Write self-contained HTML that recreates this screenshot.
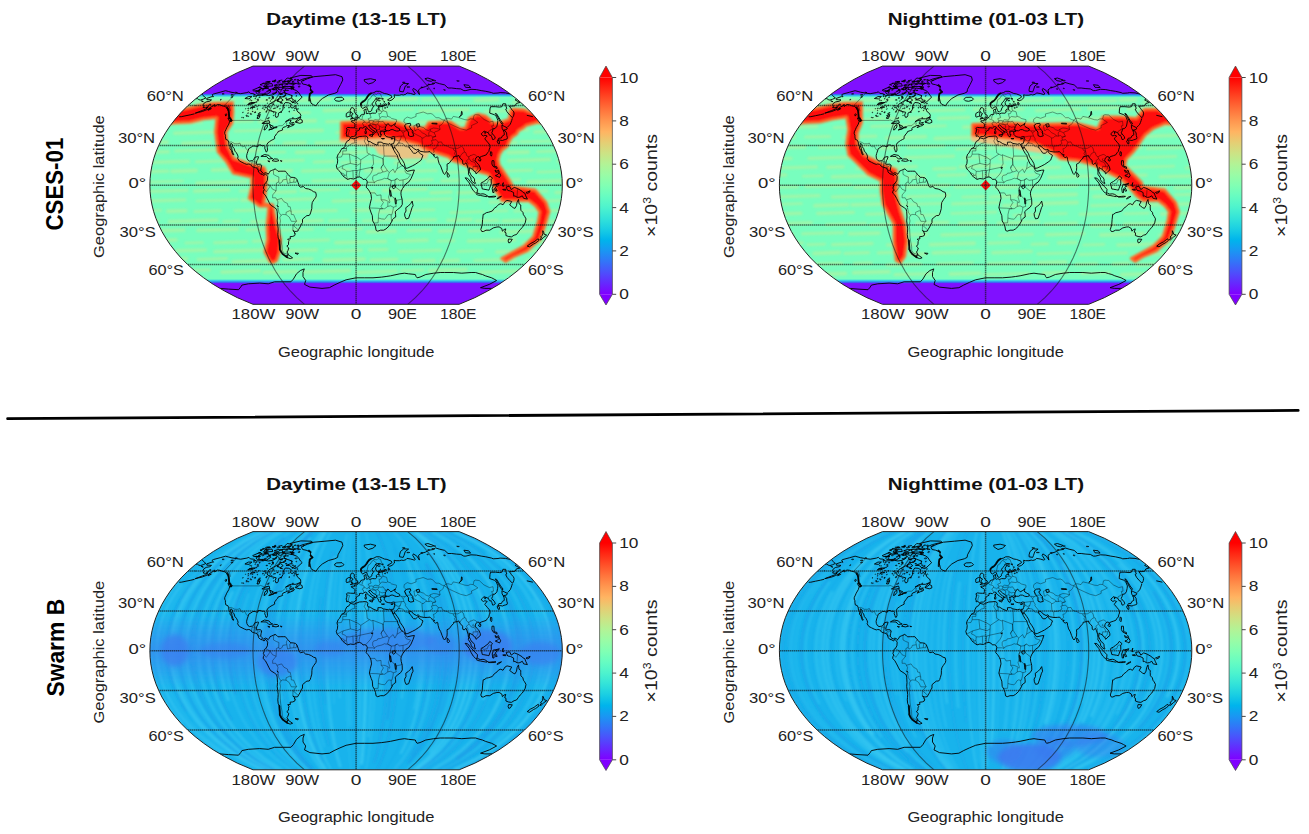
<!DOCTYPE html>
<html><head><meta charset="utf-8"><style>
html,body{margin:0;padding:0;background:#fff;overflow:hidden;width:1309px;height:834px;}
svg{display:block;font-family:"Liberation Sans", sans-serif;}
</style></head><body>
<svg width="1309" height="834" viewBox="0 0 1309 834">
<defs><filter id="bl3" x="-10%" y="-10%" width="120%" height="120%"><feGaussianBlur stdDeviation="2.5"/></filter><filter id="bl15" x="-10%" y="-10%" width="120%" height="120%"><feGaussianBlur stdDeviation="1.3"/></filter><filter id="bl2"><feGaussianBlur stdDeviation="1.5"/></filter><filter id="bl1" x="-5%" y="-5%" width="110%" height="110%"><feGaussianBlur stdDeviation="0.9"/></filter><linearGradient id="capg" gradientUnits="userSpaceOnUse" x1="0" y1="60" x2="0" y2="315"><stop offset="0.0000" stop-color="#8010ff"/><stop offset="0.1306" stop-color="#8010ff"/><stop offset="0.1357" stop-color="#2e7cf0"/><stop offset="0.1412" stop-color="#3cd4e6"/><stop offset="0.1467" stop-color="#78febe"/><stop offset="0.8588" stop-color="#78febe"/><stop offset="0.8643" stop-color="#3cd4e6"/><stop offset="0.8714" stop-color="#2e7cf0"/><stop offset="0.8769" stop-color="#8010ff"/><stop offset="1.0000" stop-color="#8010ff"/></linearGradient><linearGradient id="eqband" x1="0" y1="0" x2="0" y2="1"><stop offset="0" stop-color="#3a86f0" stop-opacity="0"/><stop offset="0.3" stop-color="#3a86f0" stop-opacity="0.45"/><stop offset="0.5" stop-color="#3a86f0" stop-opacity="0.7"/><stop offset="0.7" stop-color="#3a86f0" stop-opacity="0.45"/><stop offset="1" stop-color="#3a86f0" stop-opacity="0"/></linearGradient></defs>
<g transform="translate(0 0)">
<text x="356.4" y="24.7" font-size="16.6" text-anchor="middle" textLength="180.3" lengthAdjust="spacingAndGlyphs" font-weight="bold" fill="#111">Daytime (13-15 LT)</text>
<text x="253.4" y="61.4" font-size="14.2" text-anchor="middle" textLength="43.7" lengthAdjust="spacingAndGlyphs" fill="#222">180W</text>
<text x="253.4" y="319" font-size="14.2" text-anchor="middle" textLength="43.7" lengthAdjust="spacingAndGlyphs" fill="#222">180W</text>
<text x="302.2" y="61.4" font-size="14.2" text-anchor="middle" textLength="34" lengthAdjust="spacingAndGlyphs" fill="#222">90W</text>
<text x="302.2" y="319" font-size="14.2" text-anchor="middle" textLength="34" lengthAdjust="spacingAndGlyphs" fill="#222">90W</text>
<text x="356" y="61.4" font-size="14.2" text-anchor="middle" textLength="10.6" lengthAdjust="spacingAndGlyphs" fill="#222">0</text>
<text x="356" y="319" font-size="14.2" text-anchor="middle" textLength="10.6" lengthAdjust="spacingAndGlyphs" fill="#222">0</text>
<text x="402.4" y="61.4" font-size="14.2" text-anchor="middle" textLength="29" lengthAdjust="spacingAndGlyphs" fill="#222">90E</text>
<text x="402.4" y="319" font-size="14.2" text-anchor="middle" textLength="29" lengthAdjust="spacingAndGlyphs" fill="#222">90E</text>
<text x="458.3" y="61.4" font-size="14.2" text-anchor="middle" textLength="36.4" lengthAdjust="spacingAndGlyphs" fill="#222">180E</text>
<text x="458.3" y="319" font-size="14.2" text-anchor="middle" textLength="36.4" lengthAdjust="spacingAndGlyphs" fill="#222">180E</text>
<text x="146.7" y="101" font-size="14.2" textLength="37.2" lengthAdjust="spacingAndGlyphs" fill="#222">60°N</text>
<text x="528" y="101" font-size="14.2" textLength="37.2" lengthAdjust="spacingAndGlyphs" fill="#222">60°N</text>
<text x="117.9" y="142.6" font-size="14.2" textLength="37.2" lengthAdjust="spacingAndGlyphs" fill="#222">30°N</text>
<text x="557.5" y="142.6" font-size="14.2" textLength="37.2" lengthAdjust="spacingAndGlyphs" fill="#222">30°N</text>
<text x="128.5" y="188" font-size="14.2" textLength="17.7" lengthAdjust="spacingAndGlyphs" fill="#222">0°</text>
<text x="565.7" y="188" font-size="14.2" textLength="17.7" lengthAdjust="spacingAndGlyphs" fill="#222">0°</text>
<text x="119.6" y="237" font-size="14.2" textLength="36.2" lengthAdjust="spacingAndGlyphs" fill="#222">30°S</text>
<text x="557.5" y="237" font-size="14.2" textLength="36.2" lengthAdjust="spacingAndGlyphs" fill="#222">30°S</text>
<text x="148.4" y="275.3" font-size="14.2" textLength="35.5" lengthAdjust="spacingAndGlyphs" fill="#222">60°S</text>
<text x="528" y="275.3" font-size="14.2" textLength="35.5" lengthAdjust="spacingAndGlyphs" fill="#222">60°S</text>
<text x="104.3" y="186.6" font-size="13.8" text-anchor="middle" textLength="142.7" lengthAdjust="spacingAndGlyphs" transform="rotate(-90 104.3 186.6)" fill="#222">Geographic latitude</text>
<text x="356.2" y="356.8" font-size="13.8" text-anchor="middle" textLength="156.4" lengthAdjust="spacingAndGlyphs" fill="#222">Geographic longitude</text>
<clipPath id="c1"><path d="M253 304.3 L237.4 297.7 L224.5 291 L213.3 284.4 L203.7 277.8 L195.2 271.2 L187.7 264.6 L181.1 258 L175.3 251.3 L170.2 244.7 L165.8 238.1 L161.9 231.5 L158.7 224.9 L155.9 218.3 L153.7 211.7 L152 205 L150.8 198.4 L150.1 191.8 L149.9 185.2 L150.1 178.6 L150.8 172 L152 165.4 L153.7 158.7 L155.9 152.1 L158.7 145.5 L161.9 138.9 L165.8 132.3 L170.2 125.7 L175.3 119.1 L181.1 112.4 L187.7 105.8 L195.2 99.2 L203.7 92.6 L213.3 86 L224.5 79.4 L237.4 72.7 L253 66.1 L459.2 66.1 L474.8 72.7 L487.7 79.4 L498.9 86 L508.5 92.6 L517 99.2 L524.5 105.8 L531.1 112.4 L536.9 119.1 L542 125.7 L546.4 132.3 L550.3 138.9 L553.5 145.5 L556.3 152.1 L558.5 158.7 L560.2 165.4 L561.4 172 L562.1 178.6 L562.3 185.2 L562.1 191.8 L561.4 198.4 L560.2 205 L558.5 211.7 L556.3 218.3 L553.5 224.9 L550.3 231.5 L546.4 238.1 L542 244.7 L536.9 251.3 L531.1 258 L524.5 264.6 L517 271.2 L508.5 277.8 L498.9 284.4 L487.7 291 L474.8 297.7 L459.2 304.3Z"/></clipPath>
<g clip-path="url(#c1)">
<rect x="140" y="60" width="440" height="255" fill="url(#capg)"/>
<g filter="url(#bl15)" opacity="0.6">
<path d="M140.0 101.6 L176.8 100.5" stroke="#b8f29c" stroke-width="3.7" stroke-linecap="round"/>
<path d="M194.0 102.0 L234.9 100.8" stroke="#b8f29c" stroke-width="2.5" stroke-linecap="round"/>
<path d="M245.4 101.4 L293.4 99.9" stroke="#b8f29c" stroke-width="3.9" stroke-linecap="round"/>
<path d="M299.0 100.4 L330.4 99.4" stroke="#b8f29c" stroke-width="3.3" stroke-linecap="round"/>
<path d="M342.5 100.3 L357.9 99.9" stroke="#b8f29c" stroke-width="2.9" stroke-linecap="round"/>
<path d="M374.8 100.2 L416.6 98.9" stroke="#b8f29c" stroke-width="3.7" stroke-linecap="round"/>
<path d="M422.5 100.1 L459.1 99.0" stroke="#b8f29c" stroke-width="2.5" stroke-linecap="round"/>
<path d="M475.3 100.3 L497.6 99.6" stroke="#b8f29c" stroke-width="4.0" stroke-linecap="round"/>
<path d="M513.9 102.1 L539.0 101.4" stroke="#b8f29c" stroke-width="3.3" stroke-linecap="round"/>
<path d="M552.5 102.1 L574.6 101.4" stroke="#b8f29c" stroke-width="3.5" stroke-linecap="round"/>
<path d="M140.0 111.4 L165.5 110.6" stroke="#b8f29c" stroke-width="2.7" stroke-linecap="round"/>
<path d="M171.5 111.3 L188.8 110.7" stroke="#b8f29c" stroke-width="3.4" stroke-linecap="round"/>
<path d="M192.8 111.3 L231.6 110.2" stroke="#b8f29c" stroke-width="3.0" stroke-linecap="round"/>
<path d="M247.0 111.3 L278.8 110.3" stroke="#b8f29c" stroke-width="3.2" stroke-linecap="round"/>
<path d="M292.7 112.9 L309.7 112.4" stroke="#b8f29c" stroke-width="2.5" stroke-linecap="round"/>
<path d="M324.2 110.6 L368.8 109.2" stroke="#b8f29c" stroke-width="3.7" stroke-linecap="round"/>
<path d="M377.9 110.6 L413.1 109.5" stroke="#b8f29c" stroke-width="2.6" stroke-linecap="round"/>
<path d="M419.7 111.0 L468.1 109.6" stroke="#b8f29c" stroke-width="3.6" stroke-linecap="round"/>
<path d="M485.1 111.4 L533.1 109.9" stroke="#b8f29c" stroke-width="3.0" stroke-linecap="round"/>
<path d="M544.4 110.8 L586.6 109.5" stroke="#b8f29c" stroke-width="3.6" stroke-linecap="round"/>
<path d="M140.0 123.5 L156.3 123.0" stroke="#b8f29c" stroke-width="2.6" stroke-linecap="round"/>
<path d="M165.1 123.4 L201.4 122.3" stroke="#b8f29c" stroke-width="3.0" stroke-linecap="round"/>
<path d="M218.4 121.9 L252.5 120.9" stroke="#b8f29c" stroke-width="3.0" stroke-linecap="round"/>
<path d="M258.9 121.5 L276.7 121.0" stroke="#b8f29c" stroke-width="3.5" stroke-linecap="round"/>
<path d="M294.6 121.3 L315.3 120.7" stroke="#b8f29c" stroke-width="4.0" stroke-linecap="round"/>
<path d="M326.7 121.8 L356.0 120.9" stroke="#b8f29c" stroke-width="3.4" stroke-linecap="round"/>
<path d="M371.5 122.2 L402.5 121.3" stroke="#b8f29c" stroke-width="2.6" stroke-linecap="round"/>
<path d="M419.3 122.4 L435.4 121.9" stroke="#b8f29c" stroke-width="3.8" stroke-linecap="round"/>
<path d="M441.3 123.5 L481.9 122.2" stroke="#b8f29c" stroke-width="3.4" stroke-linecap="round"/>
<path d="M496.9 122.2 L515.6 121.7" stroke="#b8f29c" stroke-width="2.7" stroke-linecap="round"/>
<path d="M531.5 122.3 L556.8 121.5" stroke="#b8f29c" stroke-width="4.0" stroke-linecap="round"/>
<path d="M572.7 122.3 L621.9 120.8" stroke="#b8f29c" stroke-width="3.2" stroke-linecap="round"/>
<path d="M140.0 131.9 L165.2 131.1" stroke="#b8f29c" stroke-width="2.7" stroke-linecap="round"/>
<path d="M174.5 133.2 L224.1 131.7" stroke="#b8f29c" stroke-width="3.4" stroke-linecap="round"/>
<path d="M235.0 131.1 L261.9 130.3" stroke="#b8f29c" stroke-width="2.9" stroke-linecap="round"/>
<path d="M276.8 131.7 L322.2 130.4" stroke="#b8f29c" stroke-width="3.7" stroke-linecap="round"/>
<path d="M337.1 132.5 L376.4 131.3" stroke="#b8f29c" stroke-width="3.6" stroke-linecap="round"/>
<path d="M385.4 131.6 L425.1 130.4" stroke="#b8f29c" stroke-width="3.2" stroke-linecap="round"/>
<path d="M439.9 131.6 L479.1 130.4" stroke="#b8f29c" stroke-width="3.9" stroke-linecap="round"/>
<path d="M492.2 130.9 L527.5 129.8" stroke="#b8f29c" stroke-width="3.3" stroke-linecap="round"/>
<path d="M535.0 132.0 L573.5 130.8" stroke="#b8f29c" stroke-width="3.7" stroke-linecap="round"/>
<path d="M140.0 142.9 L167.2 142.1" stroke="#b8f29c" stroke-width="3.6" stroke-linecap="round"/>
<path d="M182.8 143.4 L210.0 142.6" stroke="#b8f29c" stroke-width="3.8" stroke-linecap="round"/>
<path d="M223.7 143.7 L272.8 142.2" stroke="#b8f29c" stroke-width="3.3" stroke-linecap="round"/>
<path d="M284.2 143.4 L305.0 142.8" stroke="#b8f29c" stroke-width="3.9" stroke-linecap="round"/>
<path d="M315.7 143.1 L354.9 141.9" stroke="#b8f29c" stroke-width="3.6" stroke-linecap="round"/>
<path d="M361.3 142.8 L403.6 141.5" stroke="#b8f29c" stroke-width="3.5" stroke-linecap="round"/>
<path d="M413.5 143.2 L450.4 142.1" stroke="#b8f29c" stroke-width="3.5" stroke-linecap="round"/>
<path d="M464.5 141.8 L480.4 141.3" stroke="#b8f29c" stroke-width="3.2" stroke-linecap="round"/>
<path d="M493.5 143.0 L516.2 142.3" stroke="#b8f29c" stroke-width="3.4" stroke-linecap="round"/>
<path d="M520.8 141.9 L552.3 141.0" stroke="#b8f29c" stroke-width="2.6" stroke-linecap="round"/>
<path d="M558.2 141.8 L584.3 141.0" stroke="#b8f29c" stroke-width="2.8" stroke-linecap="round"/>
<path d="M140.0 152.5 L168.3 151.7" stroke="#b8f29c" stroke-width="3.4" stroke-linecap="round"/>
<path d="M175.6 151.0 L222.3 149.6" stroke="#b8f29c" stroke-width="3.1" stroke-linecap="round"/>
<path d="M230.2 151.3 L259.5 150.4" stroke="#b8f29c" stroke-width="3.7" stroke-linecap="round"/>
<path d="M268.7 152.5 L285.0 152.0" stroke="#b8f29c" stroke-width="2.6" stroke-linecap="round"/>
<path d="M296.6 152.4 L323.5 151.6" stroke="#b8f29c" stroke-width="3.9" stroke-linecap="round"/>
<path d="M339.0 153.0 L368.6 152.1" stroke="#b8f29c" stroke-width="3.5" stroke-linecap="round"/>
<path d="M377.8 152.5 L397.8 151.9" stroke="#b8f29c" stroke-width="3.3" stroke-linecap="round"/>
<path d="M415.2 152.5 L464.1 151.0" stroke="#b8f29c" stroke-width="3.0" stroke-linecap="round"/>
<path d="M480.6 151.3 L495.6 150.8" stroke="#b8f29c" stroke-width="3.3" stroke-linecap="round"/>
<path d="M508.2 152.5 L528.1 152.0" stroke="#b8f29c" stroke-width="3.8" stroke-linecap="round"/>
<path d="M537.4 151.6 L567.5 150.7" stroke="#b8f29c" stroke-width="2.9" stroke-linecap="round"/>
<path d="M140.0 162.7 L188.6 161.2" stroke="#b8f29c" stroke-width="3.4" stroke-linecap="round"/>
<path d="M196.3 161.7 L245.6 160.2" stroke="#b8f29c" stroke-width="3.1" stroke-linecap="round"/>
<path d="M254.1 161.7 L303.5 160.2" stroke="#b8f29c" stroke-width="2.9" stroke-linecap="round"/>
<path d="M314.2 162.0 L333.5 161.4" stroke="#b8f29c" stroke-width="3.2" stroke-linecap="round"/>
<path d="M341.6 162.5 L383.9 161.2" stroke="#b8f29c" stroke-width="2.5" stroke-linecap="round"/>
<path d="M395.4 162.7 L420.0 162.0" stroke="#b8f29c" stroke-width="3.7" stroke-linecap="round"/>
<path d="M427.4 160.9 L451.8 160.1" stroke="#b8f29c" stroke-width="4.0" stroke-linecap="round"/>
<path d="M459.9 161.6 L496.2 160.5" stroke="#b8f29c" stroke-width="3.5" stroke-linecap="round"/>
<path d="M508.6 160.8 L549.6 159.5" stroke="#b8f29c" stroke-width="3.6" stroke-linecap="round"/>
<path d="M557.9 161.3 L591.5 160.3" stroke="#b8f29c" stroke-width="2.9" stroke-linecap="round"/>
<path d="M140.0 171.9 L167.6 171.1" stroke="#b8f29c" stroke-width="3.4" stroke-linecap="round"/>
<path d="M172.1 171.2 L196.0 170.5" stroke="#b8f29c" stroke-width="3.9" stroke-linecap="round"/>
<path d="M212.4 170.2 L246.5 169.2" stroke="#b8f29c" stroke-width="3.7" stroke-linecap="round"/>
<path d="M256.5 171.8 L291.6 170.8" stroke="#b8f29c" stroke-width="3.4" stroke-linecap="round"/>
<path d="M302.4 171.1 L349.3 169.7" stroke="#b8f29c" stroke-width="3.1" stroke-linecap="round"/>
<path d="M365.2 170.9 L387.1 170.2" stroke="#b8f29c" stroke-width="3.7" stroke-linecap="round"/>
<path d="M392.0 171.8 L436.3 170.5" stroke="#b8f29c" stroke-width="3.1" stroke-linecap="round"/>
<path d="M444.3 172.3 L486.6 171.1" stroke="#b8f29c" stroke-width="2.7" stroke-linecap="round"/>
<path d="M497.3 171.3 L531.5 170.3" stroke="#b8f29c" stroke-width="3.0" stroke-linecap="round"/>
<path d="M537.7 172.1 L573.2 171.0" stroke="#b8f29c" stroke-width="2.6" stroke-linecap="round"/>
<path d="M140.0 182.3 L182.7 181.0" stroke="#b8f29c" stroke-width="2.5" stroke-linecap="round"/>
<path d="M196.8 183.1 L246.1 181.6" stroke="#b8f29c" stroke-width="3.6" stroke-linecap="round"/>
<path d="M250.8 181.2 L295.2 179.9" stroke="#b8f29c" stroke-width="3.5" stroke-linecap="round"/>
<path d="M312.6 181.0 L352.5 179.8" stroke="#b8f29c" stroke-width="2.9" stroke-linecap="round"/>
<path d="M369.4 182.2 L389.6 181.6" stroke="#b8f29c" stroke-width="3.1" stroke-linecap="round"/>
<path d="M395.9 180.8 L432.6 179.7" stroke="#b8f29c" stroke-width="2.7" stroke-linecap="round"/>
<path d="M441.9 180.8 L459.5 180.3" stroke="#b8f29c" stroke-width="3.4" stroke-linecap="round"/>
<path d="M473.9 181.0 L519.6 179.6" stroke="#b8f29c" stroke-width="3.1" stroke-linecap="round"/>
<path d="M528.0 181.9 L564.0 180.8" stroke="#b8f29c" stroke-width="3.9" stroke-linecap="round"/>
<path d="M573.3 182.4 L590.2 181.9" stroke="#b8f29c" stroke-width="2.7" stroke-linecap="round"/>
<path d="M140.0 191.8 L186.9 190.4" stroke="#b8f29c" stroke-width="3.4" stroke-linecap="round"/>
<path d="M194.6 191.1 L228.9 190.0" stroke="#b8f29c" stroke-width="3.6" stroke-linecap="round"/>
<path d="M240.1 191.0 L259.8 190.4" stroke="#b8f29c" stroke-width="3.1" stroke-linecap="round"/>
<path d="M274.1 192.2 L295.4 191.5" stroke="#b8f29c" stroke-width="3.5" stroke-linecap="round"/>
<path d="M300.6 190.7 L338.9 189.5" stroke="#b8f29c" stroke-width="2.7" stroke-linecap="round"/>
<path d="M351.3 192.6 L374.6 191.9" stroke="#b8f29c" stroke-width="3.2" stroke-linecap="round"/>
<path d="M383.1 190.5 L426.0 189.2" stroke="#b8f29c" stroke-width="3.6" stroke-linecap="round"/>
<path d="M430.8 192.7 L451.0 192.1" stroke="#b8f29c" stroke-width="3.5" stroke-linecap="round"/>
<path d="M458.2 192.8 L477.2 192.2" stroke="#b8f29c" stroke-width="3.5" stroke-linecap="round"/>
<path d="M492.7 192.0 L512.6 191.4" stroke="#b8f29c" stroke-width="3.0" stroke-linecap="round"/>
<path d="M519.9 191.9 L546.6 191.1" stroke="#b8f29c" stroke-width="3.0" stroke-linecap="round"/>
<path d="M556.0 192.5 L575.7 191.9" stroke="#b8f29c" stroke-width="3.5" stroke-linecap="round"/>
<path d="M140.0 201.3 L184.8 199.9" stroke="#b8f29c" stroke-width="3.4" stroke-linecap="round"/>
<path d="M196.8 201.0 L237.7 199.8" stroke="#b8f29c" stroke-width="2.6" stroke-linecap="round"/>
<path d="M242.2 200.1 L264.3 199.5" stroke="#b8f29c" stroke-width="3.8" stroke-linecap="round"/>
<path d="M275.0 200.0 L316.6 198.8" stroke="#b8f29c" stroke-width="3.2" stroke-linecap="round"/>
<path d="M333.1 201.1 L369.8 200.0" stroke="#b8f29c" stroke-width="3.2" stroke-linecap="round"/>
<path d="M375.2 200.4 L395.6 199.8" stroke="#b8f29c" stroke-width="3.1" stroke-linecap="round"/>
<path d="M405.0 200.4 L450.8 199.0" stroke="#b8f29c" stroke-width="2.9" stroke-linecap="round"/>
<path d="M458.7 200.7 L479.3 200.1" stroke="#b8f29c" stroke-width="2.9" stroke-linecap="round"/>
<path d="M490.1 202.3 L506.2 201.8" stroke="#b8f29c" stroke-width="3.1" stroke-linecap="round"/>
<path d="M523.3 201.7 L562.4 200.5" stroke="#b8f29c" stroke-width="3.2" stroke-linecap="round"/>
<path d="M579.6 201.7 L598.8 201.1" stroke="#b8f29c" stroke-width="2.9" stroke-linecap="round"/>
<path d="M140.0 210.9 L160.7 210.2" stroke="#b8f29c" stroke-width="2.5" stroke-linecap="round"/>
<path d="M167.9 211.3 L185.7 210.8" stroke="#b8f29c" stroke-width="4.0" stroke-linecap="round"/>
<path d="M194.8 211.5 L220.7 210.7" stroke="#b8f29c" stroke-width="2.9" stroke-linecap="round"/>
<path d="M234.9 210.8 L275.1 209.6" stroke="#b8f29c" stroke-width="2.9" stroke-linecap="round"/>
<path d="M288.5 211.9 L336.4 210.5" stroke="#b8f29c" stroke-width="3.1" stroke-linecap="round"/>
<path d="M354.1 210.5 L369.3 210.1" stroke="#b8f29c" stroke-width="3.7" stroke-linecap="round"/>
<path d="M379.0 211.7 L395.6 211.2" stroke="#b8f29c" stroke-width="4.0" stroke-linecap="round"/>
<path d="M406.9 210.6 L434.1 209.8" stroke="#b8f29c" stroke-width="2.6" stroke-linecap="round"/>
<path d="M450.7 212.6 L482.9 211.6" stroke="#b8f29c" stroke-width="2.6" stroke-linecap="round"/>
<path d="M490.3 211.3 L507.1 210.8" stroke="#b8f29c" stroke-width="2.6" stroke-linecap="round"/>
<path d="M514.6 211.1 L543.9 210.2" stroke="#b8f29c" stroke-width="2.6" stroke-linecap="round"/>
<path d="M548.4 210.8 L597.4 209.3" stroke="#b8f29c" stroke-width="3.3" stroke-linecap="round"/>
<path d="M140.0 221.0 L158.0 220.4" stroke="#b8f29c" stroke-width="2.7" stroke-linecap="round"/>
<path d="M169.5 221.6 L216.8 220.2" stroke="#b8f29c" stroke-width="3.8" stroke-linecap="round"/>
<path d="M223.8 221.5 L239.4 221.0" stroke="#b8f29c" stroke-width="3.2" stroke-linecap="round"/>
<path d="M251.4 221.7 L279.6 220.9" stroke="#b8f29c" stroke-width="3.6" stroke-linecap="round"/>
<path d="M296.4 221.3 L322.1 220.5" stroke="#b8f29c" stroke-width="3.7" stroke-linecap="round"/>
<path d="M329.3 220.9 L348.3 220.4" stroke="#b8f29c" stroke-width="2.6" stroke-linecap="round"/>
<path d="M363.1 220.9 L406.8 219.6" stroke="#b8f29c" stroke-width="2.7" stroke-linecap="round"/>
<path d="M412.0 220.4 L435.5 219.7" stroke="#b8f29c" stroke-width="3.1" stroke-linecap="round"/>
<path d="M447.6 220.3 L471.2 219.6" stroke="#b8f29c" stroke-width="3.6" stroke-linecap="round"/>
<path d="M475.9 220.9 L497.9 220.2" stroke="#b8f29c" stroke-width="3.1" stroke-linecap="round"/>
<path d="M503.2 221.0 L533.0 220.1" stroke="#b8f29c" stroke-width="3.6" stroke-linecap="round"/>
<path d="M544.7 221.8 L591.1 220.4" stroke="#b8f29c" stroke-width="3.6" stroke-linecap="round"/>
<path d="M140.0 231.4 L183.6 230.1" stroke="#b8f29c" stroke-width="3.9" stroke-linecap="round"/>
<path d="M197.8 230.4 L237.3 229.3" stroke="#b8f29c" stroke-width="3.7" stroke-linecap="round"/>
<path d="M246.7 230.0 L266.2 229.4" stroke="#b8f29c" stroke-width="2.8" stroke-linecap="round"/>
<path d="M273.9 230.5 L312.6 229.3" stroke="#b8f29c" stroke-width="2.6" stroke-linecap="round"/>
<path d="M327.3 229.9 L361.8 228.8" stroke="#b8f29c" stroke-width="2.6" stroke-linecap="round"/>
<path d="M367.6 231.9 L395.1 231.0" stroke="#b8f29c" stroke-width="3.9" stroke-linecap="round"/>
<path d="M407.7 230.8 L430.7 230.1" stroke="#b8f29c" stroke-width="3.0" stroke-linecap="round"/>
<path d="M439.4 231.2 L454.8 230.7" stroke="#b8f29c" stroke-width="3.7" stroke-linecap="round"/>
<path d="M469.0 231.1 L487.3 230.5" stroke="#b8f29c" stroke-width="2.8" stroke-linecap="round"/>
<path d="M501.2 232.1 L531.9 231.1" stroke="#b8f29c" stroke-width="3.7" stroke-linecap="round"/>
<path d="M537.5 232.0 L563.6 231.2" stroke="#b8f29c" stroke-width="3.2" stroke-linecap="round"/>
<path d="M573.7 231.6 L604.1 230.7" stroke="#b8f29c" stroke-width="3.9" stroke-linecap="round"/>
<path d="M140.0 241.0 L175.9 239.9" stroke="#b8f29c" stroke-width="3.7" stroke-linecap="round"/>
<path d="M185.7 243.1 L202.6 242.6" stroke="#b8f29c" stroke-width="2.5" stroke-linecap="round"/>
<path d="M214.6 242.8 L246.5 241.9" stroke="#b8f29c" stroke-width="3.1" stroke-linecap="round"/>
<path d="M253.5 241.2 L278.2 240.5" stroke="#b8f29c" stroke-width="3.3" stroke-linecap="round"/>
<path d="M287.2 241.3 L328.5 240.1" stroke="#b8f29c" stroke-width="3.0" stroke-linecap="round"/>
<path d="M336.0 242.7 L385.4 241.3" stroke="#b8f29c" stroke-width="3.8" stroke-linecap="round"/>
<path d="M398.0 241.1 L427.1 240.2" stroke="#b8f29c" stroke-width="3.7" stroke-linecap="round"/>
<path d="M437.9 241.1 L454.2 240.6" stroke="#b8f29c" stroke-width="2.6" stroke-linecap="round"/>
<path d="M468.3 241.2 L514.8 239.8" stroke="#b8f29c" stroke-width="3.7" stroke-linecap="round"/>
<path d="M523.3 242.8 L562.2 241.6" stroke="#b8f29c" stroke-width="3.4" stroke-linecap="round"/>
<path d="M577.4 240.8 L605.6 239.9" stroke="#b8f29c" stroke-width="3.3" stroke-linecap="round"/>
<path d="M140.0 250.5 L168.6 249.6" stroke="#b8f29c" stroke-width="2.5" stroke-linecap="round"/>
<path d="M177.0 250.8 L205.4 250.0" stroke="#b8f29c" stroke-width="3.6" stroke-linecap="round"/>
<path d="M215.0 251.6 L264.4 250.2" stroke="#b8f29c" stroke-width="3.9" stroke-linecap="round"/>
<path d="M278.1 251.0 L316.5 249.8" stroke="#b8f29c" stroke-width="3.7" stroke-linecap="round"/>
<path d="M325.6 251.3 L361.4 250.2" stroke="#b8f29c" stroke-width="3.3" stroke-linecap="round"/>
<path d="M369.3 249.9 L387.1 249.4" stroke="#b8f29c" stroke-width="3.0" stroke-linecap="round"/>
<path d="M399.2 251.4 L440.8 250.2" stroke="#b8f29c" stroke-width="3.0" stroke-linecap="round"/>
<path d="M457.8 251.4 L482.4 250.7" stroke="#b8f29c" stroke-width="2.6" stroke-linecap="round"/>
<path d="M496.9 252.0 L535.4 250.8" stroke="#b8f29c" stroke-width="3.8" stroke-linecap="round"/>
<path d="M549.0 251.5 L593.4 250.1" stroke="#b8f29c" stroke-width="3.4" stroke-linecap="round"/>
<path d="M140.0 260.1 L186.4 258.7" stroke="#b8f29c" stroke-width="4.0" stroke-linecap="round"/>
<path d="M198.0 259.5 L226.7 258.6" stroke="#b8f29c" stroke-width="3.1" stroke-linecap="round"/>
<path d="M233.2 261.6 L271.1 260.5" stroke="#b8f29c" stroke-width="3.9" stroke-linecap="round"/>
<path d="M283.7 259.7 L312.2 258.9" stroke="#b8f29c" stroke-width="3.5" stroke-linecap="round"/>
<path d="M324.0 260.4 L364.0 259.2" stroke="#b8f29c" stroke-width="3.8" stroke-linecap="round"/>
<path d="M371.0 260.1 L396.7 259.4" stroke="#b8f29c" stroke-width="3.4" stroke-linecap="round"/>
<path d="M413.2 261.0 L434.1 260.4" stroke="#b8f29c" stroke-width="3.6" stroke-linecap="round"/>
<path d="M441.2 260.8 L458.4 260.3" stroke="#b8f29c" stroke-width="3.7" stroke-linecap="round"/>
<path d="M474.7 260.5 L515.2 259.3" stroke="#b8f29c" stroke-width="3.1" stroke-linecap="round"/>
<path d="M526.6 260.2 L573.3 258.8" stroke="#b8f29c" stroke-width="2.9" stroke-linecap="round"/>
<path d="M140.0 270.5 L161.6 269.8" stroke="#b8f29c" stroke-width="2.7" stroke-linecap="round"/>
<path d="M173.4 270.8 L209.5 269.8" stroke="#b8f29c" stroke-width="2.8" stroke-linecap="round"/>
<path d="M221.9 272.1 L259.5 270.9" stroke="#b8f29c" stroke-width="3.6" stroke-linecap="round"/>
<path d="M264.4 272.4 L296.3 271.4" stroke="#b8f29c" stroke-width="3.9" stroke-linecap="round"/>
<path d="M304.8 271.9 L349.5 270.6" stroke="#b8f29c" stroke-width="3.9" stroke-linecap="round"/>
<path d="M356.7 272.4 L396.1 271.2" stroke="#b8f29c" stroke-width="3.2" stroke-linecap="round"/>
<path d="M401.5 270.8 L423.3 270.1" stroke="#b8f29c" stroke-width="2.6" stroke-linecap="round"/>
<path d="M429.4 270.6 L466.0 269.6" stroke="#b8f29c" stroke-width="3.6" stroke-linecap="round"/>
<path d="M480.3 272.3 L523.9 271.0" stroke="#b8f29c" stroke-width="3.6" stroke-linecap="round"/>
<path d="M540.8 271.9 L589.3 270.4" stroke="#b8f29c" stroke-width="3.9" stroke-linecap="round"/>
</g>
<g filter="url(#bl1)">
<path d="M341 137 L385 137.5 L418 143 L428 150 L426 157 L398 157.5 L380 153 L375 146 L341 141Z" fill="#f4be80" stroke="#f4be80" stroke-width="3" stroke-linejoin="round" opacity="0.9"/>
<path d="M160 112 L186 108.5 L199.6 105.2 L212.8 103.2 L232.5 102.5 L233 112 L232 123 L226 132.2 L227.3 145.4 L233.8 158.6 L249.7 163.9 L264.2 167.8 L266.2 173.2 L266.2 186.4 L264.9 197 L263.5 203.5 L272.8 204.9 L274.1 212.8 L276.7 226 L280.7 239.2 L279.4 252.3 L276.7 260.3 L272.8 262.9 L270.1 261.6 L264.9 252.3 L267.5 239.2 L266.8 226 L268.2 212.8 L268.8 206 L259.6 206.2 L249 198.3 L251.7 186.4 L251.7 177.2 L233.2 173.2 L226 161.2 L218 152 L215.4 132.2 L216.7 117.7 L203.5 119 L190.3 122.3 L173.2 123 L160 126Z" fill="#ff1010" stroke="#ff6a2a" stroke-width="2.6" stroke-linejoin="round"/>
<path d="M341.4 122.5 L360 121.6 L385 121.8 L397.6 122.6 L410.2 126.8 L425.3 127.7 L428.7 122.6 L438.7 121.8 L450.5 121.8 L460.6 128.5 L465.6 127.7 L469 118.4 L477.8 114.1 L485.6 116 L490.3 120 L491.8 122.3 L497.3 123.1 L502.7 121.5 L509 119.2 L510.5 110.6 L513.7 109 L524.6 109.8 L529.3 112.1 L537.1 114 L550 118 L550 124 L537.8 122.3 L526.1 125.4 L523.8 127.7 L518.3 130.9 L516.8 134 L512.1 137.1 L509 141.8 L507.4 146.4 L502.7 149.6 L499.6 154.2 L498.1 160 L499.2 164.9 L508.6 179 L513.2 186.8 L535.1 189.9 L546 202.4 L549.1 211.7 L544.4 227.3 L539.7 239.8 L527.3 250.7 L513.2 256.9 L505.5 261.6 L501.6 258.5 L507 255.4 L524.2 246 L533.5 236.6 L538.2 221.1 L539.7 211.7 L535.1 205.5 L528.8 200.8 L513.2 200.8 L502.3 200.8 L496.1 191.4 L491.4 179 L488.3 174.3 L477.4 171.2 L469 167.1 L462.2 163.8 L452.2 160.4 L448.8 157 L438.7 153.7 L427 150.3 L418.6 144.5 L401.8 140.3 L385 136.9 L360 138.5 L341.4 138.5Z" fill="#ff1010" stroke="#ff6a2a" stroke-width="2.6" stroke-linejoin="round"/>
</g>
<path d="M356.2 180 L361.4 185.2 L356.2 190.5 L351 185.2Z" fill="#ff1010"/>
<path d="M236.1 93.1 224.5 105.4 226.1 105.8 226.9 107.1 229.1 106.1 229.6 107.9 230.5 111.2M231.8 120.4 245 120.4 259.9 120.4 260.3 119.8 265 121.7 269.5 123.7 271 125.3 269.6 129.6 273.7 128.4 276.8 126.7 279 125.7 282.3 125.7 284.5 123.4 285.5 122.5 286.9 122.9 286.3 124.9 286.9 125.7M228.7 142.2 231.4 141.9 234.8 143.8 237.9 143.8 239.9 143.1 241.3 146 242.8 146.8 244.7 145.8 246.2 148.8 248.1 150.8M251.5 166 252 161.7 253.4 161.7 255.5 161.7 255.1 164.2M254.8 166.1 256.4 164.4 258.5 166.7 260.3 165.5 261.8 165.4M256.3 167.6 257.6 166.9 258.5 170.5 260.7 170.6M261.4 174.6 261.9 172.5M267.7 173.7 267.9 175.3M275 168.9 273.5 170.6 273.5 174.4 276.1 175.9 278.9 177 278.7 181.9 276.4 183 276.1 190.8 272.5 189.2 269.9 185.3 267.3 184.1 265.8 183.1M287.6 174 286.3 176.6 286.8 179.2 282.8 179.9 282.2 181.9 279.6 183.6 278.7 181.9M290.9 177.3 289.7 179.2 290.2 182.7 287.6 183.5 286.8 179.2M294.3 177.7 293.7 182.2 290.2 182.7M296.9 179.5 296 182.3 293.7 182.2M264.3 189.6 266.3 191.8 269.6 187.2 269.9 185.3M276.1 190.8 272.7 194.9 272.6 197.8 275.7 197.8 276.9 199.8 278 201.9 277.4 205.7 278.2 208.4 276.7 209.4M276.9 199.8 281.6 198.4 283.9 201.7 287.4 203.5 288.2 206.6 290.2 206.8 291.2 211.4 289.7 210.7 286.1 212.3 286 214.7 282.5 214.4 281 215.4 278.9 212.3 278.2 208.4M291.2 211.4 291.3 214.4 293.7 214.7 295.5 219.1 296.6 221.1 294.5 221.4 291.3 221.3 289.2 217 286 214.7M296.6 221.1 293 225.2 298.1 229.8M293 225.2 292.9 229 292.9 230.6M281 215.4 279.8 217.6 280.5 220.9 279.7 225.6 280.2 229.5 280.3 232.8 280.6 237.5 281.3 242.1 282.1 246.1 282.3 250.7 284.2 253.3 288.4 254.4M346.5 148.6 341.5 148.6 346.5 148.6 346.4 150.9 342.8 150.9 342.7 154.2 341.4 157 337 157.4M354.3 138.9 354.8 142.9 352.2 143.4 346.5 147.2 346.5 148.6M365.3 136.4 365.1 139.4 364.2 140.9 366.5 145.1 367.2 152.8 369.4 154.1 371.8 155.4 372.9 154.8 378 156.8 383.1 158.7 383.1 159.4 383.3 164.4 381.6 166.7 381.1 168.3 382.9 172 380.6 173 377.8 173.3 377.2 174.6 374.4 175.3 373.8 175.3 372.7 177 372.7 179.9 374.4 182.3 374.5 183 372.7 182.3 369 182.3 367.3 182.2M368.6 141.4 368.7 144.8 367.1 144.8 366.5 145.1M383.4 143.4 384.1 156.1 397.4 156.1M384.1 156.1 383.1 158.7 383.1 159.4M342.7 154.2 349.4 154.1 350.4 163.4 343.1 165.4 342.3 165.8 337.1 168.7M349.4 154.1 357.2 157.4 360.8 159.8 360.6 163.4 357.6 165.1 350.4 163.4M360.8 159.8 369.5 154.1M360.6 163.4 360.2 169.7 357.1 170.6 355.9 170.5 352.8 170.6 349.9 171.4 346.8 171.3 346.4 175 347.5 179.4M352.8 170.6 353 172.6 353.2 178.3M357.1 170.6 356.7 174.6 357.5 177.1M360.2 169.7 359.2 174 359.2 176.9M360.2 169.7 371.4 167.3 372 168.3 372.6 169.3 371.5 172 370.4 174 365.9 179M371.4 167.3 373.6 164 372.9 154.8M343.1 165.4 342 168.5 344.7 169.6 346.8 171.3M340.7 172.6 344.1 174 344.4 175.7 343 176.1M346.4 175 344.4 175.7M381.1 168.3 381.6 166.7 383.3 164.4M383.1 158.7 383.3 164.4 387.4 170.6 389.2 172.5 393.1 169.1 394.9 172.6 397 168.7 397.5 166.3 397.9 162.4 399.5 161.4M382.9 172 384.6 171.7 387.4 170.6M389.2 172.5 387.6 178.6 391.4 180.6 394.5 180.2 396.2 179.2 397.2 178.6M397 168.7 401.5 166 403.2 166M397.2 178.6 399.6 180.4 403 179.9 404.2 179.6 407.6 178.6 410.7 174.6 406.3 173.3 404.7 170.6M403 179.9 403.1 187.4 404 186.5M397.2 178.6 395 179.6 394.9 186.5 399 189.8 401 191.3M394.9 186.5 391 186.5 390 187.1 389.3 188.9 390.8 190.5 391.3 195.8 393.9 197.8 395.4 200.5 396.2 200.4 402.2 199.1M391.4 180.6 387.6 178.6 385.9 178.6 384.7 178.2 381.9 179.5 377.3 180.6 374.4 182.3M391.4 180.6 390 187.1M370.1 192.9 375 192.9 376.7 195.5 381 194.9 381.2 199.8 383.4 199.8 385.1 200 388 201.3 389.6 202.8 389.8 201.3 388.5 197.1 389.8 193.1 389.5 189.2 390 187.1M369.4 207.7 371.4 208 377 208.2 382.6 208.7 384.7 208.7 387.8 206.4 390.5 205.8 393.4 207.2 393 210.3 391.9 214.7 391.1 214.8 389 214.4 387.4 215.4 386 217.9 384.4 219.2 381.6 218.9 378.4 218 378.1 222.8 374.3 223M381.2 199.8 383.4 202.4 381 206.6 382.6 208.7M378.4 218 378.5 214.3 379.8 209 382.6 208.7M387.8 206.4 387.9 202M396.2 200.4 395.5 203.7 396.3 206.4 393.4 207.2M391.1 214.8 391.5 220.7 392.5 220.7M358 129 354.2 127.8M349.6 130.2 348.9 129.8 347.5 129.6 346.9 129.6M349.6 130.2 348.7 132.9 348.1 135.6M358.6 117.6 360.3 119.2 362.2 119.7 363.8 120.4 364.4 121.7 363.8 122.2 363 122.6 362.3 124.1 363.3 124.5 363.9 126.9M363.8 122.2 365.8 122.4 366.8 123.3 368.7 122.1 369.3 122.4 369.3 120.8 371.3 120.4 373.2 120.9 375 119.7 378.8 120.2 380.1 118 379.3 115.7 379.1 113.9 378.4 113.2M362.1 116.7 362.3 117.7 362.1 118.9M363 114.7 363 116.1 362.1 116.7M365.4 112.7 364.5 112.6M370 113.9 370.5 115.7 371.1 117.6 368.2 118.7 369.3 120.8M373.2 120.9 373.4 121.7 372.9 122.4 372.8 123.3 372.1 123.7 370.1 123.7 368.7 122.1M373.4 121.7 375.2 122 379 121.4 377.7 124.1 375.4 124.5 373 123.7M379 121.4 381 121.8 383.1 121.3 385.1 124.3 385 125 386.6 125.4M377.7 124.1 379.4 126.2 382.1 127.4 384.1 126.9 385.8 127.4M379.4 126.2 379.5 129.2 380.2 130.6 383.7 130 385.4 129.6M376.4 129.8 377.8 131 378.2 131.8 377.5 132.7M372 124.5 374.1 124.5 376.2 125.4 376.1 127.5 375.4 129M379.5 129.2 377.7 129.8 376.4 129.8M379.1 113.9 381 113.4 381.8 111.5 383.3 110.8 382.5 109.1 382.4 106.5M381.8 111.5 380.2 110.8 376.4 111M380.2 110.8 379.3 109.5M380.1 118 381.9 116.5 386.5 117.1 387.6 116.3 390.4 117.3 391.5 118.4 394.5 119.2 396.4 119.6 396.5 122 395.1 122.9M383.3 110.8 386.6 111.8 387.6 116.3M385.1 124.3 387 124.6M380.5 93.9 381.5 96.7 383.3 100.9 384.8 102 382 105.2M380.5 93.9 378.2 93 376.8 94.4 374.1 93.9 373.4 94.8 371.8 95.9 370.3 98.5 368.2 99.7 367.2 104.5 367.8 105.8 366.9 107.1M373.4 94.8 376.9 97.9 377.4 98.1M383.6 130 385.4 129.6M394.9 136.8 395.8 136.8 398.9 136.3 401.4 136.1 404 136 403.1 133.1 401.3 130.8 399.8 130.3M394.6 137.8 395.7 139.7 398.2 141 400.4 139.7 401.4 136.1M394.6 141.3 395 141.1 395.7 139.7M394.4 146.2 395.7 145.8 397.2 144.8 397.6 143.5 398.6 142.9 400.4 139.7M398.6 142.9 402.8 143.5 405.3 146.6 407.2 146.7 408.7 147.5 409.4 147.4M395.7 145.8 397.7 144.2 398.6 142.9 400.2 143M401.3 130.8 405.1 131 407.1 129.9 404.6 125.7M405.1 131 403.5 132.7 403.1 133.1M404 136 405 137.7 405.7 138.9 405.4 140.2 408.6 144.3 409.3 145.5M407.1 129.9 409.8 129.6 411.6 129.6M411 131.6 416.9 134.9 421 136.9 422 138.1 423.9 137.8 425.6 136 428.7 136.1 430.9 135.5 432.8 136.9 435.9 136.3 432.4 137.6 433 140.2 431.4 140.5 432.5 143.5 429.1 145.6 424.2 146.2 424.3 150.1 424.8 152.1M422 138.1 422 139.8 422.6 146.4 423.1 146.2M433 140.2 436.1 139.6 438.3 142.2 437.7 144.2 437.4 146.2 435 148.4 433.4 148.8 434.2 152.1 432.2 153.8M438.3 142.2 441.5 141.9 442.5 144.2 445 145.5 447.6 146.2 449.8 147.6 453.2 148.3 454.3 148.2 457.7 148.4 461.6 146.3 463.4 147.9 464.5 152.1 462 153.6 460.6 155.7 460.1 157.3M453.2 148.3 453.7 150.1 454.8 150.8 455.7 150.8M454.8 150.8 455.6 151.7 454.4 153.2 455.8 156.1 457.4 156.1M464.5 152.1 466 152.8 466.5 155.4 468.2 156.6 469.4 156.8M469.4 156.8 470 155.6 471.3 155.4 473.7 154.4 475.4 155 477.1 156.6M468.2 156.6 469.1 158.6 466.4 160.7 468 163.6 467.8 165.4 469.2 171.3M469.1 158.6 471.2 161.4 474.4 162.2 475.6 164 476.2 166.5 473.2 166.3 472.8 169.3M473.5 158.3 472.7 160.1 474.5 160.7 476.4 162.3M476.2 166.5 478 165.9 477.8 168.9 475.8 171.3 475.6 172M423.2 112 427.6 113.8 430.9 113.5 432.7 114.4 436 117.7 439 117.7 442.2 119.7 444.2 120.1 446.2 118.4 448.2 118.3 451.5 119.1 453.3 116.4 457.7 117.3 464.9 119.7 468.1 120 470.5 118.8 473.2 119.1 474 115.3 475.5 114.6 479.2 115 483.9 119.4 489.4 122.1 493 121.2 493.5 125.7 491.7 125.9 492.7 129.1M444.2 120.1 449.3 123.7 455.6 126.6 460.6 128.8 466.3 130.2 471.7 127.8 471.5 125.5 475.5 123.7 477.9 122.4 473.2 119.1M423.2 112 419.5 113 415.9 113.9 416.1 116.4 411.1 118.3 407.3 117.1 404.3 119.1 403.9 121.7 405.8 123.7 404.6 125.7M444.2 120.1 443 123 441.1 125 439.3 125.8 440.1 129.4 438.2 130.8 434.8 131.9 434.2 132.9 435.9 136.3M440.1 129.4 436.4 128.3 433.4 128 430.4 129.2 430.3 131 433.4 132.5 434.2 132.9M430.4 129.2 428.6 130.6 425.8 129.6 423.7 127.7 419.3 126.3 416.4 125 413.9 125.7 414.9 130.6 416 130.6 417.3 129 419 129.6 420.3 131 422.3 132.8 424.7 133.9 427.2 135.7M430.3 131 428.7 132.9 428.9 136.3M488.3 132.8 488.8 131 490.8 130.3 490.8 129.6 492.7 129.1M490.8 135.3 491.9 134.5 492.6 134.1M517.6 188.6 517 197.2M481.8 182.6 483.8 183.9 487.3 183.2 488.3 180.3 489.5 179.5 490.8 179.6" fill="none" stroke="#000" stroke-width="0.55" opacity="0.7" stroke-linejoin="round"/>
<path d="M206.7 98.4 212 96.6 213.5 96.7 212.1 94.8 213.5 94 220.2 92.2 225.6 90.7 228.6 91.5 231 92.2 236.1 93.1 240.7 93.7 246.9 92.6 248.9 91.8 250.4 93.4 253.5 93.7 256.2 95.5 261.7 95.2 263.9 94.6 268.4 95.5 272.8 94.8 276.5 92.6 277 90.2 278.7 91.9 279.7 94.2 283.6 92.7 286.3 93.3 284.7 96.6 280.2 97.2 277 99.9 273.7 101.5 269 104.4 267.1 107.4 267.6 109.5 271.2 111.1 276.2 112.3 275.1 115.1 275.9 117.3 277.5 117.1 278.3 115.7 278.5 113.1 281.7 111.4 283 109.1 283 107.1 283.6 104.9 285.3 102.5 288.7 102.8 291.3 104.2 290.5 107.1 292.1 108.1 294.6 106.5 295.9 105.4 296 107.8 297 110.5 297.9 112 300.1 113.5 300.9 115.7 299.8 117.2 295.9 118.8 291.4 118.8 289.3 119.2 285.5 121.7 289.5 120.2 291.2 120.6 289.9 122.4 289.9 123.9 292.9 124.6 294.5 124.1 293.2 125.4 290.9 126.2 287.6 127.7 289.6 125.3 286.9 125.7 285.6 126.6 283.1 127.5 282.3 128.8 282.7 129.9 280.9 130.6 278.1 131.5 277.6 132.9 276.4 133.9 275.3 135.9 274.5 136.4 274.7 138.6 272.9 139.6 271.1 140.5 269.7 141.5 267.8 142.9 266.9 144.8 267.3 147.5 267.5 150.1 266.7 151.9 265.9 151.7 265.5 150.1 264.7 148.2 265 146.8 264 145.5 262.2 145.9 260.8 145 259.1 145 258 145.2 257.9 146.6 256.6 146.6 255.1 146 252.9 146 250.9 147.4 248.8 148.6 248.1 150.8 247.2 153.4 246.6 155.8 246.9 158.1 247.8 159.9 249.5 161.1 252.4 160.6 253.7 159.7 254.7 157.4 257.5 156.6 258.6 156.8 257.7 159.4 256.9 160.7 256.2 163.8 257 164.3 260.4 164.2 261.7 165.4 261.1 168 260.7 170.6 262 172.2 263.6 173.6 265.4 172.6 267.1 173.3 268.2 174.1 269.4 172.6 270 171.2 271.8 170.4 273.6 169.6 275.1 168.9 276.4 169.7 278 171.3 280.9 171.2 283.2 171.2 285.4 171.2 286.5 172.6 287.6 174 288.7 175 290.7 177.3 293.2 177.4 295.5 177.9 296.9 179.5 298.2 182.8 298.8 184.5 299 185.9 300.5 187.2 303.4 186.5 305.5 188.5 308.6 189 311.4 190.2 313.5 191.7 315.7 192.3 316.3 195.1 315.9 197.1 313.9 199.8 312.3 202.4 311.9 205 311.8 208.6 310.8 212.1 310.2 214 309.2 215.5 306.9 215.6 305.4 216.7 302.5 219.2 302.5 222.5 301.4 224.2 300.2 226.9 298.6 229.5 297.8 231.1 296.2 231.4 294.7 231.4 292.9 230.6 294.5 232 294.5 233.5 295.3 233.5 294.7 235.6 292.8 236.4 290.1 236.7 290.4 238.9 287.7 239.2 289.2 240.8 288.7 241.4 288.5 243 288.5 244.7 286.8 246.1 288.8 248 287.9 250.7 287 252 288.4 254.4 287 255.1 286 256.4 284.2 255.3 282 253.3 279.6 249.4 279.8 246.7 279.6 243.4 279.6 240.8 278.2 238.1 277.8 234.4 278 232.2 278.2 228.9 277.7 224.9 277.2 220.9 277.5 217 277.2 211.7 276.7 209.4 274.7 207.7 270.5 205 269.1 202.4 267.1 198.4 265.3 195.1 263.2 193.1 263.4 191.2 264.3 189.6 263.4 188.1 264.1 185.9 264.4 184 265.8 183.1 267.4 180.3 267.7 176.6 266.7 175.3 265.3 173.7 264.1 175.5 262.4 174.4 260.5 173.8 258.5 172.1 258.3 170.6 256.9 168.1 255.5 167.7 252.2 166.7 250.2 164.3 248.2 164 246.8 164.4 244.6 163.6 242 162.3 239.4 161 237.6 158.3 238.1 156.8 237.6 155 236.4 152.8 234.9 151.1 234.1 148.4 232.7 146.8 232.5 144.5 230.9 143.3 230.5 145.5 231.6 147.5 232 150.1 233 153.1 233.8 154.5 233 154.8 232 152.8 231.6 150.8 230 148.6 230.1 146.8 229 144.8 228.7 142.2 227.9 140.2 225.8 139.4 225.4 136.8 225.4 135.2 224.7 133.6 224.8 131.8 225.9 129.6 226.7 127.7 228.8 124.1 229.7 121.2 231.3 121.3 232.3 120.4 231.1 119.1 229.2 118 229.1 116.4 229 113.5 228.7 111.8 227.7 109.8 226.6 108.1 225.2 106.4 222.3 105.8 220 104.8 217.4 104.5 214.7 106.5 214.5 105.2 210.9 107.1 209 108.7 205.9 110.1 202.3 111.5 198.6 112.4 195.2 113.2 202.2 110.5 205.8 109.1 207.7 107.5 205.5 107.8 203.1 107.5 204.1 106 203.1 104.9 203.9 103.3 206.2 101.9 209.8 101.2 211.5 99.9 208.9 99.7 206.9 99.7 206.7 98.4M301.3 81.3 307.6 78.7 313.9 76.7 324.9 75.7 335.6 74.7 342 76.7 342.8 80 340.5 84.7 338 89.3 337.6 91.9 334.8 93.3 328.4 95 322.3 98.5 318.7 101.9 315.9 105.8 313.4 104.8 311 103.2 310.3 99.9 309.4 97.2 310.1 93.3 313.2 91.9 310.4 90.6 310.6 86.6 306.1 84.7 302.6 84 301.3 81.3M297.5 101.5 302.2 97.1 300.5 95.5 298.4 92.1 296.3 90.5 292.4 89 286.4 88 284.1 92.6 286.9 93.7 292.2 95.6 291.5 97.9 286 99.9 289.6 100 292.2 102.1 295.4 103.2 297.5 101.5M258 90.6 260.7 88.6 268.3 88.4 270.7 91.9 266.5 94.6 263.6 93.9 257.4 94.2 256.2 92.6 258 90.6M252.7 90.1 260 86.9 261.9 88.2 258.5 91 253.6 90.9 252.7 90.1M294.1 84 288.2 82.7 292.5 79.4 290.1 78 300.9 75.4 311.1 75.7 312.5 76.7 302.9 79.1 297.5 81.3 298.9 82.7 294.1 84M292.2 86.6 282.7 86.5 281.7 84 288.2 83.6 293.8 84.4 292.2 86.6M280.9 89.9 278.1 89.3 279.7 87.3 283.7 87.3 280.9 89.9M276 89.9 272.4 89.3 274.7 87.4 278 87.4 276 89.9M272.8 86 263.4 86.6 265.4 84 272 83.6 272.8 86M278.4 86 274.2 85.3 277.8 84 280.5 84.4 278.4 86M290 81.3 284 81.3 287.2 78 291.6 78.7 290 81.3M277.9 99.9 280.7 98.1 283.2 100.1 280.4 102 277.5 101.1 277.9 99.9M295.6 122.2 299.7 119.6 300.9 116.9 298.5 118.4 295.8 121 295.6 122.2 299.8 123.3 302.4 122.4 302.1 120 300.3 119.3M334.8 98.5 336.7 97.4 342 97.2 344 99.2 342.6 100.3 339.1 101.3 335.8 100.8 334.6 99.5 334.8 98.5M350.4 119.1 357.5 117.5 357.8 115.5 356.1 114.4 354.6 112.4 354.2 111.1 354.4 109 352.8 107.7 351.4 107.7 350.1 110.5 351.2 112.4 353.2 113.8 351.7 114.7 351.9 116 350.9 116.8 353.1 117.5 350.4 119.1M350.2 116.3 350 114.4 350.6 112.2 348.8 112 346.3 113.5 346.2 116.4 346.6 117.1 349.2 116.4 350.2 116.3M350.1 137.6 349.3 136.5 348.2 136 346.6 136.3 346.7 134.3 346 133.9 346.7 132 347 129.6 346.4 128.3 347.8 127.4 350.4 127.7 353 127.8 354.5 127.8 354.9 126.1 354.9 124.1 353.5 122.6 351.5 121.8 351.3 120.9 353.1 120.6 354.6 120.9 354.5 119.4 356.3 119.7 357.7 118.8 357.8 117.9 359.6 117.2 360.3 116.4 360.7 115.2 362.5 114.4 364.4 114.3 364.4 111.8 363.9 110.1 366.1 109 366 110.8 366.6 112.4 365.9 113.1 366.9 113.8 368.3 113.2 370 113.9 372.2 113.1 374.4 113.2 375.4 113.2 376.7 112.2 376.2 110.1 377.6 108.9 379.3 109.5 378.4 107.3 381 106.5 382.5 106.1 383.7 105.8 381.3 105.2 377.6 106 376 104.8 375.6 102.5 376.7 100.8 378.6 99.2 378.7 98.1 377.4 98.1 375.7 98.5 375.1 99.9 374.5 100.9 373 102.3 372.1 103.8 372.1 104.9 373.7 106.1 373.1 107.1 371.9 109 371.9 110.3 370 111.8 368.5 111.6 368.1 110.5 367.5 109.1 366.7 107.1 366 106.7 365.1 107.1 362.8 108.5 361.4 107.4 361 105.2 360.7 103.4 362 102.4 364.3 101.2 365.5 99.9 367.2 97.9 367.9 95.9 369.5 94.6 371.4 93.3 373.9 92.6 376.2 91.3 379.5 91.3 382.4 92.6 384.3 93.5 386.9 93.9 391.3 95.6 392 97.2 387.5 99.9 389.6 100.8 392 99.9 394.5 97.5 394.1 94.8 396 95.2 399.4 95.2 401.8 94.6 403.2 95 405.9 94.2 407 92.9 410.7 93.5 414.3 94.6 415.3 94 412.7 89.9 413.4 88.4 416.8 90.6 419.4 94.6 418.5 89.9 420.9 88 425.6 86.6 428.8 84.7 433.6 84 435.5 82.4 439.6 83.7 444.7 84.9 448 88 451.7 88 456.4 88.6 460.8 88.9 463.8 90.6 465.9 90.6 471 89.3 476.3 89.6 481.2 90.6 485.8 91.3 491.6 92.6 493.2 93.3 498 93 500.1 92.6 505.5 92.9 510.5 94M201.7 94 203.7 95.9 204.7 97.2 205.9 97.9 203.2 99.2 200.4 100.1 198.7 99.6 197.3 98.5 195.5 98.9M516.7 98.9 515.1 99.9 519.9 102.5 516.4 103.4 515.1 105.8 511.6 106.1 509.3 106.1 511.1 108.5 511.2 109.1 513.4 111.1 514.1 113.1 513.8 115.1 513.3 116.4 512.5 117.7 509.8 115.1 507 111.8 505.7 109.1 506.8 108.5 505.8 105.8 505.7 103.8 502.9 103.8 501.9 106.7 499.5 107.1 495.4 106.7 490.6 106.7 490 108.9 489.7 113.1 494.3 114.7 496.3 116.4 497.9 120.4 497.6 123 496.9 126.3 495 128.6 493 128.8 492.6 131 491.7 132.9 494.6 136.3 495.3 138.2 493.8 139.4 492.6 139.6 491.8 136.9 490.8 135.3 489.5 135.2 488.3 132.8 485.4 131.6 485.1 133.6 484.7 131.2 484.2 131.1 482.6 132.5 481.4 133.6 481.6 134.7 483.4 136 484.9 135.2 487.2 136 485.6 137.6 484.8 138.9 487.6 142.2 489.3 144.2 489.8 145.5 490 147.5 489.3 149.2 488.8 151.5 487.5 152.8 486.3 154.8 483.9 155.7 481.6 156.4 480 157.2 479.9 158.3 479.1 156.8 477.7 156.6 475.9 157.9 475.4 159.4 475.2 160.7 476.4 162.3 478.8 164.7 480.3 168 480.4 170 478.6 171.3 477.6 172.6 476 173.8 475.6 172 474.1 171.2 472.8 169.3 470.8 168.4 469.7 167.5 469.2 171.3 470.6 174.2 471.6 176.1 473.1 177 474.5 179.1 474.6 181.6 475.5 183.3 474.7 183.5 472.1 181.5 471 179.6 470.9 177.9 468.4 174.2 468.5 172 468.1 168.7 466.8 164.7 466 162.8 464.1 164.4 462.8 163.8 462.6 160.7 461.3 159 459.7 157.7 458.8 155.4 457.4 156.1 455.8 156.4 453.6 156.8 453.6 158.1 451.8 159.7 449.2 163.2 447 164.2 447.2 167.3 447 170.6 445.4 173.4 444.6 174.5 443.5 173.4 442.1 170 440.6 165.9 439.1 163.4 438.1 159.8 437.8 157.4 437.4 156.8 435.6 157.7 433.3 155.6 434.8 154.9 432.7 154.4 431 152.8 430 151.6 427.8 151.9 424.5 152 419.9 151.2 418.4 149.3 416.5 150 413.5 148.4 411.6 146.2 409.3 145.5 408.8 146.3 409.9 148.8 411.8 150.7 412.6 152.4 413.6 153.2 415.7 153.3 417.7 151.5 418.5 150.5 418.8 152.3 420.6 153.8 423 155.4 421.9 158.1 421.2 160.1 418.7 162 415.2 164.4 412.3 165.9 407.8 168 405.6 168.4 404.9 166 404.3 163.4 402.5 160.3 400 156.8 399 153.7 397.2 150.9 395.3 148.3 394.4 146.7 394.2 148.2 393.3 148.4 391.9 145.6 391.4 143.9 393.5 143.8 394.2 141.8 394.5 140.2 394.6 137.8 394.9 136.8 393.1 136.5 391 137.4 388.8 137.2 386.1 136.5 385.2 135.2 384.3 134.3 384.5 132.9 383.8 132.1 385.1 131.6 386.6 131.1 386.7 130.7 389 130.8 391 129.6 392.9 129.6 394.9 130.6 396.4 131 398.2 131 399.8 130.3 399.6 128.8 397.6 127.8 395.5 126.5 394.6 125.4 395.5 123.3 392.7 125.3 390.8 126.3 389.7 125.1 387.8 123.6 387.1 124.6 386.6 125.4 385.7 126.6 385.2 128.7 385.6 130.2 386.5 130.6 385.1 131.1 383.8 131.9 383.5 131.2 381.4 131.2 381.1 132 379.9 131.6 380.5 133.1 380.4 134.5 381.7 134.7 380.9 135.2 380.6 136.9 379.4 136.5 378.6 135.2 378.1 133.5 377.3 132.7 376.6 131.9 376.6 130 375.4 129 373.3 127.8 371.9 126.7 371.1 125.4 370.1 124.9 368.8 125.3 368.9 126.5 370.3 127.7 371.6 129.5 373 130.3 374.5 131.2 375.7 132.1 375.6 132.5 374 131.6 373.6 132.7 374.3 133.6 373.5 134.5 372.8 134.9 373 134 372.7 132.3 371.3 131.5 370 130.6 368.1 129.1 367.1 128.3 366.7 127.1 365.2 126.5 363.9 127.3 362.9 128.2 361.3 127.8 359.4 128 359.5 129.8 357.7 130.7 356.6 131.6 355.8 132.9 356.3 133.9 355.4 135.5 353.8 136.6 351.3 136.6 350.1 137.6M404.6 125.7 406.8 123.7 410.3 123.3 410.8 125.3 409.2 126.3 411.3 129.6 413 131 412.8 132.9 413.8 135.9 410.8 136.6 408.5 135.6 408.4 132 405.8 129 404.6 125.7M391.8 145.6 389.9 143.5 388.4 144.3 383.4 143.4 381.1 142.1 377.9 142.2 378 144.5 376.9 145.1 373 143.5 370.2 141.7 368 141.3 367.4 139.6 367.9 138.2 367 136.5 365.7 136 362.5 136.3 359.3 136.5 356.1 137.8 353.9 138.8 350.4 137.8 349.1 140.2 346.9 141.3 345.4 144.2 345.1 146.8 342.9 148.2 341.2 149.5 339.6 152.8 338.2 154.1 337 157.4 337.7 160.1 337.4 163.4 336.3 165.8 337.1 168.7 339 170.6 340.7 172.6 342.4 175.3 344.1 176.9 347.5 179.4 350.4 178.5 353.8 179 357.2 177.3 359.5 176.9 361.8 177.9 363 179.5 364.7 179.2 366.4 179.9 367.3 181.9 366.8 184.5 366.2 187.2 368.1 189.2 369.8 191.8 371 194.5 371.5 198.4 370.3 203.1 369.4 207.7 371.2 213 372.3 215.6 372.7 220.9 374.3 223.6 375.5 226.9 376.1 230.4 377.7 231.2 380.5 230.2 383.7 230.2 386 228.9 388.9 226.2 390.2 224.2 392.1 220.9 392.5 219.6 393.7 218.3 395.7 217 395.6 214.3 395.2 211.7 397.3 209.7 400.8 207 402.3 204.4 402.2 199.8 401.2 195.8 400.9 193.1 401.3 191.2 402.5 188.5 404 186.5 405.9 183.9 408.8 181.9 411 178.6 413 174 414.4 170 411.9 170.3 407.4 171.3 405.4 169.7 404.4 167.3 403.2 166 400.8 164.3 399.5 161.4 398 158.1 397.3 155.4 395.7 153.4 393.8 150.1 391.8 145.8M412.2 201.1 413.1 205.7 412 207.7 410.6 212.3 408.6 218.3 406.1 218.9 404.9 216.3 404.6 213.6 406 211 405.8 207.7 408.2 206.1 410.6 203.7 412.2 201.1M497.8 140.2 498.8 138.2 501.4 138 502.4 135.9 504.3 134.9 504.1 132.3 503.3 130.6 504.9 130.6 506.6 132.9 506.8 135.6 507.4 137.6 507.1 138.9 505.7 139.4 504.1 139.8 502.5 140.5 499.5 140 497.8 140.2M497 141.1 498.3 143.8 499.4 143.8 499.4 141.3 498 140.4 497 141.1M503.2 130.3 502.1 128.3 501.9 125.1 504.2 126.3 507.4 127.9 506.5 129.6 504.1 130 503.2 130.3M502 124.3 503.1 123.7 500.6 120.4 498.6 117.1 496.6 113.8 495.3 113.4 498.1 117.7 500.2 121.7 502 124.3M490.6 151.7 491.8 152.1 491.9 154.8 491.4 156.2 490.3 154.8 490.6 151.7M478.4 159.8 479.7 158.6 481 159.3 480.4 161.1 479 160.7 478.4 159.8M492 160.7 493.9 160.7 494.1 163.6 494.2 166.3 496.9 166.9 497.1 168.7 495.3 167.6 493 166.3 491.9 164 492 160.7M495.5 175.3 497.2 175 499.3 172.6 500.7 175.3 499.5 177.5 497.9 176.6 495.6 175.9 495.5 175.3M495 170 496.9 171.3 498.4 170 499.2 172 497.5 172.2 495.8 172.2 495 170M447.2 172.4 448.6 174 449.6 175.9 448.2 177.4 447.3 176.3 447.2 172.4M465.1 177.8 467.7 178.3 470.6 181.9 474.9 186.5 477.5 189.3 477.1 192.9 475.6 192.9 473.2 190.5 471.2 187.2 469.3 183 465.1 177.8M476.4 194.2 477.9 193.1 480.2 194.1 483 193.8 484.9 194.3 486.9 195.5 486.8 196.7 484 196.2 480.6 195.5 477.8 195 476.4 194.2M481 183.2 481.8 182.6 483.8 181.6 486 179.9 488.3 178.2 489.8 175.9 492.6 178.2 491.2 179.5 491.3 183.9 490.7 185.2 489.5 188.5 488.9 190.2 487.2 189.8 483.8 189.2 482.3 189 481.6 185.9 481 183.2M492.8 192.5 494 192.5 493.9 188.9 494.7 188.5 495.7 191.2 497.2 190.9 495.3 187.2 496.4 186.3 497.2 186.5 495.3 184.5 499.3 183.2 498.4 184.7 493.6 184.3 493.4 185.2 492.2 188.5 492.8 192.5M506.2 186.9 509.6 186.3 511.3 189.6 514.2 187.4 517.6 188.6 522.1 191.2 523.1 192.5 524.8 193.1 525.7 195.8 527.4 199.1 523.7 198.4 522.3 195.8 519.9 197.1 518.2 197.4 517 197.2 514.9 195.9 513.7 196.2 513.6 192.5 510.6 191 507.8 190.5 506.7 188.5 506.2 186.9M496.9 198.8 498.8 197.1 501.5 196.3 499.9 197.5 498.1 198.6 496.9 198.8M487.4 196 488.5 196.8 492 196.4 493.7 196.2 496 196.4 494.2 197 490.8 197.1 489.1 197 487.4 196M502.2 185.9 503.3 182.6 502.8 184.5 503.7 186.3 502.2 185.9M502.7 189.4 505.6 189.2 505.9 190.2 503.2 190 502.7 189.4M526 192.5 527.8 191.8 530.1 190.8 529.4 192.5 527.1 193.4 526 192.5M483.2 214.3 482.6 219.6 482.2 224.9 480.8 229.5 481.8 231.5 483.4 231.5 486 230.2 489.8 230.2 493.3 227.9 496.9 227 499.1 226.9 501.8 228.5 502.4 231.2 504.1 229.5 505.8 228.9 504.7 232.2 506 232.8 505.9 235.5 508.6 236.5 511.4 236.9 514.1 235.2 516.5 234.5 518.2 232.2 520.2 229.5 522.3 227.5 525.2 222.9 526 218.9 524.6 216.3 523.4 214.7 522.9 212.3 520.9 210.3 520.7 207 520.8 205 519 203.7 518.5 199.4 517.1 202.1 516.5 205.7 514.9 208.4 513.2 207.7 511.2 206.1 509.7 205 511.7 201.5 510.3 201.1 507 200.4 505.1 201.5 503 204.8 500.8 203.7 498.7 204.4 497 206.4 494.2 208.4 492.3 211 488.7 212.2 486.3 212.7 484 214.3 483.2 214.3M508.6 239 512.3 239.3 510.3 242.4 508.8 242.9 508.1 241 508.6 239M542.8 230.7 543.8 232.6 544 234.1 546.7 235.1 543.8 237.2 541.1 239.8 539.9 239.8 541.6 237.5 540.5 237.1 542.4 235.2 542.8 233.5 542.8 230.7M538.3 238.8 539 240.4 536.9 242.1 535.5 243.1 533.4 244.1 529.5 246.8 527.2 246.1 530.3 243.7 534.1 241.8 537.2 239.4 538.3 238.8M219.8 288.4 228.5 289.1 238.5 289.7 240.7 287.1 241.9 285.1 248.3 283.8 259.6 283.1 268.2 283.8 274.6 281.8 282.7 281.8 290.9 281.8 293.4 279.1 296.5 273.8 300.4 270.5 304.3 268.9 303 272.5 303 276.5 305.7 280.5 304.5 284.4 309.9 287.1 322 288.4 329.4 287.7 334.1 285.1 339.9 282.4 346.1 279.8 356.1 277.8 364.6 277.8 373 277.8 381.7 277.1 386.1 276.5 390.6 275.8 399.9 273.8 404.5 273.2 408.6 273.8 415.3 274.5 416.1 276.5 417.1 277.8 420 277.1 425.8 274.5 433.6 273.2 440.2 272.5 444.6 272.5 453.4 272.5 461.8 273.2 471.1 272.5 475.6 272.5 479 273.6 482.4 274.5 485.3 275.8 491.6 277.8 494.1 279.1 496.6 280.5 489.3 284.4 480.5 287.7 484.8 288.4 492.4 288.4M364.4 81.3 368.5 84 372.9 82.7 376 80 370.6 78.7 364.2 79.6 364.4 81.3M399.6 91.3 403.2 91.9 404 89.9 405.3 86 408.6 83.6 403.8 83.3 400.5 86 399.6 89.3 399.6 91.3M427.6 80.7 431.2 81.3 433.6 80 427.9 78 424.9 78.7 427.6 80.7M465.5 87.3 470.6 87.6 468.7 85.3 463.9 84.7 465.5 87.3M260.9 156.4 264.5 154.5 268.9 155.4 271.3 158.1 272.7 158.5 268.9 159 266.5 156.5 263.1 156.4 260.9 156.4M272.1 160.7 274.2 158.9 277.4 159.1 279 160.6 276 161.4 272.1 160.7M267.8 160.9 270 161.3 269.2 161.8 267.8 160.9M280.3 160.7 282.1 161 281.6 161.4 280.3 160.7M227.9 118 229.4 121 231.1 121.2 230.2 118.8 227.9 118M225.9 113.8 226.9 114.4 225.8 116.1 225.2 114.8 225.9 113.8M209.8 107.8 210.6 109.1 208.1 110.3 209.8 107.8M194.6 113.8 190.9 114.7 186 115.7 181.3 116.7 179.2 116.8M532.9 116.7 526.8 115.3M507.6 127 508.9 125.7 510.2 124.3 511 122.4 511.7 120.4 512.3 118.4M365.9 128.3 366.1 129.6 365.8 130.4 365.1 129.8 365.9 128.3M365.8 130.7 366.4 131.6 366.2 133.6 365.1 133.6 365 131.6 365.8 130.7M369.3 134.9 372.7 134.5 372.3 136.6 369.5 135.5 369.3 134.9M381.4 138.5 384.5 138.6 382.5 139 381.4 138.5M390.9 138.8 393.3 138 392.7 139 390.9 138.8M295 253.1 298.4 253.3 297.7 254.4 295 253.1M288.3 254.8 292.6 257.8 290.2 258.6 286.3 257.3 288.3 254.8M261.9 123.4 265.8 121.3 269.1 120.6 269.8 123 267 123.7 261.9 123.4M264 130 265 126.3 267.4 124.6 267.4 127 265.4 129.6 264 130M269.3 124.3 271 125.3 273.3 126.3 271 128 270.5 127 269.7 124.6 269.3 124.3M268.7 130 273.7 128.4 271.9 129 268.7 130M273 127.9 276.8 127.7 276.8 126.7 273.4 127.5 273 127.9M257 118.4 258.9 118.5 260.3 114.4 259.1 114 257 118.4M247.6 104.5 251.5 104.2 255.4 102.5 251.3 102.5 247.6 104.5M244.9 98.5 249 98.9 251.9 96.6 248.4 96.6 244.9 98.5M250.5 107.8 255.2 107.1 252.8 106.5 250.5 107.8M384.2 105.8 386.6 105 386.1 103.8 384.3 104.2 384.2 105.8M388.1 104.5 389.9 104.2 388.5 102.1 388.1 104.5M392.3 185.9 395.1 184.9 395.6 186.9 393.9 188.8 392.4 187.8 392.3 185.9M389.5 189.7 390.4 190.5 391.3 196.2 390.7 196.6 389.8 193.8 389.5 189.7M395.2 197.8 396.2 200.4 396.2 204 395.4 203.7 395 200.4 395.2 197.8M371.4 168 372.9 167.3 372.6 168.3 371.4 168M459.4 117.1 460.3 116.4 462.2 114.4 462 111.5 461.5 111.4 461.1 115.1 459.4 116.7 459.4 117.1M416.2 124.3 419.1 123.7 419.8 126.3 417.4 127.3 416.2 124.3M431.9 123.7 437.2 124.1 436.9 123.3 431.8 123.2 431.9 123.7M277.4 205.7 278.3 206.8 277 205.3M282.5 103.2 280 102.8 280.3 102.1 282.5 103.2M294.2 87.3 289.8 86.6 291.9 87M275.1 82 272 81.3 275.7 80.7M280.4 82 278.7 80.7 282.3 80M282.8 82.7 282.5 81.3 285.5 81.3M262.4 85.3 260 84.7 263.8 83.3M267.3 86 265.6 85.3 268.6 84.7M276.8 89.9 275.4 88.6 277.5 88M292.1 89.3 291 88.4 294.1 88.6M292 102.5 294.4 101.2 296 101.9M296.7 109.8 298.1 108.5 298.8 109.1M237.5 92.6 235.4 92.2M290.7 123 293.9 122.4 292.5 123.8M201.9 101.2 203.3 101.6 201 100.8M194.9 105.2 195.5 105.6M210.1 109.1 211.6 108.5M286 88 283 88.2" fill="none" stroke="#000" stroke-width="0.9" stroke-linejoin="round"/>
<path d="M258.1 115.5 257.8 115.3 257.1 115.4 257 115.6 257.6 115.6 258.1 115.5M271.8 110.3 271.8 110.1 271.4 110.2 271.2 110.5 271.5 110.6 271.8 110.3M246.1 108.7 246 108.6 245.6 108.6 245.4 108.8 245.7 108.9 246.1 108.7M272.2 99.4 272 99.2 271.5 99.2 271.4 99.5 271.8 99.6 272.2 99.4M284.3 96.5 283.9 96.2 283.1 96.3 282.9 96.6 283.7 96.7 284.3 96.5M293.5 117.9 293.1 117.7 292.3 117.8 292.3 118.1 293 118.2 293.5 117.9M247.5 116.2 247.4 115.9 246.9 116 246.7 116.5 247.1 116.6 247.5 116.2M256.2 105.2 255.9 105 255.1 105.1 255 105.3 255.6 105.4 256.2 105.2M269.3 117.6 269.2 117.4 268.8 117.4 268.7 117.7 269 117.8 269.3 117.6M280.4 108.9 280.2 108.6 279.7 108.7 279.5 109 280 109.2 280.4 108.9M267 111.9 266.7 111.6 265.9 111.7 265.7 112.1 266.4 112.2 267 111.9M259.4 105.4 259.2 105 258.4 105.2 258.2 105.6 258.7 105.7 259.4 105.4M282 112.2 281.5 112 280.6 112.1 280.5 112.3 281.4 112.4 282 112.2M270.8 101 270.7 100.8 270.2 100.9 270 101.2 270.4 101.3 270.8 101M250.4 103.1 250.1 102.9 249.2 103 248.9 103.3 249.7 103.4 250.4 103.1M290 111.6 289.7 111.3 288.9 111.4 288.8 111.8 289.4 111.9 290 111.6M275.7 108.2 275.3 107.8 274.5 108 274.2 108.4 275 108.6 275.7 108.2M272.3 103.2 272.3 102.9 271.8 103 271.6 103.4 271.9 103.5 272.3 103.2M286.1 95.4 285.6 95.2 284.5 95.3 284.3 95.5 285.3 95.6 286.1 95.4M267.8 103.1 267.7 102.9 267.3 103 267.2 103.3 267.4 103.4 267.8 103.1M248.7 116.3 248.7 115.9 248.3 116.1 248.1 116.5 248.4 116.6 248.7 116.3M248.5 113.2 248.4 112.8 247.8 112.9 247.5 113.4 248 113.5 248.5 113.2M248.8 108.4 248.7 108 248 108.1 247.7 108.6 248.2 108.7 248.8 108.4M292.5 98.5 292.3 98.2 291.7 98.3 291.5 98.6 292 98.7 292.5 98.5M270.3 98 269.8 97.8 268.7 97.9 268.5 98.1 269.5 98.2 270.3 98M250.7 113.5 250.6 113.3 250.2 113.4 250 113.7 250.3 113.8 250.7 113.5M273.6 112.8 273.5 112.5 273.2 112.6 273 112.9 273.3 113 273.6 112.8M266 105.6 265.6 105.3 264.7 105.4 264.4 105.8 265.3 105.9 266 105.6M274.2 104.3 273.8 104.2 273 104.2 272.9 104.4 273.6 104.5 274.2 104.3M295.9 100.5 295.5 100.1 294.5 100.3 294.3 100.7 295.2 100.8 295.9 100.5M264.6 109.6 264.5 109.3 264.1 109.4 263.9 109.7 264.2 109.8 264.6 109.6M242.3 117.4 242.1 117.3 241.7 117.3 241.6 117.6 241.9 117.6 242.3 117.4M257.5 117.8 257.4 117.6 257.1 117.7 257 117.9 257.3 118 257.5 117.8M248.4 110.4 248.4 110 248 110.2 247.8 110.6 248 110.7 248.4 110.4M273.9 115.5 273.7 115.3 273.3 115.4 273.2 115.7 273.5 115.7 273.9 115.5M260.1 116.1 259.8 115.8 259 115.9 258.8 116.4 259.4 116.5 260.1 116.1M269.5 107.5 269.4 107.4 269 107.4 268.9 107.6 269.2 107.7 269.5 107.5M260.6 112.7 260.2 112.6 259.4 112.6 259.3 112.9 260 112.9 260.6 112.7M254.7 96.4 254.4 96.2 253.5 96.3 253.4 96.5 254.1 96.6 254.7 96.4M268.9 118.4 268.7 118 268.1 118.2 267.9 118.6 268.4 118.8 268.9 118.4M292.8 102.5 292.6 102.2 292.1 102.3 291.9 102.6 292.4 102.7 292.8 102.5M258.6 100.7 258.4 100.3 257.6 100.5 257.3 100.9 257.9 101 258.6 100.7M259.3 113.7 259.1 113.4 258.3 113.5 258 114 258.7 114.1 259.3 113.7M293.8 99.9 293.4 99.5 292.4 99.7 292.2 100.1 293.1 100.2 293.8 99.9M257.5 106.7 257.3 106.6 256.7 106.6 256.6 106.8 257.1 106.9 257.5 106.7M243.3 112.4 243.2 112.1 242.7 112.2 242.5 112.6 242.9 112.7 243.3 112.4M295.6 108.4 295.2 108 294.3 108.2 294.2 108.6 295 108.8 295.6 108.4M294.5 110.4 294.3 110.2 293.8 110.2 293.7 110.5 294.1 110.6 294.5 110.4M251.7 114.2 251.5 113.8 250.8 114 250.6 114.4 251.1 114.5 251.7 114.2M289.6 107.6 289.3 107.3 288.6 107.4 288.4 107.8 289.1 108 289.6 107.6M252.7 103.3 252.3 103 251.3 103.1 251.1 103.5 251.9 103.6 252.7 103.3M284.6 107.7 284.5 107.3 284 107.5 283.8 107.9 284.2 108 284.6 107.7M267.7 100 267.2 99.7 266.1 99.8 265.9 100.1 266.9 100.2 267.7 100M273.3 96.5 272.9 96.3 271.9 96.4 271.7 96.6 272.6 96.7 273.3 96.5M247.3 115.5 247 115.1 246.2 115.2 245.9 115.7 246.6 115.8 247.3 115.5M258.7 99.4 258.3 99.1 257.2 99.2 256.9 99.6 257.9 99.7 258.7 99.4M264.3 106 264.2 105.8 263.7 105.9 263.6 106.1 264 106.1 264.3 106M298 103.6 297.8 103.2 297 103.4 296.9 103.8 297.5 103.9 298 103.6M273.8 98.3 273.3 98.1 272.3 98.2 272.1 98.4 273 98.5 273.8 98.3M255.7 112.1 255.6 111.8 255.1 111.9 254.9 112.3 255.3 112.4 255.7 112.1M257.7 109.1 257.7 108.7 257.2 108.9 257 109.3 257.3 109.4 257.7 109.1M263.5 108.1 263.3 107.8 262.6 107.9 262.3 108.4 262.9 108.5 263.5 108.1M273.6 97.2 273.3 96.9 272.5 97 272.3 97.4 273 97.5 273.6 97.2M267.7 118.6 267.4 118.4 266.9 118.5 266.8 118.7 267.3 118.8 267.7 118.6M250.6 100 250.5 99.8 250 99.9 249.7 100.2 250.1 100.3 250.6 100M284.2 105.8 284 105.5 283.4 105.6 283.3 106 283.7 106.1 284.2 105.8M278.1 100.4 278 100.1 277.5 100.2 277.3 100.5 277.7 100.7 278.1 100.4M255.6 112.5 255.3 112.2 254.5 112.3 254.3 112.6 255 112.7 255.6 112.5M278.6 101 278.1 100.7 277.1 100.8 277 101.1 277.9 101.2 278.6 101M277.8 107 277.5 106.7 276.9 106.8 276.7 107.2 277.2 107.3 277.8 107M269.7 106.4 269.5 106 268.8 106.1 268.6 106.6 269.1 106.7 269.7 106.4M287.1 98.2 286.6 98 285.5 98 285.3 98.3 286.3 98.4 287.1 98.2M281.1 96.6 280.6 96.4 279.5 96.5 279.4 96.7 280.3 96.8 281.1 96.6M250.7 108.5 250.6 108.3 250.2 108.4 250 108.7 250.3 108.7 250.7 108.5M252.2 103.1 251.9 102.8 251 102.9 250.6 103.3 251.4 103.5 252.2 103.1M257.1 102 256.7 101.8 255.9 101.9 255.7 102.1 256.4 102.2 257.1 102M296.8 96 296.6 95.6 296 95.8 295.8 96.2 296.3 96.4 296.8 96M266.5 107.4 266.1 107.1 265.1 107.2 264.9 107.7 265.7 107.8 266.5 107.4M252.9 108.8 252.6 108.5 252 108.6 251.8 108.9 252.4 109 252.9 108.8M253.2 111.5 252.9 111.3 252.1 111.4 252 111.6 252.7 111.6 253.2 111.5M273.6 108.6 273.6 108.3 273.2 108.4 273.1 108.7 273.3 108.8 273.6 108.6M278.2 106.9 278.2 106.5 277.8 106.6 277.5 107.1 277.8 107.2 278.2 106.9M292.2 95.9 292 95.7 291.5 95.8 291.4 96 291.8 96.1 292.2 95.9M252.1 100.5 251.9 100.3 251.3 100.4 251.1 100.6 251.6 100.7 252.1 100.5M273.8 97.3 273.4 97.1 272.3 97.2 272.2 97.5 273.1 97.6 273.8 97.3M260.3 97.2 260.1 96.9 259.2 97 258.9 97.4 259.6 97.5 260.3 97.2M243.9 117.7 243.6 117.4 243 117.5 242.8 117.8 243.4 117.9 243.9 117.7M256.9 96.7 256.7 96.4 255.7 96.5 255.4 96.9 256.2 97 256.9 96.7M255.6 98.7 255.6 98.3 255.1 98.4 254.8 98.9 255.1 99 255.6 98.7M267.4 111 267.2 110.6 266.5 110.8 266.3 111.2 266.8 111.3 267.4 111M266.5 93.2 265.9 92.9 264.6 93 264.3 93.4 265.4 93.5 266.5 93.2M259.7 92.7 259.5 92.4 258.7 92.5 258.4 92.9 259 93 259.7 92.7M271 90.4 270.2 90.1 268.4 90.2 268.1 90.6 269.7 90.7 271 90.4M276.7 92.4 276.2 92.2 275.1 92.3 274.9 92.6 275.9 92.6 276.7 92.4M264.5 95 263.9 94.6 262.3 94.7 261.9 95.3 263.3 95.4 264.5 95M268.6 87.7 267.6 87.4 265.6 87.5 265.3 87.9 267.1 88 268.6 87.7M293 88.4 292.5 87.9 291 88.1 290.6 88.7 291.8 88.9 293 88.4M276.9 87.2 276.4 86.6 274.6 86.8 274 87.5 275.4 87.8 276.9 87.2M279.6 82 279.1 81.6 277.4 81.8 276.8 82.3 278.2 82.5 279.6 82M274.5 89.7 274.3 89.5 273.4 89.6 273.2 89.9 273.8 90 274.5 89.7M267.2 83.5 266.9 83.2 265.8 83.3 265.4 83.7 266.3 83.8 267.2 83.5M270.1 81.9 269.6 81.4 267.6 81.6 267 82.2 268.6 82.3 270.1 81.9M268.3 91.4 268 91 266.9 91.2 266.5 91.6 267.4 91.8 268.3 91.4M266 88.2 265.9 87.6 264.7 87.8 264 88.5 264.9 88.7 266 88.2M300 86.6 299.8 86 298.6 86.2 298.2 86.9 299.1 87.1 300 86.6M270.7 89.6 270.5 89.2 269.7 89.4 269.4 89.8 269.9 89.9 270.7 89.6M279.5 87.3 279.3 86.9 278.2 87 277.8 87.5 278.6 87.7 279.5 87.3M256.8 91 256.7 90.7 255.8 90.8 255.4 91.3 256 91.4 256.8 91M255.1 94.9 254.8 94.6 253.7 94.7 253.4 95.1 254.2 95.2 255.1 94.9M285 86.8 284.3 86.4 282.5 86.6 282 87.1 283.6 87.3 285 86.8M293.9 81.3 293.5 80.9 292.3 81.1 292 81.5 293 81.6 293.9 81.3M297.4 92.9 296.7 92.4 295.1 92.6 294.8 93.1 296.2 93.3 297.4 92.9M268.5 82 267.9 81.5 266 81.7 265.4 82.2 266.9 82.4 268.5 82M293.5 82.3 293.3 81.9 292.4 82.1 292 82.6 292.7 82.7 293.5 82.3M285.8 82 285.3 81.5 283.5 81.7 282.9 82.3 284.4 82.5 285.8 82M289.5 81.1 289 80.6 287.4 80.8 286.9 81.4 288.2 81.5 289.5 81.1M263.1 94.7 263 94.4 262.1 94.5 261.8 95 262.4 95.1 263.1 94.7M270.5 82 270.1 81.5 268.6 81.7 268 82.2 269.2 82.4 270.5 82M288.1 84.4 287.5 84.2 286.2 84.3 285.9 84.6 287.2 84.7 288.1 84.4M295.6 83.4 295.1 83 293.7 83.1 293.3 83.6 294.5 83.8 295.6 83.4M282.7 94.2 282 93.9 280.4 94 280.2 94.4 281.6 94.5 282.7 94.2M260.5 91 259.8 90.7 258.1 90.8 257.7 91.2 259.2 91.3 260.5 91M296.2 79.7 295.7 79.4 294.4 79.5 294 80 295.1 80.1 296.2 79.7M282.8 84.4 282.1 83.9 280.3 84.1 279.8 84.7 281.4 84.8 282.8 84.4M281.5 94 281.2 93.7 280.3 93.8 280.1 94.2 280.8 94.3 281.5 94M288.6 90.4 287.9 90.2 286.4 90.3 286.2 90.5 287.6 90.6 288.6 90.4M259.9 91 259.4 90.5 257.7 90.7 257.1 91.3 258.5 91.4 259.9 91M285.6 90.6 285 90.2 283.6 90.4 283.3 90.9 284.5 91 285.6 90.6M275.2 93.4 274.4 93.1 272.6 93.2 272.3 93.5 273.9 93.7 275.2 93.4M304 80.4 303.8 80 303.1 80.1 302.8 80.6 303.3 80.8 304 80.4M299 79.9 298.5 79.6 297.2 79.7 296.9 80.1 298 80.2 299 79.9M275.9 80.2 275.8 79.8 274.7 80 274.2 80.5 274.9 80.7 275.9 80.2M267.4 86.9 266.4 86.6 264.4 86.8 264.1 87.1 265.9 87.2 267.4 86.9M294.3 87.2 293.5 86.7 291.5 86.9 291.1 87.4 292.9 87.6 294.3 87.2M276.2 81 275.7 80.8 274.3 80.8 274 81.1 275.2 81.2 276.2 81M260.7 87.4 260.3 87.1 258.9 87.2 258.4 87.6 259.6 87.8 260.7 87.4M263.9 89.8 263.7 89.3 262.4 89.5 261.8 90.1 262.8 90.3 263.9 89.8M265.4 83.3 264.6 83.1 262.8 83.2 262.4 83.5 264 83.6 265.4 83.3M300.6 83.9 299.7 83.6 297.8 83.7 297.6 84.1 299.3 84.2 300.6 83.9M274.9 89 274 88.6 271.8 88.7 271.4 89.3 273.3 89.4 274.9 89M381 103.9 380.6 103.7 380 103.8 380 104.1 380.6 104.1 381 103.9M377.5 99.6 377 99.2 376.4 99.4 376.5 99.9 377.2 100.1 377.5 99.6M380.1 105.7 379.6 105.4 378.9 105.5 378.9 105.8 379.7 105.9 380.1 105.7M380.7 98.3 379.9 98 378.7 98.1 378.8 98.6 380 98.7 380.7 98.3M383.5 98.8 382.7 98.5 381.5 98.6 381.6 99 382.9 99.1 383.5 98.8M385.9 107.9 385.3 107.6 384.5 107.8 384.5 108.1 385.4 108.2 385.9 107.9M384.9 101.6 384.5 101.5 383.9 101.5 383.9 101.8 384.5 101.8 384.9 101.6M388 107.1 387.5 106.9 386.8 107 386.9 107.3 387.6 107.4 388 107.1M380.3 100.6 379.5 100.4 378.3 100.5 378.4 100.8 379.6 100.9 380.3 100.6M384.6 105.3 384.1 105 383.4 105.1 383.4 105.5 384.2 105.6 384.6 105.3M379.1 106.8 378.8 106.3 378.3 106.5 378.4 107 378.9 107.2 379.1 106.8M383.2 106.1 382.5 105.7 381.5 105.9 381.6 106.4 382.7 106.6 383.2 106.1M435 88.5 434.3 88.2 433.5 88.3 433.8 88.6 434.7 88.7 435 88.5M428.4 89 427.6 88.7 426.8 88.8 427.1 89.2 428 89.3 428.4 89M435.8 80.6 434.6 80.2 433.3 80.4 433.8 80.8 435.3 80.9 435.8 80.6M429.6 84.4 428.7 84.1 427.8 84.2 428.1 84.6 429.2 84.7 429.6 84.4M409.8 87 408.5 86.8 406.8 86.9 407 87.2 408.8 87.2 409.8 87M434.6 83.3 433.4 83 431.9 83.1 432.2 83.4 433.9 83.5 434.6 83.3M422.8 87.3 421.9 87 420.9 87.1 421.2 87.5 422.3 87.7 422.8 87.3M459.3 81 458.1 80.8 456.7 80.8 457 81.1 458.6 81.2 459.3 81M405.1 82.4 404 82.1 402.5 82.2 402.7 82.7 404.4 82.8 405.1 82.4M445.4 89.9 444.4 89.5 443.5 89.6 444 90.2 445.2 90.4 445.4 89.9M233.5 94.9 232.9 94.6 231.2 94.7 230.9 95.1 232.3 95.2 233.5 94.9M209 106 208.9 105.6 207.9 105.8 207.4 106.3 208.1 106.4 209 106M233 97 232.8 96.6 231.5 96.7 230.9 97.3 231.9 97.4 233 97M221.2 99.7 221.3 99.3 220.6 99.4 220.1 100 220.4 100.2 221.2 99.7M224.2 93.9 223.7 93.6 222.4 93.7 222 94 223.1 94.2 224.2 93.9M211 104.5 210.8 104.1 209.6 104.2 209.1 104.7 210 104.9 211 104.5M207.9 107.4 207.7 107 206.7 107.1 206.3 107.6 207 107.7 207.9 107.4M215.3 104.9 214.9 104.7 213.9 104.8 213.7 105 214.6 105.1 215.3 104.9" fill="none" stroke="#000" stroke-width="0.7" stroke-linejoin="round"/>
<path d="M231.2 120.6 230.4 118.4 229.2 117.1 229 115.1 228.8 113.1 228.7 111.1 228.2 109.1 227.3 107.8M279.3 240.5 279.5 243.4 279.8 246.7 279.9 249.4 281.2 252 283 254.3 285.4 256 287.3 257.3M360.9 105.2 361.2 103.2 362.5 101.9 364.7 100.5 366.3 98.5 367.5 96.6 369 94.6 371 93.3M309.2 100.5 309.4 97.2 309.8 93.9 312.3 91.9 310.7 89.9M310.6 86.6 309 85.1" fill="none" stroke="#000" stroke-width="1.9" stroke-linejoin="round" stroke-linecap="round" opacity="0.85"/>
<line x1="140" x2="580" y1="105.6" y2="105.6" stroke="#101010" stroke-width="1.5" stroke-dasharray="1.5 0.5" opacity="0.6"/>
<line x1="140" x2="580" y1="145.4" y2="145.4" stroke="#101010" stroke-width="1.5" stroke-dasharray="1.5 0.5" opacity="0.6"/>
<line x1="140" x2="580" y1="185.3" y2="185.3" stroke="#101010" stroke-width="1.5" stroke-dasharray="1.5 0.5" opacity="0.6"/>
<line x1="140" x2="580" y1="225" y2="225" stroke="#101010" stroke-width="1.5" stroke-dasharray="1.5 0.5" opacity="0.6"/>
<line x1="140" x2="580" y1="264.6" y2="264.6" stroke="#101010" stroke-width="1.5" stroke-dasharray="1.5 0.5" opacity="0.6"/>
<path d="M304.5 304.3 L296.8 297.7 L290.3 291 L284.7 284.4 L279.9 277.8 L275.6 271.2 L271.9 264.6 L268.6 258 L265.7 251.3 L263.2 244.7 L260.9 238.1 L259 231.5 L257.4 224.9 L256 218.3 L254.9 211.7 L254.1 205 L253.5 198.4 L253.1 191.8 L253 185.2 L253.1 178.6 L253.5 172 L254.1 165.4 L254.9 158.7 L256 152.1 L257.4 145.5 L259 138.9 L260.9 132.3 L263.2 125.7 L265.7 119.1 L268.6 112.4 L271.9 105.8 L275.6 99.2 L279.9 92.6 L284.7 86 L290.3 79.4 L296.8 72.7 L304.5 66.1" fill="none" stroke="#111" stroke-width="1.1" opacity="0.55"/>
<path d="M407.7 304.3 L415.4 297.7 L421.9 291 L427.5 284.4 L432.3 277.8 L436.6 271.2 L440.3 264.6 L443.6 258 L446.5 251.3 L449 244.7 L451.3 238.1 L453.2 231.5 L454.8 224.9 L456.2 218.3 L457.3 211.7 L458.1 205 L458.7 198.4 L459.1 191.8 L459.2 185.2 L459.1 178.6 L458.7 172 L458.1 165.4 L457.3 158.7 L456.2 152.1 L454.8 145.5 L453.2 138.9 L451.3 132.3 L449 125.7 L446.5 119.1 L443.6 112.4 L440.3 105.8 L436.6 99.2 L432.3 92.6 L427.5 86 L421.9 79.4 L415.4 72.7 L407.7 66.1" fill="none" stroke="#111" stroke-width="1.1" opacity="0.55"/>
<line x1="356.1" x2="356.1" y1="60" y2="310" stroke="#101010" stroke-width="1.5" stroke-dasharray="1.5 0.5" opacity="0.6"/>
</g>
<path d="M253 304.3 L237.4 297.7 L224.5 291 L213.3 284.4 L203.7 277.8 L195.2 271.2 L187.7 264.6 L181.1 258 L175.3 251.3 L170.2 244.7 L165.8 238.1 L161.9 231.5 L158.7 224.9 L155.9 218.3 L153.7 211.7 L152 205 L150.8 198.4 L150.1 191.8 L149.9 185.2 L150.1 178.6 L150.8 172 L152 165.4 L153.7 158.7 L155.9 152.1 L158.7 145.5 L161.9 138.9 L165.8 132.3 L170.2 125.7 L175.3 119.1 L181.1 112.4 L187.7 105.8 L195.2 99.2 L203.7 92.6 L213.3 86 L224.5 79.4 L237.4 72.7 L253 66.1 L459.2 66.1 L474.8 72.7 L487.7 79.4 L498.9 86 L508.5 92.6 L517 99.2 L524.5 105.8 L531.1 112.4 L536.9 119.1 L542 125.7 L546.4 132.3 L550.3 138.9 L553.5 145.5 L556.3 152.1 L558.5 158.7 L560.2 165.4 L561.4 172 L562.1 178.6 L562.3 185.2 L562.1 191.8 L561.4 198.4 L560.2 205 L558.5 211.7 L556.3 218.3 L553.5 224.9 L550.3 231.5 L546.4 238.1 L542 244.7 L536.9 251.3 L531.1 258 L524.5 264.6 L517 271.2 L508.5 277.8 L498.9 284.4 L487.7 291 L474.8 297.7 L459.2 304.3Z" fill="none" stroke="#222" stroke-width="1"/>
<linearGradient id="g1" x1="0" y1="0" x2="0" y2="1"><stop offset="0.000" stop-color="#ff0000"/><stop offset="0.050" stop-color="#ff2814"/><stop offset="0.100" stop-color="#ff4f28"/><stop offset="0.150" stop-color="#ff743c"/><stop offset="0.200" stop-color="#ff964f"/><stop offset="0.250" stop-color="#ffb462"/><stop offset="0.300" stop-color="#e5ce74"/><stop offset="0.350" stop-color="#cce385"/><stop offset="0.400" stop-color="#b2f396"/><stop offset="0.450" stop-color="#99fca6"/><stop offset="0.500" stop-color="#80ffb4"/><stop offset="0.550" stop-color="#66fcc2"/><stop offset="0.600" stop-color="#4df3ce"/><stop offset="0.650" stop-color="#33e3d9"/><stop offset="0.700" stop-color="#1acee3"/><stop offset="0.750" stop-color="#00b4ec"/><stop offset="0.800" stop-color="#1a96f3"/><stop offset="0.850" stop-color="#3374f8"/><stop offset="0.900" stop-color="#4d4ffc"/><stop offset="0.950" stop-color="#6628fe"/><stop offset="1.000" stop-color="#8000ff"/></linearGradient>
<rect x="599.6" y="77.5" width="12.8" height="216.8" fill="url(#g1)"/>
<path d="M599.6 77.5 L606 66 L612.4 77.5Z" fill="#ff0000"/>
<path d="M599.6 294.3 L606 305 L612.4 294.3Z" fill="#8000ff"/>
<path d="M599.6 77.5 L606 66 L612.4 77.5 L612.4 294.3 L606 305 L599.6 294.3Z" fill="none" stroke="#444" stroke-width="0.7"/>
<line x1="612.4" x2="616.2" y1="294.3" y2="294.3" stroke="#333" stroke-width="0.9"/>
<text x="619.2" y="299.3" font-size="14.2" textLength="9.6" lengthAdjust="spacingAndGlyphs" fill="#222">0</text>
<line x1="612.4" x2="616.2" y1="250.9" y2="250.9" stroke="#333" stroke-width="0.9"/>
<text x="619.2" y="255.9" font-size="14.2" textLength="9.6" lengthAdjust="spacingAndGlyphs" fill="#222">2</text>
<line x1="612.4" x2="616.2" y1="207.6" y2="207.6" stroke="#333" stroke-width="0.9"/>
<text x="619.2" y="212.6" font-size="14.2" textLength="9.6" lengthAdjust="spacingAndGlyphs" fill="#222">4</text>
<line x1="612.4" x2="616.2" y1="164.2" y2="164.2" stroke="#333" stroke-width="0.9"/>
<text x="619.2" y="169.2" font-size="14.2" textLength="9.6" lengthAdjust="spacingAndGlyphs" fill="#222">6</text>
<line x1="612.4" x2="616.2" y1="120.9" y2="120.9" stroke="#333" stroke-width="0.9"/>
<text x="619.2" y="125.9" font-size="14.2" textLength="9.6" lengthAdjust="spacingAndGlyphs" fill="#222">8</text>
<line x1="612.4" x2="616.2" y1="77.5" y2="77.5" stroke="#333" stroke-width="0.9"/>
<text x="619.2" y="82.5" font-size="14.2" textLength="19.2" lengthAdjust="spacingAndGlyphs" fill="#222">10</text>
<text transform="translate(657 185.5) rotate(-90)" font-size="16" text-anchor="middle" fill="#222" textLength="103" lengthAdjust="spacingAndGlyphs">×10<tspan font-size="10" dy="-6">3</tspan><tspan dy="6"> counts</tspan></text>
</g>
<g transform="translate(629.5 0)">
<text x="356.4" y="24.7" font-size="16.6" text-anchor="middle" textLength="196.5" lengthAdjust="spacingAndGlyphs" font-weight="bold" fill="#111">Nighttime (01-03 LT)</text>
<text x="253.4" y="61.4" font-size="14.2" text-anchor="middle" textLength="43.7" lengthAdjust="spacingAndGlyphs" fill="#222">180W</text>
<text x="253.4" y="319" font-size="14.2" text-anchor="middle" textLength="43.7" lengthAdjust="spacingAndGlyphs" fill="#222">180W</text>
<text x="302.2" y="61.4" font-size="14.2" text-anchor="middle" textLength="34" lengthAdjust="spacingAndGlyphs" fill="#222">90W</text>
<text x="302.2" y="319" font-size="14.2" text-anchor="middle" textLength="34" lengthAdjust="spacingAndGlyphs" fill="#222">90W</text>
<text x="356" y="61.4" font-size="14.2" text-anchor="middle" textLength="10.6" lengthAdjust="spacingAndGlyphs" fill="#222">0</text>
<text x="356" y="319" font-size="14.2" text-anchor="middle" textLength="10.6" lengthAdjust="spacingAndGlyphs" fill="#222">0</text>
<text x="402.4" y="61.4" font-size="14.2" text-anchor="middle" textLength="29" lengthAdjust="spacingAndGlyphs" fill="#222">90E</text>
<text x="402.4" y="319" font-size="14.2" text-anchor="middle" textLength="29" lengthAdjust="spacingAndGlyphs" fill="#222">90E</text>
<text x="458.3" y="61.4" font-size="14.2" text-anchor="middle" textLength="36.4" lengthAdjust="spacingAndGlyphs" fill="#222">180E</text>
<text x="458.3" y="319" font-size="14.2" text-anchor="middle" textLength="36.4" lengthAdjust="spacingAndGlyphs" fill="#222">180E</text>
<text x="146.7" y="101" font-size="14.2" textLength="37.2" lengthAdjust="spacingAndGlyphs" fill="#222">60°N</text>
<text x="528" y="101" font-size="14.2" textLength="37.2" lengthAdjust="spacingAndGlyphs" fill="#222">60°N</text>
<text x="117.9" y="142.6" font-size="14.2" textLength="37.2" lengthAdjust="spacingAndGlyphs" fill="#222">30°N</text>
<text x="557.5" y="142.6" font-size="14.2" textLength="37.2" lengthAdjust="spacingAndGlyphs" fill="#222">30°N</text>
<text x="128.5" y="188" font-size="14.2" textLength="17.7" lengthAdjust="spacingAndGlyphs" fill="#222">0°</text>
<text x="565.7" y="188" font-size="14.2" textLength="17.7" lengthAdjust="spacingAndGlyphs" fill="#222">0°</text>
<text x="119.6" y="237" font-size="14.2" textLength="36.2" lengthAdjust="spacingAndGlyphs" fill="#222">30°S</text>
<text x="557.5" y="237" font-size="14.2" textLength="36.2" lengthAdjust="spacingAndGlyphs" fill="#222">30°S</text>
<text x="148.4" y="275.3" font-size="14.2" textLength="35.5" lengthAdjust="spacingAndGlyphs" fill="#222">60°S</text>
<text x="528" y="275.3" font-size="14.2" textLength="35.5" lengthAdjust="spacingAndGlyphs" fill="#222">60°S</text>
<text x="104.3" y="186.6" font-size="13.8" text-anchor="middle" textLength="142.7" lengthAdjust="spacingAndGlyphs" transform="rotate(-90 104.3 186.6)" fill="#222">Geographic latitude</text>
<text x="356.2" y="356.8" font-size="13.8" text-anchor="middle" textLength="156.4" lengthAdjust="spacingAndGlyphs" fill="#222">Geographic longitude</text>
<clipPath id="c2"><path d="M253 304.3 L237.4 297.7 L224.5 291 L213.3 284.4 L203.7 277.8 L195.2 271.2 L187.7 264.6 L181.1 258 L175.3 251.3 L170.2 244.7 L165.8 238.1 L161.9 231.5 L158.7 224.9 L155.9 218.3 L153.7 211.7 L152 205 L150.8 198.4 L150.1 191.8 L149.9 185.2 L150.1 178.6 L150.8 172 L152 165.4 L153.7 158.7 L155.9 152.1 L158.7 145.5 L161.9 138.9 L165.8 132.3 L170.2 125.7 L175.3 119.1 L181.1 112.4 L187.7 105.8 L195.2 99.2 L203.7 92.6 L213.3 86 L224.5 79.4 L237.4 72.7 L253 66.1 L459.2 66.1 L474.8 72.7 L487.7 79.4 L498.9 86 L508.5 92.6 L517 99.2 L524.5 105.8 L531.1 112.4 L536.9 119.1 L542 125.7 L546.4 132.3 L550.3 138.9 L553.5 145.5 L556.3 152.1 L558.5 158.7 L560.2 165.4 L561.4 172 L562.1 178.6 L562.3 185.2 L562.1 191.8 L561.4 198.4 L560.2 205 L558.5 211.7 L556.3 218.3 L553.5 224.9 L550.3 231.5 L546.4 238.1 L542 244.7 L536.9 251.3 L531.1 258 L524.5 264.6 L517 271.2 L508.5 277.8 L498.9 284.4 L487.7 291 L474.8 297.7 L459.2 304.3Z"/></clipPath>
<g clip-path="url(#c2)">
<rect x="140" y="60" width="440" height="255" fill="url(#capg)"/>
<g filter="url(#bl15)" opacity="0.6">
<path d="M140.0 100.8 L175.0 99.8" stroke="#b8f29c" stroke-width="3.4" stroke-linecap="round"/>
<path d="M181.9 101.8 L225.4 100.5" stroke="#b8f29c" stroke-width="3.5" stroke-linecap="round"/>
<path d="M231.6 100.6 L264.8 99.6" stroke="#b8f29c" stroke-width="2.9" stroke-linecap="round"/>
<path d="M282.2 99.9 L332.0 98.4" stroke="#b8f29c" stroke-width="3.8" stroke-linecap="round"/>
<path d="M344.5 100.5 L372.8 99.6" stroke="#b8f29c" stroke-width="3.5" stroke-linecap="round"/>
<path d="M383.2 101.4 L422.2 100.2" stroke="#b8f29c" stroke-width="2.7" stroke-linecap="round"/>
<path d="M437.0 102.1 L486.4 100.6" stroke="#b8f29c" stroke-width="3.4" stroke-linecap="round"/>
<path d="M491.0 100.1 L506.1 99.7" stroke="#b8f29c" stroke-width="3.9" stroke-linecap="round"/>
<path d="M514.4 102.0 L542.2 101.1" stroke="#b8f29c" stroke-width="3.0" stroke-linecap="round"/>
<path d="M553.9 100.0 L584.1 99.0" stroke="#b8f29c" stroke-width="3.4" stroke-linecap="round"/>
<path d="M140.0 109.7 L162.9 109.0" stroke="#b8f29c" stroke-width="2.6" stroke-linecap="round"/>
<path d="M173.8 110.3 L217.4 109.0" stroke="#b8f29c" stroke-width="3.3" stroke-linecap="round"/>
<path d="M233.4 110.1 L253.6 109.4" stroke="#b8f29c" stroke-width="3.1" stroke-linecap="round"/>
<path d="M266.1 110.6 L285.0 110.0" stroke="#b8f29c" stroke-width="2.6" stroke-linecap="round"/>
<path d="M291.3 111.0 L334.6 109.7" stroke="#b8f29c" stroke-width="3.1" stroke-linecap="round"/>
<path d="M344.4 109.4 L368.0 108.6" stroke="#b8f29c" stroke-width="3.4" stroke-linecap="round"/>
<path d="M374.5 109.8 L393.7 109.2" stroke="#b8f29c" stroke-width="2.7" stroke-linecap="round"/>
<path d="M406.8 110.6 L450.5 109.2" stroke="#b8f29c" stroke-width="3.2" stroke-linecap="round"/>
<path d="M459.4 108.7 L489.6 107.8" stroke="#b8f29c" stroke-width="3.6" stroke-linecap="round"/>
<path d="M498.2 108.9 L524.4 108.1" stroke="#b8f29c" stroke-width="3.2" stroke-linecap="round"/>
<path d="M536.6 110.8 L565.2 109.9" stroke="#b8f29c" stroke-width="3.5" stroke-linecap="round"/>
<path d="M572.6 110.9 L606.0 109.9" stroke="#b8f29c" stroke-width="3.3" stroke-linecap="round"/>
<path d="M140.0 118.5 L172.1 117.5" stroke="#b8f29c" stroke-width="3.1" stroke-linecap="round"/>
<path d="M182.0 118.6 L217.5 117.6" stroke="#b8f29c" stroke-width="3.2" stroke-linecap="round"/>
<path d="M223.8 119.7 L254.3 118.8" stroke="#b8f29c" stroke-width="3.1" stroke-linecap="round"/>
<path d="M258.8 118.6 L273.8 118.2" stroke="#b8f29c" stroke-width="2.6" stroke-linecap="round"/>
<path d="M279.1 118.4 L298.0 117.9" stroke="#b8f29c" stroke-width="4.0" stroke-linecap="round"/>
<path d="M308.7 118.4 L339.8 117.5" stroke="#b8f29c" stroke-width="3.3" stroke-linecap="round"/>
<path d="M350.1 119.5 L390.5 118.3" stroke="#b8f29c" stroke-width="3.5" stroke-linecap="round"/>
<path d="M400.4 119.5 L438.1 118.4" stroke="#b8f29c" stroke-width="2.7" stroke-linecap="round"/>
<path d="M445.5 119.0 L482.1 117.9" stroke="#b8f29c" stroke-width="3.5" stroke-linecap="round"/>
<path d="M494.4 118.5 L538.4 117.2" stroke="#b8f29c" stroke-width="3.7" stroke-linecap="round"/>
<path d="M555.9 119.4 L586.1 118.5" stroke="#b8f29c" stroke-width="3.6" stroke-linecap="round"/>
<path d="M140.0 127.8 L187.0 126.4" stroke="#b8f29c" stroke-width="3.9" stroke-linecap="round"/>
<path d="M204.7 127.6 L229.7 126.8" stroke="#b8f29c" stroke-width="2.7" stroke-linecap="round"/>
<path d="M242.0 126.4 L289.2 125.0" stroke="#b8f29c" stroke-width="3.0" stroke-linecap="round"/>
<path d="M294.3 126.5 L316.1 125.8" stroke="#b8f29c" stroke-width="2.6" stroke-linecap="round"/>
<path d="M334.1 127.1 L380.2 125.7" stroke="#b8f29c" stroke-width="3.6" stroke-linecap="round"/>
<path d="M393.9 127.0 L427.2 126.0" stroke="#b8f29c" stroke-width="3.5" stroke-linecap="round"/>
<path d="M439.0 126.8 L463.3 126.1" stroke="#b8f29c" stroke-width="3.4" stroke-linecap="round"/>
<path d="M476.1 127.4 L498.4 126.8" stroke="#b8f29c" stroke-width="3.8" stroke-linecap="round"/>
<path d="M514.6 126.1 L552.4 125.0" stroke="#b8f29c" stroke-width="3.1" stroke-linecap="round"/>
<path d="M557.7 126.6 L574.6 126.1" stroke="#b8f29c" stroke-width="3.2" stroke-linecap="round"/>
<path d="M140.0 137.7 L164.9 137.0" stroke="#b8f29c" stroke-width="3.3" stroke-linecap="round"/>
<path d="M176.0 137.1 L200.2 136.4" stroke="#b8f29c" stroke-width="3.0" stroke-linecap="round"/>
<path d="M214.4 137.1 L246.3 136.2" stroke="#b8f29c" stroke-width="3.2" stroke-linecap="round"/>
<path d="M257.0 137.8 L296.1 136.6" stroke="#b8f29c" stroke-width="3.7" stroke-linecap="round"/>
<path d="M305.8 138.4 L348.6 137.1" stroke="#b8f29c" stroke-width="4.0" stroke-linecap="round"/>
<path d="M362.7 138.1 L380.0 137.6" stroke="#b8f29c" stroke-width="3.8" stroke-linecap="round"/>
<path d="M384.2 136.8 L410.7 136.0" stroke="#b8f29c" stroke-width="3.6" stroke-linecap="round"/>
<path d="M423.2 136.5 L448.1 135.7" stroke="#b8f29c" stroke-width="2.8" stroke-linecap="round"/>
<path d="M453.4 138.3 L496.1 137.0" stroke="#b8f29c" stroke-width="2.8" stroke-linecap="round"/>
<path d="M510.5 136.5 L558.8 135.0" stroke="#b8f29c" stroke-width="3.4" stroke-linecap="round"/>
<path d="M569.0 138.1 L618.1 136.6" stroke="#b8f29c" stroke-width="2.5" stroke-linecap="round"/>
<path d="M140.0 147.9 L175.1 146.9" stroke="#b8f29c" stroke-width="3.7" stroke-linecap="round"/>
<path d="M189.8 147.4 L238.2 146.0" stroke="#b8f29c" stroke-width="2.6" stroke-linecap="round"/>
<path d="M251.9 148.0 L268.7 147.5" stroke="#b8f29c" stroke-width="3.8" stroke-linecap="round"/>
<path d="M278.2 147.1 L314.3 146.0" stroke="#b8f29c" stroke-width="2.7" stroke-linecap="round"/>
<path d="M326.7 149.1 L372.0 147.7" stroke="#b8f29c" stroke-width="2.5" stroke-linecap="round"/>
<path d="M388.9 147.5 L421.8 146.5" stroke="#b8f29c" stroke-width="3.1" stroke-linecap="round"/>
<path d="M433.9 147.0 L461.0 146.2" stroke="#b8f29c" stroke-width="3.8" stroke-linecap="round"/>
<path d="M474.9 148.4 L511.3 147.3" stroke="#b8f29c" stroke-width="4.0" stroke-linecap="round"/>
<path d="M517.7 148.6 L561.6 147.3" stroke="#b8f29c" stroke-width="3.0" stroke-linecap="round"/>
<path d="M573.4 147.1 L604.4 146.2" stroke="#b8f29c" stroke-width="3.1" stroke-linecap="round"/>
<path d="M140.0 159.0 L161.6 158.4" stroke="#b8f29c" stroke-width="3.4" stroke-linecap="round"/>
<path d="M179.2 158.4 L222.0 157.1" stroke="#b8f29c" stroke-width="3.1" stroke-linecap="round"/>
<path d="M226.7 158.2 L243.5 157.7" stroke="#b8f29c" stroke-width="3.9" stroke-linecap="round"/>
<path d="M248.2 159.0 L269.4 158.4" stroke="#b8f29c" stroke-width="3.0" stroke-linecap="round"/>
<path d="M276.0 157.6 L324.1 156.1" stroke="#b8f29c" stroke-width="3.4" stroke-linecap="round"/>
<path d="M334.1 158.0 L361.2 157.1" stroke="#b8f29c" stroke-width="2.7" stroke-linecap="round"/>
<path d="M370.9 158.6 L412.2 157.4" stroke="#b8f29c" stroke-width="3.7" stroke-linecap="round"/>
<path d="M428.5 159.6 L449.6 159.0" stroke="#b8f29c" stroke-width="3.4" stroke-linecap="round"/>
<path d="M459.5 159.6 L492.4 158.6" stroke="#b8f29c" stroke-width="3.1" stroke-linecap="round"/>
<path d="M497.8 157.8 L546.4 156.3" stroke="#b8f29c" stroke-width="2.7" stroke-linecap="round"/>
<path d="M560.5 158.2 L586.3 157.4" stroke="#b8f29c" stroke-width="3.5" stroke-linecap="round"/>
<path d="M140.0 168.3 L186.8 166.9" stroke="#b8f29c" stroke-width="3.4" stroke-linecap="round"/>
<path d="M198.2 167.2 L213.6 166.8" stroke="#b8f29c" stroke-width="3.5" stroke-linecap="round"/>
<path d="M227.3 168.4 L245.7 167.8" stroke="#b8f29c" stroke-width="3.2" stroke-linecap="round"/>
<path d="M257.8 167.4 L286.8 166.5" stroke="#b8f29c" stroke-width="3.0" stroke-linecap="round"/>
<path d="M304.3 168.9 L325.9 168.3" stroke="#b8f29c" stroke-width="3.3" stroke-linecap="round"/>
<path d="M331.0 166.9 L374.4 165.6" stroke="#b8f29c" stroke-width="3.8" stroke-linecap="round"/>
<path d="M383.1 168.6 L430.3 167.2" stroke="#b8f29c" stroke-width="3.0" stroke-linecap="round"/>
<path d="M443.0 167.3 L492.6 165.8" stroke="#b8f29c" stroke-width="2.8" stroke-linecap="round"/>
<path d="M500.6 167.4 L544.3 166.1" stroke="#b8f29c" stroke-width="2.9" stroke-linecap="round"/>
<path d="M556.9 167.9 L592.4 166.8" stroke="#b8f29c" stroke-width="3.3" stroke-linecap="round"/>
<path d="M140.0 175.5 L156.0 175.0" stroke="#b8f29c" stroke-width="3.7" stroke-linecap="round"/>
<path d="M173.7 176.3 L193.0 175.7" stroke="#b8f29c" stroke-width="2.5" stroke-linecap="round"/>
<path d="M203.1 176.9 L241.3 175.7" stroke="#b8f29c" stroke-width="3.9" stroke-linecap="round"/>
<path d="M253.0 176.3 L269.8 175.8" stroke="#b8f29c" stroke-width="3.2" stroke-linecap="round"/>
<path d="M278.5 176.9 L294.8 176.4" stroke="#b8f29c" stroke-width="3.2" stroke-linecap="round"/>
<path d="M308.7 175.5 L336.4 174.7" stroke="#b8f29c" stroke-width="2.9" stroke-linecap="round"/>
<path d="M342.9 175.7 L374.0 174.8" stroke="#b8f29c" stroke-width="2.6" stroke-linecap="round"/>
<path d="M385.4 175.6 L405.3 175.0" stroke="#b8f29c" stroke-width="2.7" stroke-linecap="round"/>
<path d="M419.2 177.3 L462.4 176.0" stroke="#b8f29c" stroke-width="3.4" stroke-linecap="round"/>
<path d="M475.3 176.4 L516.7 175.1" stroke="#b8f29c" stroke-width="3.3" stroke-linecap="round"/>
<path d="M530.7 176.8 L567.9 175.7" stroke="#b8f29c" stroke-width="3.5" stroke-linecap="round"/>
<path d="M579.4 176.1 L601.8 175.4" stroke="#b8f29c" stroke-width="3.5" stroke-linecap="round"/>
<path d="M140.0 187.6 L168.1 186.8" stroke="#b8f29c" stroke-width="2.7" stroke-linecap="round"/>
<path d="M176.3 186.4 L221.1 185.1" stroke="#b8f29c" stroke-width="3.4" stroke-linecap="round"/>
<path d="M225.5 187.1 L261.8 186.0" stroke="#b8f29c" stroke-width="3.8" stroke-linecap="round"/>
<path d="M277.3 186.8 L319.4 185.6" stroke="#b8f29c" stroke-width="3.5" stroke-linecap="round"/>
<path d="M325.6 186.9 L357.7 186.0" stroke="#b8f29c" stroke-width="3.2" stroke-linecap="round"/>
<path d="M365.6 187.3 L388.0 186.6" stroke="#b8f29c" stroke-width="3.5" stroke-linecap="round"/>
<path d="M399.8 187.3 L448.2 185.9" stroke="#b8f29c" stroke-width="2.7" stroke-linecap="round"/>
<path d="M461.2 188.3 L487.3 187.5" stroke="#b8f29c" stroke-width="2.7" stroke-linecap="round"/>
<path d="M497.7 188.3 L536.3 187.2" stroke="#b8f29c" stroke-width="3.3" stroke-linecap="round"/>
<path d="M545.6 187.9 L587.7 186.6" stroke="#b8f29c" stroke-width="3.9" stroke-linecap="round"/>
<path d="M140.0 197.1 L189.7 195.6" stroke="#b8f29c" stroke-width="3.2" stroke-linecap="round"/>
<path d="M202.9 197.0 L247.1 195.7" stroke="#b8f29c" stroke-width="3.6" stroke-linecap="round"/>
<path d="M252.4 195.7 L269.8 195.2" stroke="#b8f29c" stroke-width="3.2" stroke-linecap="round"/>
<path d="M278.1 196.7 L319.4 195.4" stroke="#b8f29c" stroke-width="3.1" stroke-linecap="round"/>
<path d="M333.1 197.1 L354.9 196.5" stroke="#b8f29c" stroke-width="2.9" stroke-linecap="round"/>
<path d="M361.1 196.9 L389.4 196.0" stroke="#b8f29c" stroke-width="3.4" stroke-linecap="round"/>
<path d="M403.0 195.8 L446.7 194.4" stroke="#b8f29c" stroke-width="3.9" stroke-linecap="round"/>
<path d="M464.5 196.6 L498.2 195.6" stroke="#b8f29c" stroke-width="3.8" stroke-linecap="round"/>
<path d="M510.5 196.4 L530.1 195.8" stroke="#b8f29c" stroke-width="3.2" stroke-linecap="round"/>
<path d="M546.0 194.9 L568.4 194.2" stroke="#b8f29c" stroke-width="2.8" stroke-linecap="round"/>
<path d="M574.8 195.3 L603.2 194.5" stroke="#b8f29c" stroke-width="3.0" stroke-linecap="round"/>
<path d="M140.0 204.6 L172.0 203.6" stroke="#b8f29c" stroke-width="2.5" stroke-linecap="round"/>
<path d="M185.4 205.6 L218.0 204.6" stroke="#b8f29c" stroke-width="3.8" stroke-linecap="round"/>
<path d="M222.6 204.8 L262.6 203.6" stroke="#b8f29c" stroke-width="3.8" stroke-linecap="round"/>
<path d="M268.2 204.7 L312.6 203.4" stroke="#b8f29c" stroke-width="2.6" stroke-linecap="round"/>
<path d="M323.1 203.9 L368.8 202.5" stroke="#b8f29c" stroke-width="3.1" stroke-linecap="round"/>
<path d="M373.9 205.7 L389.1 205.2" stroke="#b8f29c" stroke-width="3.3" stroke-linecap="round"/>
<path d="M401.1 203.9 L447.6 202.5" stroke="#b8f29c" stroke-width="3.9" stroke-linecap="round"/>
<path d="M462.1 205.7 L506.9 204.3" stroke="#b8f29c" stroke-width="3.1" stroke-linecap="round"/>
<path d="M511.2 205.2 L561.2 203.7" stroke="#b8f29c" stroke-width="3.6" stroke-linecap="round"/>
<path d="M574.9 205.3 L600.4 204.5" stroke="#b8f29c" stroke-width="3.2" stroke-linecap="round"/>
<path d="M140.0 214.2 L171.4 213.2" stroke="#b8f29c" stroke-width="3.6" stroke-linecap="round"/>
<path d="M188.1 213.5 L224.0 212.4" stroke="#b8f29c" stroke-width="3.3" stroke-linecap="round"/>
<path d="M236.9 214.2 L280.4 212.9" stroke="#b8f29c" stroke-width="2.9" stroke-linecap="round"/>
<path d="M289.6 215.3 L310.3 214.7" stroke="#b8f29c" stroke-width="2.5" stroke-linecap="round"/>
<path d="M322.2 213.5 L366.3 212.2" stroke="#b8f29c" stroke-width="2.7" stroke-linecap="round"/>
<path d="M384.2 215.3 L410.0 214.5" stroke="#b8f29c" stroke-width="2.5" stroke-linecap="round"/>
<path d="M420.5 214.1 L437.0 213.6" stroke="#b8f29c" stroke-width="2.5" stroke-linecap="round"/>
<path d="M450.5 214.3 L481.4 213.4" stroke="#b8f29c" stroke-width="3.1" stroke-linecap="round"/>
<path d="M494.9 213.8 L519.0 213.1" stroke="#b8f29c" stroke-width="2.6" stroke-linecap="round"/>
<path d="M532.2 214.0 L570.4 212.9" stroke="#b8f29c" stroke-width="3.3" stroke-linecap="round"/>
<path d="M140.0 224.0 L181.8 222.7" stroke="#b8f29c" stroke-width="3.3" stroke-linecap="round"/>
<path d="M196.7 224.6 L236.1 223.4" stroke="#b8f29c" stroke-width="2.9" stroke-linecap="round"/>
<path d="M240.9 224.9 L272.8 223.9" stroke="#b8f29c" stroke-width="3.0" stroke-linecap="round"/>
<path d="M287.0 223.3 L318.5 222.4" stroke="#b8f29c" stroke-width="3.4" stroke-linecap="round"/>
<path d="M330.2 223.6 L356.4 222.8" stroke="#b8f29c" stroke-width="4.0" stroke-linecap="round"/>
<path d="M368.6 223.2 L409.0 222.0" stroke="#b8f29c" stroke-width="3.6" stroke-linecap="round"/>
<path d="M415.2 224.1 L447.1 223.1" stroke="#b8f29c" stroke-width="3.1" stroke-linecap="round"/>
<path d="M462.2 225.4 L484.3 224.8" stroke="#b8f29c" stroke-width="3.8" stroke-linecap="round"/>
<path d="M495.2 224.5 L540.9 223.1" stroke="#b8f29c" stroke-width="3.9" stroke-linecap="round"/>
<path d="M551.7 224.9 L600.9 223.5" stroke="#b8f29c" stroke-width="3.5" stroke-linecap="round"/>
<path d="M140.0 234.9 L163.6 234.2" stroke="#b8f29c" stroke-width="2.8" stroke-linecap="round"/>
<path d="M173.2 233.8 L212.9 232.7" stroke="#b8f29c" stroke-width="3.1" stroke-linecap="round"/>
<path d="M220.1 233.9 L249.6 233.1" stroke="#b8f29c" stroke-width="3.6" stroke-linecap="round"/>
<path d="M265.2 235.1 L297.1 234.1" stroke="#b8f29c" stroke-width="3.6" stroke-linecap="round"/>
<path d="M312.4 235.0 L355.5 233.7" stroke="#b8f29c" stroke-width="3.6" stroke-linecap="round"/>
<path d="M369.7 235.3 L403.0 234.3" stroke="#b8f29c" stroke-width="2.8" stroke-linecap="round"/>
<path d="M417.1 234.7 L454.4 233.6" stroke="#b8f29c" stroke-width="3.4" stroke-linecap="round"/>
<path d="M471.3 235.0 L513.9 233.8" stroke="#b8f29c" stroke-width="3.9" stroke-linecap="round"/>
<path d="M530.1 235.5 L556.6 234.7" stroke="#b8f29c" stroke-width="3.8" stroke-linecap="round"/>
<path d="M568.7 233.8 L616.1 232.4" stroke="#b8f29c" stroke-width="3.7" stroke-linecap="round"/>
<path d="M140.0 243.9 L172.8 242.9" stroke="#b8f29c" stroke-width="3.3" stroke-linecap="round"/>
<path d="M178.1 244.6 L195.1 244.1" stroke="#b8f29c" stroke-width="2.9" stroke-linecap="round"/>
<path d="M203.0 244.7 L242.5 243.5" stroke="#b8f29c" stroke-width="3.3" stroke-linecap="round"/>
<path d="M258.0 245.0 L285.3 244.2" stroke="#b8f29c" stroke-width="3.5" stroke-linecap="round"/>
<path d="M301.1 244.6 L344.6 243.3" stroke="#b8f29c" stroke-width="3.9" stroke-linecap="round"/>
<path d="M359.2 243.2 L389.9 242.2" stroke="#b8f29c" stroke-width="3.1" stroke-linecap="round"/>
<path d="M402.5 244.3 L418.3 243.8" stroke="#b8f29c" stroke-width="3.1" stroke-linecap="round"/>
<path d="M429.0 243.1 L446.3 242.6" stroke="#b8f29c" stroke-width="3.5" stroke-linecap="round"/>
<path d="M454.1 245.0 L474.5 244.4" stroke="#b8f29c" stroke-width="2.6" stroke-linecap="round"/>
<path d="M488.3 245.0 L532.1 243.7" stroke="#b8f29c" stroke-width="3.5" stroke-linecap="round"/>
<path d="M536.9 245.0 L567.2 244.1" stroke="#b8f29c" stroke-width="3.1" stroke-linecap="round"/>
<path d="M578.7 244.3 L619.7 243.0" stroke="#b8f29c" stroke-width="3.0" stroke-linecap="round"/>
<path d="M140.0 252.7 L166.6 251.9" stroke="#b8f29c" stroke-width="2.9" stroke-linecap="round"/>
<path d="M184.6 253.4 L209.8 252.6" stroke="#b8f29c" stroke-width="4.0" stroke-linecap="round"/>
<path d="M215.3 253.5 L239.1 252.7" stroke="#b8f29c" stroke-width="3.2" stroke-linecap="round"/>
<path d="M248.8 252.9 L273.4 252.2" stroke="#b8f29c" stroke-width="3.3" stroke-linecap="round"/>
<path d="M279.8 254.4 L294.9 253.9" stroke="#b8f29c" stroke-width="3.6" stroke-linecap="round"/>
<path d="M303.9 252.9 L349.8 251.6" stroke="#b8f29c" stroke-width="3.9" stroke-linecap="round"/>
<path d="M363.3 252.7 L401.8 251.5" stroke="#b8f29c" stroke-width="3.6" stroke-linecap="round"/>
<path d="M408.2 253.9 L441.9 252.9" stroke="#b8f29c" stroke-width="2.6" stroke-linecap="round"/>
<path d="M450.0 254.4 L497.2 253.0" stroke="#b8f29c" stroke-width="3.0" stroke-linecap="round"/>
<path d="M514.9 254.1 L532.4 253.6" stroke="#b8f29c" stroke-width="3.7" stroke-linecap="round"/>
<path d="M548.3 254.3 L585.9 253.2" stroke="#b8f29c" stroke-width="2.9" stroke-linecap="round"/>
<path d="M140.0 263.4 L175.1 262.3" stroke="#b8f29c" stroke-width="3.5" stroke-linecap="round"/>
<path d="M179.8 264.3 L212.4 263.3" stroke="#b8f29c" stroke-width="3.0" stroke-linecap="round"/>
<path d="M224.8 263.6 L241.7 263.0" stroke="#b8f29c" stroke-width="3.2" stroke-linecap="round"/>
<path d="M257.3 265.0 L291.1 264.0" stroke="#b8f29c" stroke-width="3.1" stroke-linecap="round"/>
<path d="M307.6 263.9 L343.0 262.8" stroke="#b8f29c" stroke-width="2.8" stroke-linecap="round"/>
<path d="M358.5 263.7 L401.4 262.4" stroke="#b8f29c" stroke-width="3.0" stroke-linecap="round"/>
<path d="M409.2 263.0 L436.1 262.2" stroke="#b8f29c" stroke-width="3.8" stroke-linecap="round"/>
<path d="M446.2 264.4 L467.4 263.7" stroke="#b8f29c" stroke-width="2.8" stroke-linecap="round"/>
<path d="M483.7 264.1 L498.9 263.6" stroke="#b8f29c" stroke-width="3.5" stroke-linecap="round"/>
<path d="M507.7 264.9 L529.4 264.3" stroke="#b8f29c" stroke-width="3.4" stroke-linecap="round"/>
<path d="M543.2 262.8 L564.0 262.1" stroke="#b8f29c" stroke-width="3.9" stroke-linecap="round"/>
<path d="M570.6 264.6 L587.5 264.1" stroke="#b8f29c" stroke-width="3.3" stroke-linecap="round"/>
<path d="M140.0 274.9 L172.8 273.9" stroke="#b8f29c" stroke-width="3.4" stroke-linecap="round"/>
<path d="M178.9 274.6 L215.8 273.5" stroke="#b8f29c" stroke-width="4.0" stroke-linecap="round"/>
<path d="M224.2 272.8 L259.4 271.7" stroke="#b8f29c" stroke-width="3.9" stroke-linecap="round"/>
<path d="M265.4 274.7 L303.2 273.6" stroke="#b8f29c" stroke-width="3.2" stroke-linecap="round"/>
<path d="M320.9 274.0 L350.1 273.1" stroke="#b8f29c" stroke-width="3.8" stroke-linecap="round"/>
<path d="M354.4 274.7 L399.6 273.3" stroke="#b8f29c" stroke-width="2.7" stroke-linecap="round"/>
<path d="M413.4 273.1 L438.0 272.4" stroke="#b8f29c" stroke-width="3.3" stroke-linecap="round"/>
<path d="M452.0 273.5 L480.3 272.6" stroke="#b8f29c" stroke-width="2.8" stroke-linecap="round"/>
<path d="M492.3 274.7 L527.7 273.7" stroke="#b8f29c" stroke-width="3.8" stroke-linecap="round"/>
<path d="M531.9 273.0 L552.0 272.4" stroke="#b8f29c" stroke-width="2.9" stroke-linecap="round"/>
<path d="M566.4 274.4 L598.5 273.4" stroke="#b8f29c" stroke-width="3.8" stroke-linecap="round"/>
</g>
<g filter="url(#bl1)">
<path d="M343 133 L381 137 L406 142 L423 150 L430 156 L420 153 L400 150 L381 146 L343 140Z" fill="#f4be80" stroke="#f4be80" stroke-width="3" stroke-linejoin="round" opacity="0.9"/>
<path d="M160 112 L186 108.5 L199.6 105.2 L212.8 103.2 L232.1 102.5 L232.1 122.4 L227.8 133.2 L227.8 144 L234.2 154.8 L251.5 163.4 L266.6 169.9 L267.7 180.7 L266.6 193.6 L270.9 210.9 L275.3 223.8 L277.4 241.1 L275.3 256.2 L270.9 262.7 L266.6 260.5 L264.5 241.1 L264.5 223.8 L253.7 204.4 L251.5 191.4 L251.5 180.7 L238.6 174.2 L232.1 167.7 L219.1 154.8 L217 144 L219.1 128.9 L217 117 L203.5 119 L190.3 122.3 L173.2 123 L160 126Z" fill="#ff1010" stroke="#ff6a2a" stroke-width="2.6" stroke-linejoin="round"/>
<path d="M343.1 124.4 L380.9 122.7 L406.1 124.4 L431.3 123.6 L448.1 123.6 L468.3 128.6 L473.4 116.8 L490.2 116.8 L507 118.5 L512 111.8 L515.4 109.3 L528.8 109.3 L538.9 116 L550 116 L550 124 L535.5 123.6 L523.8 128.6 L515.4 135.3 L508.7 145.4 L503.6 152.1 L496.9 158.8 L495.2 165.6 L505.3 175.6 L512 182.4 L513.2 186.8 L535.1 189.9 L546 202.4 L549.1 211.7 L544.4 227.3 L539.7 239.8 L527.3 250.7 L513.2 256.9 L505.5 261.6 L501.6 258.5 L507 255.4 L524.2 246 L533.5 236.6 L538.2 221.1 L539.7 211.7 L535.1 205.5 L528.8 200.8 L513.2 200.8 L507 195.8 L498.6 185.7 L491.8 179 L478.4 172.3 L465 165.6 L448.1 160.5 L431.3 158.8 L422.9 152.1 L406.1 143.7 L380.9 138.7 L343.1 135.3Z" fill="#ff1010" stroke="#ff6a2a" stroke-width="2.6" stroke-linejoin="round"/>
</g>
<path d="M356.2 180 L361.4 185.2 L356.2 190.5 L351 185.2Z" fill="#ff1010"/>
<path d="M236.1 93.1 224.5 105.4 226.1 105.8 226.9 107.1 229.1 106.1 229.6 107.9 230.5 111.2M231.8 120.4 245 120.4 259.9 120.4 260.3 119.8 265 121.7 269.5 123.7 271 125.3 269.6 129.6 273.7 128.4 276.8 126.7 279 125.7 282.3 125.7 284.5 123.4 285.5 122.5 286.9 122.9 286.3 124.9 286.9 125.7M228.7 142.2 231.4 141.9 234.8 143.8 237.9 143.8 239.9 143.1 241.3 146 242.8 146.8 244.7 145.8 246.2 148.8 248.1 150.8M251.5 166 252 161.7 253.4 161.7 255.5 161.7 255.1 164.2M254.8 166.1 256.4 164.4 258.5 166.7 260.3 165.5 261.8 165.4M256.3 167.6 257.6 166.9 258.5 170.5 260.7 170.6M261.4 174.6 261.9 172.5M267.7 173.7 267.9 175.3M275 168.9 273.5 170.6 273.5 174.4 276.1 175.9 278.9 177 278.7 181.9 276.4 183 276.1 190.8 272.5 189.2 269.9 185.3 267.3 184.1 265.8 183.1M287.6 174 286.3 176.6 286.8 179.2 282.8 179.9 282.2 181.9 279.6 183.6 278.7 181.9M290.9 177.3 289.7 179.2 290.2 182.7 287.6 183.5 286.8 179.2M294.3 177.7 293.7 182.2 290.2 182.7M296.9 179.5 296 182.3 293.7 182.2M264.3 189.6 266.3 191.8 269.6 187.2 269.9 185.3M276.1 190.8 272.7 194.9 272.6 197.8 275.7 197.8 276.9 199.8 278 201.9 277.4 205.7 278.2 208.4 276.7 209.4M276.9 199.8 281.6 198.4 283.9 201.7 287.4 203.5 288.2 206.6 290.2 206.8 291.2 211.4 289.7 210.7 286.1 212.3 286 214.7 282.5 214.4 281 215.4 278.9 212.3 278.2 208.4M291.2 211.4 291.3 214.4 293.7 214.7 295.5 219.1 296.6 221.1 294.5 221.4 291.3 221.3 289.2 217 286 214.7M296.6 221.1 293 225.2 298.1 229.8M293 225.2 292.9 229 292.9 230.6M281 215.4 279.8 217.6 280.5 220.9 279.7 225.6 280.2 229.5 280.3 232.8 280.6 237.5 281.3 242.1 282.1 246.1 282.3 250.7 284.2 253.3 288.4 254.4M346.5 148.6 341.5 148.6 346.5 148.6 346.4 150.9 342.8 150.9 342.7 154.2 341.4 157 337 157.4M354.3 138.9 354.8 142.9 352.2 143.4 346.5 147.2 346.5 148.6M365.3 136.4 365.1 139.4 364.2 140.9 366.5 145.1 367.2 152.8 369.4 154.1 371.8 155.4 372.9 154.8 378 156.8 383.1 158.7 383.1 159.4 383.3 164.4 381.6 166.7 381.1 168.3 382.9 172 380.6 173 377.8 173.3 377.2 174.6 374.4 175.3 373.8 175.3 372.7 177 372.7 179.9 374.4 182.3 374.5 183 372.7 182.3 369 182.3 367.3 182.2M368.6 141.4 368.7 144.8 367.1 144.8 366.5 145.1M383.4 143.4 384.1 156.1 397.4 156.1M384.1 156.1 383.1 158.7 383.1 159.4M342.7 154.2 349.4 154.1 350.4 163.4 343.1 165.4 342.3 165.8 337.1 168.7M349.4 154.1 357.2 157.4 360.8 159.8 360.6 163.4 357.6 165.1 350.4 163.4M360.8 159.8 369.5 154.1M360.6 163.4 360.2 169.7 357.1 170.6 355.9 170.5 352.8 170.6 349.9 171.4 346.8 171.3 346.4 175 347.5 179.4M352.8 170.6 353 172.6 353.2 178.3M357.1 170.6 356.7 174.6 357.5 177.1M360.2 169.7 359.2 174 359.2 176.9M360.2 169.7 371.4 167.3 372 168.3 372.6 169.3 371.5 172 370.4 174 365.9 179M371.4 167.3 373.6 164 372.9 154.8M343.1 165.4 342 168.5 344.7 169.6 346.8 171.3M340.7 172.6 344.1 174 344.4 175.7 343 176.1M346.4 175 344.4 175.7M381.1 168.3 381.6 166.7 383.3 164.4M383.1 158.7 383.3 164.4 387.4 170.6 389.2 172.5 393.1 169.1 394.9 172.6 397 168.7 397.5 166.3 397.9 162.4 399.5 161.4M382.9 172 384.6 171.7 387.4 170.6M389.2 172.5 387.6 178.6 391.4 180.6 394.5 180.2 396.2 179.2 397.2 178.6M397 168.7 401.5 166 403.2 166M397.2 178.6 399.6 180.4 403 179.9 404.2 179.6 407.6 178.6 410.7 174.6 406.3 173.3 404.7 170.6M403 179.9 403.1 187.4 404 186.5M397.2 178.6 395 179.6 394.9 186.5 399 189.8 401 191.3M394.9 186.5 391 186.5 390 187.1 389.3 188.9 390.8 190.5 391.3 195.8 393.9 197.8 395.4 200.5 396.2 200.4 402.2 199.1M391.4 180.6 387.6 178.6 385.9 178.6 384.7 178.2 381.9 179.5 377.3 180.6 374.4 182.3M391.4 180.6 390 187.1M370.1 192.9 375 192.9 376.7 195.5 381 194.9 381.2 199.8 383.4 199.8 385.1 200 388 201.3 389.6 202.8 389.8 201.3 388.5 197.1 389.8 193.1 389.5 189.2 390 187.1M369.4 207.7 371.4 208 377 208.2 382.6 208.7 384.7 208.7 387.8 206.4 390.5 205.8 393.4 207.2 393 210.3 391.9 214.7 391.1 214.8 389 214.4 387.4 215.4 386 217.9 384.4 219.2 381.6 218.9 378.4 218 378.1 222.8 374.3 223M381.2 199.8 383.4 202.4 381 206.6 382.6 208.7M378.4 218 378.5 214.3 379.8 209 382.6 208.7M387.8 206.4 387.9 202M396.2 200.4 395.5 203.7 396.3 206.4 393.4 207.2M391.1 214.8 391.5 220.7 392.5 220.7M358 129 354.2 127.8M349.6 130.2 348.9 129.8 347.5 129.6 346.9 129.6M349.6 130.2 348.7 132.9 348.1 135.6M358.6 117.6 360.3 119.2 362.2 119.7 363.8 120.4 364.4 121.7 363.8 122.2 363 122.6 362.3 124.1 363.3 124.5 363.9 126.9M363.8 122.2 365.8 122.4 366.8 123.3 368.7 122.1 369.3 122.4 369.3 120.8 371.3 120.4 373.2 120.9 375 119.7 378.8 120.2 380.1 118 379.3 115.7 379.1 113.9 378.4 113.2M362.1 116.7 362.3 117.7 362.1 118.9M363 114.7 363 116.1 362.1 116.7M365.4 112.7 364.5 112.6M370 113.9 370.5 115.7 371.1 117.6 368.2 118.7 369.3 120.8M373.2 120.9 373.4 121.7 372.9 122.4 372.8 123.3 372.1 123.7 370.1 123.7 368.7 122.1M373.4 121.7 375.2 122 379 121.4 377.7 124.1 375.4 124.5 373 123.7M379 121.4 381 121.8 383.1 121.3 385.1 124.3 385 125 386.6 125.4M377.7 124.1 379.4 126.2 382.1 127.4 384.1 126.9 385.8 127.4M379.4 126.2 379.5 129.2 380.2 130.6 383.7 130 385.4 129.6M376.4 129.8 377.8 131 378.2 131.8 377.5 132.7M372 124.5 374.1 124.5 376.2 125.4 376.1 127.5 375.4 129M379.5 129.2 377.7 129.8 376.4 129.8M379.1 113.9 381 113.4 381.8 111.5 383.3 110.8 382.5 109.1 382.4 106.5M381.8 111.5 380.2 110.8 376.4 111M380.2 110.8 379.3 109.5M380.1 118 381.9 116.5 386.5 117.1 387.6 116.3 390.4 117.3 391.5 118.4 394.5 119.2 396.4 119.6 396.5 122 395.1 122.9M383.3 110.8 386.6 111.8 387.6 116.3M385.1 124.3 387 124.6M380.5 93.9 381.5 96.7 383.3 100.9 384.8 102 382 105.2M380.5 93.9 378.2 93 376.8 94.4 374.1 93.9 373.4 94.8 371.8 95.9 370.3 98.5 368.2 99.7 367.2 104.5 367.8 105.8 366.9 107.1M373.4 94.8 376.9 97.9 377.4 98.1M383.6 130 385.4 129.6M394.9 136.8 395.8 136.8 398.9 136.3 401.4 136.1 404 136 403.1 133.1 401.3 130.8 399.8 130.3M394.6 137.8 395.7 139.7 398.2 141 400.4 139.7 401.4 136.1M394.6 141.3 395 141.1 395.7 139.7M394.4 146.2 395.7 145.8 397.2 144.8 397.6 143.5 398.6 142.9 400.4 139.7M398.6 142.9 402.8 143.5 405.3 146.6 407.2 146.7 408.7 147.5 409.4 147.4M395.7 145.8 397.7 144.2 398.6 142.9 400.2 143M401.3 130.8 405.1 131 407.1 129.9 404.6 125.7M405.1 131 403.5 132.7 403.1 133.1M404 136 405 137.7 405.7 138.9 405.4 140.2 408.6 144.3 409.3 145.5M407.1 129.9 409.8 129.6 411.6 129.6M411 131.6 416.9 134.9 421 136.9 422 138.1 423.9 137.8 425.6 136 428.7 136.1 430.9 135.5 432.8 136.9 435.9 136.3 432.4 137.6 433 140.2 431.4 140.5 432.5 143.5 429.1 145.6 424.2 146.2 424.3 150.1 424.8 152.1M422 138.1 422 139.8 422.6 146.4 423.1 146.2M433 140.2 436.1 139.6 438.3 142.2 437.7 144.2 437.4 146.2 435 148.4 433.4 148.8 434.2 152.1 432.2 153.8M438.3 142.2 441.5 141.9 442.5 144.2 445 145.5 447.6 146.2 449.8 147.6 453.2 148.3 454.3 148.2 457.7 148.4 461.6 146.3 463.4 147.9 464.5 152.1 462 153.6 460.6 155.7 460.1 157.3M453.2 148.3 453.7 150.1 454.8 150.8 455.7 150.8M454.8 150.8 455.6 151.7 454.4 153.2 455.8 156.1 457.4 156.1M464.5 152.1 466 152.8 466.5 155.4 468.2 156.6 469.4 156.8M469.4 156.8 470 155.6 471.3 155.4 473.7 154.4 475.4 155 477.1 156.6M468.2 156.6 469.1 158.6 466.4 160.7 468 163.6 467.8 165.4 469.2 171.3M469.1 158.6 471.2 161.4 474.4 162.2 475.6 164 476.2 166.5 473.2 166.3 472.8 169.3M473.5 158.3 472.7 160.1 474.5 160.7 476.4 162.3M476.2 166.5 478 165.9 477.8 168.9 475.8 171.3 475.6 172M423.2 112 427.6 113.8 430.9 113.5 432.7 114.4 436 117.7 439 117.7 442.2 119.7 444.2 120.1 446.2 118.4 448.2 118.3 451.5 119.1 453.3 116.4 457.7 117.3 464.9 119.7 468.1 120 470.5 118.8 473.2 119.1 474 115.3 475.5 114.6 479.2 115 483.9 119.4 489.4 122.1 493 121.2 493.5 125.7 491.7 125.9 492.7 129.1M444.2 120.1 449.3 123.7 455.6 126.6 460.6 128.8 466.3 130.2 471.7 127.8 471.5 125.5 475.5 123.7 477.9 122.4 473.2 119.1M423.2 112 419.5 113 415.9 113.9 416.1 116.4 411.1 118.3 407.3 117.1 404.3 119.1 403.9 121.7 405.8 123.7 404.6 125.7M444.2 120.1 443 123 441.1 125 439.3 125.8 440.1 129.4 438.2 130.8 434.8 131.9 434.2 132.9 435.9 136.3M440.1 129.4 436.4 128.3 433.4 128 430.4 129.2 430.3 131 433.4 132.5 434.2 132.9M430.4 129.2 428.6 130.6 425.8 129.6 423.7 127.7 419.3 126.3 416.4 125 413.9 125.7 414.9 130.6 416 130.6 417.3 129 419 129.6 420.3 131 422.3 132.8 424.7 133.9 427.2 135.7M430.3 131 428.7 132.9 428.9 136.3M488.3 132.8 488.8 131 490.8 130.3 490.8 129.6 492.7 129.1M490.8 135.3 491.9 134.5 492.6 134.1M517.6 188.6 517 197.2M481.8 182.6 483.8 183.9 487.3 183.2 488.3 180.3 489.5 179.5 490.8 179.6" fill="none" stroke="#000" stroke-width="0.55" opacity="0.7" stroke-linejoin="round"/>
<path d="M206.7 98.4 212 96.6 213.5 96.7 212.1 94.8 213.5 94 220.2 92.2 225.6 90.7 228.6 91.5 231 92.2 236.1 93.1 240.7 93.7 246.9 92.6 248.9 91.8 250.4 93.4 253.5 93.7 256.2 95.5 261.7 95.2 263.9 94.6 268.4 95.5 272.8 94.8 276.5 92.6 277 90.2 278.7 91.9 279.7 94.2 283.6 92.7 286.3 93.3 284.7 96.6 280.2 97.2 277 99.9 273.7 101.5 269 104.4 267.1 107.4 267.6 109.5 271.2 111.1 276.2 112.3 275.1 115.1 275.9 117.3 277.5 117.1 278.3 115.7 278.5 113.1 281.7 111.4 283 109.1 283 107.1 283.6 104.9 285.3 102.5 288.7 102.8 291.3 104.2 290.5 107.1 292.1 108.1 294.6 106.5 295.9 105.4 296 107.8 297 110.5 297.9 112 300.1 113.5 300.9 115.7 299.8 117.2 295.9 118.8 291.4 118.8 289.3 119.2 285.5 121.7 289.5 120.2 291.2 120.6 289.9 122.4 289.9 123.9 292.9 124.6 294.5 124.1 293.2 125.4 290.9 126.2 287.6 127.7 289.6 125.3 286.9 125.7 285.6 126.6 283.1 127.5 282.3 128.8 282.7 129.9 280.9 130.6 278.1 131.5 277.6 132.9 276.4 133.9 275.3 135.9 274.5 136.4 274.7 138.6 272.9 139.6 271.1 140.5 269.7 141.5 267.8 142.9 266.9 144.8 267.3 147.5 267.5 150.1 266.7 151.9 265.9 151.7 265.5 150.1 264.7 148.2 265 146.8 264 145.5 262.2 145.9 260.8 145 259.1 145 258 145.2 257.9 146.6 256.6 146.6 255.1 146 252.9 146 250.9 147.4 248.8 148.6 248.1 150.8 247.2 153.4 246.6 155.8 246.9 158.1 247.8 159.9 249.5 161.1 252.4 160.6 253.7 159.7 254.7 157.4 257.5 156.6 258.6 156.8 257.7 159.4 256.9 160.7 256.2 163.8 257 164.3 260.4 164.2 261.7 165.4 261.1 168 260.7 170.6 262 172.2 263.6 173.6 265.4 172.6 267.1 173.3 268.2 174.1 269.4 172.6 270 171.2 271.8 170.4 273.6 169.6 275.1 168.9 276.4 169.7 278 171.3 280.9 171.2 283.2 171.2 285.4 171.2 286.5 172.6 287.6 174 288.7 175 290.7 177.3 293.2 177.4 295.5 177.9 296.9 179.5 298.2 182.8 298.8 184.5 299 185.9 300.5 187.2 303.4 186.5 305.5 188.5 308.6 189 311.4 190.2 313.5 191.7 315.7 192.3 316.3 195.1 315.9 197.1 313.9 199.8 312.3 202.4 311.9 205 311.8 208.6 310.8 212.1 310.2 214 309.2 215.5 306.9 215.6 305.4 216.7 302.5 219.2 302.5 222.5 301.4 224.2 300.2 226.9 298.6 229.5 297.8 231.1 296.2 231.4 294.7 231.4 292.9 230.6 294.5 232 294.5 233.5 295.3 233.5 294.7 235.6 292.8 236.4 290.1 236.7 290.4 238.9 287.7 239.2 289.2 240.8 288.7 241.4 288.5 243 288.5 244.7 286.8 246.1 288.8 248 287.9 250.7 287 252 288.4 254.4 287 255.1 286 256.4 284.2 255.3 282 253.3 279.6 249.4 279.8 246.7 279.6 243.4 279.6 240.8 278.2 238.1 277.8 234.4 278 232.2 278.2 228.9 277.7 224.9 277.2 220.9 277.5 217 277.2 211.7 276.7 209.4 274.7 207.7 270.5 205 269.1 202.4 267.1 198.4 265.3 195.1 263.2 193.1 263.4 191.2 264.3 189.6 263.4 188.1 264.1 185.9 264.4 184 265.8 183.1 267.4 180.3 267.7 176.6 266.7 175.3 265.3 173.7 264.1 175.5 262.4 174.4 260.5 173.8 258.5 172.1 258.3 170.6 256.9 168.1 255.5 167.7 252.2 166.7 250.2 164.3 248.2 164 246.8 164.4 244.6 163.6 242 162.3 239.4 161 237.6 158.3 238.1 156.8 237.6 155 236.4 152.8 234.9 151.1 234.1 148.4 232.7 146.8 232.5 144.5 230.9 143.3 230.5 145.5 231.6 147.5 232 150.1 233 153.1 233.8 154.5 233 154.8 232 152.8 231.6 150.8 230 148.6 230.1 146.8 229 144.8 228.7 142.2 227.9 140.2 225.8 139.4 225.4 136.8 225.4 135.2 224.7 133.6 224.8 131.8 225.9 129.6 226.7 127.7 228.8 124.1 229.7 121.2 231.3 121.3 232.3 120.4 231.1 119.1 229.2 118 229.1 116.4 229 113.5 228.7 111.8 227.7 109.8 226.6 108.1 225.2 106.4 222.3 105.8 220 104.8 217.4 104.5 214.7 106.5 214.5 105.2 210.9 107.1 209 108.7 205.9 110.1 202.3 111.5 198.6 112.4 195.2 113.2 202.2 110.5 205.8 109.1 207.7 107.5 205.5 107.8 203.1 107.5 204.1 106 203.1 104.9 203.9 103.3 206.2 101.9 209.8 101.2 211.5 99.9 208.9 99.7 206.9 99.7 206.7 98.4M301.3 81.3 307.6 78.7 313.9 76.7 324.9 75.7 335.6 74.7 342 76.7 342.8 80 340.5 84.7 338 89.3 337.6 91.9 334.8 93.3 328.4 95 322.3 98.5 318.7 101.9 315.9 105.8 313.4 104.8 311 103.2 310.3 99.9 309.4 97.2 310.1 93.3 313.2 91.9 310.4 90.6 310.6 86.6 306.1 84.7 302.6 84 301.3 81.3M297.5 101.5 302.2 97.1 300.5 95.5 298.4 92.1 296.3 90.5 292.4 89 286.4 88 284.1 92.6 286.9 93.7 292.2 95.6 291.5 97.9 286 99.9 289.6 100 292.2 102.1 295.4 103.2 297.5 101.5M258 90.6 260.7 88.6 268.3 88.4 270.7 91.9 266.5 94.6 263.6 93.9 257.4 94.2 256.2 92.6 258 90.6M252.7 90.1 260 86.9 261.9 88.2 258.5 91 253.6 90.9 252.7 90.1M294.1 84 288.2 82.7 292.5 79.4 290.1 78 300.9 75.4 311.1 75.7 312.5 76.7 302.9 79.1 297.5 81.3 298.9 82.7 294.1 84M292.2 86.6 282.7 86.5 281.7 84 288.2 83.6 293.8 84.4 292.2 86.6M280.9 89.9 278.1 89.3 279.7 87.3 283.7 87.3 280.9 89.9M276 89.9 272.4 89.3 274.7 87.4 278 87.4 276 89.9M272.8 86 263.4 86.6 265.4 84 272 83.6 272.8 86M278.4 86 274.2 85.3 277.8 84 280.5 84.4 278.4 86M290 81.3 284 81.3 287.2 78 291.6 78.7 290 81.3M277.9 99.9 280.7 98.1 283.2 100.1 280.4 102 277.5 101.1 277.9 99.9M295.6 122.2 299.7 119.6 300.9 116.9 298.5 118.4 295.8 121 295.6 122.2 299.8 123.3 302.4 122.4 302.1 120 300.3 119.3M334.8 98.5 336.7 97.4 342 97.2 344 99.2 342.6 100.3 339.1 101.3 335.8 100.8 334.6 99.5 334.8 98.5M350.4 119.1 357.5 117.5 357.8 115.5 356.1 114.4 354.6 112.4 354.2 111.1 354.4 109 352.8 107.7 351.4 107.7 350.1 110.5 351.2 112.4 353.2 113.8 351.7 114.7 351.9 116 350.9 116.8 353.1 117.5 350.4 119.1M350.2 116.3 350 114.4 350.6 112.2 348.8 112 346.3 113.5 346.2 116.4 346.6 117.1 349.2 116.4 350.2 116.3M350.1 137.6 349.3 136.5 348.2 136 346.6 136.3 346.7 134.3 346 133.9 346.7 132 347 129.6 346.4 128.3 347.8 127.4 350.4 127.7 353 127.8 354.5 127.8 354.9 126.1 354.9 124.1 353.5 122.6 351.5 121.8 351.3 120.9 353.1 120.6 354.6 120.9 354.5 119.4 356.3 119.7 357.7 118.8 357.8 117.9 359.6 117.2 360.3 116.4 360.7 115.2 362.5 114.4 364.4 114.3 364.4 111.8 363.9 110.1 366.1 109 366 110.8 366.6 112.4 365.9 113.1 366.9 113.8 368.3 113.2 370 113.9 372.2 113.1 374.4 113.2 375.4 113.2 376.7 112.2 376.2 110.1 377.6 108.9 379.3 109.5 378.4 107.3 381 106.5 382.5 106.1 383.7 105.8 381.3 105.2 377.6 106 376 104.8 375.6 102.5 376.7 100.8 378.6 99.2 378.7 98.1 377.4 98.1 375.7 98.5 375.1 99.9 374.5 100.9 373 102.3 372.1 103.8 372.1 104.9 373.7 106.1 373.1 107.1 371.9 109 371.9 110.3 370 111.8 368.5 111.6 368.1 110.5 367.5 109.1 366.7 107.1 366 106.7 365.1 107.1 362.8 108.5 361.4 107.4 361 105.2 360.7 103.4 362 102.4 364.3 101.2 365.5 99.9 367.2 97.9 367.9 95.9 369.5 94.6 371.4 93.3 373.9 92.6 376.2 91.3 379.5 91.3 382.4 92.6 384.3 93.5 386.9 93.9 391.3 95.6 392 97.2 387.5 99.9 389.6 100.8 392 99.9 394.5 97.5 394.1 94.8 396 95.2 399.4 95.2 401.8 94.6 403.2 95 405.9 94.2 407 92.9 410.7 93.5 414.3 94.6 415.3 94 412.7 89.9 413.4 88.4 416.8 90.6 419.4 94.6 418.5 89.9 420.9 88 425.6 86.6 428.8 84.7 433.6 84 435.5 82.4 439.6 83.7 444.7 84.9 448 88 451.7 88 456.4 88.6 460.8 88.9 463.8 90.6 465.9 90.6 471 89.3 476.3 89.6 481.2 90.6 485.8 91.3 491.6 92.6 493.2 93.3 498 93 500.1 92.6 505.5 92.9 510.5 94M201.7 94 203.7 95.9 204.7 97.2 205.9 97.9 203.2 99.2 200.4 100.1 198.7 99.6 197.3 98.5 195.5 98.9M516.7 98.9 515.1 99.9 519.9 102.5 516.4 103.4 515.1 105.8 511.6 106.1 509.3 106.1 511.1 108.5 511.2 109.1 513.4 111.1 514.1 113.1 513.8 115.1 513.3 116.4 512.5 117.7 509.8 115.1 507 111.8 505.7 109.1 506.8 108.5 505.8 105.8 505.7 103.8 502.9 103.8 501.9 106.7 499.5 107.1 495.4 106.7 490.6 106.7 490 108.9 489.7 113.1 494.3 114.7 496.3 116.4 497.9 120.4 497.6 123 496.9 126.3 495 128.6 493 128.8 492.6 131 491.7 132.9 494.6 136.3 495.3 138.2 493.8 139.4 492.6 139.6 491.8 136.9 490.8 135.3 489.5 135.2 488.3 132.8 485.4 131.6 485.1 133.6 484.7 131.2 484.2 131.1 482.6 132.5 481.4 133.6 481.6 134.7 483.4 136 484.9 135.2 487.2 136 485.6 137.6 484.8 138.9 487.6 142.2 489.3 144.2 489.8 145.5 490 147.5 489.3 149.2 488.8 151.5 487.5 152.8 486.3 154.8 483.9 155.7 481.6 156.4 480 157.2 479.9 158.3 479.1 156.8 477.7 156.6 475.9 157.9 475.4 159.4 475.2 160.7 476.4 162.3 478.8 164.7 480.3 168 480.4 170 478.6 171.3 477.6 172.6 476 173.8 475.6 172 474.1 171.2 472.8 169.3 470.8 168.4 469.7 167.5 469.2 171.3 470.6 174.2 471.6 176.1 473.1 177 474.5 179.1 474.6 181.6 475.5 183.3 474.7 183.5 472.1 181.5 471 179.6 470.9 177.9 468.4 174.2 468.5 172 468.1 168.7 466.8 164.7 466 162.8 464.1 164.4 462.8 163.8 462.6 160.7 461.3 159 459.7 157.7 458.8 155.4 457.4 156.1 455.8 156.4 453.6 156.8 453.6 158.1 451.8 159.7 449.2 163.2 447 164.2 447.2 167.3 447 170.6 445.4 173.4 444.6 174.5 443.5 173.4 442.1 170 440.6 165.9 439.1 163.4 438.1 159.8 437.8 157.4 437.4 156.8 435.6 157.7 433.3 155.6 434.8 154.9 432.7 154.4 431 152.8 430 151.6 427.8 151.9 424.5 152 419.9 151.2 418.4 149.3 416.5 150 413.5 148.4 411.6 146.2 409.3 145.5 408.8 146.3 409.9 148.8 411.8 150.7 412.6 152.4 413.6 153.2 415.7 153.3 417.7 151.5 418.5 150.5 418.8 152.3 420.6 153.8 423 155.4 421.9 158.1 421.2 160.1 418.7 162 415.2 164.4 412.3 165.9 407.8 168 405.6 168.4 404.9 166 404.3 163.4 402.5 160.3 400 156.8 399 153.7 397.2 150.9 395.3 148.3 394.4 146.7 394.2 148.2 393.3 148.4 391.9 145.6 391.4 143.9 393.5 143.8 394.2 141.8 394.5 140.2 394.6 137.8 394.9 136.8 393.1 136.5 391 137.4 388.8 137.2 386.1 136.5 385.2 135.2 384.3 134.3 384.5 132.9 383.8 132.1 385.1 131.6 386.6 131.1 386.7 130.7 389 130.8 391 129.6 392.9 129.6 394.9 130.6 396.4 131 398.2 131 399.8 130.3 399.6 128.8 397.6 127.8 395.5 126.5 394.6 125.4 395.5 123.3 392.7 125.3 390.8 126.3 389.7 125.1 387.8 123.6 387.1 124.6 386.6 125.4 385.7 126.6 385.2 128.7 385.6 130.2 386.5 130.6 385.1 131.1 383.8 131.9 383.5 131.2 381.4 131.2 381.1 132 379.9 131.6 380.5 133.1 380.4 134.5 381.7 134.7 380.9 135.2 380.6 136.9 379.4 136.5 378.6 135.2 378.1 133.5 377.3 132.7 376.6 131.9 376.6 130 375.4 129 373.3 127.8 371.9 126.7 371.1 125.4 370.1 124.9 368.8 125.3 368.9 126.5 370.3 127.7 371.6 129.5 373 130.3 374.5 131.2 375.7 132.1 375.6 132.5 374 131.6 373.6 132.7 374.3 133.6 373.5 134.5 372.8 134.9 373 134 372.7 132.3 371.3 131.5 370 130.6 368.1 129.1 367.1 128.3 366.7 127.1 365.2 126.5 363.9 127.3 362.9 128.2 361.3 127.8 359.4 128 359.5 129.8 357.7 130.7 356.6 131.6 355.8 132.9 356.3 133.9 355.4 135.5 353.8 136.6 351.3 136.6 350.1 137.6M404.6 125.7 406.8 123.7 410.3 123.3 410.8 125.3 409.2 126.3 411.3 129.6 413 131 412.8 132.9 413.8 135.9 410.8 136.6 408.5 135.6 408.4 132 405.8 129 404.6 125.7M391.8 145.6 389.9 143.5 388.4 144.3 383.4 143.4 381.1 142.1 377.9 142.2 378 144.5 376.9 145.1 373 143.5 370.2 141.7 368 141.3 367.4 139.6 367.9 138.2 367 136.5 365.7 136 362.5 136.3 359.3 136.5 356.1 137.8 353.9 138.8 350.4 137.8 349.1 140.2 346.9 141.3 345.4 144.2 345.1 146.8 342.9 148.2 341.2 149.5 339.6 152.8 338.2 154.1 337 157.4 337.7 160.1 337.4 163.4 336.3 165.8 337.1 168.7 339 170.6 340.7 172.6 342.4 175.3 344.1 176.9 347.5 179.4 350.4 178.5 353.8 179 357.2 177.3 359.5 176.9 361.8 177.9 363 179.5 364.7 179.2 366.4 179.9 367.3 181.9 366.8 184.5 366.2 187.2 368.1 189.2 369.8 191.8 371 194.5 371.5 198.4 370.3 203.1 369.4 207.7 371.2 213 372.3 215.6 372.7 220.9 374.3 223.6 375.5 226.9 376.1 230.4 377.7 231.2 380.5 230.2 383.7 230.2 386 228.9 388.9 226.2 390.2 224.2 392.1 220.9 392.5 219.6 393.7 218.3 395.7 217 395.6 214.3 395.2 211.7 397.3 209.7 400.8 207 402.3 204.4 402.2 199.8 401.2 195.8 400.9 193.1 401.3 191.2 402.5 188.5 404 186.5 405.9 183.9 408.8 181.9 411 178.6 413 174 414.4 170 411.9 170.3 407.4 171.3 405.4 169.7 404.4 167.3 403.2 166 400.8 164.3 399.5 161.4 398 158.1 397.3 155.4 395.7 153.4 393.8 150.1 391.8 145.8M412.2 201.1 413.1 205.7 412 207.7 410.6 212.3 408.6 218.3 406.1 218.9 404.9 216.3 404.6 213.6 406 211 405.8 207.7 408.2 206.1 410.6 203.7 412.2 201.1M497.8 140.2 498.8 138.2 501.4 138 502.4 135.9 504.3 134.9 504.1 132.3 503.3 130.6 504.9 130.6 506.6 132.9 506.8 135.6 507.4 137.6 507.1 138.9 505.7 139.4 504.1 139.8 502.5 140.5 499.5 140 497.8 140.2M497 141.1 498.3 143.8 499.4 143.8 499.4 141.3 498 140.4 497 141.1M503.2 130.3 502.1 128.3 501.9 125.1 504.2 126.3 507.4 127.9 506.5 129.6 504.1 130 503.2 130.3M502 124.3 503.1 123.7 500.6 120.4 498.6 117.1 496.6 113.8 495.3 113.4 498.1 117.7 500.2 121.7 502 124.3M490.6 151.7 491.8 152.1 491.9 154.8 491.4 156.2 490.3 154.8 490.6 151.7M478.4 159.8 479.7 158.6 481 159.3 480.4 161.1 479 160.7 478.4 159.8M492 160.7 493.9 160.7 494.1 163.6 494.2 166.3 496.9 166.9 497.1 168.7 495.3 167.6 493 166.3 491.9 164 492 160.7M495.5 175.3 497.2 175 499.3 172.6 500.7 175.3 499.5 177.5 497.9 176.6 495.6 175.9 495.5 175.3M495 170 496.9 171.3 498.4 170 499.2 172 497.5 172.2 495.8 172.2 495 170M447.2 172.4 448.6 174 449.6 175.9 448.2 177.4 447.3 176.3 447.2 172.4M465.1 177.8 467.7 178.3 470.6 181.9 474.9 186.5 477.5 189.3 477.1 192.9 475.6 192.9 473.2 190.5 471.2 187.2 469.3 183 465.1 177.8M476.4 194.2 477.9 193.1 480.2 194.1 483 193.8 484.9 194.3 486.9 195.5 486.8 196.7 484 196.2 480.6 195.5 477.8 195 476.4 194.2M481 183.2 481.8 182.6 483.8 181.6 486 179.9 488.3 178.2 489.8 175.9 492.6 178.2 491.2 179.5 491.3 183.9 490.7 185.2 489.5 188.5 488.9 190.2 487.2 189.8 483.8 189.2 482.3 189 481.6 185.9 481 183.2M492.8 192.5 494 192.5 493.9 188.9 494.7 188.5 495.7 191.2 497.2 190.9 495.3 187.2 496.4 186.3 497.2 186.5 495.3 184.5 499.3 183.2 498.4 184.7 493.6 184.3 493.4 185.2 492.2 188.5 492.8 192.5M506.2 186.9 509.6 186.3 511.3 189.6 514.2 187.4 517.6 188.6 522.1 191.2 523.1 192.5 524.8 193.1 525.7 195.8 527.4 199.1 523.7 198.4 522.3 195.8 519.9 197.1 518.2 197.4 517 197.2 514.9 195.9 513.7 196.2 513.6 192.5 510.6 191 507.8 190.5 506.7 188.5 506.2 186.9M496.9 198.8 498.8 197.1 501.5 196.3 499.9 197.5 498.1 198.6 496.9 198.8M487.4 196 488.5 196.8 492 196.4 493.7 196.2 496 196.4 494.2 197 490.8 197.1 489.1 197 487.4 196M502.2 185.9 503.3 182.6 502.8 184.5 503.7 186.3 502.2 185.9M502.7 189.4 505.6 189.2 505.9 190.2 503.2 190 502.7 189.4M526 192.5 527.8 191.8 530.1 190.8 529.4 192.5 527.1 193.4 526 192.5M483.2 214.3 482.6 219.6 482.2 224.9 480.8 229.5 481.8 231.5 483.4 231.5 486 230.2 489.8 230.2 493.3 227.9 496.9 227 499.1 226.9 501.8 228.5 502.4 231.2 504.1 229.5 505.8 228.9 504.7 232.2 506 232.8 505.9 235.5 508.6 236.5 511.4 236.9 514.1 235.2 516.5 234.5 518.2 232.2 520.2 229.5 522.3 227.5 525.2 222.9 526 218.9 524.6 216.3 523.4 214.7 522.9 212.3 520.9 210.3 520.7 207 520.8 205 519 203.7 518.5 199.4 517.1 202.1 516.5 205.7 514.9 208.4 513.2 207.7 511.2 206.1 509.7 205 511.7 201.5 510.3 201.1 507 200.4 505.1 201.5 503 204.8 500.8 203.7 498.7 204.4 497 206.4 494.2 208.4 492.3 211 488.7 212.2 486.3 212.7 484 214.3 483.2 214.3M508.6 239 512.3 239.3 510.3 242.4 508.8 242.9 508.1 241 508.6 239M542.8 230.7 543.8 232.6 544 234.1 546.7 235.1 543.8 237.2 541.1 239.8 539.9 239.8 541.6 237.5 540.5 237.1 542.4 235.2 542.8 233.5 542.8 230.7M538.3 238.8 539 240.4 536.9 242.1 535.5 243.1 533.4 244.1 529.5 246.8 527.2 246.1 530.3 243.7 534.1 241.8 537.2 239.4 538.3 238.8M219.8 288.4 228.5 289.1 238.5 289.7 240.7 287.1 241.9 285.1 248.3 283.8 259.6 283.1 268.2 283.8 274.6 281.8 282.7 281.8 290.9 281.8 293.4 279.1 296.5 273.8 300.4 270.5 304.3 268.9 303 272.5 303 276.5 305.7 280.5 304.5 284.4 309.9 287.1 322 288.4 329.4 287.7 334.1 285.1 339.9 282.4 346.1 279.8 356.1 277.8 364.6 277.8 373 277.8 381.7 277.1 386.1 276.5 390.6 275.8 399.9 273.8 404.5 273.2 408.6 273.8 415.3 274.5 416.1 276.5 417.1 277.8 420 277.1 425.8 274.5 433.6 273.2 440.2 272.5 444.6 272.5 453.4 272.5 461.8 273.2 471.1 272.5 475.6 272.5 479 273.6 482.4 274.5 485.3 275.8 491.6 277.8 494.1 279.1 496.6 280.5 489.3 284.4 480.5 287.7 484.8 288.4 492.4 288.4M364.4 81.3 368.5 84 372.9 82.7 376 80 370.6 78.7 364.2 79.6 364.4 81.3M399.6 91.3 403.2 91.9 404 89.9 405.3 86 408.6 83.6 403.8 83.3 400.5 86 399.6 89.3 399.6 91.3M427.6 80.7 431.2 81.3 433.6 80 427.9 78 424.9 78.7 427.6 80.7M465.5 87.3 470.6 87.6 468.7 85.3 463.9 84.7 465.5 87.3M260.9 156.4 264.5 154.5 268.9 155.4 271.3 158.1 272.7 158.5 268.9 159 266.5 156.5 263.1 156.4 260.9 156.4M272.1 160.7 274.2 158.9 277.4 159.1 279 160.6 276 161.4 272.1 160.7M267.8 160.9 270 161.3 269.2 161.8 267.8 160.9M280.3 160.7 282.1 161 281.6 161.4 280.3 160.7M227.9 118 229.4 121 231.1 121.2 230.2 118.8 227.9 118M225.9 113.8 226.9 114.4 225.8 116.1 225.2 114.8 225.9 113.8M209.8 107.8 210.6 109.1 208.1 110.3 209.8 107.8M194.6 113.8 190.9 114.7 186 115.7 181.3 116.7 179.2 116.8M532.9 116.7 526.8 115.3M507.6 127 508.9 125.7 510.2 124.3 511 122.4 511.7 120.4 512.3 118.4M365.9 128.3 366.1 129.6 365.8 130.4 365.1 129.8 365.9 128.3M365.8 130.7 366.4 131.6 366.2 133.6 365.1 133.6 365 131.6 365.8 130.7M369.3 134.9 372.7 134.5 372.3 136.6 369.5 135.5 369.3 134.9M381.4 138.5 384.5 138.6 382.5 139 381.4 138.5M390.9 138.8 393.3 138 392.7 139 390.9 138.8M295 253.1 298.4 253.3 297.7 254.4 295 253.1M288.3 254.8 292.6 257.8 290.2 258.6 286.3 257.3 288.3 254.8M261.9 123.4 265.8 121.3 269.1 120.6 269.8 123 267 123.7 261.9 123.4M264 130 265 126.3 267.4 124.6 267.4 127 265.4 129.6 264 130M269.3 124.3 271 125.3 273.3 126.3 271 128 270.5 127 269.7 124.6 269.3 124.3M268.7 130 273.7 128.4 271.9 129 268.7 130M273 127.9 276.8 127.7 276.8 126.7 273.4 127.5 273 127.9M257 118.4 258.9 118.5 260.3 114.4 259.1 114 257 118.4M247.6 104.5 251.5 104.2 255.4 102.5 251.3 102.5 247.6 104.5M244.9 98.5 249 98.9 251.9 96.6 248.4 96.6 244.9 98.5M250.5 107.8 255.2 107.1 252.8 106.5 250.5 107.8M384.2 105.8 386.6 105 386.1 103.8 384.3 104.2 384.2 105.8M388.1 104.5 389.9 104.2 388.5 102.1 388.1 104.5M392.3 185.9 395.1 184.9 395.6 186.9 393.9 188.8 392.4 187.8 392.3 185.9M389.5 189.7 390.4 190.5 391.3 196.2 390.7 196.6 389.8 193.8 389.5 189.7M395.2 197.8 396.2 200.4 396.2 204 395.4 203.7 395 200.4 395.2 197.8M371.4 168 372.9 167.3 372.6 168.3 371.4 168M459.4 117.1 460.3 116.4 462.2 114.4 462 111.5 461.5 111.4 461.1 115.1 459.4 116.7 459.4 117.1M416.2 124.3 419.1 123.7 419.8 126.3 417.4 127.3 416.2 124.3M431.9 123.7 437.2 124.1 436.9 123.3 431.8 123.2 431.9 123.7M277.4 205.7 278.3 206.8 277 205.3M282.5 103.2 280 102.8 280.3 102.1 282.5 103.2M294.2 87.3 289.8 86.6 291.9 87M275.1 82 272 81.3 275.7 80.7M280.4 82 278.7 80.7 282.3 80M282.8 82.7 282.5 81.3 285.5 81.3M262.4 85.3 260 84.7 263.8 83.3M267.3 86 265.6 85.3 268.6 84.7M276.8 89.9 275.4 88.6 277.5 88M292.1 89.3 291 88.4 294.1 88.6M292 102.5 294.4 101.2 296 101.9M296.7 109.8 298.1 108.5 298.8 109.1M237.5 92.6 235.4 92.2M290.7 123 293.9 122.4 292.5 123.8M201.9 101.2 203.3 101.6 201 100.8M194.9 105.2 195.5 105.6M210.1 109.1 211.6 108.5M286 88 283 88.2" fill="none" stroke="#000" stroke-width="0.9" stroke-linejoin="round"/>
<path d="M258.1 115.5 257.8 115.3 257.1 115.4 257 115.6 257.6 115.6 258.1 115.5M271.8 110.3 271.8 110.1 271.4 110.2 271.2 110.5 271.5 110.6 271.8 110.3M246.1 108.7 246 108.6 245.6 108.6 245.4 108.8 245.7 108.9 246.1 108.7M272.2 99.4 272 99.2 271.5 99.2 271.4 99.5 271.8 99.6 272.2 99.4M284.3 96.5 283.9 96.2 283.1 96.3 282.9 96.6 283.7 96.7 284.3 96.5M293.5 117.9 293.1 117.7 292.3 117.8 292.3 118.1 293 118.2 293.5 117.9M247.5 116.2 247.4 115.9 246.9 116 246.7 116.5 247.1 116.6 247.5 116.2M256.2 105.2 255.9 105 255.1 105.1 255 105.3 255.6 105.4 256.2 105.2M269.3 117.6 269.2 117.4 268.8 117.4 268.7 117.7 269 117.8 269.3 117.6M280.4 108.9 280.2 108.6 279.7 108.7 279.5 109 280 109.2 280.4 108.9M267 111.9 266.7 111.6 265.9 111.7 265.7 112.1 266.4 112.2 267 111.9M259.4 105.4 259.2 105 258.4 105.2 258.2 105.6 258.7 105.7 259.4 105.4M282 112.2 281.5 112 280.6 112.1 280.5 112.3 281.4 112.4 282 112.2M270.8 101 270.7 100.8 270.2 100.9 270 101.2 270.4 101.3 270.8 101M250.4 103.1 250.1 102.9 249.2 103 248.9 103.3 249.7 103.4 250.4 103.1M290 111.6 289.7 111.3 288.9 111.4 288.8 111.8 289.4 111.9 290 111.6M275.7 108.2 275.3 107.8 274.5 108 274.2 108.4 275 108.6 275.7 108.2M272.3 103.2 272.3 102.9 271.8 103 271.6 103.4 271.9 103.5 272.3 103.2M286.1 95.4 285.6 95.2 284.5 95.3 284.3 95.5 285.3 95.6 286.1 95.4M267.8 103.1 267.7 102.9 267.3 103 267.2 103.3 267.4 103.4 267.8 103.1M248.7 116.3 248.7 115.9 248.3 116.1 248.1 116.5 248.4 116.6 248.7 116.3M248.5 113.2 248.4 112.8 247.8 112.9 247.5 113.4 248 113.5 248.5 113.2M248.8 108.4 248.7 108 248 108.1 247.7 108.6 248.2 108.7 248.8 108.4M292.5 98.5 292.3 98.2 291.7 98.3 291.5 98.6 292 98.7 292.5 98.5M270.3 98 269.8 97.8 268.7 97.9 268.5 98.1 269.5 98.2 270.3 98M250.7 113.5 250.6 113.3 250.2 113.4 250 113.7 250.3 113.8 250.7 113.5M273.6 112.8 273.5 112.5 273.2 112.6 273 112.9 273.3 113 273.6 112.8M266 105.6 265.6 105.3 264.7 105.4 264.4 105.8 265.3 105.9 266 105.6M274.2 104.3 273.8 104.2 273 104.2 272.9 104.4 273.6 104.5 274.2 104.3M295.9 100.5 295.5 100.1 294.5 100.3 294.3 100.7 295.2 100.8 295.9 100.5M264.6 109.6 264.5 109.3 264.1 109.4 263.9 109.7 264.2 109.8 264.6 109.6M242.3 117.4 242.1 117.3 241.7 117.3 241.6 117.6 241.9 117.6 242.3 117.4M257.5 117.8 257.4 117.6 257.1 117.7 257 117.9 257.3 118 257.5 117.8M248.4 110.4 248.4 110 248 110.2 247.8 110.6 248 110.7 248.4 110.4M273.9 115.5 273.7 115.3 273.3 115.4 273.2 115.7 273.5 115.7 273.9 115.5M260.1 116.1 259.8 115.8 259 115.9 258.8 116.4 259.4 116.5 260.1 116.1M269.5 107.5 269.4 107.4 269 107.4 268.9 107.6 269.2 107.7 269.5 107.5M260.6 112.7 260.2 112.6 259.4 112.6 259.3 112.9 260 112.9 260.6 112.7M254.7 96.4 254.4 96.2 253.5 96.3 253.4 96.5 254.1 96.6 254.7 96.4M268.9 118.4 268.7 118 268.1 118.2 267.9 118.6 268.4 118.8 268.9 118.4M292.8 102.5 292.6 102.2 292.1 102.3 291.9 102.6 292.4 102.7 292.8 102.5M258.6 100.7 258.4 100.3 257.6 100.5 257.3 100.9 257.9 101 258.6 100.7M259.3 113.7 259.1 113.4 258.3 113.5 258 114 258.7 114.1 259.3 113.7M293.8 99.9 293.4 99.5 292.4 99.7 292.2 100.1 293.1 100.2 293.8 99.9M257.5 106.7 257.3 106.6 256.7 106.6 256.6 106.8 257.1 106.9 257.5 106.7M243.3 112.4 243.2 112.1 242.7 112.2 242.5 112.6 242.9 112.7 243.3 112.4M295.6 108.4 295.2 108 294.3 108.2 294.2 108.6 295 108.8 295.6 108.4M294.5 110.4 294.3 110.2 293.8 110.2 293.7 110.5 294.1 110.6 294.5 110.4M251.7 114.2 251.5 113.8 250.8 114 250.6 114.4 251.1 114.5 251.7 114.2M289.6 107.6 289.3 107.3 288.6 107.4 288.4 107.8 289.1 108 289.6 107.6M252.7 103.3 252.3 103 251.3 103.1 251.1 103.5 251.9 103.6 252.7 103.3M284.6 107.7 284.5 107.3 284 107.5 283.8 107.9 284.2 108 284.6 107.7M267.7 100 267.2 99.7 266.1 99.8 265.9 100.1 266.9 100.2 267.7 100M273.3 96.5 272.9 96.3 271.9 96.4 271.7 96.6 272.6 96.7 273.3 96.5M247.3 115.5 247 115.1 246.2 115.2 245.9 115.7 246.6 115.8 247.3 115.5M258.7 99.4 258.3 99.1 257.2 99.2 256.9 99.6 257.9 99.7 258.7 99.4M264.3 106 264.2 105.8 263.7 105.9 263.6 106.1 264 106.1 264.3 106M298 103.6 297.8 103.2 297 103.4 296.9 103.8 297.5 103.9 298 103.6M273.8 98.3 273.3 98.1 272.3 98.2 272.1 98.4 273 98.5 273.8 98.3M255.7 112.1 255.6 111.8 255.1 111.9 254.9 112.3 255.3 112.4 255.7 112.1M257.7 109.1 257.7 108.7 257.2 108.9 257 109.3 257.3 109.4 257.7 109.1M263.5 108.1 263.3 107.8 262.6 107.9 262.3 108.4 262.9 108.5 263.5 108.1M273.6 97.2 273.3 96.9 272.5 97 272.3 97.4 273 97.5 273.6 97.2M267.7 118.6 267.4 118.4 266.9 118.5 266.8 118.7 267.3 118.8 267.7 118.6M250.6 100 250.5 99.8 250 99.9 249.7 100.2 250.1 100.3 250.6 100M284.2 105.8 284 105.5 283.4 105.6 283.3 106 283.7 106.1 284.2 105.8M278.1 100.4 278 100.1 277.5 100.2 277.3 100.5 277.7 100.7 278.1 100.4M255.6 112.5 255.3 112.2 254.5 112.3 254.3 112.6 255 112.7 255.6 112.5M278.6 101 278.1 100.7 277.1 100.8 277 101.1 277.9 101.2 278.6 101M277.8 107 277.5 106.7 276.9 106.8 276.7 107.2 277.2 107.3 277.8 107M269.7 106.4 269.5 106 268.8 106.1 268.6 106.6 269.1 106.7 269.7 106.4M287.1 98.2 286.6 98 285.5 98 285.3 98.3 286.3 98.4 287.1 98.2M281.1 96.6 280.6 96.4 279.5 96.5 279.4 96.7 280.3 96.8 281.1 96.6M250.7 108.5 250.6 108.3 250.2 108.4 250 108.7 250.3 108.7 250.7 108.5M252.2 103.1 251.9 102.8 251 102.9 250.6 103.3 251.4 103.5 252.2 103.1M257.1 102 256.7 101.8 255.9 101.9 255.7 102.1 256.4 102.2 257.1 102M296.8 96 296.6 95.6 296 95.8 295.8 96.2 296.3 96.4 296.8 96M266.5 107.4 266.1 107.1 265.1 107.2 264.9 107.7 265.7 107.8 266.5 107.4M252.9 108.8 252.6 108.5 252 108.6 251.8 108.9 252.4 109 252.9 108.8M253.2 111.5 252.9 111.3 252.1 111.4 252 111.6 252.7 111.6 253.2 111.5M273.6 108.6 273.6 108.3 273.2 108.4 273.1 108.7 273.3 108.8 273.6 108.6M278.2 106.9 278.2 106.5 277.8 106.6 277.5 107.1 277.8 107.2 278.2 106.9M292.2 95.9 292 95.7 291.5 95.8 291.4 96 291.8 96.1 292.2 95.9M252.1 100.5 251.9 100.3 251.3 100.4 251.1 100.6 251.6 100.7 252.1 100.5M273.8 97.3 273.4 97.1 272.3 97.2 272.2 97.5 273.1 97.6 273.8 97.3M260.3 97.2 260.1 96.9 259.2 97 258.9 97.4 259.6 97.5 260.3 97.2M243.9 117.7 243.6 117.4 243 117.5 242.8 117.8 243.4 117.9 243.9 117.7M256.9 96.7 256.7 96.4 255.7 96.5 255.4 96.9 256.2 97 256.9 96.7M255.6 98.7 255.6 98.3 255.1 98.4 254.8 98.9 255.1 99 255.6 98.7M267.4 111 267.2 110.6 266.5 110.8 266.3 111.2 266.8 111.3 267.4 111M266.5 93.2 265.9 92.9 264.6 93 264.3 93.4 265.4 93.5 266.5 93.2M259.7 92.7 259.5 92.4 258.7 92.5 258.4 92.9 259 93 259.7 92.7M271 90.4 270.2 90.1 268.4 90.2 268.1 90.6 269.7 90.7 271 90.4M276.7 92.4 276.2 92.2 275.1 92.3 274.9 92.6 275.9 92.6 276.7 92.4M264.5 95 263.9 94.6 262.3 94.7 261.9 95.3 263.3 95.4 264.5 95M268.6 87.7 267.6 87.4 265.6 87.5 265.3 87.9 267.1 88 268.6 87.7M293 88.4 292.5 87.9 291 88.1 290.6 88.7 291.8 88.9 293 88.4M276.9 87.2 276.4 86.6 274.6 86.8 274 87.5 275.4 87.8 276.9 87.2M279.6 82 279.1 81.6 277.4 81.8 276.8 82.3 278.2 82.5 279.6 82M274.5 89.7 274.3 89.5 273.4 89.6 273.2 89.9 273.8 90 274.5 89.7M267.2 83.5 266.9 83.2 265.8 83.3 265.4 83.7 266.3 83.8 267.2 83.5M270.1 81.9 269.6 81.4 267.6 81.6 267 82.2 268.6 82.3 270.1 81.9M268.3 91.4 268 91 266.9 91.2 266.5 91.6 267.4 91.8 268.3 91.4M266 88.2 265.9 87.6 264.7 87.8 264 88.5 264.9 88.7 266 88.2M300 86.6 299.8 86 298.6 86.2 298.2 86.9 299.1 87.1 300 86.6M270.7 89.6 270.5 89.2 269.7 89.4 269.4 89.8 269.9 89.9 270.7 89.6M279.5 87.3 279.3 86.9 278.2 87 277.8 87.5 278.6 87.7 279.5 87.3M256.8 91 256.7 90.7 255.8 90.8 255.4 91.3 256 91.4 256.8 91M255.1 94.9 254.8 94.6 253.7 94.7 253.4 95.1 254.2 95.2 255.1 94.9M285 86.8 284.3 86.4 282.5 86.6 282 87.1 283.6 87.3 285 86.8M293.9 81.3 293.5 80.9 292.3 81.1 292 81.5 293 81.6 293.9 81.3M297.4 92.9 296.7 92.4 295.1 92.6 294.8 93.1 296.2 93.3 297.4 92.9M268.5 82 267.9 81.5 266 81.7 265.4 82.2 266.9 82.4 268.5 82M293.5 82.3 293.3 81.9 292.4 82.1 292 82.6 292.7 82.7 293.5 82.3M285.8 82 285.3 81.5 283.5 81.7 282.9 82.3 284.4 82.5 285.8 82M289.5 81.1 289 80.6 287.4 80.8 286.9 81.4 288.2 81.5 289.5 81.1M263.1 94.7 263 94.4 262.1 94.5 261.8 95 262.4 95.1 263.1 94.7M270.5 82 270.1 81.5 268.6 81.7 268 82.2 269.2 82.4 270.5 82M288.1 84.4 287.5 84.2 286.2 84.3 285.9 84.6 287.2 84.7 288.1 84.4M295.6 83.4 295.1 83 293.7 83.1 293.3 83.6 294.5 83.8 295.6 83.4M282.7 94.2 282 93.9 280.4 94 280.2 94.4 281.6 94.5 282.7 94.2M260.5 91 259.8 90.7 258.1 90.8 257.7 91.2 259.2 91.3 260.5 91M296.2 79.7 295.7 79.4 294.4 79.5 294 80 295.1 80.1 296.2 79.7M282.8 84.4 282.1 83.9 280.3 84.1 279.8 84.7 281.4 84.8 282.8 84.4M281.5 94 281.2 93.7 280.3 93.8 280.1 94.2 280.8 94.3 281.5 94M288.6 90.4 287.9 90.2 286.4 90.3 286.2 90.5 287.6 90.6 288.6 90.4M259.9 91 259.4 90.5 257.7 90.7 257.1 91.3 258.5 91.4 259.9 91M285.6 90.6 285 90.2 283.6 90.4 283.3 90.9 284.5 91 285.6 90.6M275.2 93.4 274.4 93.1 272.6 93.2 272.3 93.5 273.9 93.7 275.2 93.4M304 80.4 303.8 80 303.1 80.1 302.8 80.6 303.3 80.8 304 80.4M299 79.9 298.5 79.6 297.2 79.7 296.9 80.1 298 80.2 299 79.9M275.9 80.2 275.8 79.8 274.7 80 274.2 80.5 274.9 80.7 275.9 80.2M267.4 86.9 266.4 86.6 264.4 86.8 264.1 87.1 265.9 87.2 267.4 86.9M294.3 87.2 293.5 86.7 291.5 86.9 291.1 87.4 292.9 87.6 294.3 87.2M276.2 81 275.7 80.8 274.3 80.8 274 81.1 275.2 81.2 276.2 81M260.7 87.4 260.3 87.1 258.9 87.2 258.4 87.6 259.6 87.8 260.7 87.4M263.9 89.8 263.7 89.3 262.4 89.5 261.8 90.1 262.8 90.3 263.9 89.8M265.4 83.3 264.6 83.1 262.8 83.2 262.4 83.5 264 83.6 265.4 83.3M300.6 83.9 299.7 83.6 297.8 83.7 297.6 84.1 299.3 84.2 300.6 83.9M274.9 89 274 88.6 271.8 88.7 271.4 89.3 273.3 89.4 274.9 89M381 103.9 380.6 103.7 380 103.8 380 104.1 380.6 104.1 381 103.9M377.5 99.6 377 99.2 376.4 99.4 376.5 99.9 377.2 100.1 377.5 99.6M380.1 105.7 379.6 105.4 378.9 105.5 378.9 105.8 379.7 105.9 380.1 105.7M380.7 98.3 379.9 98 378.7 98.1 378.8 98.6 380 98.7 380.7 98.3M383.5 98.8 382.7 98.5 381.5 98.6 381.6 99 382.9 99.1 383.5 98.8M385.9 107.9 385.3 107.6 384.5 107.8 384.5 108.1 385.4 108.2 385.9 107.9M384.9 101.6 384.5 101.5 383.9 101.5 383.9 101.8 384.5 101.8 384.9 101.6M388 107.1 387.5 106.9 386.8 107 386.9 107.3 387.6 107.4 388 107.1M380.3 100.6 379.5 100.4 378.3 100.5 378.4 100.8 379.6 100.9 380.3 100.6M384.6 105.3 384.1 105 383.4 105.1 383.4 105.5 384.2 105.6 384.6 105.3M379.1 106.8 378.8 106.3 378.3 106.5 378.4 107 378.9 107.2 379.1 106.8M383.2 106.1 382.5 105.7 381.5 105.9 381.6 106.4 382.7 106.6 383.2 106.1M435 88.5 434.3 88.2 433.5 88.3 433.8 88.6 434.7 88.7 435 88.5M428.4 89 427.6 88.7 426.8 88.8 427.1 89.2 428 89.3 428.4 89M435.8 80.6 434.6 80.2 433.3 80.4 433.8 80.8 435.3 80.9 435.8 80.6M429.6 84.4 428.7 84.1 427.8 84.2 428.1 84.6 429.2 84.7 429.6 84.4M409.8 87 408.5 86.8 406.8 86.9 407 87.2 408.8 87.2 409.8 87M434.6 83.3 433.4 83 431.9 83.1 432.2 83.4 433.9 83.5 434.6 83.3M422.8 87.3 421.9 87 420.9 87.1 421.2 87.5 422.3 87.7 422.8 87.3M459.3 81 458.1 80.8 456.7 80.8 457 81.1 458.6 81.2 459.3 81M405.1 82.4 404 82.1 402.5 82.2 402.7 82.7 404.4 82.8 405.1 82.4M445.4 89.9 444.4 89.5 443.5 89.6 444 90.2 445.2 90.4 445.4 89.9M233.5 94.9 232.9 94.6 231.2 94.7 230.9 95.1 232.3 95.2 233.5 94.9M209 106 208.9 105.6 207.9 105.8 207.4 106.3 208.1 106.4 209 106M233 97 232.8 96.6 231.5 96.7 230.9 97.3 231.9 97.4 233 97M221.2 99.7 221.3 99.3 220.6 99.4 220.1 100 220.4 100.2 221.2 99.7M224.2 93.9 223.7 93.6 222.4 93.7 222 94 223.1 94.2 224.2 93.9M211 104.5 210.8 104.1 209.6 104.2 209.1 104.7 210 104.9 211 104.5M207.9 107.4 207.7 107 206.7 107.1 206.3 107.6 207 107.7 207.9 107.4M215.3 104.9 214.9 104.7 213.9 104.8 213.7 105 214.6 105.1 215.3 104.9" fill="none" stroke="#000" stroke-width="0.7" stroke-linejoin="round"/>
<path d="M231.2 120.6 230.4 118.4 229.2 117.1 229 115.1 228.8 113.1 228.7 111.1 228.2 109.1 227.3 107.8M279.3 240.5 279.5 243.4 279.8 246.7 279.9 249.4 281.2 252 283 254.3 285.4 256 287.3 257.3M360.9 105.2 361.2 103.2 362.5 101.9 364.7 100.5 366.3 98.5 367.5 96.6 369 94.6 371 93.3M309.2 100.5 309.4 97.2 309.8 93.9 312.3 91.9 310.7 89.9M310.6 86.6 309 85.1" fill="none" stroke="#000" stroke-width="1.9" stroke-linejoin="round" stroke-linecap="round" opacity="0.85"/>
<line x1="140" x2="580" y1="105.6" y2="105.6" stroke="#101010" stroke-width="1.5" stroke-dasharray="1.5 0.5" opacity="0.6"/>
<line x1="140" x2="580" y1="145.4" y2="145.4" stroke="#101010" stroke-width="1.5" stroke-dasharray="1.5 0.5" opacity="0.6"/>
<line x1="140" x2="580" y1="185.3" y2="185.3" stroke="#101010" stroke-width="1.5" stroke-dasharray="1.5 0.5" opacity="0.6"/>
<line x1="140" x2="580" y1="225" y2="225" stroke="#101010" stroke-width="1.5" stroke-dasharray="1.5 0.5" opacity="0.6"/>
<line x1="140" x2="580" y1="264.6" y2="264.6" stroke="#101010" stroke-width="1.5" stroke-dasharray="1.5 0.5" opacity="0.6"/>
<path d="M304.5 304.3 L296.8 297.7 L290.3 291 L284.7 284.4 L279.9 277.8 L275.6 271.2 L271.9 264.6 L268.6 258 L265.7 251.3 L263.2 244.7 L260.9 238.1 L259 231.5 L257.4 224.9 L256 218.3 L254.9 211.7 L254.1 205 L253.5 198.4 L253.1 191.8 L253 185.2 L253.1 178.6 L253.5 172 L254.1 165.4 L254.9 158.7 L256 152.1 L257.4 145.5 L259 138.9 L260.9 132.3 L263.2 125.7 L265.7 119.1 L268.6 112.4 L271.9 105.8 L275.6 99.2 L279.9 92.6 L284.7 86 L290.3 79.4 L296.8 72.7 L304.5 66.1" fill="none" stroke="#111" stroke-width="1.1" opacity="0.55"/>
<path d="M407.7 304.3 L415.4 297.7 L421.9 291 L427.5 284.4 L432.3 277.8 L436.6 271.2 L440.3 264.6 L443.6 258 L446.5 251.3 L449 244.7 L451.3 238.1 L453.2 231.5 L454.8 224.9 L456.2 218.3 L457.3 211.7 L458.1 205 L458.7 198.4 L459.1 191.8 L459.2 185.2 L459.1 178.6 L458.7 172 L458.1 165.4 L457.3 158.7 L456.2 152.1 L454.8 145.5 L453.2 138.9 L451.3 132.3 L449 125.7 L446.5 119.1 L443.6 112.4 L440.3 105.8 L436.6 99.2 L432.3 92.6 L427.5 86 L421.9 79.4 L415.4 72.7 L407.7 66.1" fill="none" stroke="#111" stroke-width="1.1" opacity="0.55"/>
<line x1="356.1" x2="356.1" y1="60" y2="310" stroke="#101010" stroke-width="1.5" stroke-dasharray="1.5 0.5" opacity="0.6"/>
</g>
<path d="M253 304.3 L237.4 297.7 L224.5 291 L213.3 284.4 L203.7 277.8 L195.2 271.2 L187.7 264.6 L181.1 258 L175.3 251.3 L170.2 244.7 L165.8 238.1 L161.9 231.5 L158.7 224.9 L155.9 218.3 L153.7 211.7 L152 205 L150.8 198.4 L150.1 191.8 L149.9 185.2 L150.1 178.6 L150.8 172 L152 165.4 L153.7 158.7 L155.9 152.1 L158.7 145.5 L161.9 138.9 L165.8 132.3 L170.2 125.7 L175.3 119.1 L181.1 112.4 L187.7 105.8 L195.2 99.2 L203.7 92.6 L213.3 86 L224.5 79.4 L237.4 72.7 L253 66.1 L459.2 66.1 L474.8 72.7 L487.7 79.4 L498.9 86 L508.5 92.6 L517 99.2 L524.5 105.8 L531.1 112.4 L536.9 119.1 L542 125.7 L546.4 132.3 L550.3 138.9 L553.5 145.5 L556.3 152.1 L558.5 158.7 L560.2 165.4 L561.4 172 L562.1 178.6 L562.3 185.2 L562.1 191.8 L561.4 198.4 L560.2 205 L558.5 211.7 L556.3 218.3 L553.5 224.9 L550.3 231.5 L546.4 238.1 L542 244.7 L536.9 251.3 L531.1 258 L524.5 264.6 L517 271.2 L508.5 277.8 L498.9 284.4 L487.7 291 L474.8 297.7 L459.2 304.3Z" fill="none" stroke="#222" stroke-width="1"/>
<linearGradient id="g2" x1="0" y1="0" x2="0" y2="1"><stop offset="0.000" stop-color="#ff0000"/><stop offset="0.050" stop-color="#ff2814"/><stop offset="0.100" stop-color="#ff4f28"/><stop offset="0.150" stop-color="#ff743c"/><stop offset="0.200" stop-color="#ff964f"/><stop offset="0.250" stop-color="#ffb462"/><stop offset="0.300" stop-color="#e5ce74"/><stop offset="0.350" stop-color="#cce385"/><stop offset="0.400" stop-color="#b2f396"/><stop offset="0.450" stop-color="#99fca6"/><stop offset="0.500" stop-color="#80ffb4"/><stop offset="0.550" stop-color="#66fcc2"/><stop offset="0.600" stop-color="#4df3ce"/><stop offset="0.650" stop-color="#33e3d9"/><stop offset="0.700" stop-color="#1acee3"/><stop offset="0.750" stop-color="#00b4ec"/><stop offset="0.800" stop-color="#1a96f3"/><stop offset="0.850" stop-color="#3374f8"/><stop offset="0.900" stop-color="#4d4ffc"/><stop offset="0.950" stop-color="#6628fe"/><stop offset="1.000" stop-color="#8000ff"/></linearGradient>
<rect x="599.6" y="77.5" width="12.8" height="216.8" fill="url(#g2)"/>
<path d="M599.6 77.5 L606 66 L612.4 77.5Z" fill="#ff0000"/>
<path d="M599.6 294.3 L606 305 L612.4 294.3Z" fill="#8000ff"/>
<path d="M599.6 77.5 L606 66 L612.4 77.5 L612.4 294.3 L606 305 L599.6 294.3Z" fill="none" stroke="#444" stroke-width="0.7"/>
<line x1="612.4" x2="616.2" y1="294.3" y2="294.3" stroke="#333" stroke-width="0.9"/>
<text x="619.2" y="299.3" font-size="14.2" textLength="9.6" lengthAdjust="spacingAndGlyphs" fill="#222">0</text>
<line x1="612.4" x2="616.2" y1="250.9" y2="250.9" stroke="#333" stroke-width="0.9"/>
<text x="619.2" y="255.9" font-size="14.2" textLength="9.6" lengthAdjust="spacingAndGlyphs" fill="#222">2</text>
<line x1="612.4" x2="616.2" y1="207.6" y2="207.6" stroke="#333" stroke-width="0.9"/>
<text x="619.2" y="212.6" font-size="14.2" textLength="9.6" lengthAdjust="spacingAndGlyphs" fill="#222">4</text>
<line x1="612.4" x2="616.2" y1="164.2" y2="164.2" stroke="#333" stroke-width="0.9"/>
<text x="619.2" y="169.2" font-size="14.2" textLength="9.6" lengthAdjust="spacingAndGlyphs" fill="#222">6</text>
<line x1="612.4" x2="616.2" y1="120.9" y2="120.9" stroke="#333" stroke-width="0.9"/>
<text x="619.2" y="125.9" font-size="14.2" textLength="9.6" lengthAdjust="spacingAndGlyphs" fill="#222">8</text>
<line x1="612.4" x2="616.2" y1="77.5" y2="77.5" stroke="#333" stroke-width="0.9"/>
<text x="619.2" y="82.5" font-size="14.2" textLength="19.2" lengthAdjust="spacingAndGlyphs" fill="#222">10</text>
<text transform="translate(657 185.5) rotate(-90)" font-size="16" text-anchor="middle" fill="#222" textLength="103" lengthAdjust="spacingAndGlyphs">×10<tspan font-size="10" dy="-6">3</tspan><tspan dy="6"> counts</tspan></text>
</g>
<g transform="translate(0 465.5)">
<text x="356.4" y="24.7" font-size="16.6" text-anchor="middle" textLength="180.3" lengthAdjust="spacingAndGlyphs" font-weight="bold" fill="#111">Daytime (13-15 LT)</text>
<text x="253.4" y="61.4" font-size="14.2" text-anchor="middle" textLength="43.7" lengthAdjust="spacingAndGlyphs" fill="#222">180W</text>
<text x="253.4" y="319" font-size="14.2" text-anchor="middle" textLength="43.7" lengthAdjust="spacingAndGlyphs" fill="#222">180W</text>
<text x="302.2" y="61.4" font-size="14.2" text-anchor="middle" textLength="34" lengthAdjust="spacingAndGlyphs" fill="#222">90W</text>
<text x="302.2" y="319" font-size="14.2" text-anchor="middle" textLength="34" lengthAdjust="spacingAndGlyphs" fill="#222">90W</text>
<text x="356" y="61.4" font-size="14.2" text-anchor="middle" textLength="10.6" lengthAdjust="spacingAndGlyphs" fill="#222">0</text>
<text x="356" y="319" font-size="14.2" text-anchor="middle" textLength="10.6" lengthAdjust="spacingAndGlyphs" fill="#222">0</text>
<text x="402.4" y="61.4" font-size="14.2" text-anchor="middle" textLength="29" lengthAdjust="spacingAndGlyphs" fill="#222">90E</text>
<text x="402.4" y="319" font-size="14.2" text-anchor="middle" textLength="29" lengthAdjust="spacingAndGlyphs" fill="#222">90E</text>
<text x="458.3" y="61.4" font-size="14.2" text-anchor="middle" textLength="36.4" lengthAdjust="spacingAndGlyphs" fill="#222">180E</text>
<text x="458.3" y="319" font-size="14.2" text-anchor="middle" textLength="36.4" lengthAdjust="spacingAndGlyphs" fill="#222">180E</text>
<text x="146.7" y="101" font-size="14.2" textLength="37.2" lengthAdjust="spacingAndGlyphs" fill="#222">60°N</text>
<text x="528" y="101" font-size="14.2" textLength="37.2" lengthAdjust="spacingAndGlyphs" fill="#222">60°N</text>
<text x="117.9" y="142.6" font-size="14.2" textLength="37.2" lengthAdjust="spacingAndGlyphs" fill="#222">30°N</text>
<text x="557.5" y="142.6" font-size="14.2" textLength="37.2" lengthAdjust="spacingAndGlyphs" fill="#222">30°N</text>
<text x="128.5" y="188" font-size="14.2" textLength="17.7" lengthAdjust="spacingAndGlyphs" fill="#222">0°</text>
<text x="565.7" y="188" font-size="14.2" textLength="17.7" lengthAdjust="spacingAndGlyphs" fill="#222">0°</text>
<text x="119.6" y="237" font-size="14.2" textLength="36.2" lengthAdjust="spacingAndGlyphs" fill="#222">30°S</text>
<text x="557.5" y="237" font-size="14.2" textLength="36.2" lengthAdjust="spacingAndGlyphs" fill="#222">30°S</text>
<text x="148.4" y="275.3" font-size="14.2" textLength="35.5" lengthAdjust="spacingAndGlyphs" fill="#222">60°S</text>
<text x="528" y="275.3" font-size="14.2" textLength="35.5" lengthAdjust="spacingAndGlyphs" fill="#222">60°S</text>
<text x="104.3" y="186.6" font-size="13.8" text-anchor="middle" textLength="142.7" lengthAdjust="spacingAndGlyphs" transform="rotate(-90 104.3 186.6)" fill="#222">Geographic latitude</text>
<text x="356.2" y="356.8" font-size="13.8" text-anchor="middle" textLength="156.4" lengthAdjust="spacingAndGlyphs" fill="#222">Geographic longitude</text>
<clipPath id="c3"><path d="M253 304.3 L237.4 297.7 L224.5 291 L213.3 284.4 L203.7 277.8 L195.2 271.2 L187.7 264.6 L181.1 258 L175.3 251.3 L170.2 244.7 L165.8 238.1 L161.9 231.5 L158.7 224.9 L155.9 218.3 L153.7 211.7 L152 205 L150.8 198.4 L150.1 191.8 L149.9 185.2 L150.1 178.6 L150.8 172 L152 165.4 L153.7 158.7 L155.9 152.1 L158.7 145.5 L161.9 138.9 L165.8 132.3 L170.2 125.7 L175.3 119.1 L181.1 112.4 L187.7 105.8 L195.2 99.2 L203.7 92.6 L213.3 86 L224.5 79.4 L237.4 72.7 L253 66.1 L459.2 66.1 L474.8 72.7 L487.7 79.4 L498.9 86 L508.5 92.6 L517 99.2 L524.5 105.8 L531.1 112.4 L536.9 119.1 L542 125.7 L546.4 132.3 L550.3 138.9 L553.5 145.5 L556.3 152.1 L558.5 158.7 L560.2 165.4 L561.4 172 L562.1 178.6 L562.3 185.2 L562.1 191.8 L561.4 198.4 L560.2 205 L558.5 211.7 L556.3 218.3 L553.5 224.9 L550.3 231.5 L546.4 238.1 L542 244.7 L536.9 251.3 L531.1 258 L524.5 264.6 L517 271.2 L508.5 277.8 L498.9 284.4 L487.7 291 L474.8 297.7 L459.2 304.3Z"/></clipPath>
<g clip-path="url(#c3)">
<rect x="140" y="60" width="440" height="250" fill="#18b3ec"/>
<g filter="url(#bl1)">
<path d="M182.1 259 L176.7 253.1 L172 247.1 L167.7 241.2 L164 235.2 L160.8 229.3 L158 223.3 L155.6 217.4 L153.7 211.4 L152.1 205.5 L151 199.5 L150.3 193.6 L149.9 187.7 L149.9 181.7 L150.4 175.8 L151.2 169.8 L152.4 163.9 L154 157.9 L156 152 L158.4 146 L161.3 140.1 L164.6 134.2 L168.4 128.2 L172.7 122.3 L177.6 116.3" fill="none" stroke="#4ad4f6" stroke-width="2.6" opacity="0.51"/>
<path d="M226.3 289.5 L215.1 282.3 L205.5 275.2 L197.1 268 L189.8 260.9 L183.4 253.7 L177.8 246.6 L173 239.4 L168.9 232.3 L165.5 225.1 L162.6 218 L160.4 210.8 L158.7 203.7 L157.6 196.5 L157 189.4 L156.9 182.2 L157.4 175.1 L158.5 167.9 L160.1 160.8 L162.2 153.6 L165 146.5 L168.3 139.3 L172.3 132.2 L177 125 L182.4 117.9" fill="none" stroke="#4ad4f6" stroke-width="3.3" opacity="0.36"/>
<path d="M259 304.3 L237.9 294.3 L221.6 284.4 L208.4 274.5 L197.5 264.6 L188.4 254.7 L181 244.7 L174.9 234.8 L170.1 224.9 L166.4 215 L163.8 205 L162.3 195.1 L161.8 185.2 L162.3 175.3 L163.8 165.4 L166.4 155.4 L170.1 145.5 L174.9 135.6 L181 125.7 L188.4 115.7 L197.5 105.8 L208.4 95.9 L221.6 86 L237.9 76.1 L259 66.1" fill="none" stroke="#4ad4f6" stroke-width="2.3" opacity="0.17"/>
<path d="M186.8 245.9 L183 239.8 L179.6 233.7 L176.7 227.6 L174.2 221.5 L172.1 215.5 L170.4 209.4 L169.1 203.3 L168.2 197.2 L167.6 191.1 L167.5 185.1 L167.6 179 L168.2 172.9 L169.1 166.8 L170.5 160.7 L172.2 154.7 L174.3 148.6 L176.8 142.5 L179.7 136.4 L183.1 130.4 L187 124.3 L191.4 118.2 L196.3 112.1 L201.9 106 L208.1 100" fill="none" stroke="#1c98e6" stroke-width="2.4" opacity="0.42"/>
<path d="M263.5 304.3 L243.5 294.3 L227.9 284.4 L215.3 274.5 L204.8 264.6 L196.2 254.7 L189.1 244.7 L183.3 234.8 L178.7 224.9 L175.2 215 L172.8 205 L171.3 195.1 L170.9 185.2 L171.3 175.3 L172.8 165.4 L175.2 155.4 L178.7 145.5 L183.3 135.6 L189.1 125.7 L196.2 115.7 L204.8 105.8 L215.3 95.9 L227.9 86 L243.5 76.1 L263.5 66.1" fill="none" stroke="#4ad4f6" stroke-width="3.2" opacity="0.45"/>
<path d="M265.2 304.3 L245.5 294.3 L230.2 284.4 L217.9 274.5 L207.6 264.6 L199.2 254.7 L192.2 244.7 L186.5 234.8 L182 224.9 L178.6 215 L176.2 205 L174.8 195.1 L174.3 185.2 L174.8 175.3 L176.2 165.4 L178.6 155.4 L182 145.5 L186.5 135.6 L192.2 125.7 L199.2 115.7 L207.6 105.8 L217.9 95.9 L230.2 86 L245.5 76.1 L265.2 66.1" fill="none" stroke="#4ad4f6" stroke-width="2.4" opacity="0.27"/>
<path d="M267.5 304.3 L248.4 294.3 L233.5 284.4 L221.4 274.5 L211.5 264.6 L203.2 254.7 L196.4 244.7 L190.9 234.8 L186.5 224.9 L183.2 215 L180.8 205 L179.4 195.1 L179 185.2 L179.4 175.3 L180.8 165.4 L183.2 155.4 L186.5 145.5 L190.9 135.6 L196.4 125.7 L203.2 115.7 L211.5 105.8 L221.4 95.9 L233.5 86 L248.4 76.1 L267.5 66.1" fill="none" stroke="#1c98e6" stroke-width="2.8" opacity="0.37"/>
<path d="M269.2 304.3 L250.5 294.3 L235.9 284.4 L224 274.5 L214.3 264.6 L206.2 254.7 L199.5 244.7 L194.1 234.8 L189.8 224.9 L186.5 215 L184.2 205 L182.8 195.1 L182.4 185.2 L182.8 175.3 L184.2 165.4 L186.5 155.4 L189.8 145.5 L194.1 135.6 L199.5 125.7 L206.2 115.7 L214.3 105.8 L224 95.9 L235.9 86 L250.5 76.1 L269.2 66.1" fill="none" stroke="#4ad4f6" stroke-width="1.8" opacity="0.23"/>
<path d="M271.1 304.3 L252.7 294.3 L238.4 284.4 L226.9 274.5 L217.3 264.6 L209.4 254.7 L202.9 244.7 L197.6 234.8 L193.4 224.9 L190.2 215 L187.9 205 L186.6 195.1 L186.1 185.2 L186.6 175.3 L187.9 165.4 L190.2 155.4 L193.4 145.5 L197.6 135.6 L202.9 125.7 L209.4 115.7 L217.3 105.8 L226.9 95.9 L238.4 86 L252.7 76.1 L271.1 66.1" fill="none" stroke="#4ad4f6" stroke-width="2.4" opacity="0.46"/>
<path d="M273.3 304.3 L255.3 294.3 L241.4 284.4 L230.1 274.5 L220.8 264.6 L213.1 254.7 L206.8 244.7 L201.6 234.8 L197.5 224.9 L194.3 215 L192.1 205 L190.8 195.1 L190.4 185.2 L190.8 175.3 L192.1 165.4 L194.3 155.4 L197.5 145.5 L201.6 135.6 L206.8 125.7 L213.1 115.7 L220.8 105.8 L230.1 95.9 L241.4 86 L255.3 76.1 L273.3 66.1" fill="none" stroke="#1c98e6" stroke-width="1.4" opacity="0.50"/>
<path d="M274.7 304.3 L257.1 294.3 L243.4 284.4 L232.3 274.5 L223.2 264.6 L215.6 254.7 L209.4 244.7 L204.3 234.8 L200.3 224.9 L197.2 215 L195 205 L193.8 195.1 L193.3 185.2 L193.8 175.3 L195 165.4 L197.2 155.4 L200.3 145.5 L204.3 135.6 L209.4 125.7 L215.6 115.7 L223.2 105.8 L232.3 95.9 L243.4 86 L257.1 76.1 L274.7 66.1" fill="none" stroke="#1c98e6" stroke-width="2.7" opacity="0.22"/>
<path d="M277.3 304.3 L260.2 294.3 L247 284.4 L236.3 274.5 L227.4 264.6 L220.1 254.7 L214 244.7 L209.1 234.8 L205.2 224.9 L202.2 215 L200.1 205 L198.9 195.1 L198.5 185.2 L198.9 175.3 L200.1 165.4 L202.2 155.4 L205.2 145.5 L209.1 135.6 L214 125.7 L220.1 115.7 L227.4 105.8 L236.3 95.9 L247 86 L260.2 76.1 L277.3 66.1" fill="none" stroke="#4ad4f6" stroke-width="2.8" opacity="0.34"/>
<path d="M230.9 264 L225.5 256.6 L220.9 249.3 L216.9 241.9 L213.4 234.5 L210.5 227.1 L208.2 219.7 L206.3 212.3 L204.9 205 L203.9 197.6 L203.4 190.2 L203.3 182.8 L203.7 175.4 L204.5 168 L205.7 160.7 L207.5 153.3 L209.7 145.9 L212.4 138.5 L215.6 131.1 L219.4 123.7 L223.8 116.4 L228.9 109 L234.8 101.6 L241.5 94.2 L249.3 86.8" fill="none" stroke="#1c98e6" stroke-width="2.3" opacity="0.16"/>
<path d="M282 304.3 L266 294.3 L253.6 284.4 L243.5 274.5 L235.1 264.6 L228.3 254.7 L222.6 244.7 L217.9 234.8 L214.3 224.9 L211.5 215 L209.5 205 L208.3 195.1 L208 185.2 L208.3 175.3 L209.5 165.4 L211.5 155.4 L214.3 145.5 L217.9 135.6 L222.6 125.7 L228.3 115.7 L235.1 105.8 L243.5 95.9 L253.6 86 L266 76.1 L282 66.1" fill="none" stroke="#4ad4f6" stroke-width="2.8" opacity="0.40"/>
<path d="M231.9 254.8 L228.8 249.4 L226 244.1 L223.5 238.7 L221.3 233.4 L219.3 228 L217.6 222.7 L216.1 217.4 L214.9 212 L213.9 206.7 L213.1 201.3 L212.6 196 L212.2 190.6 L212.1 185.3 L212.2 180 L212.6 174.6 L213.1 169.3 L213.9 163.9 L214.9 158.6 L216.1 153.2 L217.5 147.9 L219.2 142.5 L221.2 137.2 L223.4 131.9 L225.9 126.5" fill="none" stroke="#1c98e6" stroke-width="2.2" opacity="0.47"/>
<path d="M228.6 235.3 L227 230.7 L225.5 226.2 L224.1 221.6 L223 217 L222 212.5 L221.1 207.9 L220.4 203.3 L219.9 198.8 L219.5 194.2 L219.3 189.6 L219.2 185.1 L219.3 180.5 L219.6 175.9 L219.9 171.4 L220.5 166.8 L221.2 162.2 L222 157.7 L223 153.1 L224.2 148.5 L225.5 144 L227.1 139.4 L228.8 134.8 L230.6 130.3 L232.7 125.7" fill="none" stroke="#4ad4f6" stroke-width="3.1" opacity="0.40"/>
<path d="M290.8 304.3 L276.6 294.3 L265.6 284.4 L256.7 274.5 L249.4 264.6 L243.3 254.7 L238.3 244.7 L234.2 234.8 L231 224.9 L228.5 215 L226.8 205 L225.8 195.1 L225.4 185.2 L225.8 175.3 L226.8 165.4 L228.5 155.4 L231 145.5 L234.2 135.6 L238.3 125.7 L243.3 115.7 L249.4 105.8 L256.7 95.9 L265.6 86 L276.6 76.1 L290.8 66.1" fill="none" stroke="#4ad4f6" stroke-width="2.5" opacity="0.23"/>
<path d="M235.7 228.8 L233.8 222.3 L232.3 215.8 L231.1 209.2 L230.2 202.7 L229.5 196.1 L229.2 189.6 L229.2 183 L229.4 176.5 L229.9 170 L230.7 163.4 L231.9 156.9 L233.3 150.3 L235 143.8 L237.1 137.2 L239.5 130.7 L242.3 124.2 L245.5 117.6 L249.2 111.1 L253.3 104.5 L258 98 L263.2 91.4 L269.3 84.9 L276.2 78.4 L284.3 71.8" fill="none" stroke="#1c98e6" stroke-width="2.5" opacity="0.55"/>
<path d="M295.6 304.3 L282.5 294.3 L272.4 284.4 L264.1 274.5 L257.3 264.6 L251.7 254.7 L247 244.7 L243.3 234.8 L240.3 224.9 L238 215 L236.4 205 L235.4 195.1 L235.1 185.2 L235.4 175.3 L236.4 165.4 L238 155.4 L240.3 145.5 L243.3 135.6 L247 125.7 L251.7 115.7 L257.3 105.8 L264.1 95.9 L272.4 86 L282.5 76.1 L295.6 66.1" fill="none" stroke="#1c98e6" stroke-width="3.0" opacity="0.21"/>
<path d="M294.7 302.6 L285.5 295.3 L277.9 288.1 L271.3 280.8 L265.7 273.5 L260.8 266.3 L256.6 259 L252.9 251.7 L249.7 244.4 L246.9 237.2 L244.6 229.9 L242.6 222.6 L241 215.4 L239.8 208.1 L238.9 200.8 L238.4 193.5 L238.2 186.3 L238.3 179 L238.7 171.7 L239.5 164.5 L240.6 157.2 L242.1 149.9 L244 142.6 L246.2 135.4 L248.8 128.1" fill="none" stroke="#4ad4f6" stroke-width="1.4" opacity="0.30"/>
<path d="M256 245.5 L254.2 240.9 L252.7 236.3 L251.2 231.7 L250 227 L248.9 222.4 L247.9 217.8 L247 213.2 L246.3 208.6 L245.7 204 L245.3 199.4 L245 194.8 L244.8 190.2 L244.7 185.6 L244.7 181 L244.9 176.4 L245.2 171.8 L245.7 167.2 L246.2 162.6 L246.9 158 L247.7 153.4 L248.7 148.8 L249.8 144.2 L251 139.6 L252.4 135" fill="none" stroke="#1c98e6" stroke-width="3.0" opacity="0.16"/>
<path d="M301.8 304.3 L290.1 294.3 L281 284.4 L273.6 274.5 L267.5 264.6 L262.5 254.7 L258.3 244.7 L254.9 234.8 L252.2 224.9 L250.2 215 L248.7 205 L247.9 195.1 L247.6 185.2 L247.9 175.3 L248.7 165.4 L250.2 155.4 L252.2 145.5 L254.9 135.6 L258.3 125.7 L262.5 115.7 L267.5 105.8 L273.6 95.9 L281 86 L290.1 76.1 L301.8 66.1" fill="none" stroke="#4ad4f6" stroke-width="1.9" opacity="0.29"/>
<path d="M304.4 304.3 L293.2 294.3 L284.5 284.4 L277.5 274.5 L271.7 264.6 L266.9 254.7 L262.9 244.7 L259.7 234.8 L257.1 224.9 L255.2 215 L253.8 205 L253 195.1 L252.7 185.2 L253 175.3 L253.8 165.4 L255.2 155.4 L257.1 145.5 L259.7 135.6 L262.9 125.7 L266.9 115.7 L271.7 105.8 L277.5 95.9 L284.5 86 L293.2 76.1 L304.4 66.1" fill="none" stroke="#4ad4f6" stroke-width="1.5" opacity="0.19"/>
<path d="M295.8 293.9 L289.9 287.1 L284.8 280.2 L280.5 273.4 L276.6 266.6 L273.2 259.7 L270.3 252.9 L267.7 246 L265.4 239.2 L263.5 232.3 L261.8 225.5 L260.4 218.6 L259.3 211.8 L258.5 204.9 L257.9 198.1 L257.6 191.2 L257.5 184.4 L257.6 177.6 L258 170.7 L258.7 163.9 L259.6 157 L260.7 150.2 L262.2 143.3 L263.9 136.5 L265.9 129.6" fill="none" stroke="#4ad4f6" stroke-width="2.6" opacity="0.24"/>
<path d="M308.3 304.3 L297.9 294.3 L289.9 284.4 L283.4 274.5 L278 264.6 L273.6 254.7 L269.9 244.7 L266.9 234.8 L264.5 224.9 L262.7 215 L261.5 205 L260.7 195.1 L260.5 185.2 L260.7 175.3 L261.5 165.4 L262.7 155.4 L264.5 145.5 L266.9 135.6 L269.9 125.7 L273.6 115.7 L278 105.8 L283.4 95.9 L289.9 86 L297.9 76.1 L308.3 66.1" fill="none" stroke="#4ad4f6" stroke-width="1.9" opacity="0.48"/>
<path d="M309.7 304.3 L299.7 294.3 L291.9 284.4 L285.6 274.5 L280.4 264.6 L276.1 254.7 L272.5 244.7 L269.6 234.8 L267.3 224.9 L265.6 215 L264.3 205 L263.6 195.1 L263.4 185.2 L263.6 175.3 L264.3 165.4 L265.6 155.4 L267.3 145.5 L269.6 135.6 L272.5 125.7 L276.1 115.7 L280.4 105.8 L285.6 95.9 L291.9 86 L299.7 76.1 L309.7 66.1" fill="none" stroke="#1c98e6" stroke-width="1.7" opacity="0.17"/>
<path d="M311.5 304.3 L301.9 294.3 L294.4 284.4 L288.3 274.5 L283.3 264.6 L279.2 254.7 L275.7 244.7 L273 234.8 L270.8 224.9 L269.1 215 L267.9 205 L267.2 195.1 L267 185.2 L267.2 175.3 L267.9 165.4 L269.1 155.4 L270.8 145.5 L273 135.6 L275.7 125.7 L279.2 115.7 L283.3 105.8 L288.3 95.9 L294.4 86 L301.9 76.1 L311.5 66.1" fill="none" stroke="#1c98e6" stroke-width="2.6" opacity="0.53"/>
<path d="M313.7 304.3 L304.6 294.3 L297.4 284.4 L291.7 274.5 L286.9 264.6 L282.9 254.7 L279.7 244.7 L277 234.8 L274.9 224.9 L273.3 215 L272.2 205 L271.6 195.1 L271.3 185.2 L271.6 175.3 L272.2 165.4 L273.3 155.4 L274.9 145.5 L277 135.6 L279.7 125.7 L282.9 115.7 L286.9 105.8 L291.7 95.9 L297.4 86 L304.6 76.1 L313.7 66.1" fill="none" stroke="#1c98e6" stroke-width="2.3" opacity="0.47"/>
<path d="M281.3 234.7 L279.9 227.9 L278.8 221.2 L277.8 214.4 L277 207.6 L276.5 200.9 L276.1 194.1 L276 187.3 L276 180.6 L276.2 173.8 L276.7 167 L277.3 160.3 L278.1 153.5 L279.2 146.7 L280.4 140 L281.9 133.2 L283.7 126.4 L285.7 119.7 L287.9 112.9 L290.5 106.1 L293.5 99.4 L296.9 92.6 L300.7 85.8 L305.2 79.1 L310.4 72.3" fill="none" stroke="#4ad4f6" stroke-width="1.6" opacity="0.50"/>
<path d="M287 239.8 L285.6 233.5 L284.4 227.2 L283.4 220.9 L282.5 214.6 L281.9 208.3 L281.4 202 L281 195.7 L280.8 189.4 L280.8 183.1 L280.9 176.8 L281.2 170.5 L281.7 164.2 L282.3 157.9 L283.1 151.6 L284 145.3 L285.2 139 L286.5 132.7 L288 126.4 L289.8 120.2 L291.7 113.9 L294 107.6 L296.5 101.3 L299.3 95 L302.5 88.7" fill="none" stroke="#1c98e6" stroke-width="2.6" opacity="0.24"/>
<path d="M321.4 304.3 L313.9 294.3 L308.1 284.4 L303.4 274.5 L299.5 264.6 L296.2 254.7 L293.6 244.7 L291.4 234.8 L289.7 224.9 L288.4 215 L287.5 205 L286.9 195.1 L286.7 185.2 L286.9 175.3 L287.5 165.4 L288.4 155.4 L289.7 145.5 L291.4 135.6 L293.6 125.7 L296.2 115.7 L299.5 105.8 L303.4 95.9 L308.1 86 L313.9 76.1 L321.4 66.1" fill="none" stroke="#4ad4f6" stroke-width="1.4" opacity="0.46"/>
<path d="M323.2 304.3 L316.1 294.3 L310.6 284.4 L306.1 274.5 L302.4 264.6 L299.3 254.7 L296.8 244.7 L294.8 234.8 L293.1 224.9 L291.9 215 L291 205 L290.5 195.1 L290.3 185.2 L290.5 175.3 L291 165.4 L291.9 155.4 L293.1 145.5 L294.8 135.6 L296.8 125.7 L299.3 115.7 L302.4 105.8 L306.1 95.9 L310.6 86 L316.1 76.1 L323.2 66.1" fill="none" stroke="#4ad4f6" stroke-width="2.2" opacity="0.22"/>
<path d="M325.6 304.3 L319 294.3 L313.9 284.4 L309.7 274.5 L306.3 264.6 L303.5 254.7 L301.1 244.7 L299.2 234.8 L297.7 224.9 L296.6 215 L295.8 205 L295.3 195.1 L295.1 185.2 L295.3 175.3 L295.8 165.4 L296.6 155.4 L297.7 145.5 L299.2 135.6 L301.1 125.7 L303.5 115.7 L306.3 105.8 L309.7 95.9 L313.9 86 L319 76.1 L325.6 66.1" fill="none" stroke="#4ad4f6" stroke-width="3.2" opacity="0.52"/>
<path d="M323.8 297 L320.3 290.3 L317.3 283.5 L314.7 276.8 L312.4 270.1 L310.4 263.3 L308.7 256.6 L307.1 249.9 L305.8 243.2 L304.6 236.4 L303.6 229.7 L302.7 223 L302 216.2 L301.5 209.5 L301.1 202.8 L300.8 196.1 L300.6 189.3 L300.6 182.6 L300.7 175.9 L301 169.1 L301.4 162.4 L301.9 155.7 L302.6 148.9 L303.4 142.2 L304.4 135.5" fill="none" stroke="#1c98e6" stroke-width="2.4" opacity="0.30"/>
<path d="M331.1 304.3 L325.7 294.3 L321.5 284.4 L318.1 274.5 L315.3 264.6 L313 254.7 L311.1 244.7 L309.5 234.8 L308.3 224.9 L307.3 215 L306.7 205 L306.3 195.1 L306.2 185.2 L306.3 175.3 L306.7 165.4 L307.3 155.4 L308.3 145.5 L309.5 135.6 L311.1 125.7 L313 115.7 L315.3 105.8 L318.1 95.9 L321.5 86 L325.7 76.1 L331.1 66.1" fill="none" stroke="#4ad4f6" stroke-width="1.9" opacity="0.37"/>
<path d="M324.4 281.8 L322.2 274.3 L320.2 266.9 L318.6 259.4 L317.1 251.9 L315.9 244.4 L314.8 237 L313.9 229.5 L313.1 222 L312.5 214.6 L312.1 207.1 L311.8 199.6 L311.6 192.2 L311.5 184.7 L311.6 177.2 L311.8 169.7 L312.1 162.3 L312.6 154.8 L313.2 147.3 L314 139.9 L314.9 132.4 L316 124.9 L317.3 117.4 L318.8 110 L320.5 102.5" fill="none" stroke="#4ad4f6" stroke-width="1.8" opacity="0.27"/>
<path d="M328.8 280.2 L327.3 274 L325.9 267.8 L324.7 261.6 L323.6 255.5 L322.7 249.3 L321.8 243.1 L321.1 236.9 L320.4 230.7 L319.9 224.5 L319.4 218.4 L319 212.2 L318.7 206 L318.5 199.8 L318.4 193.6 L318.3 187.4 L318.3 181.2 L318.4 175.1 L318.6 168.9 L318.8 162.7 L319.1 156.5 L319.5 150.3 L320 144.1 L320.6 138 L321.3 131.8" fill="none" stroke="#1c98e6" stroke-width="3.0" opacity="0.23"/>
<path d="M325.9 238.9 L325.3 232.5 L324.7 226.1 L324.3 219.8 L323.9 213.4 L323.7 207 L323.4 200.6 L323.3 194.2 L323.2 187.8 L323.3 181.4 L323.3 175.1 L323.5 168.7 L323.7 162.3 L324 155.9 L324.4 149.5 L324.8 143.1 L325.4 136.7 L326 130.4 L326.7 124 L327.5 117.6 L328.4 111.2 L329.4 104.8 L330.6 98.4 L331.9 92 L333.4 85.6" fill="none" stroke="#1c98e6" stroke-width="3.3" opacity="0.29"/>
<path d="M340.5 301.8 L337.8 293 L335.7 284.3 L333.9 275.5 L332.4 266.7 L331.1 257.9 L330 249.2 L329.1 240.4 L328.4 231.6 L327.8 222.9 L327.3 214.1 L327 205.3 L326.8 196.5 L326.7 187.8 L326.7 179 L326.8 170.2 L327.1 161.4 L327.5 152.7 L328 143.9 L328.7 135.1 L329.5 126.4 L330.5 117.6 L331.6 108.8 L333 100 L334.6 91.3" fill="none" stroke="#4ad4f6" stroke-width="3.0" opacity="0.41"/>
<path d="M334.2 238.6 L333.8 232.5 L333.5 226.4 L333.2 220.3 L332.9 214.2 L332.7 208.1 L332.5 202 L332.4 195.9 L332.4 189.8 L332.4 183.7 L332.4 177.6 L332.5 171.5 L332.6 165.4 L332.8 159.3 L333 153.2 L333.3 147.1 L333.6 141 L334 134.9 L334.5 128.8 L335 122.7 L335.5 116.6 L336.2 110.5 L336.9 104.4 L337.7 98.3 L338.6 92.2" fill="none" stroke="#4ad4f6" stroke-width="1.8" opacity="0.20"/>
<path d="M339.9 232.8 L339.6 226 L339.4 219.1 L339.2 212.3 L339 205.4 L338.9 198.6 L338.9 191.7 L338.8 184.9 L338.9 178.1 L338.9 171.2 L339 164.4 L339.2 157.5 L339.4 150.7 L339.6 143.9 L339.9 137 L340.3 130.2 L340.7 123.3 L341.2 116.5 L341.7 109.7 L342.3 102.8 L343 96 L343.8 89.1 L344.7 82.3 L345.7 75.4 L347 68.6" fill="none" stroke="#4ad4f6" stroke-width="2.1" opacity="0.28"/>
<path d="M351 304.3 L349.9 294.3 L349 284.4 L348.3 274.5 L347.7 264.6 L347.2 254.7 L346.9 244.7 L346.5 234.8 L346.3 224.9 L346.1 215 L346 205 L345.9 195.1 L345.8 185.2 L345.9 175.3 L346 165.4 L346.1 155.4 L346.3 145.5 L346.5 135.6 L346.9 125.7 L347.2 115.7 L347.7 105.8 L348.3 95.9 L349 86 L349.9 76.1 L351 66.1" fill="none" stroke="#4ad4f6" stroke-width="1.7" opacity="0.17"/>
<path d="M350 260.6 L349.8 254.9 L349.6 249.3 L349.5 243.6 L349.3 238 L349.2 232.3 L349.1 226.6 L349 221 L349 215.3 L348.9 209.7 L348.8 204 L348.8 198.3 L348.8 192.7 L348.8 187 L348.8 181.4 L348.8 175.7 L348.8 170 L348.9 164.4 L348.9 158.7 L349 153 L349.1 147.4 L349.2 141.7 L349.3 136.1 L349.4 130.4 L349.5 124.7" fill="none" stroke="#4ad4f6" stroke-width="3.4" opacity="0.18"/>
<path d="M354.3 277.8 L354.1 269.6 L354 261.3 L353.9 253.1 L353.9 244.9 L353.8 236.7 L353.7 228.4 L353.7 220.2 L353.7 212 L353.6 203.7 L353.6 195.5 L353.6 187.3 L353.6 179.1 L353.6 170.8 L353.7 162.6 L353.7 154.4 L353.7 146.2 L353.8 137.9 L353.8 129.7 L353.9 121.5 L354 113.3 L354.1 105 L354.2 96.8 L354.3 88.6 L354.5 80.4" fill="none" stroke="#1c98e6" stroke-width="1.5" opacity="0.22"/>
<path d="M358.1 304.3 L358.6 294.3 L358.9 284.4 L359.2 274.5 L359.4 264.6 L359.6 254.7 L359.8 244.7 L359.9 234.8 L360 224.9 L360.1 215 L360.2 205 L360.2 195.1 L360.2 185.2 L360.2 175.3 L360.2 165.4 L360.1 155.4 L360 145.5 L359.9 135.6 L359.8 125.7 L359.6 115.7 L359.4 105.8 L359.2 95.9 L358.9 86 L358.6 76.1 L358.1 66.1" fill="none" stroke="#4ad4f6" stroke-width="2.5" opacity="0.27"/>
<path d="M361.5 299.2 L362.3 291.3 L362.9 283.4 L363.4 275.4 L363.8 267.5 L364.2 259.5 L364.6 251.6 L364.9 243.6 L365.1 235.7 L365.3 227.8 L365.5 219.8 L365.6 211.9 L365.7 203.9 L365.7 196 L365.8 188 L365.8 180.1 L365.7 172.2 L365.7 164.2 L365.6 156.3 L365.4 148.3 L365.2 140.4 L365 132.4 L364.8 124.5 L364.5 116.6 L364.1 108.6" fill="none" stroke="#4ad4f6" stroke-width="3.1" opacity="0.52"/>
<path d="M368.2 271.6 L368.9 263.6 L369.5 255.6 L370 247.6 L370.4 239.5 L370.7 231.5 L371 223.5 L371.3 215.5 L371.4 207.5 L371.6 199.5 L371.6 191.5 L371.6 183.5 L371.6 175.4 L371.5 167.4 L371.4 159.4 L371.2 151.4 L370.9 143.4 L370.6 135.4 L370.2 127.4 L369.7 119.4 L369.2 111.4 L368.6 103.3 L367.9 95.3 L367 87.3 L366 79.3" fill="none" stroke="#4ad4f6" stroke-width="1.6" opacity="0.36"/>
<path d="M365.8 304.3 L367.9 294.3 L369.5 284.4 L370.8 274.5 L371.9 264.6 L372.8 254.7 L373.5 244.7 L374.1 234.8 L374.6 224.9 L375 215 L375.2 205 L375.4 195.1 L375.4 185.2 L375.4 175.3 L375.2 165.4 L375 155.4 L374.6 145.5 L374.1 135.6 L373.5 125.7 L372.8 115.7 L371.9 105.8 L370.8 95.9 L369.5 86 L367.9 76.1 L365.8 66.1" fill="none" stroke="#4ad4f6" stroke-width="1.6" opacity="0.28"/>
<path d="M380.4 227.6 L380.7 222 L380.9 216.3 L381.2 210.6 L381.3 204.9 L381.5 199.2 L381.6 193.5 L381.6 187.8 L381.6 182.1 L381.6 176.4 L381.5 170.7 L381.3 165 L381.2 159.3 L380.9 153.7 L380.7 148 L380.3 142.3 L380 136.6 L379.5 130.9 L379 125.2 L378.5 119.5 L377.9 113.8 L377.2 108.1 L376.5 102.4 L375.6 96.7 L374.7 91.1" fill="none" stroke="#4ad4f6" stroke-width="3.3" opacity="0.22"/>
<path d="M374.2 297.7 L376.5 289.9 L378.4 282.1 L380 274.3 L381.4 266.5 L382.7 258.7 L383.7 250.9 L384.6 243.1 L385.4 235.3 L386 227.5 L386.5 219.7 L386.9 211.9 L387.2 204.1 L387.4 196.3 L387.5 188.5 L387.5 180.7 L387.4 172.9 L387.2 165.2 L386.9 157.4 L386.4 149.6 L385.9 141.8 L385.3 134 L384.5 126.2 L383.6 118.4 L382.5 110.6" fill="none" stroke="#1c98e6" stroke-width="2.9" opacity="0.37"/>
<path d="M387.3 254.3 L388.2 248.6 L388.9 242.9 L389.5 237.2 L390.1 231.5 L390.6 225.8 L391 220.1 L391.4 214.4 L391.7 208.7 L391.9 203 L392.1 197.3 L392.2 191.6 L392.2 185.9 L392.2 180.2 L392.1 174.5 L392 168.8 L391.7 163.2 L391.5 157.5 L391.1 151.8 L390.7 146.1 L390.2 140.4 L389.7 134.7 L389.1 129 L388.3 123.3 L387.5 117.6" fill="none" stroke="#1c98e6" stroke-width="2.8" opacity="0.52"/>
<path d="M377 304.3 L381.5 294.3 L385.1 284.4 L387.9 274.5 L390.2 264.6 L392.2 254.7 L393.8 244.7 L395.1 234.8 L396.1 224.9 L396.9 215 L397.5 205 L397.8 195.1 L397.9 185.2 L397.8 175.3 L397.5 165.4 L396.9 155.4 L396.1 145.5 L395.1 135.6 L393.8 125.7 L392.2 115.7 L390.2 105.8 L387.9 95.9 L385.1 86 L381.5 76.1 L377 66.1" fill="none" stroke="#1c98e6" stroke-width="2.0" opacity="0.48"/>
<path d="M401.8 233.1 L402.3 229.1 L402.7 225.2 L403.1 221.2 L403.5 217.3 L403.8 213.4 L404.1 209.4 L404.3 205.5 L404.5 201.5 L404.6 197.6 L404.7 193.6 L404.8 189.7 L404.8 185.7 L404.8 181.8 L404.7 177.8 L404.7 173.9 L404.5 169.9 L404.3 166 L404.1 162.1 L403.9 158.1 L403.6 154.2 L403.2 150.2 L402.8 146.3 L402.4 142.3 L401.9 138.4" fill="none" stroke="#4ad4f6" stroke-width="1.8" opacity="0.41"/>
<path d="M398 275.8 L400.6 267.8 L402.9 259.7 L404.8 251.7 L406.5 243.6 L407.9 235.6 L409.1 227.6 L410 219.5 L410.7 211.5 L411.3 203.4 L411.6 195.4 L411.8 187.4 L411.7 179.3 L411.5 171.3 L411.1 163.2 L410.4 155.2 L409.6 147.2 L408.6 139.1 L407.3 131.1 L405.8 123 L404 115 L401.9 107 L399.4 98.9 L396.6 90.9 L393.3 82.8" fill="none" stroke="#1c98e6" stroke-width="1.7" opacity="0.21"/>
<path d="M385.6 304.3 L392 294.3 L397 284.4 L401 274.5 L404.3 264.6 L407.1 254.7 L409.3 244.7 L411.2 234.8 L412.6 224.9 L413.7 215 L414.5 205 L415 195.1 L415.2 185.2 L415 175.3 L414.5 165.4 L413.7 155.4 L412.6 145.5 L411.2 135.6 L409.3 125.7 L407.1 115.7 L404.3 105.8 L401 95.9 L397 86 L392 76.1 L385.6 66.1" fill="none" stroke="#1c98e6" stroke-width="1.3" opacity="0.23"/>
<path d="M414.3 244.1 L415.5 238.3 L416.6 232.5 L417.5 226.7 L418.3 221 L419 215.2 L419.5 209.4 L419.9 203.6 L420.2 197.8 L420.4 192.1 L420.5 186.3 L420.5 180.5 L420.3 174.7 L420.1 168.9 L419.7 163.1 L419.2 157.4 L418.6 151.6 L417.8 145.8 L416.9 140 L415.9 134.2 L414.8 128.5 L413.5 122.7 L412 116.9 L410.4 111.1 L408.5 105.3" fill="none" stroke="#4ad4f6" stroke-width="2.0" opacity="0.36"/>
<path d="M400.6 288.4 L404.7 280.3 L408.2 272.2 L411.2 264.1 L413.8 256 L416 247.9 L417.9 239.8 L419.4 231.7 L420.7 223.6 L421.7 215.5 L422.5 207.4 L423 199.3 L423.3 191.2 L423.4 183.1 L423.2 175 L422.8 166.9 L422.1 158.8 L421.2 150.7 L420.1 142.6 L418.6 134.5 L416.9 126.4 L414.9 118.3 L412.5 110.2 L409.7 102.1 L406.5 94" fill="none" stroke="#4ad4f6" stroke-width="1.7" opacity="0.55"/>
<path d="M413 271.7 L415.4 265.7 L417.6 259.7 L419.5 253.7 L421.2 247.8 L422.8 241.8 L424.1 235.8 L425.3 229.8 L426.3 223.9 L427.1 217.9 L427.8 211.9 L428.4 205.9 L428.8 200 L429.1 194 L429.2 188 L429.2 182.1 L429.1 176.1 L428.8 170.1 L428.4 164.1 L427.8 158.2 L427.1 152.2 L426.2 146.2 L425.2 140.2 L424 134.3 L422.7 128.3" fill="none" stroke="#1c98e6" stroke-width="2.4" opacity="0.40"/>
<path d="M394.3 304.3 L402.6 294.3 L409 284.4 L414.2 274.5 L418.5 264.6 L422.1 254.7 L425 244.7 L427.4 234.8 L429.3 224.9 L430.7 215 L431.7 205 L432.4 195.1 L432.5 185.2 L432.4 175.3 L431.7 165.4 L430.7 155.4 L429.3 145.5 L427.4 135.6 L425 125.7 L422.1 115.7 L418.5 105.8 L414.2 95.9 L409 86 L402.6 76.1 L394.3 66.1" fill="none" stroke="#4ad4f6" stroke-width="3.1" opacity="0.24"/>
<path d="M396 304.3 L404.6 294.3 L411.4 284.4 L416.8 274.5 L421.3 264.6 L425 254.7 L428.1 244.7 L430.6 234.8 L432.5 224.9 L434 215 L435.1 205 L435.7 195.1 L435.9 185.2 L435.7 175.3 L435.1 165.4 L434 155.4 L432.5 145.5 L430.6 135.6 L428.1 125.7 L425 115.7 L421.3 105.8 L416.8 95.9 L411.4 86 L404.6 76.1 L396 66.1" fill="none" stroke="#1c98e6" stroke-width="2.4" opacity="0.16"/>
<path d="M410.9 290.4 L416.1 282.7 L420.6 274.9 L424.4 267.2 L427.8 259.5 L430.6 251.7 L433.1 244 L435.2 236.2 L436.9 228.5 L438.3 220.7 L439.5 213 L440.3 205.2 L440.9 197.5 L441.2 189.7 L441.2 182 L441 174.2 L440.4 166.5 L439.6 158.7 L438.6 151 L437.2 143.2 L435.5 135.5 L433.4 127.7 L431 120 L428.3 112.2 L425 104.5" fill="none" stroke="#1c98e6" stroke-width="2.1" opacity="0.46"/>
<path d="M407.8 297.9 L414.9 289.6 L420.7 281.2 L425.6 272.9 L429.8 264.6 L433.4 256.2 L436.4 247.9 L439 239.6 L441.1 231.2 L442.9 222.9 L444.3 214.6 L445.3 206.2 L446 197.9 L446.3 189.6 L446.3 181.2 L446 172.9 L445.3 164.6 L444.3 156.2 L443 147.9 L441.2 139.6 L439.1 131.2 L436.6 122.9 L433.5 114.6 L430 106.3 L425.8 97.9" fill="none" stroke="#1c98e6" stroke-width="2.8" opacity="0.55"/>
<path d="M440.3 248.5 L442 243.6 L443.5 238.7 L444.8 233.8 L446 228.9 L447.1 224 L448 219.1 L448.8 214.3 L449.5 209.4 L450 204.5 L450.4 199.6 L450.7 194.7 L450.9 189.8 L451 184.9 L450.9 180 L450.7 175.1 L450.4 170.2 L450 165.3 L449.4 160.4 L448.7 155.5 L447.9 150.7 L447 145.8 L445.9 140.9 L444.7 136 L443.3 131.1" fill="none" stroke="#1c98e6" stroke-width="3.1" opacity="0.29"/>
<path d="M405.8 304.3 L416.6 294.3 L424.9 284.4 L431.7 274.5 L437.3 264.6 L441.9 254.7 L445.8 244.7 L448.9 234.8 L451.3 224.9 L453.2 215 L454.5 205 L455.3 195.1 L455.6 185.2 L455.3 175.3 L454.5 165.4 L453.2 155.4 L451.3 145.5 L448.9 135.6 L445.8 125.7 L441.9 115.7 L437.3 105.8 L431.7 95.9 L424.9 86 L416.6 76.1 L405.8 66.1" fill="none" stroke="#4ad4f6" stroke-width="1.7" opacity="0.22"/>
<path d="M432.6 279.7 L438.4 271 L443.3 262.3 L447.5 253.6 L451 244.9 L453.9 236.1 L456.3 227.4 L458.2 218.7 L459.7 210 L460.7 201.3 L461.3 192.6 L461.4 183.9 L461.1 175.2 L460.4 166.5 L459.3 157.8 L457.7 149.1 L455.7 140.3 L453.1 131.6 L450 122.9 L446.3 114.2 L441.9 105.5 L436.8 96.8 L430.7 88.1 L423.3 79.4 L414.4 70.7" fill="none" stroke="#1c98e6" stroke-width="1.7" opacity="0.42"/>
<path d="M429.3 286.8 L436.1 278.1 L441.9 269.5 L446.8 260.8 L450.9 252.2 L454.4 243.5 L457.3 234.9 L459.7 226.2 L461.6 217.6 L463 208.9 L464 200.3 L464.5 191.6 L464.6 183 L464.3 174.3 L463.6 165.7 L462.4 157 L460.7 148.4 L458.6 139.7 L455.9 131.1 L452.7 122.4 L448.9 113.8 L444.3 105.1 L439 96.5 L432.7 87.8 L425.2 79.2" fill="none" stroke="#4ad4f6" stroke-width="3.0" opacity="0.41"/>
<path d="M413.5 304.3 L426 294.3 L435.6 284.4 L443.5 274.5 L449.9 264.6 L455.2 254.7 L459.7 244.7 L463.2 234.8 L466.1 224.9 L468.3 215 L469.8 205 L470.7 195.1 L471 185.2 L470.7 175.3 L469.8 165.4 L468.3 155.4 L466.1 145.5 L463.2 135.6 L459.7 125.7 L455.2 115.7 L449.9 105.8 L443.5 95.9 L435.6 86 L426 76.1 L413.5 66.1" fill="none" stroke="#4ad4f6" stroke-width="3.1" opacity="0.48"/>
<path d="M416.5 304.3 L429.5 294.3 L439.7 284.4 L447.9 274.5 L454.7 264.6 L460.3 254.7 L464.9 244.7 L468.7 234.8 L471.7 224.9 L473.9 215 L475.5 205 L476.5 195.1 L476.8 185.2 L476.5 175.3 L475.5 165.4 L473.9 155.4 L471.7 145.5 L468.7 135.6 L464.9 125.7 L460.3 115.7 L454.7 105.8 L447.9 95.9 L439.7 86 L429.5 76.1 L416.5 66.1" fill="none" stroke="#4ad4f6" stroke-width="2.1" opacity="0.52"/>
<path d="M419.9 304.3 L433.7 294.3 L444.5 284.4 L453.2 274.5 L460.3 264.6 L466.3 254.7 L471.2 244.7 L475.1 234.8 L478.3 224.9 L480.7 215 L482.4 205 L483.4 195.1 L483.7 185.2 L483.4 175.3 L482.4 165.4 L480.7 155.4 L478.3 145.5 L475.1 135.6 L471.2 125.7 L466.3 115.7 L460.3 105.8 L453.2 95.9 L444.5 86 L433.7 76.1 L419.9 66.1" fill="none" stroke="#1c98e6" stroke-width="3.1" opacity="0.48"/>
<path d="M421.5 304.3 L435.7 294.3 L446.7 284.4 L455.6 274.5 L462.9 264.6 L469 254.7 L474 244.7 L478.1 234.8 L481.4 224.9 L483.8 215 L485.6 205 L486.6 195.1 L486.9 185.2 L486.6 175.3 L485.6 165.4 L483.8 155.4 L481.4 145.5 L478.1 135.6 L474 125.7 L469 115.7 L462.9 105.8 L455.6 95.9 L446.7 86 L435.7 76.1 L421.5 66.1" fill="none" stroke="#4ad4f6" stroke-width="3.3" opacity="0.16"/>
<path d="M483.1 234.2 L484.8 229.5 L486.2 224.9 L487.6 220.2 L488.7 215.5 L489.6 210.8 L490.4 206.1 L491.1 201.4 L491.5 196.7 L491.9 192.1 L492 187.4 L492 182.7 L491.8 178 L491.5 173.3 L491 168.6 L490.4 163.9 L489.6 159.2 L488.6 154.6 L487.5 149.9 L486.1 145.2 L484.6 140.5 L483 135.8 L481.1 131.1 L479 126.4 L476.7 121.8" fill="none" stroke="#4ad4f6" stroke-width="2.4" opacity="0.54"/>
<path d="M425.8 304.3 L440.9 294.3 L452.6 284.4 L462.1 274.5 L469.9 264.6 L476.4 254.7 L481.7 244.7 L486.1 234.8 L489.6 224.9 L492.2 215 L494 205 L495.1 195.1 L495.5 185.2 L495.1 175.3 L494 165.4 L492.2 155.4 L489.6 145.5 L486.1 135.6 L481.7 125.7 L476.4 115.7 L469.9 105.8 L462.1 95.9 L452.6 86 L440.9 76.1 L425.8 66.1" fill="none" stroke="#1c98e6" stroke-width="2.8" opacity="0.25"/>
<path d="M489.6 242.3 L492.8 235.4 L495.4 228.5 L497.7 221.6 L499.5 214.7 L500.9 207.8 L501.9 200.9 L502.6 194 L502.9 187.1 L502.8 180.2 L502.3 173.3 L501.5 166.4 L500.3 159.5 L498.7 152.6 L496.7 145.6 L494.3 138.7 L491.4 131.8 L488 124.9 L484.2 118 L479.8 111.1 L474.7 104.2 L469 97.3 L462.4 90.4 L454.9 83.5 L446.1 76.6" fill="none" stroke="#1c98e6" stroke-width="2.3" opacity="0.16"/>
<path d="M432.7 304.3 L449.3 294.3 L462.2 284.4 L472.6 274.5 L481.2 264.6 L488.4 254.7 L494.2 244.7 L499 234.8 L502.8 224.9 L505.7 215 L507.7 205 L509 195.1 L509.4 185.2 L509 175.3 L507.7 165.4 L505.7 155.4 L502.8 145.5 L499 135.6 L494.2 125.7 L488.4 115.7 L481.2 105.8 L472.6 95.9 L462.2 86 L449.3 76.1 L432.7 66.1" fill="none" stroke="#4ad4f6" stroke-width="3.0" opacity="0.44"/>
<path d="M434.6 304.3 L451.5 294.3 L464.7 284.4 L475.4 274.5 L484.2 264.6 L491.5 254.7 L497.5 244.7 L502.4 234.8 L506.3 224.9 L509.3 215 L511.4 205 L512.6 195.1 L513 185.2 L512.6 175.3 L511.4 165.4 L509.3 155.4 L506.3 145.5 L502.4 135.6 L497.5 125.7 L491.5 115.7 L484.2 105.8 L475.4 95.9 L464.7 86 L451.5 76.1 L434.6 66.1" fill="none" stroke="#1c98e6" stroke-width="3.3" opacity="0.15"/>
<path d="M456.5 293.4 L465.7 286.7 L473.7 280.1 L480.7 273.5 L486.9 266.9 L492.3 260.3 L497.1 253.7 L501.3 247.1 L505 240.5 L508.2 233.9 L510.9 227.3 L513.2 220.7 L515.1 214.1 L516.6 207.4 L517.7 200.8 L518.4 194.2 L518.7 187.6 L518.6 181 L518.2 174.4 L517.4 167.8 L516.2 161.2 L514.6 154.6 L512.6 148 L510.2 141.4 L507.4 134.8" fill="none" stroke="#1c98e6" stroke-width="3.2" opacity="0.52"/>
<path d="M439.2 304.3 L457.2 294.3 L471.2 284.4 L482.5 274.5 L491.8 264.6 L499.6 254.7 L506 244.7 L511.1 234.8 L515.3 224.9 L518.4 215 L520.6 205 L521.9 195.1 L522.3 185.2 L521.9 175.3 L520.6 165.4 L518.4 155.4 L515.3 145.5 L511.1 135.6 L506 125.7 L499.6 115.7 L491.8 105.8 L482.5 95.9 L471.2 86 L457.2 76.1 L439.2 66.1" fill="none" stroke="#1c98e6" stroke-width="2.2" opacity="0.32"/>
<path d="M442.3 304.3 L461 294.3 L475.5 284.4 L487.2 274.5 L496.9 264.6 L504.9 254.7 L511.6 244.7 L517 234.8 L521.2 224.9 L524.5 215 L526.8 205 L528.1 195.1 L528.6 185.2 L528.1 175.3 L526.8 165.4 L524.5 155.4 L521.2 145.5 L517 135.6 L511.6 125.7 L504.9 115.7 L496.9 105.8 L487.2 95.9 L475.5 86 L461 76.1 L442.3 66.1" fill="none" stroke="#4ad4f6" stroke-width="1.4" opacity="0.33"/>
<path d="M445.1 304.3 L464.3 294.3 L479.3 284.4 L491.4 274.5 L501.4 264.6 L509.7 254.7 L516.5 244.7 L522.1 234.8 L526.5 224.9 L529.9 215 L532.2 205 L533.6 195.1 L534.1 185.2 L533.6 175.3 L532.2 165.4 L529.9 155.4 L526.5 145.5 L522.1 135.6 L516.5 125.7 L509.7 115.7 L501.4 105.8 L491.4 95.9 L479.3 86 L464.3 76.1 L445.1 66.1" fill="none" stroke="#1c98e6" stroke-width="2.7" opacity="0.30"/>
<path d="M447.8 304.3 L467.6 294.3 L483.1 284.4 L495.6 274.5 L505.9 264.6 L514.4 254.7 L521.4 244.7 L527.2 234.8 L531.7 224.9 L535.2 215 L537.6 205 L539.1 195.1 L539.5 185.2 L539.1 175.3 L537.6 165.4 L535.2 155.4 L531.7 145.5 L527.2 135.6 L521.4 125.7 L514.4 115.7 L505.9 105.8 L495.6 95.9 L483.1 86 L467.6 76.1 L447.8 66.1" fill="none" stroke="#1c98e6" stroke-width="2.0" opacity="0.15"/>
<path d="M494.7 277.3 L503.7 269.4 L511.4 261.5 L518.1 253.5 L523.8 245.6 L528.7 237.7 L532.7 229.8 L536 221.8 L538.7 213.9 L540.7 206 L542 198 L542.7 190.1 L542.8 182.2 L542.2 174.2 L541 166.3 L539.2 158.4 L536.7 150.5 L533.6 142.5 L529.7 134.6 L525 126.7 L519.5 118.7 L513.1 110.8 L505.6 102.9 L496.9 94.9 L486.8 87" fill="none" stroke="#4ad4f6" stroke-width="3.2" opacity="0.26"/>
<path d="M537.4 228.8 L539.1 224.8 L540.7 220.9 L542.1 216.9 L543.3 213 L544.3 209.1 L545.2 205.1 L545.9 201.2 L546.5 197.3 L546.9 193.3 L547.2 189.4 L547.2 185.5 L547.2 181.5 L546.9 177.6 L546.6 173.6 L546 169.7 L545.3 165.8 L544.5 161.8 L543.4 157.9 L542.2 154 L540.9 150 L539.3 146.1 L537.6 142.2 L535.7 138.2 L533.7 134.3" fill="none" stroke="#4ad4f6" stroke-width="1.4" opacity="0.43"/>
<path d="M453.9 304.3 L475 294.3 L491.5 284.4 L504.8 274.5 L515.8 264.6 L524.9 254.7 L532.4 244.7 L538.5 234.8 L543.3 224.9 L547 215 L549.6 205 L551.1 195.1 L551.7 185.2 L551.1 175.3 L549.6 165.4 L547 155.4 L543.3 145.5 L538.5 135.6 L532.4 125.7 L524.9 115.7 L515.8 105.8 L504.8 95.9 L491.5 86 L475 76.1 L453.9 66.1" fill="none" stroke="#4ad4f6" stroke-width="2.7" opacity="0.55"/>
<path d="M538 241.3 L541.2 235.9 L544.1 230.6 L546.6 225.3 L548.8 219.9 L550.7 214.6 L552.2 209.3 L553.4 203.9 L554.3 198.6 L554.9 193.3 L555.3 187.9 L555.3 182.6 L555 177.3 L554.4 171.9 L553.5 166.6 L552.3 161.3 L550.7 156 L548.9 150.6 L546.7 145.3 L544.2 140 L541.3 134.6 L538.1 129.3 L534.4 124 L530.4 118.6 L525.9 113.3" fill="none" stroke="#1c98e6" stroke-width="3.2" opacity="0.20"/>
<path d="M458.8 304.3 L481 294.3 L498.3 284.4 L512.3 274.5 L523.8 264.6 L533.4 254.7 L541.3 244.7 L547.7 234.8 L552.8 224.9 L556.7 215 L559.4 205 L561 195.1 L561.5 185.2 L561 175.3 L559.4 165.4 L556.7 155.4 L552.8 145.5 L547.7 135.6 L541.3 125.7 L533.4 115.7 L523.8 105.8 L512.3 95.9 L498.3 86 L481 76.1 L458.8 66.1" fill="none" stroke="#1c98e6" stroke-width="2.6" opacity="0.45"/>
</g>
<g filter="url(#bl3)">
<rect x="140" y="148" width="440" height="74" fill="url(#eqband)"/>
<ellipse cx="175" cy="185" rx="14" ry="16" fill="#3c7ef0" opacity="0.7"/>
<ellipse cx="277" cy="197" rx="20" ry="14" fill="#3c7ef0" opacity="0.65"/>
<ellipse cx="388" cy="174" rx="48" ry="11" fill="#3c7ef0" opacity="0.5"/>
<ellipse cx="487" cy="180" rx="25" ry="16" fill="#3c7ef0" opacity="0.8"/>
<ellipse cx="540" cy="188" rx="20" ry="12" fill="#3c7ef0" opacity="0.55"/>
<ellipse cx="225" cy="185" rx="25" ry="8" fill="#3c7ef0" opacity="0.4"/>
<ellipse cx="330" cy="183" rx="15" ry="8" fill="#3c7ef0" opacity="0.4"/>
<ellipse cx="440" cy="178" rx="15" ry="10" fill="#3c7ef0" opacity="0.45"/>
</g>
<path d="M236.1 93.1 224.5 105.4 226.1 105.8 226.9 107.1 229.1 106.1 229.6 107.9 230.5 111.2M231.8 120.4 245 120.4 259.9 120.4 260.3 119.8 265 121.7 269.5 123.7 271 125.3 269.6 129.6 273.7 128.4 276.8 126.7 279 125.7 282.3 125.7 284.5 123.4 285.5 122.5 286.9 122.9 286.3 124.9 286.9 125.7M228.7 142.2 231.4 141.9 234.8 143.8 237.9 143.8 239.9 143.1 241.3 146 242.8 146.8 244.7 145.8 246.2 148.8 248.1 150.8M251.5 166 252 161.7 253.4 161.7 255.5 161.7 255.1 164.2M254.8 166.1 256.4 164.4 258.5 166.7 260.3 165.5 261.8 165.4M256.3 167.6 257.6 166.9 258.5 170.5 260.7 170.6M261.4 174.6 261.9 172.5M267.7 173.7 267.9 175.3M275 168.9 273.5 170.6 273.5 174.4 276.1 175.9 278.9 177 278.7 181.9 276.4 183 276.1 190.8 272.5 189.2 269.9 185.3 267.3 184.1 265.8 183.1M287.6 174 286.3 176.6 286.8 179.2 282.8 179.9 282.2 181.9 279.6 183.6 278.7 181.9M290.9 177.3 289.7 179.2 290.2 182.7 287.6 183.5 286.8 179.2M294.3 177.7 293.7 182.2 290.2 182.7M296.9 179.5 296 182.3 293.7 182.2M264.3 189.6 266.3 191.8 269.6 187.2 269.9 185.3M276.1 190.8 272.7 194.9 272.6 197.8 275.7 197.8 276.9 199.8 278 201.9 277.4 205.7 278.2 208.4 276.7 209.4M276.9 199.8 281.6 198.4 283.9 201.7 287.4 203.5 288.2 206.6 290.2 206.8 291.2 211.4 289.7 210.7 286.1 212.3 286 214.7 282.5 214.4 281 215.4 278.9 212.3 278.2 208.4M291.2 211.4 291.3 214.4 293.7 214.7 295.5 219.1 296.6 221.1 294.5 221.4 291.3 221.3 289.2 217 286 214.7M296.6 221.1 293 225.2 298.1 229.8M293 225.2 292.9 229 292.9 230.6M281 215.4 279.8 217.6 280.5 220.9 279.7 225.6 280.2 229.5 280.3 232.8 280.6 237.5 281.3 242.1 282.1 246.1 282.3 250.7 284.2 253.3 288.4 254.4M346.5 148.6 341.5 148.6 346.5 148.6 346.4 150.9 342.8 150.9 342.7 154.2 341.4 157 337 157.4M354.3 138.9 354.8 142.9 352.2 143.4 346.5 147.2 346.5 148.6M365.3 136.4 365.1 139.4 364.2 140.9 366.5 145.1 367.2 152.8 369.4 154.1 371.8 155.4 372.9 154.8 378 156.8 383.1 158.7 383.1 159.4 383.3 164.4 381.6 166.7 381.1 168.3 382.9 172 380.6 173 377.8 173.3 377.2 174.6 374.4 175.3 373.8 175.3 372.7 177 372.7 179.9 374.4 182.3 374.5 183 372.7 182.3 369 182.3 367.3 182.2M368.6 141.4 368.7 144.8 367.1 144.8 366.5 145.1M383.4 143.4 384.1 156.1 397.4 156.1M384.1 156.1 383.1 158.7 383.1 159.4M342.7 154.2 349.4 154.1 350.4 163.4 343.1 165.4 342.3 165.8 337.1 168.7M349.4 154.1 357.2 157.4 360.8 159.8 360.6 163.4 357.6 165.1 350.4 163.4M360.8 159.8 369.5 154.1M360.6 163.4 360.2 169.7 357.1 170.6 355.9 170.5 352.8 170.6 349.9 171.4 346.8 171.3 346.4 175 347.5 179.4M352.8 170.6 353 172.6 353.2 178.3M357.1 170.6 356.7 174.6 357.5 177.1M360.2 169.7 359.2 174 359.2 176.9M360.2 169.7 371.4 167.3 372 168.3 372.6 169.3 371.5 172 370.4 174 365.9 179M371.4 167.3 373.6 164 372.9 154.8M343.1 165.4 342 168.5 344.7 169.6 346.8 171.3M340.7 172.6 344.1 174 344.4 175.7 343 176.1M346.4 175 344.4 175.7M381.1 168.3 381.6 166.7 383.3 164.4M383.1 158.7 383.3 164.4 387.4 170.6 389.2 172.5 393.1 169.1 394.9 172.6 397 168.7 397.5 166.3 397.9 162.4 399.5 161.4M382.9 172 384.6 171.7 387.4 170.6M389.2 172.5 387.6 178.6 391.4 180.6 394.5 180.2 396.2 179.2 397.2 178.6M397 168.7 401.5 166 403.2 166M397.2 178.6 399.6 180.4 403 179.9 404.2 179.6 407.6 178.6 410.7 174.6 406.3 173.3 404.7 170.6M403 179.9 403.1 187.4 404 186.5M397.2 178.6 395 179.6 394.9 186.5 399 189.8 401 191.3M394.9 186.5 391 186.5 390 187.1 389.3 188.9 390.8 190.5 391.3 195.8 393.9 197.8 395.4 200.5 396.2 200.4 402.2 199.1M391.4 180.6 387.6 178.6 385.9 178.6 384.7 178.2 381.9 179.5 377.3 180.6 374.4 182.3M391.4 180.6 390 187.1M370.1 192.9 375 192.9 376.7 195.5 381 194.9 381.2 199.8 383.4 199.8 385.1 200 388 201.3 389.6 202.8 389.8 201.3 388.5 197.1 389.8 193.1 389.5 189.2 390 187.1M369.4 207.7 371.4 208 377 208.2 382.6 208.7 384.7 208.7 387.8 206.4 390.5 205.8 393.4 207.2 393 210.3 391.9 214.7 391.1 214.8 389 214.4 387.4 215.4 386 217.9 384.4 219.2 381.6 218.9 378.4 218 378.1 222.8 374.3 223M381.2 199.8 383.4 202.4 381 206.6 382.6 208.7M378.4 218 378.5 214.3 379.8 209 382.6 208.7M387.8 206.4 387.9 202M396.2 200.4 395.5 203.7 396.3 206.4 393.4 207.2M391.1 214.8 391.5 220.7 392.5 220.7M358 129 354.2 127.8M349.6 130.2 348.9 129.8 347.5 129.6 346.9 129.6M349.6 130.2 348.7 132.9 348.1 135.6M358.6 117.6 360.3 119.2 362.2 119.7 363.8 120.4 364.4 121.7 363.8 122.2 363 122.6 362.3 124.1 363.3 124.5 363.9 126.9M363.8 122.2 365.8 122.4 366.8 123.3 368.7 122.1 369.3 122.4 369.3 120.8 371.3 120.4 373.2 120.9 375 119.7 378.8 120.2 380.1 118 379.3 115.7 379.1 113.9 378.4 113.2M362.1 116.7 362.3 117.7 362.1 118.9M363 114.7 363 116.1 362.1 116.7M365.4 112.7 364.5 112.6M370 113.9 370.5 115.7 371.1 117.6 368.2 118.7 369.3 120.8M373.2 120.9 373.4 121.7 372.9 122.4 372.8 123.3 372.1 123.7 370.1 123.7 368.7 122.1M373.4 121.7 375.2 122 379 121.4 377.7 124.1 375.4 124.5 373 123.7M379 121.4 381 121.8 383.1 121.3 385.1 124.3 385 125 386.6 125.4M377.7 124.1 379.4 126.2 382.1 127.4 384.1 126.9 385.8 127.4M379.4 126.2 379.5 129.2 380.2 130.6 383.7 130 385.4 129.6M376.4 129.8 377.8 131 378.2 131.8 377.5 132.7M372 124.5 374.1 124.5 376.2 125.4 376.1 127.5 375.4 129M379.5 129.2 377.7 129.8 376.4 129.8M379.1 113.9 381 113.4 381.8 111.5 383.3 110.8 382.5 109.1 382.4 106.5M381.8 111.5 380.2 110.8 376.4 111M380.2 110.8 379.3 109.5M380.1 118 381.9 116.5 386.5 117.1 387.6 116.3 390.4 117.3 391.5 118.4 394.5 119.2 396.4 119.6 396.5 122 395.1 122.9M383.3 110.8 386.6 111.8 387.6 116.3M385.1 124.3 387 124.6M380.5 93.9 381.5 96.7 383.3 100.9 384.8 102 382 105.2M380.5 93.9 378.2 93 376.8 94.4 374.1 93.9 373.4 94.8 371.8 95.9 370.3 98.5 368.2 99.7 367.2 104.5 367.8 105.8 366.9 107.1M373.4 94.8 376.9 97.9 377.4 98.1M383.6 130 385.4 129.6M394.9 136.8 395.8 136.8 398.9 136.3 401.4 136.1 404 136 403.1 133.1 401.3 130.8 399.8 130.3M394.6 137.8 395.7 139.7 398.2 141 400.4 139.7 401.4 136.1M394.6 141.3 395 141.1 395.7 139.7M394.4 146.2 395.7 145.8 397.2 144.8 397.6 143.5 398.6 142.9 400.4 139.7M398.6 142.9 402.8 143.5 405.3 146.6 407.2 146.7 408.7 147.5 409.4 147.4M395.7 145.8 397.7 144.2 398.6 142.9 400.2 143M401.3 130.8 405.1 131 407.1 129.9 404.6 125.7M405.1 131 403.5 132.7 403.1 133.1M404 136 405 137.7 405.7 138.9 405.4 140.2 408.6 144.3 409.3 145.5M407.1 129.9 409.8 129.6 411.6 129.6M411 131.6 416.9 134.9 421 136.9 422 138.1 423.9 137.8 425.6 136 428.7 136.1 430.9 135.5 432.8 136.9 435.9 136.3 432.4 137.6 433 140.2 431.4 140.5 432.5 143.5 429.1 145.6 424.2 146.2 424.3 150.1 424.8 152.1M422 138.1 422 139.8 422.6 146.4 423.1 146.2M433 140.2 436.1 139.6 438.3 142.2 437.7 144.2 437.4 146.2 435 148.4 433.4 148.8 434.2 152.1 432.2 153.8M438.3 142.2 441.5 141.9 442.5 144.2 445 145.5 447.6 146.2 449.8 147.6 453.2 148.3 454.3 148.2 457.7 148.4 461.6 146.3 463.4 147.9 464.5 152.1 462 153.6 460.6 155.7 460.1 157.3M453.2 148.3 453.7 150.1 454.8 150.8 455.7 150.8M454.8 150.8 455.6 151.7 454.4 153.2 455.8 156.1 457.4 156.1M464.5 152.1 466 152.8 466.5 155.4 468.2 156.6 469.4 156.8M469.4 156.8 470 155.6 471.3 155.4 473.7 154.4 475.4 155 477.1 156.6M468.2 156.6 469.1 158.6 466.4 160.7 468 163.6 467.8 165.4 469.2 171.3M469.1 158.6 471.2 161.4 474.4 162.2 475.6 164 476.2 166.5 473.2 166.3 472.8 169.3M473.5 158.3 472.7 160.1 474.5 160.7 476.4 162.3M476.2 166.5 478 165.9 477.8 168.9 475.8 171.3 475.6 172M423.2 112 427.6 113.8 430.9 113.5 432.7 114.4 436 117.7 439 117.7 442.2 119.7 444.2 120.1 446.2 118.4 448.2 118.3 451.5 119.1 453.3 116.4 457.7 117.3 464.9 119.7 468.1 120 470.5 118.8 473.2 119.1 474 115.3 475.5 114.6 479.2 115 483.9 119.4 489.4 122.1 493 121.2 493.5 125.7 491.7 125.9 492.7 129.1M444.2 120.1 449.3 123.7 455.6 126.6 460.6 128.8 466.3 130.2 471.7 127.8 471.5 125.5 475.5 123.7 477.9 122.4 473.2 119.1M423.2 112 419.5 113 415.9 113.9 416.1 116.4 411.1 118.3 407.3 117.1 404.3 119.1 403.9 121.7 405.8 123.7 404.6 125.7M444.2 120.1 443 123 441.1 125 439.3 125.8 440.1 129.4 438.2 130.8 434.8 131.9 434.2 132.9 435.9 136.3M440.1 129.4 436.4 128.3 433.4 128 430.4 129.2 430.3 131 433.4 132.5 434.2 132.9M430.4 129.2 428.6 130.6 425.8 129.6 423.7 127.7 419.3 126.3 416.4 125 413.9 125.7 414.9 130.6 416 130.6 417.3 129 419 129.6 420.3 131 422.3 132.8 424.7 133.9 427.2 135.7M430.3 131 428.7 132.9 428.9 136.3M488.3 132.8 488.8 131 490.8 130.3 490.8 129.6 492.7 129.1M490.8 135.3 491.9 134.5 492.6 134.1M517.6 188.6 517 197.2M481.8 182.6 483.8 183.9 487.3 183.2 488.3 180.3 489.5 179.5 490.8 179.6" fill="none" stroke="#000" stroke-width="0.55" opacity="0.7" stroke-linejoin="round"/>
<path d="M206.7 98.4 212 96.6 213.5 96.7 212.1 94.8 213.5 94 220.2 92.2 225.6 90.7 228.6 91.5 231 92.2 236.1 93.1 240.7 93.7 246.9 92.6 248.9 91.8 250.4 93.4 253.5 93.7 256.2 95.5 261.7 95.2 263.9 94.6 268.4 95.5 272.8 94.8 276.5 92.6 277 90.2 278.7 91.9 279.7 94.2 283.6 92.7 286.3 93.3 284.7 96.6 280.2 97.2 277 99.9 273.7 101.5 269 104.4 267.1 107.4 267.6 109.5 271.2 111.1 276.2 112.3 275.1 115.1 275.9 117.3 277.5 117.1 278.3 115.7 278.5 113.1 281.7 111.4 283 109.1 283 107.1 283.6 104.9 285.3 102.5 288.7 102.8 291.3 104.2 290.5 107.1 292.1 108.1 294.6 106.5 295.9 105.4 296 107.8 297 110.5 297.9 112 300.1 113.5 300.9 115.7 299.8 117.2 295.9 118.8 291.4 118.8 289.3 119.2 285.5 121.7 289.5 120.2 291.2 120.6 289.9 122.4 289.9 123.9 292.9 124.6 294.5 124.1 293.2 125.4 290.9 126.2 287.6 127.7 289.6 125.3 286.9 125.7 285.6 126.6 283.1 127.5 282.3 128.8 282.7 129.9 280.9 130.6 278.1 131.5 277.6 132.9 276.4 133.9 275.3 135.9 274.5 136.4 274.7 138.6 272.9 139.6 271.1 140.5 269.7 141.5 267.8 142.9 266.9 144.8 267.3 147.5 267.5 150.1 266.7 151.9 265.9 151.7 265.5 150.1 264.7 148.2 265 146.8 264 145.5 262.2 145.9 260.8 145 259.1 145 258 145.2 257.9 146.6 256.6 146.6 255.1 146 252.9 146 250.9 147.4 248.8 148.6 248.1 150.8 247.2 153.4 246.6 155.8 246.9 158.1 247.8 159.9 249.5 161.1 252.4 160.6 253.7 159.7 254.7 157.4 257.5 156.6 258.6 156.8 257.7 159.4 256.9 160.7 256.2 163.8 257 164.3 260.4 164.2 261.7 165.4 261.1 168 260.7 170.6 262 172.2 263.6 173.6 265.4 172.6 267.1 173.3 268.2 174.1 269.4 172.6 270 171.2 271.8 170.4 273.6 169.6 275.1 168.9 276.4 169.7 278 171.3 280.9 171.2 283.2 171.2 285.4 171.2 286.5 172.6 287.6 174 288.7 175 290.7 177.3 293.2 177.4 295.5 177.9 296.9 179.5 298.2 182.8 298.8 184.5 299 185.9 300.5 187.2 303.4 186.5 305.5 188.5 308.6 189 311.4 190.2 313.5 191.7 315.7 192.3 316.3 195.1 315.9 197.1 313.9 199.8 312.3 202.4 311.9 205 311.8 208.6 310.8 212.1 310.2 214 309.2 215.5 306.9 215.6 305.4 216.7 302.5 219.2 302.5 222.5 301.4 224.2 300.2 226.9 298.6 229.5 297.8 231.1 296.2 231.4 294.7 231.4 292.9 230.6 294.5 232 294.5 233.5 295.3 233.5 294.7 235.6 292.8 236.4 290.1 236.7 290.4 238.9 287.7 239.2 289.2 240.8 288.7 241.4 288.5 243 288.5 244.7 286.8 246.1 288.8 248 287.9 250.7 287 252 288.4 254.4 287 255.1 286 256.4 284.2 255.3 282 253.3 279.6 249.4 279.8 246.7 279.6 243.4 279.6 240.8 278.2 238.1 277.8 234.4 278 232.2 278.2 228.9 277.7 224.9 277.2 220.9 277.5 217 277.2 211.7 276.7 209.4 274.7 207.7 270.5 205 269.1 202.4 267.1 198.4 265.3 195.1 263.2 193.1 263.4 191.2 264.3 189.6 263.4 188.1 264.1 185.9 264.4 184 265.8 183.1 267.4 180.3 267.7 176.6 266.7 175.3 265.3 173.7 264.1 175.5 262.4 174.4 260.5 173.8 258.5 172.1 258.3 170.6 256.9 168.1 255.5 167.7 252.2 166.7 250.2 164.3 248.2 164 246.8 164.4 244.6 163.6 242 162.3 239.4 161 237.6 158.3 238.1 156.8 237.6 155 236.4 152.8 234.9 151.1 234.1 148.4 232.7 146.8 232.5 144.5 230.9 143.3 230.5 145.5 231.6 147.5 232 150.1 233 153.1 233.8 154.5 233 154.8 232 152.8 231.6 150.8 230 148.6 230.1 146.8 229 144.8 228.7 142.2 227.9 140.2 225.8 139.4 225.4 136.8 225.4 135.2 224.7 133.6 224.8 131.8 225.9 129.6 226.7 127.7 228.8 124.1 229.7 121.2 231.3 121.3 232.3 120.4 231.1 119.1 229.2 118 229.1 116.4 229 113.5 228.7 111.8 227.7 109.8 226.6 108.1 225.2 106.4 222.3 105.8 220 104.8 217.4 104.5 214.7 106.5 214.5 105.2 210.9 107.1 209 108.7 205.9 110.1 202.3 111.5 198.6 112.4 195.2 113.2 202.2 110.5 205.8 109.1 207.7 107.5 205.5 107.8 203.1 107.5 204.1 106 203.1 104.9 203.9 103.3 206.2 101.9 209.8 101.2 211.5 99.9 208.9 99.7 206.9 99.7 206.7 98.4M301.3 81.3 307.6 78.7 313.9 76.7 324.9 75.7 335.6 74.7 342 76.7 342.8 80 340.5 84.7 338 89.3 337.6 91.9 334.8 93.3 328.4 95 322.3 98.5 318.7 101.9 315.9 105.8 313.4 104.8 311 103.2 310.3 99.9 309.4 97.2 310.1 93.3 313.2 91.9 310.4 90.6 310.6 86.6 306.1 84.7 302.6 84 301.3 81.3M297.5 101.5 302.2 97.1 300.5 95.5 298.4 92.1 296.3 90.5 292.4 89 286.4 88 284.1 92.6 286.9 93.7 292.2 95.6 291.5 97.9 286 99.9 289.6 100 292.2 102.1 295.4 103.2 297.5 101.5M258 90.6 260.7 88.6 268.3 88.4 270.7 91.9 266.5 94.6 263.6 93.9 257.4 94.2 256.2 92.6 258 90.6M252.7 90.1 260 86.9 261.9 88.2 258.5 91 253.6 90.9 252.7 90.1M294.1 84 288.2 82.7 292.5 79.4 290.1 78 300.9 75.4 311.1 75.7 312.5 76.7 302.9 79.1 297.5 81.3 298.9 82.7 294.1 84M292.2 86.6 282.7 86.5 281.7 84 288.2 83.6 293.8 84.4 292.2 86.6M280.9 89.9 278.1 89.3 279.7 87.3 283.7 87.3 280.9 89.9M276 89.9 272.4 89.3 274.7 87.4 278 87.4 276 89.9M272.8 86 263.4 86.6 265.4 84 272 83.6 272.8 86M278.4 86 274.2 85.3 277.8 84 280.5 84.4 278.4 86M290 81.3 284 81.3 287.2 78 291.6 78.7 290 81.3M277.9 99.9 280.7 98.1 283.2 100.1 280.4 102 277.5 101.1 277.9 99.9M295.6 122.2 299.7 119.6 300.9 116.9 298.5 118.4 295.8 121 295.6 122.2 299.8 123.3 302.4 122.4 302.1 120 300.3 119.3M334.8 98.5 336.7 97.4 342 97.2 344 99.2 342.6 100.3 339.1 101.3 335.8 100.8 334.6 99.5 334.8 98.5M350.4 119.1 357.5 117.5 357.8 115.5 356.1 114.4 354.6 112.4 354.2 111.1 354.4 109 352.8 107.7 351.4 107.7 350.1 110.5 351.2 112.4 353.2 113.8 351.7 114.7 351.9 116 350.9 116.8 353.1 117.5 350.4 119.1M350.2 116.3 350 114.4 350.6 112.2 348.8 112 346.3 113.5 346.2 116.4 346.6 117.1 349.2 116.4 350.2 116.3M350.1 137.6 349.3 136.5 348.2 136 346.6 136.3 346.7 134.3 346 133.9 346.7 132 347 129.6 346.4 128.3 347.8 127.4 350.4 127.7 353 127.8 354.5 127.8 354.9 126.1 354.9 124.1 353.5 122.6 351.5 121.8 351.3 120.9 353.1 120.6 354.6 120.9 354.5 119.4 356.3 119.7 357.7 118.8 357.8 117.9 359.6 117.2 360.3 116.4 360.7 115.2 362.5 114.4 364.4 114.3 364.4 111.8 363.9 110.1 366.1 109 366 110.8 366.6 112.4 365.9 113.1 366.9 113.8 368.3 113.2 370 113.9 372.2 113.1 374.4 113.2 375.4 113.2 376.7 112.2 376.2 110.1 377.6 108.9 379.3 109.5 378.4 107.3 381 106.5 382.5 106.1 383.7 105.8 381.3 105.2 377.6 106 376 104.8 375.6 102.5 376.7 100.8 378.6 99.2 378.7 98.1 377.4 98.1 375.7 98.5 375.1 99.9 374.5 100.9 373 102.3 372.1 103.8 372.1 104.9 373.7 106.1 373.1 107.1 371.9 109 371.9 110.3 370 111.8 368.5 111.6 368.1 110.5 367.5 109.1 366.7 107.1 366 106.7 365.1 107.1 362.8 108.5 361.4 107.4 361 105.2 360.7 103.4 362 102.4 364.3 101.2 365.5 99.9 367.2 97.9 367.9 95.9 369.5 94.6 371.4 93.3 373.9 92.6 376.2 91.3 379.5 91.3 382.4 92.6 384.3 93.5 386.9 93.9 391.3 95.6 392 97.2 387.5 99.9 389.6 100.8 392 99.9 394.5 97.5 394.1 94.8 396 95.2 399.4 95.2 401.8 94.6 403.2 95 405.9 94.2 407 92.9 410.7 93.5 414.3 94.6 415.3 94 412.7 89.9 413.4 88.4 416.8 90.6 419.4 94.6 418.5 89.9 420.9 88 425.6 86.6 428.8 84.7 433.6 84 435.5 82.4 439.6 83.7 444.7 84.9 448 88 451.7 88 456.4 88.6 460.8 88.9 463.8 90.6 465.9 90.6 471 89.3 476.3 89.6 481.2 90.6 485.8 91.3 491.6 92.6 493.2 93.3 498 93 500.1 92.6 505.5 92.9 510.5 94M201.7 94 203.7 95.9 204.7 97.2 205.9 97.9 203.2 99.2 200.4 100.1 198.7 99.6 197.3 98.5 195.5 98.9M516.7 98.9 515.1 99.9 519.9 102.5 516.4 103.4 515.1 105.8 511.6 106.1 509.3 106.1 511.1 108.5 511.2 109.1 513.4 111.1 514.1 113.1 513.8 115.1 513.3 116.4 512.5 117.7 509.8 115.1 507 111.8 505.7 109.1 506.8 108.5 505.8 105.8 505.7 103.8 502.9 103.8 501.9 106.7 499.5 107.1 495.4 106.7 490.6 106.7 490 108.9 489.7 113.1 494.3 114.7 496.3 116.4 497.9 120.4 497.6 123 496.9 126.3 495 128.6 493 128.8 492.6 131 491.7 132.9 494.6 136.3 495.3 138.2 493.8 139.4 492.6 139.6 491.8 136.9 490.8 135.3 489.5 135.2 488.3 132.8 485.4 131.6 485.1 133.6 484.7 131.2 484.2 131.1 482.6 132.5 481.4 133.6 481.6 134.7 483.4 136 484.9 135.2 487.2 136 485.6 137.6 484.8 138.9 487.6 142.2 489.3 144.2 489.8 145.5 490 147.5 489.3 149.2 488.8 151.5 487.5 152.8 486.3 154.8 483.9 155.7 481.6 156.4 480 157.2 479.9 158.3 479.1 156.8 477.7 156.6 475.9 157.9 475.4 159.4 475.2 160.7 476.4 162.3 478.8 164.7 480.3 168 480.4 170 478.6 171.3 477.6 172.6 476 173.8 475.6 172 474.1 171.2 472.8 169.3 470.8 168.4 469.7 167.5 469.2 171.3 470.6 174.2 471.6 176.1 473.1 177 474.5 179.1 474.6 181.6 475.5 183.3 474.7 183.5 472.1 181.5 471 179.6 470.9 177.9 468.4 174.2 468.5 172 468.1 168.7 466.8 164.7 466 162.8 464.1 164.4 462.8 163.8 462.6 160.7 461.3 159 459.7 157.7 458.8 155.4 457.4 156.1 455.8 156.4 453.6 156.8 453.6 158.1 451.8 159.7 449.2 163.2 447 164.2 447.2 167.3 447 170.6 445.4 173.4 444.6 174.5 443.5 173.4 442.1 170 440.6 165.9 439.1 163.4 438.1 159.8 437.8 157.4 437.4 156.8 435.6 157.7 433.3 155.6 434.8 154.9 432.7 154.4 431 152.8 430 151.6 427.8 151.9 424.5 152 419.9 151.2 418.4 149.3 416.5 150 413.5 148.4 411.6 146.2 409.3 145.5 408.8 146.3 409.9 148.8 411.8 150.7 412.6 152.4 413.6 153.2 415.7 153.3 417.7 151.5 418.5 150.5 418.8 152.3 420.6 153.8 423 155.4 421.9 158.1 421.2 160.1 418.7 162 415.2 164.4 412.3 165.9 407.8 168 405.6 168.4 404.9 166 404.3 163.4 402.5 160.3 400 156.8 399 153.7 397.2 150.9 395.3 148.3 394.4 146.7 394.2 148.2 393.3 148.4 391.9 145.6 391.4 143.9 393.5 143.8 394.2 141.8 394.5 140.2 394.6 137.8 394.9 136.8 393.1 136.5 391 137.4 388.8 137.2 386.1 136.5 385.2 135.2 384.3 134.3 384.5 132.9 383.8 132.1 385.1 131.6 386.6 131.1 386.7 130.7 389 130.8 391 129.6 392.9 129.6 394.9 130.6 396.4 131 398.2 131 399.8 130.3 399.6 128.8 397.6 127.8 395.5 126.5 394.6 125.4 395.5 123.3 392.7 125.3 390.8 126.3 389.7 125.1 387.8 123.6 387.1 124.6 386.6 125.4 385.7 126.6 385.2 128.7 385.6 130.2 386.5 130.6 385.1 131.1 383.8 131.9 383.5 131.2 381.4 131.2 381.1 132 379.9 131.6 380.5 133.1 380.4 134.5 381.7 134.7 380.9 135.2 380.6 136.9 379.4 136.5 378.6 135.2 378.1 133.5 377.3 132.7 376.6 131.9 376.6 130 375.4 129 373.3 127.8 371.9 126.7 371.1 125.4 370.1 124.9 368.8 125.3 368.9 126.5 370.3 127.7 371.6 129.5 373 130.3 374.5 131.2 375.7 132.1 375.6 132.5 374 131.6 373.6 132.7 374.3 133.6 373.5 134.5 372.8 134.9 373 134 372.7 132.3 371.3 131.5 370 130.6 368.1 129.1 367.1 128.3 366.7 127.1 365.2 126.5 363.9 127.3 362.9 128.2 361.3 127.8 359.4 128 359.5 129.8 357.7 130.7 356.6 131.6 355.8 132.9 356.3 133.9 355.4 135.5 353.8 136.6 351.3 136.6 350.1 137.6M404.6 125.7 406.8 123.7 410.3 123.3 410.8 125.3 409.2 126.3 411.3 129.6 413 131 412.8 132.9 413.8 135.9 410.8 136.6 408.5 135.6 408.4 132 405.8 129 404.6 125.7M391.8 145.6 389.9 143.5 388.4 144.3 383.4 143.4 381.1 142.1 377.9 142.2 378 144.5 376.9 145.1 373 143.5 370.2 141.7 368 141.3 367.4 139.6 367.9 138.2 367 136.5 365.7 136 362.5 136.3 359.3 136.5 356.1 137.8 353.9 138.8 350.4 137.8 349.1 140.2 346.9 141.3 345.4 144.2 345.1 146.8 342.9 148.2 341.2 149.5 339.6 152.8 338.2 154.1 337 157.4 337.7 160.1 337.4 163.4 336.3 165.8 337.1 168.7 339 170.6 340.7 172.6 342.4 175.3 344.1 176.9 347.5 179.4 350.4 178.5 353.8 179 357.2 177.3 359.5 176.9 361.8 177.9 363 179.5 364.7 179.2 366.4 179.9 367.3 181.9 366.8 184.5 366.2 187.2 368.1 189.2 369.8 191.8 371 194.5 371.5 198.4 370.3 203.1 369.4 207.7 371.2 213 372.3 215.6 372.7 220.9 374.3 223.6 375.5 226.9 376.1 230.4 377.7 231.2 380.5 230.2 383.7 230.2 386 228.9 388.9 226.2 390.2 224.2 392.1 220.9 392.5 219.6 393.7 218.3 395.7 217 395.6 214.3 395.2 211.7 397.3 209.7 400.8 207 402.3 204.4 402.2 199.8 401.2 195.8 400.9 193.1 401.3 191.2 402.5 188.5 404 186.5 405.9 183.9 408.8 181.9 411 178.6 413 174 414.4 170 411.9 170.3 407.4 171.3 405.4 169.7 404.4 167.3 403.2 166 400.8 164.3 399.5 161.4 398 158.1 397.3 155.4 395.7 153.4 393.8 150.1 391.8 145.8M412.2 201.1 413.1 205.7 412 207.7 410.6 212.3 408.6 218.3 406.1 218.9 404.9 216.3 404.6 213.6 406 211 405.8 207.7 408.2 206.1 410.6 203.7 412.2 201.1M497.8 140.2 498.8 138.2 501.4 138 502.4 135.9 504.3 134.9 504.1 132.3 503.3 130.6 504.9 130.6 506.6 132.9 506.8 135.6 507.4 137.6 507.1 138.9 505.7 139.4 504.1 139.8 502.5 140.5 499.5 140 497.8 140.2M497 141.1 498.3 143.8 499.4 143.8 499.4 141.3 498 140.4 497 141.1M503.2 130.3 502.1 128.3 501.9 125.1 504.2 126.3 507.4 127.9 506.5 129.6 504.1 130 503.2 130.3M502 124.3 503.1 123.7 500.6 120.4 498.6 117.1 496.6 113.8 495.3 113.4 498.1 117.7 500.2 121.7 502 124.3M490.6 151.7 491.8 152.1 491.9 154.8 491.4 156.2 490.3 154.8 490.6 151.7M478.4 159.8 479.7 158.6 481 159.3 480.4 161.1 479 160.7 478.4 159.8M492 160.7 493.9 160.7 494.1 163.6 494.2 166.3 496.9 166.9 497.1 168.7 495.3 167.6 493 166.3 491.9 164 492 160.7M495.5 175.3 497.2 175 499.3 172.6 500.7 175.3 499.5 177.5 497.9 176.6 495.6 175.9 495.5 175.3M495 170 496.9 171.3 498.4 170 499.2 172 497.5 172.2 495.8 172.2 495 170M447.2 172.4 448.6 174 449.6 175.9 448.2 177.4 447.3 176.3 447.2 172.4M465.1 177.8 467.7 178.3 470.6 181.9 474.9 186.5 477.5 189.3 477.1 192.9 475.6 192.9 473.2 190.5 471.2 187.2 469.3 183 465.1 177.8M476.4 194.2 477.9 193.1 480.2 194.1 483 193.8 484.9 194.3 486.9 195.5 486.8 196.7 484 196.2 480.6 195.5 477.8 195 476.4 194.2M481 183.2 481.8 182.6 483.8 181.6 486 179.9 488.3 178.2 489.8 175.9 492.6 178.2 491.2 179.5 491.3 183.9 490.7 185.2 489.5 188.5 488.9 190.2 487.2 189.8 483.8 189.2 482.3 189 481.6 185.9 481 183.2M492.8 192.5 494 192.5 493.9 188.9 494.7 188.5 495.7 191.2 497.2 190.9 495.3 187.2 496.4 186.3 497.2 186.5 495.3 184.5 499.3 183.2 498.4 184.7 493.6 184.3 493.4 185.2 492.2 188.5 492.8 192.5M506.2 186.9 509.6 186.3 511.3 189.6 514.2 187.4 517.6 188.6 522.1 191.2 523.1 192.5 524.8 193.1 525.7 195.8 527.4 199.1 523.7 198.4 522.3 195.8 519.9 197.1 518.2 197.4 517 197.2 514.9 195.9 513.7 196.2 513.6 192.5 510.6 191 507.8 190.5 506.7 188.5 506.2 186.9M496.9 198.8 498.8 197.1 501.5 196.3 499.9 197.5 498.1 198.6 496.9 198.8M487.4 196 488.5 196.8 492 196.4 493.7 196.2 496 196.4 494.2 197 490.8 197.1 489.1 197 487.4 196M502.2 185.9 503.3 182.6 502.8 184.5 503.7 186.3 502.2 185.9M502.7 189.4 505.6 189.2 505.9 190.2 503.2 190 502.7 189.4M526 192.5 527.8 191.8 530.1 190.8 529.4 192.5 527.1 193.4 526 192.5M483.2 214.3 482.6 219.6 482.2 224.9 480.8 229.5 481.8 231.5 483.4 231.5 486 230.2 489.8 230.2 493.3 227.9 496.9 227 499.1 226.9 501.8 228.5 502.4 231.2 504.1 229.5 505.8 228.9 504.7 232.2 506 232.8 505.9 235.5 508.6 236.5 511.4 236.9 514.1 235.2 516.5 234.5 518.2 232.2 520.2 229.5 522.3 227.5 525.2 222.9 526 218.9 524.6 216.3 523.4 214.7 522.9 212.3 520.9 210.3 520.7 207 520.8 205 519 203.7 518.5 199.4 517.1 202.1 516.5 205.7 514.9 208.4 513.2 207.7 511.2 206.1 509.7 205 511.7 201.5 510.3 201.1 507 200.4 505.1 201.5 503 204.8 500.8 203.7 498.7 204.4 497 206.4 494.2 208.4 492.3 211 488.7 212.2 486.3 212.7 484 214.3 483.2 214.3M508.6 239 512.3 239.3 510.3 242.4 508.8 242.9 508.1 241 508.6 239M542.8 230.7 543.8 232.6 544 234.1 546.7 235.1 543.8 237.2 541.1 239.8 539.9 239.8 541.6 237.5 540.5 237.1 542.4 235.2 542.8 233.5 542.8 230.7M538.3 238.8 539 240.4 536.9 242.1 535.5 243.1 533.4 244.1 529.5 246.8 527.2 246.1 530.3 243.7 534.1 241.8 537.2 239.4 538.3 238.8M219.8 288.4 228.5 289.1 238.5 289.7 240.7 287.1 241.9 285.1 248.3 283.8 259.6 283.1 268.2 283.8 274.6 281.8 282.7 281.8 290.9 281.8 293.4 279.1 296.5 273.8 300.4 270.5 304.3 268.9 303 272.5 303 276.5 305.7 280.5 304.5 284.4 309.9 287.1 322 288.4 329.4 287.7 334.1 285.1 339.9 282.4 346.1 279.8 356.1 277.8 364.6 277.8 373 277.8 381.7 277.1 386.1 276.5 390.6 275.8 399.9 273.8 404.5 273.2 408.6 273.8 415.3 274.5 416.1 276.5 417.1 277.8 420 277.1 425.8 274.5 433.6 273.2 440.2 272.5 444.6 272.5 453.4 272.5 461.8 273.2 471.1 272.5 475.6 272.5 479 273.6 482.4 274.5 485.3 275.8 491.6 277.8 494.1 279.1 496.6 280.5 489.3 284.4 480.5 287.7 484.8 288.4 492.4 288.4M364.4 81.3 368.5 84 372.9 82.7 376 80 370.6 78.7 364.2 79.6 364.4 81.3M399.6 91.3 403.2 91.9 404 89.9 405.3 86 408.6 83.6 403.8 83.3 400.5 86 399.6 89.3 399.6 91.3M427.6 80.7 431.2 81.3 433.6 80 427.9 78 424.9 78.7 427.6 80.7M465.5 87.3 470.6 87.6 468.7 85.3 463.9 84.7 465.5 87.3M260.9 156.4 264.5 154.5 268.9 155.4 271.3 158.1 272.7 158.5 268.9 159 266.5 156.5 263.1 156.4 260.9 156.4M272.1 160.7 274.2 158.9 277.4 159.1 279 160.6 276 161.4 272.1 160.7M267.8 160.9 270 161.3 269.2 161.8 267.8 160.9M280.3 160.7 282.1 161 281.6 161.4 280.3 160.7M227.9 118 229.4 121 231.1 121.2 230.2 118.8 227.9 118M225.9 113.8 226.9 114.4 225.8 116.1 225.2 114.8 225.9 113.8M209.8 107.8 210.6 109.1 208.1 110.3 209.8 107.8M194.6 113.8 190.9 114.7 186 115.7 181.3 116.7 179.2 116.8M532.9 116.7 526.8 115.3M507.6 127 508.9 125.7 510.2 124.3 511 122.4 511.7 120.4 512.3 118.4M365.9 128.3 366.1 129.6 365.8 130.4 365.1 129.8 365.9 128.3M365.8 130.7 366.4 131.6 366.2 133.6 365.1 133.6 365 131.6 365.8 130.7M369.3 134.9 372.7 134.5 372.3 136.6 369.5 135.5 369.3 134.9M381.4 138.5 384.5 138.6 382.5 139 381.4 138.5M390.9 138.8 393.3 138 392.7 139 390.9 138.8M295 253.1 298.4 253.3 297.7 254.4 295 253.1M288.3 254.8 292.6 257.8 290.2 258.6 286.3 257.3 288.3 254.8M261.9 123.4 265.8 121.3 269.1 120.6 269.8 123 267 123.7 261.9 123.4M264 130 265 126.3 267.4 124.6 267.4 127 265.4 129.6 264 130M269.3 124.3 271 125.3 273.3 126.3 271 128 270.5 127 269.7 124.6 269.3 124.3M268.7 130 273.7 128.4 271.9 129 268.7 130M273 127.9 276.8 127.7 276.8 126.7 273.4 127.5 273 127.9M257 118.4 258.9 118.5 260.3 114.4 259.1 114 257 118.4M247.6 104.5 251.5 104.2 255.4 102.5 251.3 102.5 247.6 104.5M244.9 98.5 249 98.9 251.9 96.6 248.4 96.6 244.9 98.5M250.5 107.8 255.2 107.1 252.8 106.5 250.5 107.8M384.2 105.8 386.6 105 386.1 103.8 384.3 104.2 384.2 105.8M388.1 104.5 389.9 104.2 388.5 102.1 388.1 104.5M392.3 185.9 395.1 184.9 395.6 186.9 393.9 188.8 392.4 187.8 392.3 185.9M389.5 189.7 390.4 190.5 391.3 196.2 390.7 196.6 389.8 193.8 389.5 189.7M395.2 197.8 396.2 200.4 396.2 204 395.4 203.7 395 200.4 395.2 197.8M371.4 168 372.9 167.3 372.6 168.3 371.4 168M459.4 117.1 460.3 116.4 462.2 114.4 462 111.5 461.5 111.4 461.1 115.1 459.4 116.7 459.4 117.1M416.2 124.3 419.1 123.7 419.8 126.3 417.4 127.3 416.2 124.3M431.9 123.7 437.2 124.1 436.9 123.3 431.8 123.2 431.9 123.7M277.4 205.7 278.3 206.8 277 205.3M282.5 103.2 280 102.8 280.3 102.1 282.5 103.2M294.2 87.3 289.8 86.6 291.9 87M275.1 82 272 81.3 275.7 80.7M280.4 82 278.7 80.7 282.3 80M282.8 82.7 282.5 81.3 285.5 81.3M262.4 85.3 260 84.7 263.8 83.3M267.3 86 265.6 85.3 268.6 84.7M276.8 89.9 275.4 88.6 277.5 88M292.1 89.3 291 88.4 294.1 88.6M292 102.5 294.4 101.2 296 101.9M296.7 109.8 298.1 108.5 298.8 109.1M237.5 92.6 235.4 92.2M290.7 123 293.9 122.4 292.5 123.8M201.9 101.2 203.3 101.6 201 100.8M194.9 105.2 195.5 105.6M210.1 109.1 211.6 108.5M286 88 283 88.2" fill="none" stroke="#000" stroke-width="0.9" stroke-linejoin="round"/>
<path d="M258.1 115.5 257.8 115.3 257.1 115.4 257 115.6 257.6 115.6 258.1 115.5M271.8 110.3 271.8 110.1 271.4 110.2 271.2 110.5 271.5 110.6 271.8 110.3M246.1 108.7 246 108.6 245.6 108.6 245.4 108.8 245.7 108.9 246.1 108.7M272.2 99.4 272 99.2 271.5 99.2 271.4 99.5 271.8 99.6 272.2 99.4M284.3 96.5 283.9 96.2 283.1 96.3 282.9 96.6 283.7 96.7 284.3 96.5M293.5 117.9 293.1 117.7 292.3 117.8 292.3 118.1 293 118.2 293.5 117.9M247.5 116.2 247.4 115.9 246.9 116 246.7 116.5 247.1 116.6 247.5 116.2M256.2 105.2 255.9 105 255.1 105.1 255 105.3 255.6 105.4 256.2 105.2M269.3 117.6 269.2 117.4 268.8 117.4 268.7 117.7 269 117.8 269.3 117.6M280.4 108.9 280.2 108.6 279.7 108.7 279.5 109 280 109.2 280.4 108.9M267 111.9 266.7 111.6 265.9 111.7 265.7 112.1 266.4 112.2 267 111.9M259.4 105.4 259.2 105 258.4 105.2 258.2 105.6 258.7 105.7 259.4 105.4M282 112.2 281.5 112 280.6 112.1 280.5 112.3 281.4 112.4 282 112.2M270.8 101 270.7 100.8 270.2 100.9 270 101.2 270.4 101.3 270.8 101M250.4 103.1 250.1 102.9 249.2 103 248.9 103.3 249.7 103.4 250.4 103.1M290 111.6 289.7 111.3 288.9 111.4 288.8 111.8 289.4 111.9 290 111.6M275.7 108.2 275.3 107.8 274.5 108 274.2 108.4 275 108.6 275.7 108.2M272.3 103.2 272.3 102.9 271.8 103 271.6 103.4 271.9 103.5 272.3 103.2M286.1 95.4 285.6 95.2 284.5 95.3 284.3 95.5 285.3 95.6 286.1 95.4M267.8 103.1 267.7 102.9 267.3 103 267.2 103.3 267.4 103.4 267.8 103.1M248.7 116.3 248.7 115.9 248.3 116.1 248.1 116.5 248.4 116.6 248.7 116.3M248.5 113.2 248.4 112.8 247.8 112.9 247.5 113.4 248 113.5 248.5 113.2M248.8 108.4 248.7 108 248 108.1 247.7 108.6 248.2 108.7 248.8 108.4M292.5 98.5 292.3 98.2 291.7 98.3 291.5 98.6 292 98.7 292.5 98.5M270.3 98 269.8 97.8 268.7 97.9 268.5 98.1 269.5 98.2 270.3 98M250.7 113.5 250.6 113.3 250.2 113.4 250 113.7 250.3 113.8 250.7 113.5M273.6 112.8 273.5 112.5 273.2 112.6 273 112.9 273.3 113 273.6 112.8M266 105.6 265.6 105.3 264.7 105.4 264.4 105.8 265.3 105.9 266 105.6M274.2 104.3 273.8 104.2 273 104.2 272.9 104.4 273.6 104.5 274.2 104.3M295.9 100.5 295.5 100.1 294.5 100.3 294.3 100.7 295.2 100.8 295.9 100.5M264.6 109.6 264.5 109.3 264.1 109.4 263.9 109.7 264.2 109.8 264.6 109.6M242.3 117.4 242.1 117.3 241.7 117.3 241.6 117.6 241.9 117.6 242.3 117.4M257.5 117.8 257.4 117.6 257.1 117.7 257 117.9 257.3 118 257.5 117.8M248.4 110.4 248.4 110 248 110.2 247.8 110.6 248 110.7 248.4 110.4M273.9 115.5 273.7 115.3 273.3 115.4 273.2 115.7 273.5 115.7 273.9 115.5M260.1 116.1 259.8 115.8 259 115.9 258.8 116.4 259.4 116.5 260.1 116.1M269.5 107.5 269.4 107.4 269 107.4 268.9 107.6 269.2 107.7 269.5 107.5M260.6 112.7 260.2 112.6 259.4 112.6 259.3 112.9 260 112.9 260.6 112.7M254.7 96.4 254.4 96.2 253.5 96.3 253.4 96.5 254.1 96.6 254.7 96.4M268.9 118.4 268.7 118 268.1 118.2 267.9 118.6 268.4 118.8 268.9 118.4M292.8 102.5 292.6 102.2 292.1 102.3 291.9 102.6 292.4 102.7 292.8 102.5M258.6 100.7 258.4 100.3 257.6 100.5 257.3 100.9 257.9 101 258.6 100.7M259.3 113.7 259.1 113.4 258.3 113.5 258 114 258.7 114.1 259.3 113.7M293.8 99.9 293.4 99.5 292.4 99.7 292.2 100.1 293.1 100.2 293.8 99.9M257.5 106.7 257.3 106.6 256.7 106.6 256.6 106.8 257.1 106.9 257.5 106.7M243.3 112.4 243.2 112.1 242.7 112.2 242.5 112.6 242.9 112.7 243.3 112.4M295.6 108.4 295.2 108 294.3 108.2 294.2 108.6 295 108.8 295.6 108.4M294.5 110.4 294.3 110.2 293.8 110.2 293.7 110.5 294.1 110.6 294.5 110.4M251.7 114.2 251.5 113.8 250.8 114 250.6 114.4 251.1 114.5 251.7 114.2M289.6 107.6 289.3 107.3 288.6 107.4 288.4 107.8 289.1 108 289.6 107.6M252.7 103.3 252.3 103 251.3 103.1 251.1 103.5 251.9 103.6 252.7 103.3M284.6 107.7 284.5 107.3 284 107.5 283.8 107.9 284.2 108 284.6 107.7M267.7 100 267.2 99.7 266.1 99.8 265.9 100.1 266.9 100.2 267.7 100M273.3 96.5 272.9 96.3 271.9 96.4 271.7 96.6 272.6 96.7 273.3 96.5M247.3 115.5 247 115.1 246.2 115.2 245.9 115.7 246.6 115.8 247.3 115.5M258.7 99.4 258.3 99.1 257.2 99.2 256.9 99.6 257.9 99.7 258.7 99.4M264.3 106 264.2 105.8 263.7 105.9 263.6 106.1 264 106.1 264.3 106M298 103.6 297.8 103.2 297 103.4 296.9 103.8 297.5 103.9 298 103.6M273.8 98.3 273.3 98.1 272.3 98.2 272.1 98.4 273 98.5 273.8 98.3M255.7 112.1 255.6 111.8 255.1 111.9 254.9 112.3 255.3 112.4 255.7 112.1M257.7 109.1 257.7 108.7 257.2 108.9 257 109.3 257.3 109.4 257.7 109.1M263.5 108.1 263.3 107.8 262.6 107.9 262.3 108.4 262.9 108.5 263.5 108.1M273.6 97.2 273.3 96.9 272.5 97 272.3 97.4 273 97.5 273.6 97.2M267.7 118.6 267.4 118.4 266.9 118.5 266.8 118.7 267.3 118.8 267.7 118.6M250.6 100 250.5 99.8 250 99.9 249.7 100.2 250.1 100.3 250.6 100M284.2 105.8 284 105.5 283.4 105.6 283.3 106 283.7 106.1 284.2 105.8M278.1 100.4 278 100.1 277.5 100.2 277.3 100.5 277.7 100.7 278.1 100.4M255.6 112.5 255.3 112.2 254.5 112.3 254.3 112.6 255 112.7 255.6 112.5M278.6 101 278.1 100.7 277.1 100.8 277 101.1 277.9 101.2 278.6 101M277.8 107 277.5 106.7 276.9 106.8 276.7 107.2 277.2 107.3 277.8 107M269.7 106.4 269.5 106 268.8 106.1 268.6 106.6 269.1 106.7 269.7 106.4M287.1 98.2 286.6 98 285.5 98 285.3 98.3 286.3 98.4 287.1 98.2M281.1 96.6 280.6 96.4 279.5 96.5 279.4 96.7 280.3 96.8 281.1 96.6M250.7 108.5 250.6 108.3 250.2 108.4 250 108.7 250.3 108.7 250.7 108.5M252.2 103.1 251.9 102.8 251 102.9 250.6 103.3 251.4 103.5 252.2 103.1M257.1 102 256.7 101.8 255.9 101.9 255.7 102.1 256.4 102.2 257.1 102M296.8 96 296.6 95.6 296 95.8 295.8 96.2 296.3 96.4 296.8 96M266.5 107.4 266.1 107.1 265.1 107.2 264.9 107.7 265.7 107.8 266.5 107.4M252.9 108.8 252.6 108.5 252 108.6 251.8 108.9 252.4 109 252.9 108.8M253.2 111.5 252.9 111.3 252.1 111.4 252 111.6 252.7 111.6 253.2 111.5M273.6 108.6 273.6 108.3 273.2 108.4 273.1 108.7 273.3 108.8 273.6 108.6M278.2 106.9 278.2 106.5 277.8 106.6 277.5 107.1 277.8 107.2 278.2 106.9M292.2 95.9 292 95.7 291.5 95.8 291.4 96 291.8 96.1 292.2 95.9M252.1 100.5 251.9 100.3 251.3 100.4 251.1 100.6 251.6 100.7 252.1 100.5M273.8 97.3 273.4 97.1 272.3 97.2 272.2 97.5 273.1 97.6 273.8 97.3M260.3 97.2 260.1 96.9 259.2 97 258.9 97.4 259.6 97.5 260.3 97.2M243.9 117.7 243.6 117.4 243 117.5 242.8 117.8 243.4 117.9 243.9 117.7M256.9 96.7 256.7 96.4 255.7 96.5 255.4 96.9 256.2 97 256.9 96.7M255.6 98.7 255.6 98.3 255.1 98.4 254.8 98.9 255.1 99 255.6 98.7M267.4 111 267.2 110.6 266.5 110.8 266.3 111.2 266.8 111.3 267.4 111M266.5 93.2 265.9 92.9 264.6 93 264.3 93.4 265.4 93.5 266.5 93.2M259.7 92.7 259.5 92.4 258.7 92.5 258.4 92.9 259 93 259.7 92.7M271 90.4 270.2 90.1 268.4 90.2 268.1 90.6 269.7 90.7 271 90.4M276.7 92.4 276.2 92.2 275.1 92.3 274.9 92.6 275.9 92.6 276.7 92.4M264.5 95 263.9 94.6 262.3 94.7 261.9 95.3 263.3 95.4 264.5 95M268.6 87.7 267.6 87.4 265.6 87.5 265.3 87.9 267.1 88 268.6 87.7M293 88.4 292.5 87.9 291 88.1 290.6 88.7 291.8 88.9 293 88.4M276.9 87.2 276.4 86.6 274.6 86.8 274 87.5 275.4 87.8 276.9 87.2M279.6 82 279.1 81.6 277.4 81.8 276.8 82.3 278.2 82.5 279.6 82M274.5 89.7 274.3 89.5 273.4 89.6 273.2 89.9 273.8 90 274.5 89.7M267.2 83.5 266.9 83.2 265.8 83.3 265.4 83.7 266.3 83.8 267.2 83.5M270.1 81.9 269.6 81.4 267.6 81.6 267 82.2 268.6 82.3 270.1 81.9M268.3 91.4 268 91 266.9 91.2 266.5 91.6 267.4 91.8 268.3 91.4M266 88.2 265.9 87.6 264.7 87.8 264 88.5 264.9 88.7 266 88.2M300 86.6 299.8 86 298.6 86.2 298.2 86.9 299.1 87.1 300 86.6M270.7 89.6 270.5 89.2 269.7 89.4 269.4 89.8 269.9 89.9 270.7 89.6M279.5 87.3 279.3 86.9 278.2 87 277.8 87.5 278.6 87.7 279.5 87.3M256.8 91 256.7 90.7 255.8 90.8 255.4 91.3 256 91.4 256.8 91M255.1 94.9 254.8 94.6 253.7 94.7 253.4 95.1 254.2 95.2 255.1 94.9M285 86.8 284.3 86.4 282.5 86.6 282 87.1 283.6 87.3 285 86.8M293.9 81.3 293.5 80.9 292.3 81.1 292 81.5 293 81.6 293.9 81.3M297.4 92.9 296.7 92.4 295.1 92.6 294.8 93.1 296.2 93.3 297.4 92.9M268.5 82 267.9 81.5 266 81.7 265.4 82.2 266.9 82.4 268.5 82M293.5 82.3 293.3 81.9 292.4 82.1 292 82.6 292.7 82.7 293.5 82.3M285.8 82 285.3 81.5 283.5 81.7 282.9 82.3 284.4 82.5 285.8 82M289.5 81.1 289 80.6 287.4 80.8 286.9 81.4 288.2 81.5 289.5 81.1M263.1 94.7 263 94.4 262.1 94.5 261.8 95 262.4 95.1 263.1 94.7M270.5 82 270.1 81.5 268.6 81.7 268 82.2 269.2 82.4 270.5 82M288.1 84.4 287.5 84.2 286.2 84.3 285.9 84.6 287.2 84.7 288.1 84.4M295.6 83.4 295.1 83 293.7 83.1 293.3 83.6 294.5 83.8 295.6 83.4M282.7 94.2 282 93.9 280.4 94 280.2 94.4 281.6 94.5 282.7 94.2M260.5 91 259.8 90.7 258.1 90.8 257.7 91.2 259.2 91.3 260.5 91M296.2 79.7 295.7 79.4 294.4 79.5 294 80 295.1 80.1 296.2 79.7M282.8 84.4 282.1 83.9 280.3 84.1 279.8 84.7 281.4 84.8 282.8 84.4M281.5 94 281.2 93.7 280.3 93.8 280.1 94.2 280.8 94.3 281.5 94M288.6 90.4 287.9 90.2 286.4 90.3 286.2 90.5 287.6 90.6 288.6 90.4M259.9 91 259.4 90.5 257.7 90.7 257.1 91.3 258.5 91.4 259.9 91M285.6 90.6 285 90.2 283.6 90.4 283.3 90.9 284.5 91 285.6 90.6M275.2 93.4 274.4 93.1 272.6 93.2 272.3 93.5 273.9 93.7 275.2 93.4M304 80.4 303.8 80 303.1 80.1 302.8 80.6 303.3 80.8 304 80.4M299 79.9 298.5 79.6 297.2 79.7 296.9 80.1 298 80.2 299 79.9M275.9 80.2 275.8 79.8 274.7 80 274.2 80.5 274.9 80.7 275.9 80.2M267.4 86.9 266.4 86.6 264.4 86.8 264.1 87.1 265.9 87.2 267.4 86.9M294.3 87.2 293.5 86.7 291.5 86.9 291.1 87.4 292.9 87.6 294.3 87.2M276.2 81 275.7 80.8 274.3 80.8 274 81.1 275.2 81.2 276.2 81M260.7 87.4 260.3 87.1 258.9 87.2 258.4 87.6 259.6 87.8 260.7 87.4M263.9 89.8 263.7 89.3 262.4 89.5 261.8 90.1 262.8 90.3 263.9 89.8M265.4 83.3 264.6 83.1 262.8 83.2 262.4 83.5 264 83.6 265.4 83.3M300.6 83.9 299.7 83.6 297.8 83.7 297.6 84.1 299.3 84.2 300.6 83.9M274.9 89 274 88.6 271.8 88.7 271.4 89.3 273.3 89.4 274.9 89M381 103.9 380.6 103.7 380 103.8 380 104.1 380.6 104.1 381 103.9M377.5 99.6 377 99.2 376.4 99.4 376.5 99.9 377.2 100.1 377.5 99.6M380.1 105.7 379.6 105.4 378.9 105.5 378.9 105.8 379.7 105.9 380.1 105.7M380.7 98.3 379.9 98 378.7 98.1 378.8 98.6 380 98.7 380.7 98.3M383.5 98.8 382.7 98.5 381.5 98.6 381.6 99 382.9 99.1 383.5 98.8M385.9 107.9 385.3 107.6 384.5 107.8 384.5 108.1 385.4 108.2 385.9 107.9M384.9 101.6 384.5 101.5 383.9 101.5 383.9 101.8 384.5 101.8 384.9 101.6M388 107.1 387.5 106.9 386.8 107 386.9 107.3 387.6 107.4 388 107.1M380.3 100.6 379.5 100.4 378.3 100.5 378.4 100.8 379.6 100.9 380.3 100.6M384.6 105.3 384.1 105 383.4 105.1 383.4 105.5 384.2 105.6 384.6 105.3M379.1 106.8 378.8 106.3 378.3 106.5 378.4 107 378.9 107.2 379.1 106.8M383.2 106.1 382.5 105.7 381.5 105.9 381.6 106.4 382.7 106.6 383.2 106.1M435 88.5 434.3 88.2 433.5 88.3 433.8 88.6 434.7 88.7 435 88.5M428.4 89 427.6 88.7 426.8 88.8 427.1 89.2 428 89.3 428.4 89M435.8 80.6 434.6 80.2 433.3 80.4 433.8 80.8 435.3 80.9 435.8 80.6M429.6 84.4 428.7 84.1 427.8 84.2 428.1 84.6 429.2 84.7 429.6 84.4M409.8 87 408.5 86.8 406.8 86.9 407 87.2 408.8 87.2 409.8 87M434.6 83.3 433.4 83 431.9 83.1 432.2 83.4 433.9 83.5 434.6 83.3M422.8 87.3 421.9 87 420.9 87.1 421.2 87.5 422.3 87.7 422.8 87.3M459.3 81 458.1 80.8 456.7 80.8 457 81.1 458.6 81.2 459.3 81M405.1 82.4 404 82.1 402.5 82.2 402.7 82.7 404.4 82.8 405.1 82.4M445.4 89.9 444.4 89.5 443.5 89.6 444 90.2 445.2 90.4 445.4 89.9M233.5 94.9 232.9 94.6 231.2 94.7 230.9 95.1 232.3 95.2 233.5 94.9M209 106 208.9 105.6 207.9 105.8 207.4 106.3 208.1 106.4 209 106M233 97 232.8 96.6 231.5 96.7 230.9 97.3 231.9 97.4 233 97M221.2 99.7 221.3 99.3 220.6 99.4 220.1 100 220.4 100.2 221.2 99.7M224.2 93.9 223.7 93.6 222.4 93.7 222 94 223.1 94.2 224.2 93.9M211 104.5 210.8 104.1 209.6 104.2 209.1 104.7 210 104.9 211 104.5M207.9 107.4 207.7 107 206.7 107.1 206.3 107.6 207 107.7 207.9 107.4M215.3 104.9 214.9 104.7 213.9 104.8 213.7 105 214.6 105.1 215.3 104.9" fill="none" stroke="#000" stroke-width="0.7" stroke-linejoin="round"/>
<path d="M231.2 120.6 230.4 118.4 229.2 117.1 229 115.1 228.8 113.1 228.7 111.1 228.2 109.1 227.3 107.8M279.3 240.5 279.5 243.4 279.8 246.7 279.9 249.4 281.2 252 283 254.3 285.4 256 287.3 257.3M360.9 105.2 361.2 103.2 362.5 101.9 364.7 100.5 366.3 98.5 367.5 96.6 369 94.6 371 93.3M309.2 100.5 309.4 97.2 309.8 93.9 312.3 91.9 310.7 89.9M310.6 86.6 309 85.1" fill="none" stroke="#000" stroke-width="1.9" stroke-linejoin="round" stroke-linecap="round" opacity="0.85"/>
<line x1="140" x2="580" y1="105.6" y2="105.6" stroke="#101010" stroke-width="1.5" stroke-dasharray="1.5 0.5" opacity="0.6"/>
<line x1="140" x2="580" y1="145.4" y2="145.4" stroke="#101010" stroke-width="1.5" stroke-dasharray="1.5 0.5" opacity="0.6"/>
<line x1="140" x2="580" y1="185.3" y2="185.3" stroke="#101010" stroke-width="1.5" stroke-dasharray="1.5 0.5" opacity="0.6"/>
<line x1="140" x2="580" y1="225" y2="225" stroke="#101010" stroke-width="1.5" stroke-dasharray="1.5 0.5" opacity="0.6"/>
<line x1="140" x2="580" y1="264.6" y2="264.6" stroke="#101010" stroke-width="1.5" stroke-dasharray="1.5 0.5" opacity="0.6"/>
<path d="M304.5 304.3 L296.8 297.7 L290.3 291 L284.7 284.4 L279.9 277.8 L275.6 271.2 L271.9 264.6 L268.6 258 L265.7 251.3 L263.2 244.7 L260.9 238.1 L259 231.5 L257.4 224.9 L256 218.3 L254.9 211.7 L254.1 205 L253.5 198.4 L253.1 191.8 L253 185.2 L253.1 178.6 L253.5 172 L254.1 165.4 L254.9 158.7 L256 152.1 L257.4 145.5 L259 138.9 L260.9 132.3 L263.2 125.7 L265.7 119.1 L268.6 112.4 L271.9 105.8 L275.6 99.2 L279.9 92.6 L284.7 86 L290.3 79.4 L296.8 72.7 L304.5 66.1" fill="none" stroke="#111" stroke-width="1.1" opacity="0.55"/>
<path d="M407.7 304.3 L415.4 297.7 L421.9 291 L427.5 284.4 L432.3 277.8 L436.6 271.2 L440.3 264.6 L443.6 258 L446.5 251.3 L449 244.7 L451.3 238.1 L453.2 231.5 L454.8 224.9 L456.2 218.3 L457.3 211.7 L458.1 205 L458.7 198.4 L459.1 191.8 L459.2 185.2 L459.1 178.6 L458.7 172 L458.1 165.4 L457.3 158.7 L456.2 152.1 L454.8 145.5 L453.2 138.9 L451.3 132.3 L449 125.7 L446.5 119.1 L443.6 112.4 L440.3 105.8 L436.6 99.2 L432.3 92.6 L427.5 86 L421.9 79.4 L415.4 72.7 L407.7 66.1" fill="none" stroke="#111" stroke-width="1.1" opacity="0.55"/>
<line x1="356.1" x2="356.1" y1="60" y2="310" stroke="#101010" stroke-width="1.5" stroke-dasharray="1.5 0.5" opacity="0.6"/>
</g>
<path d="M253 304.3 L237.4 297.7 L224.5 291 L213.3 284.4 L203.7 277.8 L195.2 271.2 L187.7 264.6 L181.1 258 L175.3 251.3 L170.2 244.7 L165.8 238.1 L161.9 231.5 L158.7 224.9 L155.9 218.3 L153.7 211.7 L152 205 L150.8 198.4 L150.1 191.8 L149.9 185.2 L150.1 178.6 L150.8 172 L152 165.4 L153.7 158.7 L155.9 152.1 L158.7 145.5 L161.9 138.9 L165.8 132.3 L170.2 125.7 L175.3 119.1 L181.1 112.4 L187.7 105.8 L195.2 99.2 L203.7 92.6 L213.3 86 L224.5 79.4 L237.4 72.7 L253 66.1 L459.2 66.1 L474.8 72.7 L487.7 79.4 L498.9 86 L508.5 92.6 L517 99.2 L524.5 105.8 L531.1 112.4 L536.9 119.1 L542 125.7 L546.4 132.3 L550.3 138.9 L553.5 145.5 L556.3 152.1 L558.5 158.7 L560.2 165.4 L561.4 172 L562.1 178.6 L562.3 185.2 L562.1 191.8 L561.4 198.4 L560.2 205 L558.5 211.7 L556.3 218.3 L553.5 224.9 L550.3 231.5 L546.4 238.1 L542 244.7 L536.9 251.3 L531.1 258 L524.5 264.6 L517 271.2 L508.5 277.8 L498.9 284.4 L487.7 291 L474.8 297.7 L459.2 304.3Z" fill="none" stroke="#222" stroke-width="1"/>
<linearGradient id="g3" x1="0" y1="0" x2="0" y2="1"><stop offset="0.000" stop-color="#ff0000"/><stop offset="0.050" stop-color="#ff2814"/><stop offset="0.100" stop-color="#ff4f28"/><stop offset="0.150" stop-color="#ff743c"/><stop offset="0.200" stop-color="#ff964f"/><stop offset="0.250" stop-color="#ffb462"/><stop offset="0.300" stop-color="#e5ce74"/><stop offset="0.350" stop-color="#cce385"/><stop offset="0.400" stop-color="#b2f396"/><stop offset="0.450" stop-color="#99fca6"/><stop offset="0.500" stop-color="#80ffb4"/><stop offset="0.550" stop-color="#66fcc2"/><stop offset="0.600" stop-color="#4df3ce"/><stop offset="0.650" stop-color="#33e3d9"/><stop offset="0.700" stop-color="#1acee3"/><stop offset="0.750" stop-color="#00b4ec"/><stop offset="0.800" stop-color="#1a96f3"/><stop offset="0.850" stop-color="#3374f8"/><stop offset="0.900" stop-color="#4d4ffc"/><stop offset="0.950" stop-color="#6628fe"/><stop offset="1.000" stop-color="#8000ff"/></linearGradient>
<rect x="599.6" y="77.5" width="12.8" height="216.8" fill="url(#g3)"/>
<path d="M599.6 77.5 L606 66 L612.4 77.5Z" fill="#ff0000"/>
<path d="M599.6 294.3 L606 305 L612.4 294.3Z" fill="#8000ff"/>
<path d="M599.6 77.5 L606 66 L612.4 77.5 L612.4 294.3 L606 305 L599.6 294.3Z" fill="none" stroke="#444" stroke-width="0.7"/>
<line x1="612.4" x2="616.2" y1="294.3" y2="294.3" stroke="#333" stroke-width="0.9"/>
<text x="619.2" y="299.3" font-size="14.2" textLength="9.6" lengthAdjust="spacingAndGlyphs" fill="#222">0</text>
<line x1="612.4" x2="616.2" y1="250.9" y2="250.9" stroke="#333" stroke-width="0.9"/>
<text x="619.2" y="255.9" font-size="14.2" textLength="9.6" lengthAdjust="spacingAndGlyphs" fill="#222">2</text>
<line x1="612.4" x2="616.2" y1="207.6" y2="207.6" stroke="#333" stroke-width="0.9"/>
<text x="619.2" y="212.6" font-size="14.2" textLength="9.6" lengthAdjust="spacingAndGlyphs" fill="#222">4</text>
<line x1="612.4" x2="616.2" y1="164.2" y2="164.2" stroke="#333" stroke-width="0.9"/>
<text x="619.2" y="169.2" font-size="14.2" textLength="9.6" lengthAdjust="spacingAndGlyphs" fill="#222">6</text>
<line x1="612.4" x2="616.2" y1="120.9" y2="120.9" stroke="#333" stroke-width="0.9"/>
<text x="619.2" y="125.9" font-size="14.2" textLength="9.6" lengthAdjust="spacingAndGlyphs" fill="#222">8</text>
<line x1="612.4" x2="616.2" y1="77.5" y2="77.5" stroke="#333" stroke-width="0.9"/>
<text x="619.2" y="82.5" font-size="14.2" textLength="19.2" lengthAdjust="spacingAndGlyphs" fill="#222">10</text>
<text transform="translate(657 185.5) rotate(-90)" font-size="16" text-anchor="middle" fill="#222" textLength="103" lengthAdjust="spacingAndGlyphs">×10<tspan font-size="10" dy="-6">3</tspan><tspan dy="6"> counts</tspan></text>
</g>
<g transform="translate(629.5 465.5)">
<text x="356.4" y="24.7" font-size="16.6" text-anchor="middle" textLength="196.5" lengthAdjust="spacingAndGlyphs" font-weight="bold" fill="#111">Nighttime (01-03 LT)</text>
<text x="253.4" y="61.4" font-size="14.2" text-anchor="middle" textLength="43.7" lengthAdjust="spacingAndGlyphs" fill="#222">180W</text>
<text x="253.4" y="319" font-size="14.2" text-anchor="middle" textLength="43.7" lengthAdjust="spacingAndGlyphs" fill="#222">180W</text>
<text x="302.2" y="61.4" font-size="14.2" text-anchor="middle" textLength="34" lengthAdjust="spacingAndGlyphs" fill="#222">90W</text>
<text x="302.2" y="319" font-size="14.2" text-anchor="middle" textLength="34" lengthAdjust="spacingAndGlyphs" fill="#222">90W</text>
<text x="356" y="61.4" font-size="14.2" text-anchor="middle" textLength="10.6" lengthAdjust="spacingAndGlyphs" fill="#222">0</text>
<text x="356" y="319" font-size="14.2" text-anchor="middle" textLength="10.6" lengthAdjust="spacingAndGlyphs" fill="#222">0</text>
<text x="402.4" y="61.4" font-size="14.2" text-anchor="middle" textLength="29" lengthAdjust="spacingAndGlyphs" fill="#222">90E</text>
<text x="402.4" y="319" font-size="14.2" text-anchor="middle" textLength="29" lengthAdjust="spacingAndGlyphs" fill="#222">90E</text>
<text x="458.3" y="61.4" font-size="14.2" text-anchor="middle" textLength="36.4" lengthAdjust="spacingAndGlyphs" fill="#222">180E</text>
<text x="458.3" y="319" font-size="14.2" text-anchor="middle" textLength="36.4" lengthAdjust="spacingAndGlyphs" fill="#222">180E</text>
<text x="146.7" y="101" font-size="14.2" textLength="37.2" lengthAdjust="spacingAndGlyphs" fill="#222">60°N</text>
<text x="528" y="101" font-size="14.2" textLength="37.2" lengthAdjust="spacingAndGlyphs" fill="#222">60°N</text>
<text x="117.9" y="142.6" font-size="14.2" textLength="37.2" lengthAdjust="spacingAndGlyphs" fill="#222">30°N</text>
<text x="557.5" y="142.6" font-size="14.2" textLength="37.2" lengthAdjust="spacingAndGlyphs" fill="#222">30°N</text>
<text x="128.5" y="188" font-size="14.2" textLength="17.7" lengthAdjust="spacingAndGlyphs" fill="#222">0°</text>
<text x="565.7" y="188" font-size="14.2" textLength="17.7" lengthAdjust="spacingAndGlyphs" fill="#222">0°</text>
<text x="119.6" y="237" font-size="14.2" textLength="36.2" lengthAdjust="spacingAndGlyphs" fill="#222">30°S</text>
<text x="557.5" y="237" font-size="14.2" textLength="36.2" lengthAdjust="spacingAndGlyphs" fill="#222">30°S</text>
<text x="148.4" y="275.3" font-size="14.2" textLength="35.5" lengthAdjust="spacingAndGlyphs" fill="#222">60°S</text>
<text x="528" y="275.3" font-size="14.2" textLength="35.5" lengthAdjust="spacingAndGlyphs" fill="#222">60°S</text>
<text x="104.3" y="186.6" font-size="13.8" text-anchor="middle" textLength="142.7" lengthAdjust="spacingAndGlyphs" transform="rotate(-90 104.3 186.6)" fill="#222">Geographic latitude</text>
<text x="356.2" y="356.8" font-size="13.8" text-anchor="middle" textLength="156.4" lengthAdjust="spacingAndGlyphs" fill="#222">Geographic longitude</text>
<clipPath id="c4"><path d="M253 304.3 L237.4 297.7 L224.5 291 L213.3 284.4 L203.7 277.8 L195.2 271.2 L187.7 264.6 L181.1 258 L175.3 251.3 L170.2 244.7 L165.8 238.1 L161.9 231.5 L158.7 224.9 L155.9 218.3 L153.7 211.7 L152 205 L150.8 198.4 L150.1 191.8 L149.9 185.2 L150.1 178.6 L150.8 172 L152 165.4 L153.7 158.7 L155.9 152.1 L158.7 145.5 L161.9 138.9 L165.8 132.3 L170.2 125.7 L175.3 119.1 L181.1 112.4 L187.7 105.8 L195.2 99.2 L203.7 92.6 L213.3 86 L224.5 79.4 L237.4 72.7 L253 66.1 L459.2 66.1 L474.8 72.7 L487.7 79.4 L498.9 86 L508.5 92.6 L517 99.2 L524.5 105.8 L531.1 112.4 L536.9 119.1 L542 125.7 L546.4 132.3 L550.3 138.9 L553.5 145.5 L556.3 152.1 L558.5 158.7 L560.2 165.4 L561.4 172 L562.1 178.6 L562.3 185.2 L562.1 191.8 L561.4 198.4 L560.2 205 L558.5 211.7 L556.3 218.3 L553.5 224.9 L550.3 231.5 L546.4 238.1 L542 244.7 L536.9 251.3 L531.1 258 L524.5 264.6 L517 271.2 L508.5 277.8 L498.9 284.4 L487.7 291 L474.8 297.7 L459.2 304.3Z"/></clipPath>
<g clip-path="url(#c4)">
<rect x="140" y="60" width="440" height="250" fill="#18b3ec"/>
<g filter="url(#bl1)">
<path d="M196 271.8 L188.2 265.1 L181.4 258.3 L175.4 251.5 L170.2 244.7 L165.7 237.9 L161.7 231.2 L158.4 224.4 L155.7 217.6 L153.5 210.8 L151.8 204.1 L150.7 197.3 L150 190.5 L149.9 183.7 L150.2 176.9 L151.1 170.2 L152.5 163.4 L154.4 156.6 L156.8 149.8 L159.8 143 L163.4 136.3 L167.6 129.5 L172.4 122.7 L178 115.9 L184.3 109.2" fill="none" stroke="#4ad4f6" stroke-width="1.7" opacity="0.16"/>
<path d="M252.9 303.6 L232.5 294.2 L216.3 284.8 L203.1 275.4 L192.1 266.1 L182.8 256.7 L175.2 247.3 L168.8 237.9 L163.6 228.6 L159.6 219.2 L156.5 209.8 L154.5 200.4 L153.5 191.1 L153.3 181.7 L154.2 172.3 L155.9 162.9 L158.7 153.6 L162.5 144.2 L167.4 134.8 L173.4 125.4 L180.8 116.1 L189.6 106.7 L200.1 97.3 L212.7 87.9 L228.1 78.6" fill="none" stroke="#1c98e6" stroke-width="2.7" opacity="0.30"/>
<path d="M257 304.3 L235.6 294.3 L219 284.4 L205.5 274.5 L194.3 264.6 L185.1 254.7 L177.5 244.7 L171.3 234.8 L166.4 224.9 L162.7 215 L160.1 205 L158.5 195.1 L158 185.2 L158.5 175.3 L160.1 165.4 L162.7 155.4 L166.4 145.5 L171.3 135.6 L177.5 125.7 L185.1 115.7 L194.3 105.8 L205.5 95.9 L219 86 L235.6 76.1 L257 66.1" fill="none" stroke="#1c98e6" stroke-width="2.6" opacity="0.19"/>
<path d="M258.6 304.3 L237.6 294.3 L221.2 284.4 L207.9 274.5 L196.9 264.6 L187.9 254.7 L180.4 244.7 L174.3 234.8 L169.5 224.9 L165.8 215 L163.2 205 L161.7 195.1 L161.2 185.2 L161.7 175.3 L163.2 165.4 L165.8 155.4 L169.5 145.5 L174.3 135.6 L180.4 125.7 L187.9 115.7 L196.9 105.8 L207.9 95.9 L221.2 86 L237.6 76.1 L258.6 66.1" fill="none" stroke="#4ad4f6" stroke-width="3.3" opacity="0.16"/>
<path d="M261 304.3 L240.4 294.3 L224.4 284.4 L211.4 274.5 L200.7 264.6 L191.9 254.7 L184.6 244.7 L178.6 234.8 L173.9 224.9 L170.3 215 L167.8 205 L166.3 195.1 L165.8 185.2 L166.3 175.3 L167.8 165.4 L170.3 155.4 L173.9 145.5 L178.6 135.6 L184.6 125.7 L191.9 115.7 L200.7 105.8 L211.4 95.9 L224.4 86 L240.4 76.1 L261 66.1" fill="none" stroke="#4ad4f6" stroke-width="1.7" opacity="0.17"/>
<path d="M263.9 304.3 L244 294.3 L228.5 284.4 L215.9 274.5 L205.6 264.6 L197 254.7 L189.9 244.7 L184.2 234.8 L179.6 224.9 L176.1 215 L173.7 205 L172.2 195.1 L171.8 185.2 L172.2 175.3 L173.7 165.4 L176.1 155.4 L179.6 145.5 L184.2 135.6 L189.9 125.7 L197 115.7 L205.6 105.8 L215.9 95.9 L228.5 86 L244 76.1 L263.9 66.1" fill="none" stroke="#1c98e6" stroke-width="2.8" opacity="0.41"/>
<path d="M190.1 238.3 L187.5 233.3 L185.1 228.2 L183.1 223.1 L181.3 218 L179.8 212.9 L178.6 207.8 L177.6 202.7 L176.9 197.6 L176.4 192.5 L176.2 187.4 L176.2 182.4 L176.4 177.3 L176.9 172.2 L177.7 167.1 L178.7 162 L180 156.9 L181.5 151.8 L183.3 146.7 L185.4 141.6 L187.8 136.5 L190.5 131.5 L193.4 126.4 L196.8 121.3 L200.4 116.2" fill="none" stroke="#4ad4f6" stroke-width="1.7" opacity="0.33"/>
<path d="M203.1 250 L199 243.5 L195.4 237 L192.3 230.4 L189.7 223.9 L187.5 217.4 L185.7 210.9 L184.3 204.4 L183.4 197.9 L182.8 191.3 L182.6 184.8 L182.9 178.3 L183.5 171.8 L184.5 165.3 L185.9 158.8 L187.7 152.2 L189.9 145.7 L192.6 139.2 L195.8 132.7 L199.4 126.2 L203.6 119.7 L208.4 113.1 L213.8 106.6 L219.9 100.1 L226.8 93.6" fill="none" stroke="#1c98e6" stroke-width="1.3" opacity="0.21"/>
<path d="M268.9 303.1 L255.2 295.7 L244 288.3 L234.4 281 L226.2 273.6 L219.1 266.2 L212.9 258.8 L207.5 251.4 L202.8 244.1 L198.9 236.7 L195.5 229.3 L192.7 221.9 L190.4 214.5 L188.7 207.1 L187.5 199.8 L186.8 192.4 L186.5 185 L186.8 177.6 L187.5 170.2 L188.8 162.9 L190.5 155.5 L192.8 148.1 L195.6 140.7 L199.1 133.3 L203.1 125.9" fill="none" stroke="#4ad4f6" stroke-width="3.4" opacity="0.29"/>
<path d="M257 295.4 L244.6 287 L234.4 278.6 L225.7 270.1 L218.3 261.7 L212 253.3 L206.7 244.8 L202.2 236.4 L198.5 228 L195.6 219.6 L193.3 211.1 L191.6 202.7 L190.7 194.3 L190.3 185.8 L190.6 177.4 L191.5 169 L193 160.6 L195.2 152.1 L198 143.7 L201.6 135.3 L206 126.8 L211.2 118.4 L217.3 110 L224.5 101.6 L233 93.1" fill="none" stroke="#4ad4f6" stroke-width="1.3" opacity="0.32"/>
<path d="M274.7 304.3 L257.2 294.3 L243.5 284.4 L232.4 274.5 L223.2 264.6 L215.7 254.7 L209.4 244.7 L204.3 234.8 L200.3 224.9 L197.2 215 L195.1 205 L193.8 195.1 L193.4 185.2 L193.8 175.3 L195.1 165.4 L197.2 155.4 L200.3 145.5 L204.3 135.6 L209.4 125.7 L215.7 115.7 L223.2 105.8 L232.4 95.9 L243.5 86 L257.2 76.1 L274.7 66.1" fill="none" stroke="#4ad4f6" stroke-width="3.0" opacity="0.40"/>
<path d="M276.8 304.3 L259.7 294.3 L246.4 284.4 L235.6 274.5 L226.7 264.6 L219.3 254.7 L213.2 244.7 L208.3 234.8 L204.3 224.9 L201.4 215 L199.3 205 L198 195.1 L197.6 185.2 L198 175.3 L199.3 165.4 L201.4 155.4 L204.3 145.5 L208.3 135.6 L213.2 125.7 L219.3 115.7 L226.7 105.8 L235.6 95.9 L246.4 86 L259.7 76.1 L276.8 66.1" fill="none" stroke="#4ad4f6" stroke-width="2.7" opacity="0.40"/>
<path d="M278.7 304.3 L262 294.3 L249 284.4 L238.4 274.5 L229.7 264.6 L222.5 254.7 L216.6 244.7 L211.8 234.8 L207.9 224.9 L205 215 L203 205 L201.7 195.1 L201.3 185.2 L201.7 175.3 L203 165.4 L205 155.4 L207.9 145.5 L211.8 135.6 L216.6 125.7 L222.5 115.7 L229.7 105.8 L238.4 95.9 L249 86 L262 76.1 L278.7 66.1" fill="none" stroke="#1c98e6" stroke-width="1.8" opacity="0.18"/>
<path d="M217 235.6 L214.9 230.5 L213.1 225.5 L211.5 220.4 L210.2 215.3 L209 210.2 L208.1 205.1 L207.4 200.1 L206.9 195 L206.6 189.9 L206.6 184.8 L206.7 179.8 L207 174.7 L207.5 169.6 L208.3 164.5 L209.2 159.4 L210.4 154.4 L211.7 149.3 L213.4 144.2 L215.2 139.1 L217.3 134 L219.6 129 L222.2 123.9 L225.1 118.8 L228.3 113.7" fill="none" stroke="#4ad4f6" stroke-width="1.8" opacity="0.27"/>
<path d="M283.7 304.3 L268 294.3 L255.8 284.4 L246 274.5 L237.8 264.6 L231.1 254.7 L225.5 244.7 L221 234.8 L217.4 224.9 L214.7 215 L212.8 205 L211.6 195.1 L211.3 185.2 L211.6 175.3 L212.8 165.4 L214.7 155.4 L217.4 145.5 L221 135.6 L225.5 125.7 L231.1 115.7 L237.8 105.8 L246 95.9 L255.8 86 L268 76.1 L283.7 66.1" fill="none" stroke="#4ad4f6" stroke-width="3.3" opacity="0.41"/>
<path d="M244 269.2 L239.3 262.9 L235.1 256.6 L231.3 250.3 L228.1 244 L225.2 237.7 L222.7 231.4 L220.5 225.1 L218.7 218.7 L217.3 212.4 L216.1 206.1 L215.3 199.8 L214.7 193.5 L214.5 187.2 L214.5 180.9 L214.9 174.6 L215.5 168.3 L216.5 162 L217.8 155.7 L219.4 149.4 L221.3 143 L223.6 136.7 L226.2 130.4 L229.2 124.1 L232.6 117.8" fill="none" stroke="#4ad4f6" stroke-width="3.2" opacity="0.46"/>
<path d="M287.4 304.3 L272.5 294.3 L260.9 284.4 L251.6 274.5 L243.8 264.6 L237.4 254.7 L232.2 244.7 L227.9 234.8 L224.5 224.9 L221.9 215 L220 205 L219 195.1 L218.6 185.2 L219 175.3 L220 165.4 L221.9 155.4 L224.5 145.5 L227.9 135.6 L232.2 125.7 L237.4 115.7 L243.8 105.8 L251.6 95.9 L260.9 86 L272.5 76.1 L287.4 66.1" fill="none" stroke="#1c98e6" stroke-width="2.4" opacity="0.18"/>
<path d="M252.3 271.5 L246.4 263.4 L241.4 255.3 L237.1 247.2 L233.4 239.1 L230.4 231 L227.8 222.9 L225.9 214.9 L224.4 206.8 L223.4 198.7 L222.8 190.6 L222.7 182.5 L223.1 174.4 L224 166.3 L225.3 158.2 L227.1 150.1 L229.5 142 L232.4 133.9 L235.8 125.8 L239.9 117.7 L244.7 109.6 L250.3 101.5 L256.8 93.4 L264.5 85.3 L273.5 77.2" fill="none" stroke="#4ad4f6" stroke-width="1.7" opacity="0.39"/>
<path d="M292.1 304.3 L278.2 294.3 L267.4 284.4 L258.7 274.5 L251.5 264.6 L245.5 254.7 L240.6 244.7 L236.6 234.8 L233.5 224.9 L231 215 L229.3 205 L228.3 195.1 L228 185.2 L228.3 175.3 L229.3 165.4 L231 155.4 L233.5 145.5 L236.6 135.6 L240.6 125.7 L245.5 115.7 L251.5 105.8 L258.7 95.9 L267.4 86 L278.2 76.1 L292.1 66.1" fill="none" stroke="#1c98e6" stroke-width="1.4" opacity="0.51"/>
<path d="M295.6 304.3 L282.6 294.3 L272.4 284.4 L264.1 274.5 L257.4 264.6 L251.7 254.7 L247.1 244.7 L243.3 234.8 L240.3 224.9 L238 215 L236.4 205 L235.5 195.1 L235.2 185.2 L235.5 175.3 L236.4 165.4 L238 155.4 L240.3 145.5 L243.3 135.6 L247.1 125.7 L251.7 115.7 L257.4 105.8 L264.1 95.9 L272.4 86 L282.6 76.1 L295.6 66.1" fill="none" stroke="#1c98e6" stroke-width="2.8" opacity="0.42"/>
<path d="M277.9 286.7 L271.9 279.8 L266.8 272.9 L262.3 266 L258.3 259.1 L254.8 252.2 L251.8 245.3 L249.1 238.4 L246.9 231.5 L245 224.6 L243.4 217.7 L242.1 210.8 L241.2 203.9 L240.5 197 L240.2 190.1 L240.1 183.2 L240.3 176.3 L240.9 169.4 L241.7 162.5 L242.8 155.5 L244.3 148.6 L246 141.7 L248.2 134.8 L250.6 127.9 L253.5 121" fill="none" stroke="#4ad4f6" stroke-width="1.9" opacity="0.36"/>
<path d="M300 304.3 L287.9 294.3 L278.4 284.4 L270.8 274.5 L264.5 264.6 L259.3 254.7 L255 244.7 L251.5 234.8 L248.7 224.9 L246.6 215 L245.1 205 L244.2 195.1 L243.9 185.2 L244.2 175.3 L245.1 165.4 L246.6 155.4 L248.7 145.5 L251.5 135.6 L255 125.7 L259.3 115.7 L264.5 105.8 L270.8 95.9 L278.4 86 L287.9 76.1 L300 66.1" fill="none" stroke="#4ad4f6" stroke-width="2.1" opacity="0.35"/>
<path d="M278.9 279.8 L273.2 271.3 L268.3 262.8 L264.2 254.4 L260.6 245.9 L257.7 237.4 L255.2 228.9 L253.3 220.5 L251.7 212 L250.7 203.5 L250 195 L249.7 186.5 L249.9 178.1 L250.4 169.6 L251.4 161.1 L252.7 152.6 L254.6 144.1 L256.9 135.7 L259.6 127.2 L263 118.7 L266.9 110.2 L271.6 101.7 L277 93.3 L283.4 84.8 L291.1 76.3" fill="none" stroke="#4ad4f6" stroke-width="2.7" opacity="0.43"/>
<path d="M269.1 257.1 L266.2 250.2 L263.6 243.3 L261.4 236.4 L259.5 229.5 L257.9 222.6 L256.6 215.7 L255.6 208.8 L254.8 201.9 L254.3 195 L254.1 188.1 L254.1 181.2 L254.4 174.3 L254.9 167.4 L255.7 160.5 L256.8 153.6 L258.1 146.7 L259.8 139.8 L261.7 132.9 L264 126 L266.6 119.1 L269.6 112.2 L273.1 105.2 L277 98.3 L281.5 91.4" fill="none" stroke="#1c98e6" stroke-width="1.2" opacity="0.47"/>
<path d="M305.2 303 L295.2 293.4 L287.3 283.7 L280.9 274.1 L275.5 264.5 L271.1 254.9 L267.4 245.3 L264.3 235.6 L261.9 226 L260 216.4 L258.7 206.8 L257.8 197.2 L257.5 187.5 L257.6 177.9 L258.2 168.3 L259.3 158.7 L260.9 149.1 L263.1 139.4 L265.8 129.8 L269.2 120.2 L273.2 110.6 L278.1 101 L284 91.3 L291.1 81.7 L300 72.1" fill="none" stroke="#1c98e6" stroke-width="3.2" opacity="0.21"/>
<path d="M267.3 229.5 L266.4 225.6 L265.7 221.8 L265 217.9 L264.4 214 L263.8 210.1 L263.4 206.3 L263 202.4 L262.7 198.5 L262.5 194.7 L262.4 190.8 L262.3 186.9 L262.3 183 L262.4 179.2 L262.5 175.3 L262.8 171.4 L263.1 167.6 L263.4 163.7 L263.9 159.8 L264.4 155.9 L265 152.1 L265.7 148.2 L266.5 144.3 L267.4 140.5 L268.3 136.6" fill="none" stroke="#4ad4f6" stroke-width="1.8" opacity="0.21"/>
<path d="M286.6 272.2 L283.6 266.2 L280.9 260.3 L278.5 254.3 L276.4 248.4 L274.5 242.4 L272.8 236.5 L271.4 230.5 L270.1 224.6 L269 218.6 L268.2 212.7 L267.5 206.7 L266.9 200.8 L266.6 194.8 L266.4 188.9 L266.4 182.9 L266.5 177 L266.8 171 L267.3 165.1 L268 159.1 L268.8 153.2 L269.8 147.2 L271.1 141.3 L272.5 135.3 L274.1 129.4" fill="none" stroke="#4ad4f6" stroke-width="1.6" opacity="0.33"/>
<path d="M289.4 266.8 L287 261 L284.9 255.3 L282.9 249.5 L281.2 243.8 L279.7 238 L278.3 232.3 L277.1 226.5 L276.1 220.8 L275.3 215 L274.6 209.3 L274 203.5 L273.6 197.8 L273.4 192 L273.3 186.3 L273.3 180.5 L273.5 174.8 L273.9 169 L274.4 163.3 L275 157.5 L275.8 151.8 L276.7 146 L277.8 140.3 L279.1 134.5 L280.6 128.8" fill="none" stroke="#1c98e6" stroke-width="2.3" opacity="0.30"/>
<path d="M317.2 304.3 L308.8 294.3 L302.2 284.4 L296.9 274.5 L292.5 264.6 L288.9 254.7 L285.9 244.7 L283.5 234.8 L281.6 224.9 L280.1 215 L279.1 205 L278.5 195.1 L278.3 185.2 L278.5 175.3 L279.1 165.4 L280.1 155.4 L281.6 145.5 L283.5 135.6 L285.9 125.7 L288.9 115.7 L292.5 105.8 L296.9 95.9 L302.2 86 L308.8 76.1 L317.2 66.1" fill="none" stroke="#1c98e6" stroke-width="2.3" opacity="0.41"/>
<path d="M319 304.3 L311 294.3 L304.8 284.4 L299.7 274.5 L295.5 264.6 L292.1 254.7 L289.2 244.7 L286.9 234.8 L285.1 224.9 L283.7 215 L282.7 205 L282.1 195.1 L281.9 185.2 L282.1 175.3 L282.7 165.4 L283.7 155.4 L285.1 145.5 L286.9 135.6 L289.2 125.7 L292.1 115.7 L295.5 105.8 L299.7 95.9 L304.8 86 L311 76.1 L319 66.1" fill="none" stroke="#4ad4f6" stroke-width="1.8" opacity="0.53"/>
<path d="M321.4 304.3 L314 294.3 L308.1 284.4 L303.4 274.5 L299.5 264.6 L296.3 254.7 L293.6 244.7 L291.5 234.8 L289.7 224.9 L288.4 215 L287.5 205 L287 195.1 L286.8 185.2 L287 175.3 L287.5 165.4 L288.4 155.4 L289.7 145.5 L291.5 135.6 L293.6 125.7 L296.3 115.7 L299.5 105.8 L303.4 95.9 L308.1 86 L314 76.1 L321.4 66.1" fill="none" stroke="#4ad4f6" stroke-width="2.6" opacity="0.42"/>
<path d="M323.6 304.3 L316.6 294.3 L311.1 284.4 L306.7 274.5 L303.1 264.6 L300 254.7 L297.5 244.7 L295.5 234.8 L293.9 224.9 L292.7 215 L291.8 205 L291.3 195.1 L291.1 185.2 L291.3 175.3 L291.8 165.4 L292.7 155.4 L293.9 145.5 L295.5 135.6 L297.5 125.7 L300 115.7 L303.1 105.8 L306.7 95.9 L311.1 86 L316.6 76.1 L323.6 66.1" fill="none" stroke="#4ad4f6" stroke-width="1.2" opacity="0.39"/>
<path d="M325.7 304.3 L319.2 294.3 L314 284.4 L309.9 274.5 L306.5 264.6 L303.7 254.7 L301.3 244.7 L299.4 234.8 L297.9 224.9 L296.8 215 L296 205 L295.5 195.1 L295.3 185.2 L295.5 175.3 L296 165.4 L296.8 155.4 L297.9 145.5 L299.4 135.6 L301.3 125.7 L303.7 115.7 L306.5 105.8 L309.9 95.9 L314 86 L319.2 76.1 L325.7 66.1" fill="none" stroke="#4ad4f6" stroke-width="3.3" opacity="0.22"/>
<path d="M329 304.3 L323.1 294.3 L318.6 284.4 L314.9 274.5 L311.8 264.6 L309.3 254.7 L307.2 244.7 L305.5 234.8 L304.2 224.9 L303.1 215 L302.4 205 L302 195.1 L301.9 185.2 L302 175.3 L302.4 165.4 L303.1 155.4 L304.2 145.5 L305.5 135.6 L307.2 125.7 L309.3 115.7 L311.8 105.8 L314.9 95.9 L318.6 86 L323.1 76.1 L329 66.1" fill="none" stroke="#4ad4f6" stroke-width="1.6" opacity="0.25"/>
<path d="M316.9 262.1 L315.4 255.1 L314.1 248.2 L312.9 241.2 L311.9 234.2 L311.1 227.2 L310.4 220.2 L309.8 213.3 L309.4 206.3 L309.1 199.3 L308.9 192.3 L308.8 185.3 L308.9 178.3 L309 171.4 L309.4 164.4 L309.8 157.4 L310.3 150.4 L311 143.4 L311.9 136.4 L312.9 129.5 L314 122.5 L315.3 115.5 L316.8 108.5 L318.6 101.5 L320.5 94.5" fill="none" stroke="#4ad4f6" stroke-width="1.2" opacity="0.46"/>
<path d="M317.5 238.2 L316.8 232.6 L316.2 227.1 L315.7 221.6 L315.3 216.1 L314.9 210.5 L314.7 205 L314.5 199.5 L314.3 194 L314.2 188.4 L314.2 182.9 L314.3 177.4 L314.4 171.8 L314.6 166.3 L314.9 160.8 L315.2 155.3 L315.6 149.7 L316.1 144.2 L316.7 138.7 L317.3 133.2 L318.1 127.6 L318.9 122.1 L319.8 116.6 L320.8 111.1 L322 105.5" fill="none" stroke="#4ad4f6" stroke-width="1.7" opacity="0.50"/>
<path d="M337.8 304.3 L333.9 294.3 L330.8 284.4 L328.3 274.5 L326.2 264.6 L324.5 254.7 L323.1 244.7 L322 234.8 L321.1 224.9 L320.4 215 L319.9 205 L319.6 195.1 L319.5 185.2 L319.6 175.3 L319.9 165.4 L320.4 155.4 L321.1 145.5 L322 135.6 L323.1 125.7 L324.5 115.7 L326.2 105.8 L328.3 95.9 L330.8 86 L333.9 76.1 L337.8 66.1" fill="none" stroke="#1c98e6" stroke-width="2.6" opacity="0.20"/>
<path d="M328.8 242.7 L328.3 237.4 L327.9 232.1 L327.5 226.9 L327.1 221.6 L326.8 216.3 L326.6 211.1 L326.4 205.8 L326.2 200.5 L326.1 195.2 L326.1 190 L326 184.7 L326.1 179.4 L326.1 174.2 L326.3 168.9 L326.4 163.6 L326.6 158.4 L326.9 153.1 L327.2 147.8 L327.5 142.6 L327.9 137.3 L328.4 132 L328.9 126.8 L329.5 121.5 L330.1 116.2" fill="none" stroke="#4ad4f6" stroke-width="2.7" opacity="0.31"/>
<path d="M336.6 257.4 L336 251.6 L335.5 245.9 L335.1 240.1 L334.7 234.4 L334.3 228.7 L334 222.9 L333.8 217.2 L333.6 211.4 L333.4 205.7 L333.3 199.9 L333.2 194.2 L333.2 188.5 L333.2 182.7 L333.2 177 L333.3 171.2 L333.4 165.5 L333.6 159.7 L333.8 154 L334 148.3 L334.3 142.5 L334.6 136.8 L335 131 L335.5 125.3 L335.9 119.5" fill="none" stroke="#1c98e6" stroke-width="2.4" opacity="0.20"/>
<path d="M347.3 304.3 L345.4 294.3 L343.9 284.4 L342.7 274.5 L341.7 264.6 L340.9 254.7 L340.2 244.7 L339.6 234.8 L339.2 224.9 L338.9 215 L338.6 205 L338.5 195.1 L338.4 185.2 L338.5 175.3 L338.6 165.4 L338.9 155.4 L339.2 145.5 L339.6 135.6 L340.2 125.7 L340.9 115.7 L341.7 105.8 L342.7 95.9 L343.9 86 L345.4 76.1 L347.3 66.1" fill="none" stroke="#4ad4f6" stroke-width="1.7" opacity="0.47"/>
<path d="M349 297.5 L348.1 289.5 L347.3 281.6 L346.6 273.6 L346.1 265.7 L345.6 257.7 L345.2 249.8 L344.8 241.8 L344.6 233.9 L344.3 225.9 L344.1 218 L344 210 L343.8 202.1 L343.8 194.2 L343.8 186.2 L343.8 178.3 L343.8 170.3 L343.9 162.4 L344.1 154.4 L344.3 146.5 L344.5 138.5 L344.8 130.6 L345.1 122.6 L345.5 114.7 L346 106.7" fill="none" stroke="#4ad4f6" stroke-width="1.6" opacity="0.16"/>
<path d="M353 304.3 L352.3 294.3 L351.7 284.4 L351.3 274.5 L351 264.6 L350.7 254.7 L350.4 244.7 L350.2 234.8 L350.1 224.9 L350 215 L349.9 205 L349.8 195.1 L349.8 185.2 L349.8 175.3 L349.9 165.4 L350 155.4 L350.1 145.5 L350.2 135.6 L350.4 125.7 L350.7 115.7 L351 105.8 L351.3 95.9 L351.7 86 L352.3 76.1 L353 66.1" fill="none" stroke="#4ad4f6" stroke-width="2.5" opacity="0.32"/>
<path d="M355.4 304.3 L355.2 294.3 L355.1 284.4 L355 274.5 L354.9 264.6 L354.8 254.7 L354.7 244.7 L354.7 234.8 L354.7 224.9 L354.6 215 L354.6 205 L354.6 195.1 L354.6 185.2 L354.6 175.3 L354.6 165.4 L354.6 155.4 L354.7 145.5 L354.7 135.6 L354.7 125.7 L354.8 115.7 L354.9 105.8 L355 95.9 L355.1 86 L355.2 76.1 L355.4 66.1" fill="none" stroke="#4ad4f6" stroke-width="2.4" opacity="0.39"/>
<path d="M357.2 300.9 L357.4 293.7 L357.5 286.4 L357.6 279.1 L357.7 271.9 L357.8 264.6 L357.9 257.4 L357.9 250.1 L358 242.8 L358 235.6 L358.1 228.3 L358.1 221.1 L358.1 213.8 L358.2 206.5 L358.2 199.3 L358.2 192 L358.2 184.8 L358.2 177.5 L358.2 170.2 L358.2 163 L358.1 155.7 L358.1 148.4 L358.1 141.2 L358 133.9 L358 126.7" fill="none" stroke="#4ad4f6" stroke-width="3.3" opacity="0.27"/>
<path d="M362 281.4 L362.4 274.4 L362.8 267.4 L363.1 260.4 L363.3 253.4 L363.5 246.4 L363.7 239.5 L363.9 232.5 L364 225.5 L364.2 218.5 L364.3 211.5 L364.3 204.5 L364.4 197.5 L364.4 190.5 L364.4 183.6 L364.4 176.6 L364.4 169.6 L364.3 162.6 L364.2 155.6 L364.1 148.6 L364 141.6 L363.8 134.6 L363.6 127.7 L363.4 120.7 L363.2 113.7" fill="none" stroke="#4ad4f6" stroke-width="2.6" opacity="0.54"/>
<path d="M365.3 285.3 L365.9 279.3 L366.4 273.3 L366.9 267.4 L367.3 261.4 L367.6 255.4 L368 249.4 L368.3 243.5 L368.5 237.5 L368.7 231.5 L368.9 225.5 L369.1 219.6 L369.2 213.6 L369.3 207.6 L369.4 201.6 L369.5 195.7 L369.5 189.7 L369.5 183.7 L369.5 177.7 L369.5 171.8 L369.4 165.8 L369.3 159.8 L369.2 153.8 L369 147.9 L368.8 141.9" fill="none" stroke="#4ad4f6" stroke-width="1.8" opacity="0.16"/>
<path d="M372 226.5 L372.2 221.7 L372.3 216.9 L372.5 212 L372.6 207.2 L372.7 202.4 L372.7 197.5 L372.8 192.7 L372.8 187.9 L372.8 183 L372.8 178.2 L372.7 173.4 L372.7 168.5 L372.6 163.7 L372.5 158.8 L372.3 154 L372.2 149.2 L372 144.3 L371.8 139.5 L371.6 134.7 L371.4 129.8 L371.1 125 L370.8 120.2 L370.5 115.3 L370.1 110.5" fill="none" stroke="#4ad4f6" stroke-width="3.0" opacity="0.43"/>
<path d="M375.2 265.8 L375.8 260.5 L376.4 255.2 L376.9 249.9 L377.3 244.6 L377.8 239.3 L378.1 234.1 L378.4 228.8 L378.7 223.5 L379 218.2 L379.2 212.9 L379.3 207.7 L379.5 202.4 L379.6 197.1 L379.6 191.8 L379.7 186.5 L379.6 181.2 L379.6 176 L379.5 170.7 L379.4 165.4 L379.3 160.1 L379.1 154.8 L378.8 149.6 L378.6 144.3 L378.3 139" fill="none" stroke="#4ad4f6" stroke-width="3.2" opacity="0.27"/>
<path d="M381.7 260.6 L382.7 253.9 L383.5 247.1 L384.2 240.3 L384.8 233.5 L385.3 226.7 L385.8 220 L386.1 213.2 L386.4 206.4 L386.6 199.6 L386.7 192.8 L386.8 186 L386.7 179.3 L386.6 172.5 L386.4 165.7 L386.2 158.9 L385.9 152.1 L385.4 145.4 L384.9 138.6 L384.3 131.8 L383.7 125 L382.9 118.2 L382 111.5 L380.9 104.7 L379.8 97.9" fill="none" stroke="#4ad4f6" stroke-width="1.4" opacity="0.17"/>
<path d="M373.1 304.3 L376.7 294.3 L379.6 284.4 L381.9 274.5 L383.8 264.6 L385.4 254.7 L386.7 244.7 L387.7 234.8 L388.6 224.9 L389.2 215 L389.6 205 L389.9 195.1 L390 185.2 L389.9 175.3 L389.6 165.4 L389.2 155.4 L388.6 145.5 L387.7 135.6 L386.7 125.7 L385.4 115.7 L383.8 105.8 L381.9 95.9 L379.6 86 L376.7 76.1 L373.1 66.1" fill="none" stroke="#4ad4f6" stroke-width="2.6" opacity="0.40"/>
<path d="M376.6 304.3 L381 294.3 L384.5 284.4 L387.2 274.5 L389.5 264.6 L391.4 254.7 L393 244.7 L394.3 234.8 L395.3 224.9 L396.1 215 L396.6 205 L396.9 195.1 L397.1 185.2 L396.9 175.3 L396.6 165.4 L396.1 155.4 L395.3 145.5 L394.3 135.6 L393 125.7 L391.4 115.7 L389.5 105.8 L387.2 95.9 L384.5 86 L381 76.1 L376.6 66.1" fill="none" stroke="#4ad4f6" stroke-width="2.3" opacity="0.41"/>
<path d="M379 304.3 L383.9 294.3 L387.8 284.4 L390.9 274.5 L393.4 264.6 L395.6 254.7 L397.3 244.7 L398.8 234.8 L399.9 224.9 L400.7 215 L401.4 205 L401.7 195.1 L401.8 185.2 L401.7 175.3 L401.4 165.4 L400.7 155.4 L399.9 145.5 L398.8 135.6 L397.3 125.7 L395.6 115.7 L393.4 105.8 L390.9 95.9 L387.8 86 L383.9 76.1 L379 66.1" fill="none" stroke="#4ad4f6" stroke-width="2.6" opacity="0.25"/>
<path d="M399.1 253.2 L400.3 246.9 L401.4 240.6 L402.3 234.4 L403.1 228.1 L403.8 221.8 L404.3 215.6 L404.8 209.3 L405.1 203 L405.4 196.7 L405.5 190.5 L405.5 184.2 L405.5 177.9 L405.3 171.6 L405 165.4 L404.7 159.1 L404.2 152.8 L403.6 146.6 L402.8 140.3 L402 134 L401 127.7 L399.9 121.5 L398.7 115.2 L397.2 108.9 L395.6 102.7" fill="none" stroke="#1c98e6" stroke-width="1.9" opacity="0.16"/>
<path d="M382.7 304.3 L388.4 294.3 L392.9 284.4 L396.5 274.5 L399.5 264.6 L402 254.7 L404 244.7 L405.6 234.8 L407 224.9 L408 215 L408.7 205 L409.1 195.1 L409.2 185.2 L409.1 175.3 L408.7 165.4 L408 155.4 L407 145.5 L405.6 135.6 L404 125.7 L402 115.7 L399.5 105.8 L396.5 95.9 L392.9 86 L388.4 76.1 L382.7 66.1" fill="none" stroke="#4ad4f6" stroke-width="1.9" opacity="0.31"/>
<path d="M385.8 304.3 L392.3 294.3 L397.3 284.4 L401.3 274.5 L404.6 264.6 L407.4 254.7 L409.7 244.7 L411.5 234.8 L413 224.9 L414.1 215 L414.9 205 L415.4 195.1 L415.6 185.2 L415.4 175.3 L414.9 165.4 L414.1 155.4 L413 145.5 L411.5 135.6 L409.7 125.7 L407.4 115.7 L404.6 105.8 L401.3 95.9 L397.3 86 L392.3 76.1 L385.8 66.1" fill="none" stroke="#1c98e6" stroke-width="2.7" opacity="0.23"/>
<path d="M388.9 304.3 L396 294.3 L401.5 284.4 L405.9 274.5 L409.6 264.6 L412.7 254.7 L415.2 244.7 L417.2 234.8 L418.9 224.9 L420.1 215 L421 205 L421.5 195.1 L421.6 185.2 L421.5 175.3 L421 165.4 L420.1 155.4 L418.9 145.5 L417.2 135.6 L415.2 125.7 L412.7 115.7 L409.6 105.8 L405.9 95.9 L401.5 86 L396 76.1 L388.9 66.1" fill="none" stroke="#4ad4f6" stroke-width="2.3" opacity="0.27"/>
<path d="M415.5 258.5 L417.7 251.3 L419.5 244 L421.2 236.8 L422.5 229.6 L423.7 222.4 L424.6 215.1 L425.3 207.9 L425.9 200.7 L426.2 193.5 L426.3 186.2 L426.2 179 L426 171.8 L425.5 164.5 L424.8 157.3 L424 150.1 L422.9 142.9 L421.6 135.6 L420 128.4 L418.2 121.2 L416.1 114 L413.7 106.7 L411 99.5 L407.8 92.3 L404.2 85.1" fill="none" stroke="#4ad4f6" stroke-width="2.7" opacity="0.53"/>
<path d="M392.9 304.3 L400.8 294.3 L407 284.4 L412 274.5 L416.1 264.6 L419.5 254.7 L422.4 244.7 L424.7 234.8 L426.5 224.9 L427.9 215 L428.8 205 L429.4 195.1 L429.6 185.2 L429.4 175.3 L428.8 165.4 L427.9 155.4 L426.5 145.5 L424.7 135.6 L422.4 125.7 L419.5 115.7 L416.1 105.8 L412 95.9 L407 86 L400.8 76.1 L392.9 66.1" fill="none" stroke="#4ad4f6" stroke-width="3.2" opacity="0.27"/>
<path d="M395.5 304.3 L404 294.3 L410.6 284.4 L416 274.5 L420.4 264.6 L424.1 254.7 L427.1 244.7 L429.5 234.8 L431.5 224.9 L433 215 L434 205 L434.6 195.1 L434.8 185.2 L434.6 175.3 L434 165.4 L433 155.4 L431.5 145.5 L429.5 135.6 L427.1 125.7 L424.1 115.7 L420.4 105.8 L416 95.9 L410.6 86 L404 76.1 L395.5 66.1" fill="none" stroke="#4ad4f6" stroke-width="1.3" opacity="0.20"/>
<path d="M397.5 304.3 L406.4 294.3 L413.4 284.4 L419 274.5 L423.7 264.6 L427.5 254.7 L430.7 244.7 L433.3 234.8 L435.3 224.9 L436.9 215 L438 205 L438.7 195.1 L438.9 185.2 L438.7 175.3 L438 165.4 L436.9 155.4 L435.3 145.5 L433.3 135.6 L430.7 125.7 L427.5 115.7 L423.7 105.8 L419 95.9 L413.4 86 L406.4 76.1 L397.5 66.1" fill="none" stroke="#1c98e6" stroke-width="2.3" opacity="0.16"/>
<path d="M400.6 304.3 L410.3 294.3 L417.8 284.4 L423.8 274.5 L428.8 264.6 L433 254.7 L436.4 244.7 L439.2 234.8 L441.4 224.9 L443.1 215 L444.2 205 L444.9 195.1 L445.2 185.2 L444.9 175.3 L444.2 165.4 L443.1 155.4 L441.4 145.5 L439.2 135.6 L436.4 125.7 L433 115.7 L428.8 105.8 L423.8 95.9 L417.8 86 L410.3 76.1 L400.6 66.1" fill="none" stroke="#4ad4f6" stroke-width="2.0" opacity="0.48"/>
<path d="M404.2 304.3 L414.6 294.3 L422.7 284.4 L429.3 274.5 L434.7 264.6 L439.1 254.7 L442.8 244.7 L445.8 234.8 L448.2 224.9 L450 215 L451.3 205 L452.1 195.1 L452.3 185.2 L452.1 175.3 L451.3 165.4 L450 155.4 L448.2 145.5 L445.8 135.6 L442.8 125.7 L439.1 115.7 L434.7 105.8 L429.3 95.9 L422.7 86 L414.6 76.1 L404.2 66.1" fill="none" stroke="#1c98e6" stroke-width="3.0" opacity="0.53"/>
<path d="M409.4 301.2 L418 292.8 L425 284.3 L430.9 275.8 L435.8 267.4 L440 258.9 L443.6 250.4 L446.7 242 L449.2 233.5 L451.3 225 L452.9 216.6 L454.2 208.1 L455 199.6 L455.5 191.2 L455.5 182.7 L455.2 174.2 L454.5 165.8 L453.5 157.3 L452 148.8 L450.1 140.4 L447.8 131.9 L444.9 123.4 L441.6 115 L437.6 106.5 L433 98" fill="none" stroke="#4ad4f6" stroke-width="2.1" opacity="0.42"/>
<path d="M452.4 238 L454.3 231.8 L455.8 225.6 L457.2 219.4 L458.3 213.2 L459.1 207 L459.8 200.8 L460.2 194.6 L460.4 188.3 L460.4 182.1 L460.2 175.9 L459.8 169.7 L459.1 163.5 L458.3 157.3 L457.2 151.1 L455.9 144.9 L454.3 138.7 L452.5 132.4 L450.4 126.2 L448 120 L445.3 113.8 L442.2 107.6 L438.8 101.4 L435 95.2 L430.6 89" fill="none" stroke="#4ad4f6" stroke-width="2.5" opacity="0.28"/>
<path d="M410.5 304.3 L422.2 294.3 L431.4 284.4 L438.8 274.5 L444.9 264.6 L450 254.7 L454.1 244.7 L457.5 234.8 L460.2 224.9 L462.3 215 L463.7 205 L464.6 195.1 L464.9 185.2 L464.6 175.3 L463.7 165.4 L462.3 155.4 L460.2 145.5 L457.5 135.6 L454.1 125.7 L450 115.7 L444.9 105.8 L438.8 95.9 L431.4 86 L422.2 76.1 L410.5 66.1" fill="none" stroke="#4ad4f6" stroke-width="2.7" opacity="0.41"/>
<path d="M452.7 257.5 L455.3 252.1 L457.7 246.8 L459.8 241.4 L461.6 236.1 L463.3 230.7 L464.7 225.4 L466 220.1 L467.1 214.7 L467.9 209.4 L468.6 204 L469.2 198.7 L469.5 193.3 L469.7 188 L469.7 182.6 L469.5 177.3 L469.2 172 L468.7 166.6 L468 161.3 L467.1 155.9 L466 150.6 L464.8 145.2 L463.4 139.9 L461.7 134.5 L459.8 129.2" fill="none" stroke="#4ad4f6" stroke-width="2.8" opacity="0.47"/>
<path d="M461.7 251.1 L464.8 244.1 L467.5 237.2 L469.8 230.3 L471.7 223.3 L473.3 216.4 L474.6 209.4 L475.5 202.5 L476.1 195.5 L476.4 188.6 L476.4 181.6 L476.1 174.7 L475.5 167.7 L474.5 160.8 L473.3 153.8 L471.7 146.9 L469.7 139.9 L467.4 133 L464.7 126 L461.6 119.1 L458 112.1 L453.9 105.2 L449.3 98.2 L444 91.3 L437.9 84.3" fill="none" stroke="#4ad4f6" stroke-width="2.8" opacity="0.45"/>
<path d="M426.3 298.6 L434.9 291.5 L442.1 284.4 L448.3 277.3 L453.7 270.2 L458.4 263.1 L462.5 256 L466.1 248.9 L469.3 241.8 L471.9 234.7 L474.2 227.6 L476.1 220.4 L477.6 213.3 L478.8 206.2 L479.6 199.1 L480.1 192 L480.3 184.9 L480.1 177.8 L479.6 170.7 L478.7 163.6 L477.5 156.5 L476 149.4 L474.1 142.3 L471.8 135.2 L469 128.1" fill="none" stroke="#4ad4f6" stroke-width="1.3" opacity="0.32"/>
<path d="M421.1 304.3 L435.2 294.3 L446.1 284.4 L454.9 274.5 L462.2 264.6 L468.3 254.7 L473.3 244.7 L477.3 234.8 L480.6 224.9 L483 215 L484.7 205 L485.8 195.1 L486.1 185.2 L485.8 175.3 L484.7 165.4 L483 155.4 L480.6 145.5 L477.3 135.6 L473.3 125.7 L468.3 115.7 L462.2 105.8 L454.9 95.9 L446.1 86 L435.2 76.1 L421.1 66.1" fill="none" stroke="#4ad4f6" stroke-width="1.8" opacity="0.24"/>
<path d="M422.9 304.3 L437.3 294.3 L448.5 284.4 L457.6 274.5 L465.1 264.6 L471.4 254.7 L476.5 244.7 L480.6 234.8 L484 224.9 L486.5 215 L488.2 205 L489.3 195.1 L489.6 185.2 L489.3 175.3 L488.2 165.4 L486.5 155.4 L484 145.5 L480.6 135.6 L476.5 125.7 L471.4 115.7 L465.1 105.8 L457.6 95.9 L448.5 86 L437.3 76.1 L422.9 66.1" fill="none" stroke="#4ad4f6" stroke-width="3.0" opacity="0.25"/>
<path d="M426.4 304.3 L441.6 294.3 L453.5 284.4 L463.1 274.5 L471 264.6 L477.5 254.7 L482.9 244.7 L487.3 234.8 L490.8 224.9 L493.4 215 L495.3 205 L496.4 195.1 L496.8 185.2 L496.4 175.3 L495.3 165.4 L493.4 155.4 L490.8 145.5 L487.3 135.6 L482.9 125.7 L477.5 115.7 L471 105.8 L463.1 95.9 L453.5 86 L441.6 76.1 L426.4 66.1" fill="none" stroke="#4ad4f6" stroke-width="3.0" opacity="0.32"/>
<path d="M427.9 304.3 L443.5 294.3 L455.6 284.4 L465.3 274.5 L473.4 264.6 L480.1 254.7 L485.6 244.7 L490.1 234.8 L493.7 224.9 L496.4 215 L498.3 205 L499.4 195.1 L499.8 185.2 L499.4 175.3 L498.3 165.4 L496.4 155.4 L493.7 145.5 L490.1 135.6 L485.6 125.7 L480.1 115.7 L473.4 105.8 L465.3 95.9 L455.6 86 L443.5 76.1 L427.9 66.1" fill="none" stroke="#4ad4f6" stroke-width="2.8" opacity="0.17"/>
<path d="M487.2 248.8 L489.9 243.7 L492.4 238.6 L494.6 233.4 L496.5 228.3 L498.2 223.2 L499.7 218 L500.9 212.9 L502 207.8 L502.8 202.6 L503.4 197.5 L503.8 192.4 L503.9 187.2 L503.9 182.1 L503.7 177 L503.3 171.8 L502.6 166.7 L501.8 161.6 L500.7 156.4 L499.4 151.3 L497.9 146.2 L496.1 141 L494.1 135.9 L491.9 130.8 L489.4 125.6" fill="none" stroke="#4ad4f6" stroke-width="1.6" opacity="0.40"/>
<path d="M433.3 304.3 L450 294.3 L463 284.4 L473.5 274.5 L482.2 264.6 L489.4 254.7 L495.3 244.7 L500.1 234.8 L503.9 224.9 L506.9 215 L508.9 205 L510.1 195.1 L510.5 185.2 L510.1 175.3 L508.9 165.4 L506.9 155.4 L503.9 145.5 L500.1 135.6 L495.3 125.7 L489.4 115.7 L482.2 105.8 L473.5 95.9 L463 86 L450 76.1 L433.3 66.1" fill="none" stroke="#1c98e6" stroke-width="3.2" opacity="0.40"/>
<path d="M435.1 304.3 L452.1 294.3 L465.4 284.4 L476.2 274.5 L485.1 264.6 L492.4 254.7 L498.5 244.7 L503.4 234.8 L507.3 224.9 L510.3 215 L512.4 205 L513.6 195.1 L514 185.2 L513.6 175.3 L512.4 165.4 L510.3 155.4 L507.3 145.5 L503.4 135.6 L498.5 125.7 L492.4 115.7 L485.1 105.8 L476.2 95.9 L465.4 86 L452.1 76.1 L435.1 66.1" fill="none" stroke="#4ad4f6" stroke-width="2.0" opacity="0.54"/>
<path d="M438.2 304.3 L455.9 294.3 L469.8 284.4 L480.9 274.5 L490.2 264.6 L497.8 254.7 L504.1 244.7 L509.2 234.8 L513.3 224.9 L516.4 215 L518.6 205 L519.9 195.1 L520.3 185.2 L519.9 175.3 L518.6 165.4 L516.4 155.4 L513.3 145.5 L509.2 135.6 L504.1 125.7 L497.8 115.7 L490.2 105.8 L480.9 95.9 L469.8 86 L455.9 76.1 L438.2 66.1" fill="none" stroke="#1c98e6" stroke-width="2.6" opacity="0.30"/>
<path d="M513.5 239.5 L516.4 233.7 L519 227.8 L521.2 221.9 L523.1 216.1 L524.6 210.2 L525.8 204.3 L526.6 198.4 L527.2 192.6 L527.4 186.7 L527.4 180.8 L527 175 L526.3 169.1 L525.2 163.2 L523.9 157.3 L522.2 151.5 L520.2 145.6 L517.8 139.7 L515 133.9 L511.9 128 L508.3 122.1 L504.3 116.3 L499.8 110.4 L494.8 104.5 L489.2 98.6" fill="none" stroke="#4ad4f6" stroke-width="3.1" opacity="0.33"/>
<path d="M444.3 304.3 L463.4 294.3 L478.2 284.4 L490.3 274.5 L500.2 264.6 L508.4 254.7 L515.1 244.7 L520.6 234.8 L525 224.9 L528.4 215 L530.7 205 L532.1 195.1 L532.5 185.2 L532.1 175.3 L530.7 165.4 L528.4 155.4 L525 145.5 L520.6 135.6 L515.1 125.7 L508.4 115.7 L500.2 105.8 L490.3 95.9 L478.2 86 L463.4 76.1 L444.3 66.1" fill="none" stroke="#4ad4f6" stroke-width="2.7" opacity="0.44"/>
<path d="M447.3 304.3 L467 294.3 L482.3 284.4 L494.8 274.5 L505 264.6 L513.5 254.7 L520.5 244.7 L526.2 234.8 L530.7 224.9 L534.2 215 L536.6 205 L538 195.1 L538.5 185.2 L538 175.3 L536.6 165.4 L534.2 155.4 L530.7 145.5 L526.2 135.6 L520.5 125.7 L513.5 115.7 L505 105.8 L494.8 95.9 L482.3 86 L467 76.1 L447.3 66.1" fill="none" stroke="#4ad4f6" stroke-width="1.7" opacity="0.20"/>
<path d="M509 263.4 L514.1 257.7 L518.6 251.9 L522.7 246.2 L526.3 240.5 L529.5 234.7 L532.3 229 L534.7 223.3 L536.8 217.5 L538.5 211.8 L539.8 206.1 L540.9 200.3 L541.6 194.6 L541.9 188.9 L542 183.1 L541.7 177.4 L541.1 171.7 L540.2 165.9 L538.9 160.2 L537.3 154.5 L535.3 148.7 L533 143 L530.3 137.3 L527.3 131.6 L523.8 125.8" fill="none" stroke="#1c98e6" stroke-width="3.4" opacity="0.40"/>
<path d="M537.4 231.9 L539.8 226.6 L542 221.4 L543.8 216.2 L545.4 211 L546.6 205.8 L547.6 200.6 L548.3 195.3 L548.7 190.1 L548.8 184.9 L548.6 179.7 L548.2 174.5 L547.5 169.3 L546.5 164.1 L545.2 158.8 L543.6 153.6 L541.8 148.4 L539.6 143.2 L537.1 138 L534.2 132.8 L531 127.6 L527.5 122.3 L523.5 117.1 L519.1 111.9 L514.3 106.7" fill="none" stroke="#4ad4f6" stroke-width="2.9" opacity="0.47"/>
<path d="M456 304.3 L477.5 294.3 L494.3 284.4 L508 274.5 L519.2 264.6 L528.5 254.7 L536.1 244.7 L542.4 234.8 L547.3 224.9 L551.1 215 L553.7 205 L555.3 195.1 L555.8 185.2 L555.3 175.3 L553.7 165.4 L551.1 155.4 L547.3 145.5 L542.4 135.6 L536.1 125.7 L528.5 115.7 L519.2 105.8 L508 95.9 L494.3 86 L477.5 76.1 L456 66.1" fill="none" stroke="#1c98e6" stroke-width="2.5" opacity="0.49"/>
<path d="M457.8 304.3 L479.8 294.3 L496.9 284.4 L510.7 274.5 L522.2 264.6 L531.6 254.7 L539.4 244.7 L545.8 234.8 L550.8 224.9 L554.7 215 L557.3 205 L558.9 195.1 L559.5 185.2 L558.9 175.3 L557.3 165.4 L554.7 155.4 L550.8 145.5 L545.8 135.6 L539.4 125.7 L531.6 115.7 L522.2 105.8 L510.7 95.9 L496.9 86 L479.8 76.1 L457.8 66.1" fill="none" stroke="#4ad4f6" stroke-width="2.7" opacity="0.18"/>
</g>
<g filter="url(#bl3)">
<ellipse cx="400" cy="292" rx="32" ry="14" fill="#3c78f0" opacity="0.85"/>
<ellipse cx="440" cy="270" rx="38" ry="11" fill="#3c78f0" opacity="0.55"/>
<ellipse cx="375" cy="286" rx="18" ry="12" fill="#3c78f0" opacity="0.45"/>
<ellipse cx="470" cy="280" rx="25" ry="12" fill="#3c78f0" opacity="0.4"/>
<ellipse cx="425" cy="283" rx="20" ry="10" fill="#3c78f0" opacity="0.5"/>
</g>
<path d="M236.1 93.1 224.5 105.4 226.1 105.8 226.9 107.1 229.1 106.1 229.6 107.9 230.5 111.2M231.8 120.4 245 120.4 259.9 120.4 260.3 119.8 265 121.7 269.5 123.7 271 125.3 269.6 129.6 273.7 128.4 276.8 126.7 279 125.7 282.3 125.7 284.5 123.4 285.5 122.5 286.9 122.9 286.3 124.9 286.9 125.7M228.7 142.2 231.4 141.9 234.8 143.8 237.9 143.8 239.9 143.1 241.3 146 242.8 146.8 244.7 145.8 246.2 148.8 248.1 150.8M251.5 166 252 161.7 253.4 161.7 255.5 161.7 255.1 164.2M254.8 166.1 256.4 164.4 258.5 166.7 260.3 165.5 261.8 165.4M256.3 167.6 257.6 166.9 258.5 170.5 260.7 170.6M261.4 174.6 261.9 172.5M267.7 173.7 267.9 175.3M275 168.9 273.5 170.6 273.5 174.4 276.1 175.9 278.9 177 278.7 181.9 276.4 183 276.1 190.8 272.5 189.2 269.9 185.3 267.3 184.1 265.8 183.1M287.6 174 286.3 176.6 286.8 179.2 282.8 179.9 282.2 181.9 279.6 183.6 278.7 181.9M290.9 177.3 289.7 179.2 290.2 182.7 287.6 183.5 286.8 179.2M294.3 177.7 293.7 182.2 290.2 182.7M296.9 179.5 296 182.3 293.7 182.2M264.3 189.6 266.3 191.8 269.6 187.2 269.9 185.3M276.1 190.8 272.7 194.9 272.6 197.8 275.7 197.8 276.9 199.8 278 201.9 277.4 205.7 278.2 208.4 276.7 209.4M276.9 199.8 281.6 198.4 283.9 201.7 287.4 203.5 288.2 206.6 290.2 206.8 291.2 211.4 289.7 210.7 286.1 212.3 286 214.7 282.5 214.4 281 215.4 278.9 212.3 278.2 208.4M291.2 211.4 291.3 214.4 293.7 214.7 295.5 219.1 296.6 221.1 294.5 221.4 291.3 221.3 289.2 217 286 214.7M296.6 221.1 293 225.2 298.1 229.8M293 225.2 292.9 229 292.9 230.6M281 215.4 279.8 217.6 280.5 220.9 279.7 225.6 280.2 229.5 280.3 232.8 280.6 237.5 281.3 242.1 282.1 246.1 282.3 250.7 284.2 253.3 288.4 254.4M346.5 148.6 341.5 148.6 346.5 148.6 346.4 150.9 342.8 150.9 342.7 154.2 341.4 157 337 157.4M354.3 138.9 354.8 142.9 352.2 143.4 346.5 147.2 346.5 148.6M365.3 136.4 365.1 139.4 364.2 140.9 366.5 145.1 367.2 152.8 369.4 154.1 371.8 155.4 372.9 154.8 378 156.8 383.1 158.7 383.1 159.4 383.3 164.4 381.6 166.7 381.1 168.3 382.9 172 380.6 173 377.8 173.3 377.2 174.6 374.4 175.3 373.8 175.3 372.7 177 372.7 179.9 374.4 182.3 374.5 183 372.7 182.3 369 182.3 367.3 182.2M368.6 141.4 368.7 144.8 367.1 144.8 366.5 145.1M383.4 143.4 384.1 156.1 397.4 156.1M384.1 156.1 383.1 158.7 383.1 159.4M342.7 154.2 349.4 154.1 350.4 163.4 343.1 165.4 342.3 165.8 337.1 168.7M349.4 154.1 357.2 157.4 360.8 159.8 360.6 163.4 357.6 165.1 350.4 163.4M360.8 159.8 369.5 154.1M360.6 163.4 360.2 169.7 357.1 170.6 355.9 170.5 352.8 170.6 349.9 171.4 346.8 171.3 346.4 175 347.5 179.4M352.8 170.6 353 172.6 353.2 178.3M357.1 170.6 356.7 174.6 357.5 177.1M360.2 169.7 359.2 174 359.2 176.9M360.2 169.7 371.4 167.3 372 168.3 372.6 169.3 371.5 172 370.4 174 365.9 179M371.4 167.3 373.6 164 372.9 154.8M343.1 165.4 342 168.5 344.7 169.6 346.8 171.3M340.7 172.6 344.1 174 344.4 175.7 343 176.1M346.4 175 344.4 175.7M381.1 168.3 381.6 166.7 383.3 164.4M383.1 158.7 383.3 164.4 387.4 170.6 389.2 172.5 393.1 169.1 394.9 172.6 397 168.7 397.5 166.3 397.9 162.4 399.5 161.4M382.9 172 384.6 171.7 387.4 170.6M389.2 172.5 387.6 178.6 391.4 180.6 394.5 180.2 396.2 179.2 397.2 178.6M397 168.7 401.5 166 403.2 166M397.2 178.6 399.6 180.4 403 179.9 404.2 179.6 407.6 178.6 410.7 174.6 406.3 173.3 404.7 170.6M403 179.9 403.1 187.4 404 186.5M397.2 178.6 395 179.6 394.9 186.5 399 189.8 401 191.3M394.9 186.5 391 186.5 390 187.1 389.3 188.9 390.8 190.5 391.3 195.8 393.9 197.8 395.4 200.5 396.2 200.4 402.2 199.1M391.4 180.6 387.6 178.6 385.9 178.6 384.7 178.2 381.9 179.5 377.3 180.6 374.4 182.3M391.4 180.6 390 187.1M370.1 192.9 375 192.9 376.7 195.5 381 194.9 381.2 199.8 383.4 199.8 385.1 200 388 201.3 389.6 202.8 389.8 201.3 388.5 197.1 389.8 193.1 389.5 189.2 390 187.1M369.4 207.7 371.4 208 377 208.2 382.6 208.7 384.7 208.7 387.8 206.4 390.5 205.8 393.4 207.2 393 210.3 391.9 214.7 391.1 214.8 389 214.4 387.4 215.4 386 217.9 384.4 219.2 381.6 218.9 378.4 218 378.1 222.8 374.3 223M381.2 199.8 383.4 202.4 381 206.6 382.6 208.7M378.4 218 378.5 214.3 379.8 209 382.6 208.7M387.8 206.4 387.9 202M396.2 200.4 395.5 203.7 396.3 206.4 393.4 207.2M391.1 214.8 391.5 220.7 392.5 220.7M358 129 354.2 127.8M349.6 130.2 348.9 129.8 347.5 129.6 346.9 129.6M349.6 130.2 348.7 132.9 348.1 135.6M358.6 117.6 360.3 119.2 362.2 119.7 363.8 120.4 364.4 121.7 363.8 122.2 363 122.6 362.3 124.1 363.3 124.5 363.9 126.9M363.8 122.2 365.8 122.4 366.8 123.3 368.7 122.1 369.3 122.4 369.3 120.8 371.3 120.4 373.2 120.9 375 119.7 378.8 120.2 380.1 118 379.3 115.7 379.1 113.9 378.4 113.2M362.1 116.7 362.3 117.7 362.1 118.9M363 114.7 363 116.1 362.1 116.7M365.4 112.7 364.5 112.6M370 113.9 370.5 115.7 371.1 117.6 368.2 118.7 369.3 120.8M373.2 120.9 373.4 121.7 372.9 122.4 372.8 123.3 372.1 123.7 370.1 123.7 368.7 122.1M373.4 121.7 375.2 122 379 121.4 377.7 124.1 375.4 124.5 373 123.7M379 121.4 381 121.8 383.1 121.3 385.1 124.3 385 125 386.6 125.4M377.7 124.1 379.4 126.2 382.1 127.4 384.1 126.9 385.8 127.4M379.4 126.2 379.5 129.2 380.2 130.6 383.7 130 385.4 129.6M376.4 129.8 377.8 131 378.2 131.8 377.5 132.7M372 124.5 374.1 124.5 376.2 125.4 376.1 127.5 375.4 129M379.5 129.2 377.7 129.8 376.4 129.8M379.1 113.9 381 113.4 381.8 111.5 383.3 110.8 382.5 109.1 382.4 106.5M381.8 111.5 380.2 110.8 376.4 111M380.2 110.8 379.3 109.5M380.1 118 381.9 116.5 386.5 117.1 387.6 116.3 390.4 117.3 391.5 118.4 394.5 119.2 396.4 119.6 396.5 122 395.1 122.9M383.3 110.8 386.6 111.8 387.6 116.3M385.1 124.3 387 124.6M380.5 93.9 381.5 96.7 383.3 100.9 384.8 102 382 105.2M380.5 93.9 378.2 93 376.8 94.4 374.1 93.9 373.4 94.8 371.8 95.9 370.3 98.5 368.2 99.7 367.2 104.5 367.8 105.8 366.9 107.1M373.4 94.8 376.9 97.9 377.4 98.1M383.6 130 385.4 129.6M394.9 136.8 395.8 136.8 398.9 136.3 401.4 136.1 404 136 403.1 133.1 401.3 130.8 399.8 130.3M394.6 137.8 395.7 139.7 398.2 141 400.4 139.7 401.4 136.1M394.6 141.3 395 141.1 395.7 139.7M394.4 146.2 395.7 145.8 397.2 144.8 397.6 143.5 398.6 142.9 400.4 139.7M398.6 142.9 402.8 143.5 405.3 146.6 407.2 146.7 408.7 147.5 409.4 147.4M395.7 145.8 397.7 144.2 398.6 142.9 400.2 143M401.3 130.8 405.1 131 407.1 129.9 404.6 125.7M405.1 131 403.5 132.7 403.1 133.1M404 136 405 137.7 405.7 138.9 405.4 140.2 408.6 144.3 409.3 145.5M407.1 129.9 409.8 129.6 411.6 129.6M411 131.6 416.9 134.9 421 136.9 422 138.1 423.9 137.8 425.6 136 428.7 136.1 430.9 135.5 432.8 136.9 435.9 136.3 432.4 137.6 433 140.2 431.4 140.5 432.5 143.5 429.1 145.6 424.2 146.2 424.3 150.1 424.8 152.1M422 138.1 422 139.8 422.6 146.4 423.1 146.2M433 140.2 436.1 139.6 438.3 142.2 437.7 144.2 437.4 146.2 435 148.4 433.4 148.8 434.2 152.1 432.2 153.8M438.3 142.2 441.5 141.9 442.5 144.2 445 145.5 447.6 146.2 449.8 147.6 453.2 148.3 454.3 148.2 457.7 148.4 461.6 146.3 463.4 147.9 464.5 152.1 462 153.6 460.6 155.7 460.1 157.3M453.2 148.3 453.7 150.1 454.8 150.8 455.7 150.8M454.8 150.8 455.6 151.7 454.4 153.2 455.8 156.1 457.4 156.1M464.5 152.1 466 152.8 466.5 155.4 468.2 156.6 469.4 156.8M469.4 156.8 470 155.6 471.3 155.4 473.7 154.4 475.4 155 477.1 156.6M468.2 156.6 469.1 158.6 466.4 160.7 468 163.6 467.8 165.4 469.2 171.3M469.1 158.6 471.2 161.4 474.4 162.2 475.6 164 476.2 166.5 473.2 166.3 472.8 169.3M473.5 158.3 472.7 160.1 474.5 160.7 476.4 162.3M476.2 166.5 478 165.9 477.8 168.9 475.8 171.3 475.6 172M423.2 112 427.6 113.8 430.9 113.5 432.7 114.4 436 117.7 439 117.7 442.2 119.7 444.2 120.1 446.2 118.4 448.2 118.3 451.5 119.1 453.3 116.4 457.7 117.3 464.9 119.7 468.1 120 470.5 118.8 473.2 119.1 474 115.3 475.5 114.6 479.2 115 483.9 119.4 489.4 122.1 493 121.2 493.5 125.7 491.7 125.9 492.7 129.1M444.2 120.1 449.3 123.7 455.6 126.6 460.6 128.8 466.3 130.2 471.7 127.8 471.5 125.5 475.5 123.7 477.9 122.4 473.2 119.1M423.2 112 419.5 113 415.9 113.9 416.1 116.4 411.1 118.3 407.3 117.1 404.3 119.1 403.9 121.7 405.8 123.7 404.6 125.7M444.2 120.1 443 123 441.1 125 439.3 125.8 440.1 129.4 438.2 130.8 434.8 131.9 434.2 132.9 435.9 136.3M440.1 129.4 436.4 128.3 433.4 128 430.4 129.2 430.3 131 433.4 132.5 434.2 132.9M430.4 129.2 428.6 130.6 425.8 129.6 423.7 127.7 419.3 126.3 416.4 125 413.9 125.7 414.9 130.6 416 130.6 417.3 129 419 129.6 420.3 131 422.3 132.8 424.7 133.9 427.2 135.7M430.3 131 428.7 132.9 428.9 136.3M488.3 132.8 488.8 131 490.8 130.3 490.8 129.6 492.7 129.1M490.8 135.3 491.9 134.5 492.6 134.1M517.6 188.6 517 197.2M481.8 182.6 483.8 183.9 487.3 183.2 488.3 180.3 489.5 179.5 490.8 179.6" fill="none" stroke="#000" stroke-width="0.55" opacity="0.7" stroke-linejoin="round"/>
<path d="M206.7 98.4 212 96.6 213.5 96.7 212.1 94.8 213.5 94 220.2 92.2 225.6 90.7 228.6 91.5 231 92.2 236.1 93.1 240.7 93.7 246.9 92.6 248.9 91.8 250.4 93.4 253.5 93.7 256.2 95.5 261.7 95.2 263.9 94.6 268.4 95.5 272.8 94.8 276.5 92.6 277 90.2 278.7 91.9 279.7 94.2 283.6 92.7 286.3 93.3 284.7 96.6 280.2 97.2 277 99.9 273.7 101.5 269 104.4 267.1 107.4 267.6 109.5 271.2 111.1 276.2 112.3 275.1 115.1 275.9 117.3 277.5 117.1 278.3 115.7 278.5 113.1 281.7 111.4 283 109.1 283 107.1 283.6 104.9 285.3 102.5 288.7 102.8 291.3 104.2 290.5 107.1 292.1 108.1 294.6 106.5 295.9 105.4 296 107.8 297 110.5 297.9 112 300.1 113.5 300.9 115.7 299.8 117.2 295.9 118.8 291.4 118.8 289.3 119.2 285.5 121.7 289.5 120.2 291.2 120.6 289.9 122.4 289.9 123.9 292.9 124.6 294.5 124.1 293.2 125.4 290.9 126.2 287.6 127.7 289.6 125.3 286.9 125.7 285.6 126.6 283.1 127.5 282.3 128.8 282.7 129.9 280.9 130.6 278.1 131.5 277.6 132.9 276.4 133.9 275.3 135.9 274.5 136.4 274.7 138.6 272.9 139.6 271.1 140.5 269.7 141.5 267.8 142.9 266.9 144.8 267.3 147.5 267.5 150.1 266.7 151.9 265.9 151.7 265.5 150.1 264.7 148.2 265 146.8 264 145.5 262.2 145.9 260.8 145 259.1 145 258 145.2 257.9 146.6 256.6 146.6 255.1 146 252.9 146 250.9 147.4 248.8 148.6 248.1 150.8 247.2 153.4 246.6 155.8 246.9 158.1 247.8 159.9 249.5 161.1 252.4 160.6 253.7 159.7 254.7 157.4 257.5 156.6 258.6 156.8 257.7 159.4 256.9 160.7 256.2 163.8 257 164.3 260.4 164.2 261.7 165.4 261.1 168 260.7 170.6 262 172.2 263.6 173.6 265.4 172.6 267.1 173.3 268.2 174.1 269.4 172.6 270 171.2 271.8 170.4 273.6 169.6 275.1 168.9 276.4 169.7 278 171.3 280.9 171.2 283.2 171.2 285.4 171.2 286.5 172.6 287.6 174 288.7 175 290.7 177.3 293.2 177.4 295.5 177.9 296.9 179.5 298.2 182.8 298.8 184.5 299 185.9 300.5 187.2 303.4 186.5 305.5 188.5 308.6 189 311.4 190.2 313.5 191.7 315.7 192.3 316.3 195.1 315.9 197.1 313.9 199.8 312.3 202.4 311.9 205 311.8 208.6 310.8 212.1 310.2 214 309.2 215.5 306.9 215.6 305.4 216.7 302.5 219.2 302.5 222.5 301.4 224.2 300.2 226.9 298.6 229.5 297.8 231.1 296.2 231.4 294.7 231.4 292.9 230.6 294.5 232 294.5 233.5 295.3 233.5 294.7 235.6 292.8 236.4 290.1 236.7 290.4 238.9 287.7 239.2 289.2 240.8 288.7 241.4 288.5 243 288.5 244.7 286.8 246.1 288.8 248 287.9 250.7 287 252 288.4 254.4 287 255.1 286 256.4 284.2 255.3 282 253.3 279.6 249.4 279.8 246.7 279.6 243.4 279.6 240.8 278.2 238.1 277.8 234.4 278 232.2 278.2 228.9 277.7 224.9 277.2 220.9 277.5 217 277.2 211.7 276.7 209.4 274.7 207.7 270.5 205 269.1 202.4 267.1 198.4 265.3 195.1 263.2 193.1 263.4 191.2 264.3 189.6 263.4 188.1 264.1 185.9 264.4 184 265.8 183.1 267.4 180.3 267.7 176.6 266.7 175.3 265.3 173.7 264.1 175.5 262.4 174.4 260.5 173.8 258.5 172.1 258.3 170.6 256.9 168.1 255.5 167.7 252.2 166.7 250.2 164.3 248.2 164 246.8 164.4 244.6 163.6 242 162.3 239.4 161 237.6 158.3 238.1 156.8 237.6 155 236.4 152.8 234.9 151.1 234.1 148.4 232.7 146.8 232.5 144.5 230.9 143.3 230.5 145.5 231.6 147.5 232 150.1 233 153.1 233.8 154.5 233 154.8 232 152.8 231.6 150.8 230 148.6 230.1 146.8 229 144.8 228.7 142.2 227.9 140.2 225.8 139.4 225.4 136.8 225.4 135.2 224.7 133.6 224.8 131.8 225.9 129.6 226.7 127.7 228.8 124.1 229.7 121.2 231.3 121.3 232.3 120.4 231.1 119.1 229.2 118 229.1 116.4 229 113.5 228.7 111.8 227.7 109.8 226.6 108.1 225.2 106.4 222.3 105.8 220 104.8 217.4 104.5 214.7 106.5 214.5 105.2 210.9 107.1 209 108.7 205.9 110.1 202.3 111.5 198.6 112.4 195.2 113.2 202.2 110.5 205.8 109.1 207.7 107.5 205.5 107.8 203.1 107.5 204.1 106 203.1 104.9 203.9 103.3 206.2 101.9 209.8 101.2 211.5 99.9 208.9 99.7 206.9 99.7 206.7 98.4M301.3 81.3 307.6 78.7 313.9 76.7 324.9 75.7 335.6 74.7 342 76.7 342.8 80 340.5 84.7 338 89.3 337.6 91.9 334.8 93.3 328.4 95 322.3 98.5 318.7 101.9 315.9 105.8 313.4 104.8 311 103.2 310.3 99.9 309.4 97.2 310.1 93.3 313.2 91.9 310.4 90.6 310.6 86.6 306.1 84.7 302.6 84 301.3 81.3M297.5 101.5 302.2 97.1 300.5 95.5 298.4 92.1 296.3 90.5 292.4 89 286.4 88 284.1 92.6 286.9 93.7 292.2 95.6 291.5 97.9 286 99.9 289.6 100 292.2 102.1 295.4 103.2 297.5 101.5M258 90.6 260.7 88.6 268.3 88.4 270.7 91.9 266.5 94.6 263.6 93.9 257.4 94.2 256.2 92.6 258 90.6M252.7 90.1 260 86.9 261.9 88.2 258.5 91 253.6 90.9 252.7 90.1M294.1 84 288.2 82.7 292.5 79.4 290.1 78 300.9 75.4 311.1 75.7 312.5 76.7 302.9 79.1 297.5 81.3 298.9 82.7 294.1 84M292.2 86.6 282.7 86.5 281.7 84 288.2 83.6 293.8 84.4 292.2 86.6M280.9 89.9 278.1 89.3 279.7 87.3 283.7 87.3 280.9 89.9M276 89.9 272.4 89.3 274.7 87.4 278 87.4 276 89.9M272.8 86 263.4 86.6 265.4 84 272 83.6 272.8 86M278.4 86 274.2 85.3 277.8 84 280.5 84.4 278.4 86M290 81.3 284 81.3 287.2 78 291.6 78.7 290 81.3M277.9 99.9 280.7 98.1 283.2 100.1 280.4 102 277.5 101.1 277.9 99.9M295.6 122.2 299.7 119.6 300.9 116.9 298.5 118.4 295.8 121 295.6 122.2 299.8 123.3 302.4 122.4 302.1 120 300.3 119.3M334.8 98.5 336.7 97.4 342 97.2 344 99.2 342.6 100.3 339.1 101.3 335.8 100.8 334.6 99.5 334.8 98.5M350.4 119.1 357.5 117.5 357.8 115.5 356.1 114.4 354.6 112.4 354.2 111.1 354.4 109 352.8 107.7 351.4 107.7 350.1 110.5 351.2 112.4 353.2 113.8 351.7 114.7 351.9 116 350.9 116.8 353.1 117.5 350.4 119.1M350.2 116.3 350 114.4 350.6 112.2 348.8 112 346.3 113.5 346.2 116.4 346.6 117.1 349.2 116.4 350.2 116.3M350.1 137.6 349.3 136.5 348.2 136 346.6 136.3 346.7 134.3 346 133.9 346.7 132 347 129.6 346.4 128.3 347.8 127.4 350.4 127.7 353 127.8 354.5 127.8 354.9 126.1 354.9 124.1 353.5 122.6 351.5 121.8 351.3 120.9 353.1 120.6 354.6 120.9 354.5 119.4 356.3 119.7 357.7 118.8 357.8 117.9 359.6 117.2 360.3 116.4 360.7 115.2 362.5 114.4 364.4 114.3 364.4 111.8 363.9 110.1 366.1 109 366 110.8 366.6 112.4 365.9 113.1 366.9 113.8 368.3 113.2 370 113.9 372.2 113.1 374.4 113.2 375.4 113.2 376.7 112.2 376.2 110.1 377.6 108.9 379.3 109.5 378.4 107.3 381 106.5 382.5 106.1 383.7 105.8 381.3 105.2 377.6 106 376 104.8 375.6 102.5 376.7 100.8 378.6 99.2 378.7 98.1 377.4 98.1 375.7 98.5 375.1 99.9 374.5 100.9 373 102.3 372.1 103.8 372.1 104.9 373.7 106.1 373.1 107.1 371.9 109 371.9 110.3 370 111.8 368.5 111.6 368.1 110.5 367.5 109.1 366.7 107.1 366 106.7 365.1 107.1 362.8 108.5 361.4 107.4 361 105.2 360.7 103.4 362 102.4 364.3 101.2 365.5 99.9 367.2 97.9 367.9 95.9 369.5 94.6 371.4 93.3 373.9 92.6 376.2 91.3 379.5 91.3 382.4 92.6 384.3 93.5 386.9 93.9 391.3 95.6 392 97.2 387.5 99.9 389.6 100.8 392 99.9 394.5 97.5 394.1 94.8 396 95.2 399.4 95.2 401.8 94.6 403.2 95 405.9 94.2 407 92.9 410.7 93.5 414.3 94.6 415.3 94 412.7 89.9 413.4 88.4 416.8 90.6 419.4 94.6 418.5 89.9 420.9 88 425.6 86.6 428.8 84.7 433.6 84 435.5 82.4 439.6 83.7 444.7 84.9 448 88 451.7 88 456.4 88.6 460.8 88.9 463.8 90.6 465.9 90.6 471 89.3 476.3 89.6 481.2 90.6 485.8 91.3 491.6 92.6 493.2 93.3 498 93 500.1 92.6 505.5 92.9 510.5 94M201.7 94 203.7 95.9 204.7 97.2 205.9 97.9 203.2 99.2 200.4 100.1 198.7 99.6 197.3 98.5 195.5 98.9M516.7 98.9 515.1 99.9 519.9 102.5 516.4 103.4 515.1 105.8 511.6 106.1 509.3 106.1 511.1 108.5 511.2 109.1 513.4 111.1 514.1 113.1 513.8 115.1 513.3 116.4 512.5 117.7 509.8 115.1 507 111.8 505.7 109.1 506.8 108.5 505.8 105.8 505.7 103.8 502.9 103.8 501.9 106.7 499.5 107.1 495.4 106.7 490.6 106.7 490 108.9 489.7 113.1 494.3 114.7 496.3 116.4 497.9 120.4 497.6 123 496.9 126.3 495 128.6 493 128.8 492.6 131 491.7 132.9 494.6 136.3 495.3 138.2 493.8 139.4 492.6 139.6 491.8 136.9 490.8 135.3 489.5 135.2 488.3 132.8 485.4 131.6 485.1 133.6 484.7 131.2 484.2 131.1 482.6 132.5 481.4 133.6 481.6 134.7 483.4 136 484.9 135.2 487.2 136 485.6 137.6 484.8 138.9 487.6 142.2 489.3 144.2 489.8 145.5 490 147.5 489.3 149.2 488.8 151.5 487.5 152.8 486.3 154.8 483.9 155.7 481.6 156.4 480 157.2 479.9 158.3 479.1 156.8 477.7 156.6 475.9 157.9 475.4 159.4 475.2 160.7 476.4 162.3 478.8 164.7 480.3 168 480.4 170 478.6 171.3 477.6 172.6 476 173.8 475.6 172 474.1 171.2 472.8 169.3 470.8 168.4 469.7 167.5 469.2 171.3 470.6 174.2 471.6 176.1 473.1 177 474.5 179.1 474.6 181.6 475.5 183.3 474.7 183.5 472.1 181.5 471 179.6 470.9 177.9 468.4 174.2 468.5 172 468.1 168.7 466.8 164.7 466 162.8 464.1 164.4 462.8 163.8 462.6 160.7 461.3 159 459.7 157.7 458.8 155.4 457.4 156.1 455.8 156.4 453.6 156.8 453.6 158.1 451.8 159.7 449.2 163.2 447 164.2 447.2 167.3 447 170.6 445.4 173.4 444.6 174.5 443.5 173.4 442.1 170 440.6 165.9 439.1 163.4 438.1 159.8 437.8 157.4 437.4 156.8 435.6 157.7 433.3 155.6 434.8 154.9 432.7 154.4 431 152.8 430 151.6 427.8 151.9 424.5 152 419.9 151.2 418.4 149.3 416.5 150 413.5 148.4 411.6 146.2 409.3 145.5 408.8 146.3 409.9 148.8 411.8 150.7 412.6 152.4 413.6 153.2 415.7 153.3 417.7 151.5 418.5 150.5 418.8 152.3 420.6 153.8 423 155.4 421.9 158.1 421.2 160.1 418.7 162 415.2 164.4 412.3 165.9 407.8 168 405.6 168.4 404.9 166 404.3 163.4 402.5 160.3 400 156.8 399 153.7 397.2 150.9 395.3 148.3 394.4 146.7 394.2 148.2 393.3 148.4 391.9 145.6 391.4 143.9 393.5 143.8 394.2 141.8 394.5 140.2 394.6 137.8 394.9 136.8 393.1 136.5 391 137.4 388.8 137.2 386.1 136.5 385.2 135.2 384.3 134.3 384.5 132.9 383.8 132.1 385.1 131.6 386.6 131.1 386.7 130.7 389 130.8 391 129.6 392.9 129.6 394.9 130.6 396.4 131 398.2 131 399.8 130.3 399.6 128.8 397.6 127.8 395.5 126.5 394.6 125.4 395.5 123.3 392.7 125.3 390.8 126.3 389.7 125.1 387.8 123.6 387.1 124.6 386.6 125.4 385.7 126.6 385.2 128.7 385.6 130.2 386.5 130.6 385.1 131.1 383.8 131.9 383.5 131.2 381.4 131.2 381.1 132 379.9 131.6 380.5 133.1 380.4 134.5 381.7 134.7 380.9 135.2 380.6 136.9 379.4 136.5 378.6 135.2 378.1 133.5 377.3 132.7 376.6 131.9 376.6 130 375.4 129 373.3 127.8 371.9 126.7 371.1 125.4 370.1 124.9 368.8 125.3 368.9 126.5 370.3 127.7 371.6 129.5 373 130.3 374.5 131.2 375.7 132.1 375.6 132.5 374 131.6 373.6 132.7 374.3 133.6 373.5 134.5 372.8 134.9 373 134 372.7 132.3 371.3 131.5 370 130.6 368.1 129.1 367.1 128.3 366.7 127.1 365.2 126.5 363.9 127.3 362.9 128.2 361.3 127.8 359.4 128 359.5 129.8 357.7 130.7 356.6 131.6 355.8 132.9 356.3 133.9 355.4 135.5 353.8 136.6 351.3 136.6 350.1 137.6M404.6 125.7 406.8 123.7 410.3 123.3 410.8 125.3 409.2 126.3 411.3 129.6 413 131 412.8 132.9 413.8 135.9 410.8 136.6 408.5 135.6 408.4 132 405.8 129 404.6 125.7M391.8 145.6 389.9 143.5 388.4 144.3 383.4 143.4 381.1 142.1 377.9 142.2 378 144.5 376.9 145.1 373 143.5 370.2 141.7 368 141.3 367.4 139.6 367.9 138.2 367 136.5 365.7 136 362.5 136.3 359.3 136.5 356.1 137.8 353.9 138.8 350.4 137.8 349.1 140.2 346.9 141.3 345.4 144.2 345.1 146.8 342.9 148.2 341.2 149.5 339.6 152.8 338.2 154.1 337 157.4 337.7 160.1 337.4 163.4 336.3 165.8 337.1 168.7 339 170.6 340.7 172.6 342.4 175.3 344.1 176.9 347.5 179.4 350.4 178.5 353.8 179 357.2 177.3 359.5 176.9 361.8 177.9 363 179.5 364.7 179.2 366.4 179.9 367.3 181.9 366.8 184.5 366.2 187.2 368.1 189.2 369.8 191.8 371 194.5 371.5 198.4 370.3 203.1 369.4 207.7 371.2 213 372.3 215.6 372.7 220.9 374.3 223.6 375.5 226.9 376.1 230.4 377.7 231.2 380.5 230.2 383.7 230.2 386 228.9 388.9 226.2 390.2 224.2 392.1 220.9 392.5 219.6 393.7 218.3 395.7 217 395.6 214.3 395.2 211.7 397.3 209.7 400.8 207 402.3 204.4 402.2 199.8 401.2 195.8 400.9 193.1 401.3 191.2 402.5 188.5 404 186.5 405.9 183.9 408.8 181.9 411 178.6 413 174 414.4 170 411.9 170.3 407.4 171.3 405.4 169.7 404.4 167.3 403.2 166 400.8 164.3 399.5 161.4 398 158.1 397.3 155.4 395.7 153.4 393.8 150.1 391.8 145.8M412.2 201.1 413.1 205.7 412 207.7 410.6 212.3 408.6 218.3 406.1 218.9 404.9 216.3 404.6 213.6 406 211 405.8 207.7 408.2 206.1 410.6 203.7 412.2 201.1M497.8 140.2 498.8 138.2 501.4 138 502.4 135.9 504.3 134.9 504.1 132.3 503.3 130.6 504.9 130.6 506.6 132.9 506.8 135.6 507.4 137.6 507.1 138.9 505.7 139.4 504.1 139.8 502.5 140.5 499.5 140 497.8 140.2M497 141.1 498.3 143.8 499.4 143.8 499.4 141.3 498 140.4 497 141.1M503.2 130.3 502.1 128.3 501.9 125.1 504.2 126.3 507.4 127.9 506.5 129.6 504.1 130 503.2 130.3M502 124.3 503.1 123.7 500.6 120.4 498.6 117.1 496.6 113.8 495.3 113.4 498.1 117.7 500.2 121.7 502 124.3M490.6 151.7 491.8 152.1 491.9 154.8 491.4 156.2 490.3 154.8 490.6 151.7M478.4 159.8 479.7 158.6 481 159.3 480.4 161.1 479 160.7 478.4 159.8M492 160.7 493.9 160.7 494.1 163.6 494.2 166.3 496.9 166.9 497.1 168.7 495.3 167.6 493 166.3 491.9 164 492 160.7M495.5 175.3 497.2 175 499.3 172.6 500.7 175.3 499.5 177.5 497.9 176.6 495.6 175.9 495.5 175.3M495 170 496.9 171.3 498.4 170 499.2 172 497.5 172.2 495.8 172.2 495 170M447.2 172.4 448.6 174 449.6 175.9 448.2 177.4 447.3 176.3 447.2 172.4M465.1 177.8 467.7 178.3 470.6 181.9 474.9 186.5 477.5 189.3 477.1 192.9 475.6 192.9 473.2 190.5 471.2 187.2 469.3 183 465.1 177.8M476.4 194.2 477.9 193.1 480.2 194.1 483 193.8 484.9 194.3 486.9 195.5 486.8 196.7 484 196.2 480.6 195.5 477.8 195 476.4 194.2M481 183.2 481.8 182.6 483.8 181.6 486 179.9 488.3 178.2 489.8 175.9 492.6 178.2 491.2 179.5 491.3 183.9 490.7 185.2 489.5 188.5 488.9 190.2 487.2 189.8 483.8 189.2 482.3 189 481.6 185.9 481 183.2M492.8 192.5 494 192.5 493.9 188.9 494.7 188.5 495.7 191.2 497.2 190.9 495.3 187.2 496.4 186.3 497.2 186.5 495.3 184.5 499.3 183.2 498.4 184.7 493.6 184.3 493.4 185.2 492.2 188.5 492.8 192.5M506.2 186.9 509.6 186.3 511.3 189.6 514.2 187.4 517.6 188.6 522.1 191.2 523.1 192.5 524.8 193.1 525.7 195.8 527.4 199.1 523.7 198.4 522.3 195.8 519.9 197.1 518.2 197.4 517 197.2 514.9 195.9 513.7 196.2 513.6 192.5 510.6 191 507.8 190.5 506.7 188.5 506.2 186.9M496.9 198.8 498.8 197.1 501.5 196.3 499.9 197.5 498.1 198.6 496.9 198.8M487.4 196 488.5 196.8 492 196.4 493.7 196.2 496 196.4 494.2 197 490.8 197.1 489.1 197 487.4 196M502.2 185.9 503.3 182.6 502.8 184.5 503.7 186.3 502.2 185.9M502.7 189.4 505.6 189.2 505.9 190.2 503.2 190 502.7 189.4M526 192.5 527.8 191.8 530.1 190.8 529.4 192.5 527.1 193.4 526 192.5M483.2 214.3 482.6 219.6 482.2 224.9 480.8 229.5 481.8 231.5 483.4 231.5 486 230.2 489.8 230.2 493.3 227.9 496.9 227 499.1 226.9 501.8 228.5 502.4 231.2 504.1 229.5 505.8 228.9 504.7 232.2 506 232.8 505.9 235.5 508.6 236.5 511.4 236.9 514.1 235.2 516.5 234.5 518.2 232.2 520.2 229.5 522.3 227.5 525.2 222.9 526 218.9 524.6 216.3 523.4 214.7 522.9 212.3 520.9 210.3 520.7 207 520.8 205 519 203.7 518.5 199.4 517.1 202.1 516.5 205.7 514.9 208.4 513.2 207.7 511.2 206.1 509.7 205 511.7 201.5 510.3 201.1 507 200.4 505.1 201.5 503 204.8 500.8 203.7 498.7 204.4 497 206.4 494.2 208.4 492.3 211 488.7 212.2 486.3 212.7 484 214.3 483.2 214.3M508.6 239 512.3 239.3 510.3 242.4 508.8 242.9 508.1 241 508.6 239M542.8 230.7 543.8 232.6 544 234.1 546.7 235.1 543.8 237.2 541.1 239.8 539.9 239.8 541.6 237.5 540.5 237.1 542.4 235.2 542.8 233.5 542.8 230.7M538.3 238.8 539 240.4 536.9 242.1 535.5 243.1 533.4 244.1 529.5 246.8 527.2 246.1 530.3 243.7 534.1 241.8 537.2 239.4 538.3 238.8M219.8 288.4 228.5 289.1 238.5 289.7 240.7 287.1 241.9 285.1 248.3 283.8 259.6 283.1 268.2 283.8 274.6 281.8 282.7 281.8 290.9 281.8 293.4 279.1 296.5 273.8 300.4 270.5 304.3 268.9 303 272.5 303 276.5 305.7 280.5 304.5 284.4 309.9 287.1 322 288.4 329.4 287.7 334.1 285.1 339.9 282.4 346.1 279.8 356.1 277.8 364.6 277.8 373 277.8 381.7 277.1 386.1 276.5 390.6 275.8 399.9 273.8 404.5 273.2 408.6 273.8 415.3 274.5 416.1 276.5 417.1 277.8 420 277.1 425.8 274.5 433.6 273.2 440.2 272.5 444.6 272.5 453.4 272.5 461.8 273.2 471.1 272.5 475.6 272.5 479 273.6 482.4 274.5 485.3 275.8 491.6 277.8 494.1 279.1 496.6 280.5 489.3 284.4 480.5 287.7 484.8 288.4 492.4 288.4M364.4 81.3 368.5 84 372.9 82.7 376 80 370.6 78.7 364.2 79.6 364.4 81.3M399.6 91.3 403.2 91.9 404 89.9 405.3 86 408.6 83.6 403.8 83.3 400.5 86 399.6 89.3 399.6 91.3M427.6 80.7 431.2 81.3 433.6 80 427.9 78 424.9 78.7 427.6 80.7M465.5 87.3 470.6 87.6 468.7 85.3 463.9 84.7 465.5 87.3M260.9 156.4 264.5 154.5 268.9 155.4 271.3 158.1 272.7 158.5 268.9 159 266.5 156.5 263.1 156.4 260.9 156.4M272.1 160.7 274.2 158.9 277.4 159.1 279 160.6 276 161.4 272.1 160.7M267.8 160.9 270 161.3 269.2 161.8 267.8 160.9M280.3 160.7 282.1 161 281.6 161.4 280.3 160.7M227.9 118 229.4 121 231.1 121.2 230.2 118.8 227.9 118M225.9 113.8 226.9 114.4 225.8 116.1 225.2 114.8 225.9 113.8M209.8 107.8 210.6 109.1 208.1 110.3 209.8 107.8M194.6 113.8 190.9 114.7 186 115.7 181.3 116.7 179.2 116.8M532.9 116.7 526.8 115.3M507.6 127 508.9 125.7 510.2 124.3 511 122.4 511.7 120.4 512.3 118.4M365.9 128.3 366.1 129.6 365.8 130.4 365.1 129.8 365.9 128.3M365.8 130.7 366.4 131.6 366.2 133.6 365.1 133.6 365 131.6 365.8 130.7M369.3 134.9 372.7 134.5 372.3 136.6 369.5 135.5 369.3 134.9M381.4 138.5 384.5 138.6 382.5 139 381.4 138.5M390.9 138.8 393.3 138 392.7 139 390.9 138.8M295 253.1 298.4 253.3 297.7 254.4 295 253.1M288.3 254.8 292.6 257.8 290.2 258.6 286.3 257.3 288.3 254.8M261.9 123.4 265.8 121.3 269.1 120.6 269.8 123 267 123.7 261.9 123.4M264 130 265 126.3 267.4 124.6 267.4 127 265.4 129.6 264 130M269.3 124.3 271 125.3 273.3 126.3 271 128 270.5 127 269.7 124.6 269.3 124.3M268.7 130 273.7 128.4 271.9 129 268.7 130M273 127.9 276.8 127.7 276.8 126.7 273.4 127.5 273 127.9M257 118.4 258.9 118.5 260.3 114.4 259.1 114 257 118.4M247.6 104.5 251.5 104.2 255.4 102.5 251.3 102.5 247.6 104.5M244.9 98.5 249 98.9 251.9 96.6 248.4 96.6 244.9 98.5M250.5 107.8 255.2 107.1 252.8 106.5 250.5 107.8M384.2 105.8 386.6 105 386.1 103.8 384.3 104.2 384.2 105.8M388.1 104.5 389.9 104.2 388.5 102.1 388.1 104.5M392.3 185.9 395.1 184.9 395.6 186.9 393.9 188.8 392.4 187.8 392.3 185.9M389.5 189.7 390.4 190.5 391.3 196.2 390.7 196.6 389.8 193.8 389.5 189.7M395.2 197.8 396.2 200.4 396.2 204 395.4 203.7 395 200.4 395.2 197.8M371.4 168 372.9 167.3 372.6 168.3 371.4 168M459.4 117.1 460.3 116.4 462.2 114.4 462 111.5 461.5 111.4 461.1 115.1 459.4 116.7 459.4 117.1M416.2 124.3 419.1 123.7 419.8 126.3 417.4 127.3 416.2 124.3M431.9 123.7 437.2 124.1 436.9 123.3 431.8 123.2 431.9 123.7M277.4 205.7 278.3 206.8 277 205.3M282.5 103.2 280 102.8 280.3 102.1 282.5 103.2M294.2 87.3 289.8 86.6 291.9 87M275.1 82 272 81.3 275.7 80.7M280.4 82 278.7 80.7 282.3 80M282.8 82.7 282.5 81.3 285.5 81.3M262.4 85.3 260 84.7 263.8 83.3M267.3 86 265.6 85.3 268.6 84.7M276.8 89.9 275.4 88.6 277.5 88M292.1 89.3 291 88.4 294.1 88.6M292 102.5 294.4 101.2 296 101.9M296.7 109.8 298.1 108.5 298.8 109.1M237.5 92.6 235.4 92.2M290.7 123 293.9 122.4 292.5 123.8M201.9 101.2 203.3 101.6 201 100.8M194.9 105.2 195.5 105.6M210.1 109.1 211.6 108.5M286 88 283 88.2" fill="none" stroke="#000" stroke-width="0.9" stroke-linejoin="round"/>
<path d="M258.1 115.5 257.8 115.3 257.1 115.4 257 115.6 257.6 115.6 258.1 115.5M271.8 110.3 271.8 110.1 271.4 110.2 271.2 110.5 271.5 110.6 271.8 110.3M246.1 108.7 246 108.6 245.6 108.6 245.4 108.8 245.7 108.9 246.1 108.7M272.2 99.4 272 99.2 271.5 99.2 271.4 99.5 271.8 99.6 272.2 99.4M284.3 96.5 283.9 96.2 283.1 96.3 282.9 96.6 283.7 96.7 284.3 96.5M293.5 117.9 293.1 117.7 292.3 117.8 292.3 118.1 293 118.2 293.5 117.9M247.5 116.2 247.4 115.9 246.9 116 246.7 116.5 247.1 116.6 247.5 116.2M256.2 105.2 255.9 105 255.1 105.1 255 105.3 255.6 105.4 256.2 105.2M269.3 117.6 269.2 117.4 268.8 117.4 268.7 117.7 269 117.8 269.3 117.6M280.4 108.9 280.2 108.6 279.7 108.7 279.5 109 280 109.2 280.4 108.9M267 111.9 266.7 111.6 265.9 111.7 265.7 112.1 266.4 112.2 267 111.9M259.4 105.4 259.2 105 258.4 105.2 258.2 105.6 258.7 105.7 259.4 105.4M282 112.2 281.5 112 280.6 112.1 280.5 112.3 281.4 112.4 282 112.2M270.8 101 270.7 100.8 270.2 100.9 270 101.2 270.4 101.3 270.8 101M250.4 103.1 250.1 102.9 249.2 103 248.9 103.3 249.7 103.4 250.4 103.1M290 111.6 289.7 111.3 288.9 111.4 288.8 111.8 289.4 111.9 290 111.6M275.7 108.2 275.3 107.8 274.5 108 274.2 108.4 275 108.6 275.7 108.2M272.3 103.2 272.3 102.9 271.8 103 271.6 103.4 271.9 103.5 272.3 103.2M286.1 95.4 285.6 95.2 284.5 95.3 284.3 95.5 285.3 95.6 286.1 95.4M267.8 103.1 267.7 102.9 267.3 103 267.2 103.3 267.4 103.4 267.8 103.1M248.7 116.3 248.7 115.9 248.3 116.1 248.1 116.5 248.4 116.6 248.7 116.3M248.5 113.2 248.4 112.8 247.8 112.9 247.5 113.4 248 113.5 248.5 113.2M248.8 108.4 248.7 108 248 108.1 247.7 108.6 248.2 108.7 248.8 108.4M292.5 98.5 292.3 98.2 291.7 98.3 291.5 98.6 292 98.7 292.5 98.5M270.3 98 269.8 97.8 268.7 97.9 268.5 98.1 269.5 98.2 270.3 98M250.7 113.5 250.6 113.3 250.2 113.4 250 113.7 250.3 113.8 250.7 113.5M273.6 112.8 273.5 112.5 273.2 112.6 273 112.9 273.3 113 273.6 112.8M266 105.6 265.6 105.3 264.7 105.4 264.4 105.8 265.3 105.9 266 105.6M274.2 104.3 273.8 104.2 273 104.2 272.9 104.4 273.6 104.5 274.2 104.3M295.9 100.5 295.5 100.1 294.5 100.3 294.3 100.7 295.2 100.8 295.9 100.5M264.6 109.6 264.5 109.3 264.1 109.4 263.9 109.7 264.2 109.8 264.6 109.6M242.3 117.4 242.1 117.3 241.7 117.3 241.6 117.6 241.9 117.6 242.3 117.4M257.5 117.8 257.4 117.6 257.1 117.7 257 117.9 257.3 118 257.5 117.8M248.4 110.4 248.4 110 248 110.2 247.8 110.6 248 110.7 248.4 110.4M273.9 115.5 273.7 115.3 273.3 115.4 273.2 115.7 273.5 115.7 273.9 115.5M260.1 116.1 259.8 115.8 259 115.9 258.8 116.4 259.4 116.5 260.1 116.1M269.5 107.5 269.4 107.4 269 107.4 268.9 107.6 269.2 107.7 269.5 107.5M260.6 112.7 260.2 112.6 259.4 112.6 259.3 112.9 260 112.9 260.6 112.7M254.7 96.4 254.4 96.2 253.5 96.3 253.4 96.5 254.1 96.6 254.7 96.4M268.9 118.4 268.7 118 268.1 118.2 267.9 118.6 268.4 118.8 268.9 118.4M292.8 102.5 292.6 102.2 292.1 102.3 291.9 102.6 292.4 102.7 292.8 102.5M258.6 100.7 258.4 100.3 257.6 100.5 257.3 100.9 257.9 101 258.6 100.7M259.3 113.7 259.1 113.4 258.3 113.5 258 114 258.7 114.1 259.3 113.7M293.8 99.9 293.4 99.5 292.4 99.7 292.2 100.1 293.1 100.2 293.8 99.9M257.5 106.7 257.3 106.6 256.7 106.6 256.6 106.8 257.1 106.9 257.5 106.7M243.3 112.4 243.2 112.1 242.7 112.2 242.5 112.6 242.9 112.7 243.3 112.4M295.6 108.4 295.2 108 294.3 108.2 294.2 108.6 295 108.8 295.6 108.4M294.5 110.4 294.3 110.2 293.8 110.2 293.7 110.5 294.1 110.6 294.5 110.4M251.7 114.2 251.5 113.8 250.8 114 250.6 114.4 251.1 114.5 251.7 114.2M289.6 107.6 289.3 107.3 288.6 107.4 288.4 107.8 289.1 108 289.6 107.6M252.7 103.3 252.3 103 251.3 103.1 251.1 103.5 251.9 103.6 252.7 103.3M284.6 107.7 284.5 107.3 284 107.5 283.8 107.9 284.2 108 284.6 107.7M267.7 100 267.2 99.7 266.1 99.8 265.9 100.1 266.9 100.2 267.7 100M273.3 96.5 272.9 96.3 271.9 96.4 271.7 96.6 272.6 96.7 273.3 96.5M247.3 115.5 247 115.1 246.2 115.2 245.9 115.7 246.6 115.8 247.3 115.5M258.7 99.4 258.3 99.1 257.2 99.2 256.9 99.6 257.9 99.7 258.7 99.4M264.3 106 264.2 105.8 263.7 105.9 263.6 106.1 264 106.1 264.3 106M298 103.6 297.8 103.2 297 103.4 296.9 103.8 297.5 103.9 298 103.6M273.8 98.3 273.3 98.1 272.3 98.2 272.1 98.4 273 98.5 273.8 98.3M255.7 112.1 255.6 111.8 255.1 111.9 254.9 112.3 255.3 112.4 255.7 112.1M257.7 109.1 257.7 108.7 257.2 108.9 257 109.3 257.3 109.4 257.7 109.1M263.5 108.1 263.3 107.8 262.6 107.9 262.3 108.4 262.9 108.5 263.5 108.1M273.6 97.2 273.3 96.9 272.5 97 272.3 97.4 273 97.5 273.6 97.2M267.7 118.6 267.4 118.4 266.9 118.5 266.8 118.7 267.3 118.8 267.7 118.6M250.6 100 250.5 99.8 250 99.9 249.7 100.2 250.1 100.3 250.6 100M284.2 105.8 284 105.5 283.4 105.6 283.3 106 283.7 106.1 284.2 105.8M278.1 100.4 278 100.1 277.5 100.2 277.3 100.5 277.7 100.7 278.1 100.4M255.6 112.5 255.3 112.2 254.5 112.3 254.3 112.6 255 112.7 255.6 112.5M278.6 101 278.1 100.7 277.1 100.8 277 101.1 277.9 101.2 278.6 101M277.8 107 277.5 106.7 276.9 106.8 276.7 107.2 277.2 107.3 277.8 107M269.7 106.4 269.5 106 268.8 106.1 268.6 106.6 269.1 106.7 269.7 106.4M287.1 98.2 286.6 98 285.5 98 285.3 98.3 286.3 98.4 287.1 98.2M281.1 96.6 280.6 96.4 279.5 96.5 279.4 96.7 280.3 96.8 281.1 96.6M250.7 108.5 250.6 108.3 250.2 108.4 250 108.7 250.3 108.7 250.7 108.5M252.2 103.1 251.9 102.8 251 102.9 250.6 103.3 251.4 103.5 252.2 103.1M257.1 102 256.7 101.8 255.9 101.9 255.7 102.1 256.4 102.2 257.1 102M296.8 96 296.6 95.6 296 95.8 295.8 96.2 296.3 96.4 296.8 96M266.5 107.4 266.1 107.1 265.1 107.2 264.9 107.7 265.7 107.8 266.5 107.4M252.9 108.8 252.6 108.5 252 108.6 251.8 108.9 252.4 109 252.9 108.8M253.2 111.5 252.9 111.3 252.1 111.4 252 111.6 252.7 111.6 253.2 111.5M273.6 108.6 273.6 108.3 273.2 108.4 273.1 108.7 273.3 108.8 273.6 108.6M278.2 106.9 278.2 106.5 277.8 106.6 277.5 107.1 277.8 107.2 278.2 106.9M292.2 95.9 292 95.7 291.5 95.8 291.4 96 291.8 96.1 292.2 95.9M252.1 100.5 251.9 100.3 251.3 100.4 251.1 100.6 251.6 100.7 252.1 100.5M273.8 97.3 273.4 97.1 272.3 97.2 272.2 97.5 273.1 97.6 273.8 97.3M260.3 97.2 260.1 96.9 259.2 97 258.9 97.4 259.6 97.5 260.3 97.2M243.9 117.7 243.6 117.4 243 117.5 242.8 117.8 243.4 117.9 243.9 117.7M256.9 96.7 256.7 96.4 255.7 96.5 255.4 96.9 256.2 97 256.9 96.7M255.6 98.7 255.6 98.3 255.1 98.4 254.8 98.9 255.1 99 255.6 98.7M267.4 111 267.2 110.6 266.5 110.8 266.3 111.2 266.8 111.3 267.4 111M266.5 93.2 265.9 92.9 264.6 93 264.3 93.4 265.4 93.5 266.5 93.2M259.7 92.7 259.5 92.4 258.7 92.5 258.4 92.9 259 93 259.7 92.7M271 90.4 270.2 90.1 268.4 90.2 268.1 90.6 269.7 90.7 271 90.4M276.7 92.4 276.2 92.2 275.1 92.3 274.9 92.6 275.9 92.6 276.7 92.4M264.5 95 263.9 94.6 262.3 94.7 261.9 95.3 263.3 95.4 264.5 95M268.6 87.7 267.6 87.4 265.6 87.5 265.3 87.9 267.1 88 268.6 87.7M293 88.4 292.5 87.9 291 88.1 290.6 88.7 291.8 88.9 293 88.4M276.9 87.2 276.4 86.6 274.6 86.8 274 87.5 275.4 87.8 276.9 87.2M279.6 82 279.1 81.6 277.4 81.8 276.8 82.3 278.2 82.5 279.6 82M274.5 89.7 274.3 89.5 273.4 89.6 273.2 89.9 273.8 90 274.5 89.7M267.2 83.5 266.9 83.2 265.8 83.3 265.4 83.7 266.3 83.8 267.2 83.5M270.1 81.9 269.6 81.4 267.6 81.6 267 82.2 268.6 82.3 270.1 81.9M268.3 91.4 268 91 266.9 91.2 266.5 91.6 267.4 91.8 268.3 91.4M266 88.2 265.9 87.6 264.7 87.8 264 88.5 264.9 88.7 266 88.2M300 86.6 299.8 86 298.6 86.2 298.2 86.9 299.1 87.1 300 86.6M270.7 89.6 270.5 89.2 269.7 89.4 269.4 89.8 269.9 89.9 270.7 89.6M279.5 87.3 279.3 86.9 278.2 87 277.8 87.5 278.6 87.7 279.5 87.3M256.8 91 256.7 90.7 255.8 90.8 255.4 91.3 256 91.4 256.8 91M255.1 94.9 254.8 94.6 253.7 94.7 253.4 95.1 254.2 95.2 255.1 94.9M285 86.8 284.3 86.4 282.5 86.6 282 87.1 283.6 87.3 285 86.8M293.9 81.3 293.5 80.9 292.3 81.1 292 81.5 293 81.6 293.9 81.3M297.4 92.9 296.7 92.4 295.1 92.6 294.8 93.1 296.2 93.3 297.4 92.9M268.5 82 267.9 81.5 266 81.7 265.4 82.2 266.9 82.4 268.5 82M293.5 82.3 293.3 81.9 292.4 82.1 292 82.6 292.7 82.7 293.5 82.3M285.8 82 285.3 81.5 283.5 81.7 282.9 82.3 284.4 82.5 285.8 82M289.5 81.1 289 80.6 287.4 80.8 286.9 81.4 288.2 81.5 289.5 81.1M263.1 94.7 263 94.4 262.1 94.5 261.8 95 262.4 95.1 263.1 94.7M270.5 82 270.1 81.5 268.6 81.7 268 82.2 269.2 82.4 270.5 82M288.1 84.4 287.5 84.2 286.2 84.3 285.9 84.6 287.2 84.7 288.1 84.4M295.6 83.4 295.1 83 293.7 83.1 293.3 83.6 294.5 83.8 295.6 83.4M282.7 94.2 282 93.9 280.4 94 280.2 94.4 281.6 94.5 282.7 94.2M260.5 91 259.8 90.7 258.1 90.8 257.7 91.2 259.2 91.3 260.5 91M296.2 79.7 295.7 79.4 294.4 79.5 294 80 295.1 80.1 296.2 79.7M282.8 84.4 282.1 83.9 280.3 84.1 279.8 84.7 281.4 84.8 282.8 84.4M281.5 94 281.2 93.7 280.3 93.8 280.1 94.2 280.8 94.3 281.5 94M288.6 90.4 287.9 90.2 286.4 90.3 286.2 90.5 287.6 90.6 288.6 90.4M259.9 91 259.4 90.5 257.7 90.7 257.1 91.3 258.5 91.4 259.9 91M285.6 90.6 285 90.2 283.6 90.4 283.3 90.9 284.5 91 285.6 90.6M275.2 93.4 274.4 93.1 272.6 93.2 272.3 93.5 273.9 93.7 275.2 93.4M304 80.4 303.8 80 303.1 80.1 302.8 80.6 303.3 80.8 304 80.4M299 79.9 298.5 79.6 297.2 79.7 296.9 80.1 298 80.2 299 79.9M275.9 80.2 275.8 79.8 274.7 80 274.2 80.5 274.9 80.7 275.9 80.2M267.4 86.9 266.4 86.6 264.4 86.8 264.1 87.1 265.9 87.2 267.4 86.9M294.3 87.2 293.5 86.7 291.5 86.9 291.1 87.4 292.9 87.6 294.3 87.2M276.2 81 275.7 80.8 274.3 80.8 274 81.1 275.2 81.2 276.2 81M260.7 87.4 260.3 87.1 258.9 87.2 258.4 87.6 259.6 87.8 260.7 87.4M263.9 89.8 263.7 89.3 262.4 89.5 261.8 90.1 262.8 90.3 263.9 89.8M265.4 83.3 264.6 83.1 262.8 83.2 262.4 83.5 264 83.6 265.4 83.3M300.6 83.9 299.7 83.6 297.8 83.7 297.6 84.1 299.3 84.2 300.6 83.9M274.9 89 274 88.6 271.8 88.7 271.4 89.3 273.3 89.4 274.9 89M381 103.9 380.6 103.7 380 103.8 380 104.1 380.6 104.1 381 103.9M377.5 99.6 377 99.2 376.4 99.4 376.5 99.9 377.2 100.1 377.5 99.6M380.1 105.7 379.6 105.4 378.9 105.5 378.9 105.8 379.7 105.9 380.1 105.7M380.7 98.3 379.9 98 378.7 98.1 378.8 98.6 380 98.7 380.7 98.3M383.5 98.8 382.7 98.5 381.5 98.6 381.6 99 382.9 99.1 383.5 98.8M385.9 107.9 385.3 107.6 384.5 107.8 384.5 108.1 385.4 108.2 385.9 107.9M384.9 101.6 384.5 101.5 383.9 101.5 383.9 101.8 384.5 101.8 384.9 101.6M388 107.1 387.5 106.9 386.8 107 386.9 107.3 387.6 107.4 388 107.1M380.3 100.6 379.5 100.4 378.3 100.5 378.4 100.8 379.6 100.9 380.3 100.6M384.6 105.3 384.1 105 383.4 105.1 383.4 105.5 384.2 105.6 384.6 105.3M379.1 106.8 378.8 106.3 378.3 106.5 378.4 107 378.9 107.2 379.1 106.8M383.2 106.1 382.5 105.7 381.5 105.9 381.6 106.4 382.7 106.6 383.2 106.1M435 88.5 434.3 88.2 433.5 88.3 433.8 88.6 434.7 88.7 435 88.5M428.4 89 427.6 88.7 426.8 88.8 427.1 89.2 428 89.3 428.4 89M435.8 80.6 434.6 80.2 433.3 80.4 433.8 80.8 435.3 80.9 435.8 80.6M429.6 84.4 428.7 84.1 427.8 84.2 428.1 84.6 429.2 84.7 429.6 84.4M409.8 87 408.5 86.8 406.8 86.9 407 87.2 408.8 87.2 409.8 87M434.6 83.3 433.4 83 431.9 83.1 432.2 83.4 433.9 83.5 434.6 83.3M422.8 87.3 421.9 87 420.9 87.1 421.2 87.5 422.3 87.7 422.8 87.3M459.3 81 458.1 80.8 456.7 80.8 457 81.1 458.6 81.2 459.3 81M405.1 82.4 404 82.1 402.5 82.2 402.7 82.7 404.4 82.8 405.1 82.4M445.4 89.9 444.4 89.5 443.5 89.6 444 90.2 445.2 90.4 445.4 89.9M233.5 94.9 232.9 94.6 231.2 94.7 230.9 95.1 232.3 95.2 233.5 94.9M209 106 208.9 105.6 207.9 105.8 207.4 106.3 208.1 106.4 209 106M233 97 232.8 96.6 231.5 96.7 230.9 97.3 231.9 97.4 233 97M221.2 99.7 221.3 99.3 220.6 99.4 220.1 100 220.4 100.2 221.2 99.7M224.2 93.9 223.7 93.6 222.4 93.7 222 94 223.1 94.2 224.2 93.9M211 104.5 210.8 104.1 209.6 104.2 209.1 104.7 210 104.9 211 104.5M207.9 107.4 207.7 107 206.7 107.1 206.3 107.6 207 107.7 207.9 107.4M215.3 104.9 214.9 104.7 213.9 104.8 213.7 105 214.6 105.1 215.3 104.9" fill="none" stroke="#000" stroke-width="0.7" stroke-linejoin="round"/>
<path d="M231.2 120.6 230.4 118.4 229.2 117.1 229 115.1 228.8 113.1 228.7 111.1 228.2 109.1 227.3 107.8M279.3 240.5 279.5 243.4 279.8 246.7 279.9 249.4 281.2 252 283 254.3 285.4 256 287.3 257.3M360.9 105.2 361.2 103.2 362.5 101.9 364.7 100.5 366.3 98.5 367.5 96.6 369 94.6 371 93.3M309.2 100.5 309.4 97.2 309.8 93.9 312.3 91.9 310.7 89.9M310.6 86.6 309 85.1" fill="none" stroke="#000" stroke-width="1.9" stroke-linejoin="round" stroke-linecap="round" opacity="0.85"/>
<line x1="140" x2="580" y1="105.6" y2="105.6" stroke="#101010" stroke-width="1.5" stroke-dasharray="1.5 0.5" opacity="0.6"/>
<line x1="140" x2="580" y1="145.4" y2="145.4" stroke="#101010" stroke-width="1.5" stroke-dasharray="1.5 0.5" opacity="0.6"/>
<line x1="140" x2="580" y1="185.3" y2="185.3" stroke="#101010" stroke-width="1.5" stroke-dasharray="1.5 0.5" opacity="0.6"/>
<line x1="140" x2="580" y1="225" y2="225" stroke="#101010" stroke-width="1.5" stroke-dasharray="1.5 0.5" opacity="0.6"/>
<line x1="140" x2="580" y1="264.6" y2="264.6" stroke="#101010" stroke-width="1.5" stroke-dasharray="1.5 0.5" opacity="0.6"/>
<path d="M304.5 304.3 L296.8 297.7 L290.3 291 L284.7 284.4 L279.9 277.8 L275.6 271.2 L271.9 264.6 L268.6 258 L265.7 251.3 L263.2 244.7 L260.9 238.1 L259 231.5 L257.4 224.9 L256 218.3 L254.9 211.7 L254.1 205 L253.5 198.4 L253.1 191.8 L253 185.2 L253.1 178.6 L253.5 172 L254.1 165.4 L254.9 158.7 L256 152.1 L257.4 145.5 L259 138.9 L260.9 132.3 L263.2 125.7 L265.7 119.1 L268.6 112.4 L271.9 105.8 L275.6 99.2 L279.9 92.6 L284.7 86 L290.3 79.4 L296.8 72.7 L304.5 66.1" fill="none" stroke="#111" stroke-width="1.1" opacity="0.55"/>
<path d="M407.7 304.3 L415.4 297.7 L421.9 291 L427.5 284.4 L432.3 277.8 L436.6 271.2 L440.3 264.6 L443.6 258 L446.5 251.3 L449 244.7 L451.3 238.1 L453.2 231.5 L454.8 224.9 L456.2 218.3 L457.3 211.7 L458.1 205 L458.7 198.4 L459.1 191.8 L459.2 185.2 L459.1 178.6 L458.7 172 L458.1 165.4 L457.3 158.7 L456.2 152.1 L454.8 145.5 L453.2 138.9 L451.3 132.3 L449 125.7 L446.5 119.1 L443.6 112.4 L440.3 105.8 L436.6 99.2 L432.3 92.6 L427.5 86 L421.9 79.4 L415.4 72.7 L407.7 66.1" fill="none" stroke="#111" stroke-width="1.1" opacity="0.55"/>
<line x1="356.1" x2="356.1" y1="60" y2="310" stroke="#101010" stroke-width="1.5" stroke-dasharray="1.5 0.5" opacity="0.6"/>
</g>
<path d="M253 304.3 L237.4 297.7 L224.5 291 L213.3 284.4 L203.7 277.8 L195.2 271.2 L187.7 264.6 L181.1 258 L175.3 251.3 L170.2 244.7 L165.8 238.1 L161.9 231.5 L158.7 224.9 L155.9 218.3 L153.7 211.7 L152 205 L150.8 198.4 L150.1 191.8 L149.9 185.2 L150.1 178.6 L150.8 172 L152 165.4 L153.7 158.7 L155.9 152.1 L158.7 145.5 L161.9 138.9 L165.8 132.3 L170.2 125.7 L175.3 119.1 L181.1 112.4 L187.7 105.8 L195.2 99.2 L203.7 92.6 L213.3 86 L224.5 79.4 L237.4 72.7 L253 66.1 L459.2 66.1 L474.8 72.7 L487.7 79.4 L498.9 86 L508.5 92.6 L517 99.2 L524.5 105.8 L531.1 112.4 L536.9 119.1 L542 125.7 L546.4 132.3 L550.3 138.9 L553.5 145.5 L556.3 152.1 L558.5 158.7 L560.2 165.4 L561.4 172 L562.1 178.6 L562.3 185.2 L562.1 191.8 L561.4 198.4 L560.2 205 L558.5 211.7 L556.3 218.3 L553.5 224.9 L550.3 231.5 L546.4 238.1 L542 244.7 L536.9 251.3 L531.1 258 L524.5 264.6 L517 271.2 L508.5 277.8 L498.9 284.4 L487.7 291 L474.8 297.7 L459.2 304.3Z" fill="none" stroke="#222" stroke-width="1"/>
<linearGradient id="g4" x1="0" y1="0" x2="0" y2="1"><stop offset="0.000" stop-color="#ff0000"/><stop offset="0.050" stop-color="#ff2814"/><stop offset="0.100" stop-color="#ff4f28"/><stop offset="0.150" stop-color="#ff743c"/><stop offset="0.200" stop-color="#ff964f"/><stop offset="0.250" stop-color="#ffb462"/><stop offset="0.300" stop-color="#e5ce74"/><stop offset="0.350" stop-color="#cce385"/><stop offset="0.400" stop-color="#b2f396"/><stop offset="0.450" stop-color="#99fca6"/><stop offset="0.500" stop-color="#80ffb4"/><stop offset="0.550" stop-color="#66fcc2"/><stop offset="0.600" stop-color="#4df3ce"/><stop offset="0.650" stop-color="#33e3d9"/><stop offset="0.700" stop-color="#1acee3"/><stop offset="0.750" stop-color="#00b4ec"/><stop offset="0.800" stop-color="#1a96f3"/><stop offset="0.850" stop-color="#3374f8"/><stop offset="0.900" stop-color="#4d4ffc"/><stop offset="0.950" stop-color="#6628fe"/><stop offset="1.000" stop-color="#8000ff"/></linearGradient>
<rect x="599.6" y="77.5" width="12.8" height="216.8" fill="url(#g4)"/>
<path d="M599.6 77.5 L606 66 L612.4 77.5Z" fill="#ff0000"/>
<path d="M599.6 294.3 L606 305 L612.4 294.3Z" fill="#8000ff"/>
<path d="M599.6 77.5 L606 66 L612.4 77.5 L612.4 294.3 L606 305 L599.6 294.3Z" fill="none" stroke="#444" stroke-width="0.7"/>
<line x1="612.4" x2="616.2" y1="294.3" y2="294.3" stroke="#333" stroke-width="0.9"/>
<text x="619.2" y="299.3" font-size="14.2" textLength="9.6" lengthAdjust="spacingAndGlyphs" fill="#222">0</text>
<line x1="612.4" x2="616.2" y1="250.9" y2="250.9" stroke="#333" stroke-width="0.9"/>
<text x="619.2" y="255.9" font-size="14.2" textLength="9.6" lengthAdjust="spacingAndGlyphs" fill="#222">2</text>
<line x1="612.4" x2="616.2" y1="207.6" y2="207.6" stroke="#333" stroke-width="0.9"/>
<text x="619.2" y="212.6" font-size="14.2" textLength="9.6" lengthAdjust="spacingAndGlyphs" fill="#222">4</text>
<line x1="612.4" x2="616.2" y1="164.2" y2="164.2" stroke="#333" stroke-width="0.9"/>
<text x="619.2" y="169.2" font-size="14.2" textLength="9.6" lengthAdjust="spacingAndGlyphs" fill="#222">6</text>
<line x1="612.4" x2="616.2" y1="120.9" y2="120.9" stroke="#333" stroke-width="0.9"/>
<text x="619.2" y="125.9" font-size="14.2" textLength="9.6" lengthAdjust="spacingAndGlyphs" fill="#222">8</text>
<line x1="612.4" x2="616.2" y1="77.5" y2="77.5" stroke="#333" stroke-width="0.9"/>
<text x="619.2" y="82.5" font-size="14.2" textLength="19.2" lengthAdjust="spacingAndGlyphs" fill="#222">10</text>
<text transform="translate(657 185.5) rotate(-90)" font-size="16" text-anchor="middle" fill="#222" textLength="103" lengthAdjust="spacingAndGlyphs">×10<tspan font-size="10" dy="-6">3</tspan><tspan dy="6"> counts</tspan></text>
</g>
<text x="63.5" y="184.1" font-size="24" text-anchor="middle" textLength="92.8" lengthAdjust="spacingAndGlyphs" font-weight="bold" transform="rotate(-90 63.5 184.1)" fill="#000">CSES-01</text>
<text x="64" y="647.7" font-size="24" text-anchor="middle" textLength="97.8" lengthAdjust="spacingAndGlyphs" font-weight="bold" transform="rotate(-90 64 647.7)" fill="#000">Swarm B</text>
<line x1="7.6" y1="418.7" x2="1298.2" y2="410.4" stroke="#000" stroke-width="2.8" stroke-linecap="round"/>
</svg>
</body></html>
